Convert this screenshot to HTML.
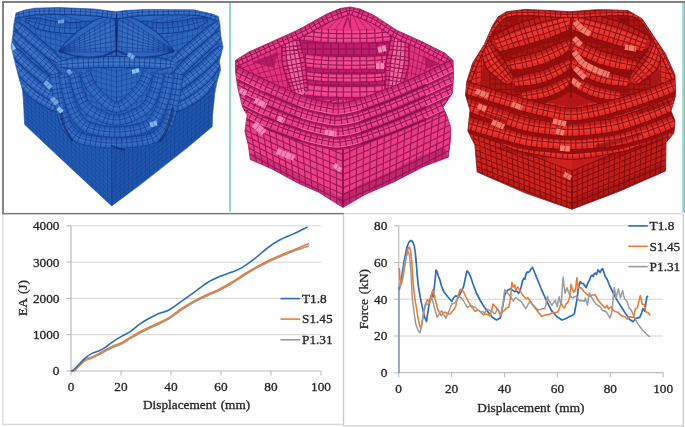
<!DOCTYPE html>
<html><head><meta charset="utf-8"><title>Figure</title>
<style>
html,body{margin:0;padding:0;background:#fff;}
body{width:685px;height:427px;overflow:hidden;}
svg{display:block;font-family:"Liberation Serif",serif;}
</style></head><body>
<svg width="685" height="427" viewBox="0 0 685 427">
<defs>
<filter id="soft" x="-5%" y="-5%" width="110%" height="110%"><feGaussianBlur stdDeviation="0.6"/></filter>
<filter id="softc" x="-2%" y="-2%" width="104%" height="104%"><feGaussianBlur stdDeviation="0.4"/></filter>
</defs>
<clipPath id="cb"><polygon points="16.0,13.0 25.0,10.0 35.0,8.2 58.5,7.5 93.7,9.0 110.0,11.0 116.4,11.7 125.0,10.5 146.8,9.4 193.7,9.8 212.4,14.0 218.3,16.4 220.0,25.0 220.6,35.0 223.0,47.0 219.4,61.0 220.6,70.0 217.0,82.0 214.8,93.7 212.5,115.0 212.2,126.7 187.0,148.0 140.0,185.0 111.7,205.9 82.0,178.4 46.8,145.6 24.6,124.5 23.4,100.0 22.5,90.0 18.7,77.0 15.2,63.0 11.2,47.0 12.9,35.0 14.0,23.4"/></clipPath>
<g clip-path="url(#cb)" filter="url(#soft)">
<polygon points="16.0,13.0 25.0,10.0 35.0,8.2 58.5,7.5 93.7,9.0 110.0,11.0 116.4,11.7 125.0,10.5 146.8,9.4 193.7,9.8 212.4,14.0 218.3,16.4 220.0,25.0 220.6,35.0 223.0,47.0 219.4,61.0 220.6,70.0 217.0,82.0 214.8,93.7 212.5,115.0 212.2,126.7 187.0,148.0 140.0,185.0 111.7,205.9 82.0,178.4 46.8,145.6 24.6,124.5 23.4,100.0 22.5,90.0 18.7,77.0 15.2,63.0 11.2,47.0 12.9,35.0 14.0,23.4" fill="#2d66bc"/>
<path d="M5.0 0.0L5.0 130.0M10.1 1.4L10.1 131.4M15.1 2.7L15.1 132.7M20.2 4.1L20.2 134.1M25.3 5.5L25.3 135.5M30.3 6.8L30.3 136.8M35.4 8.2L35.4 138.2M40.5 9.5L40.5 139.5M45.5 10.9L45.5 140.9M50.6 12.3L50.6 142.3M55.7 13.6L55.7 143.6M60.8 15.0L60.8 145.0M65.8 16.4L65.8 146.4M70.9 17.7L70.9 147.7M76.0 19.1L76.0 149.1M81.0 20.5L81.0 150.5M86.1 21.8L86.1 151.8M91.2 23.2L91.2 153.2M96.2 24.5L96.2 154.5M101.3 25.9L101.3 155.9M106.4 27.3L106.4 157.3M111.4 28.6L111.4 158.6M116.5 30.0L116.5 160.0M5.0 0.0L116.5 30.0M5.0 5.2L116.5 35.2M5.0 10.4L116.5 40.4M5.0 15.6L116.5 45.6M5.0 20.8L116.5 50.8M5.0 26.0L116.5 56.0M5.0 31.2L116.5 61.2M5.0 36.4L116.5 66.4M5.0 41.6L116.5 71.6M5.0 46.8L116.5 76.8M5.0 52.0L116.5 82.0M5.0 57.2L116.5 87.2M5.0 62.4L116.5 92.4M5.0 67.6L116.5 97.6M5.0 72.8L116.5 102.8M5.0 78.0L116.5 108.0M5.0 83.2L116.5 113.2M5.0 88.4L116.5 118.4M5.0 93.6L116.5 123.6M5.0 98.8L116.5 128.8M5.0 104.0L116.5 134.0M5.0 109.2L116.5 139.2M5.0 114.4L116.5 144.4M5.0 119.6L116.5 149.6M5.0 124.8L116.5 154.8M5.0 130.0L116.5 160.0" fill="none" stroke="#0c2f86" stroke-width="0.8" opacity="0.4"/>
<path d="M116.5 30.0L116.5 160.0M121.6 28.6L121.6 158.6M126.6 27.3L126.6 157.3M131.7 25.9L131.7 155.9M136.8 24.5L136.8 154.5M141.8 23.2L141.8 153.2M146.9 21.8L146.9 151.8M152.0 20.5L152.0 150.5M157.0 19.1L157.0 149.1M162.1 17.7L162.1 147.7M167.2 16.4L167.2 146.4M172.2 15.0L172.2 145.0M177.3 13.6L177.3 143.6M182.4 12.3L182.4 142.3M187.5 10.9L187.5 140.9M192.5 9.5L192.5 139.5M197.6 8.2L197.6 138.2M202.7 6.8L202.7 136.8M207.7 5.5L207.7 135.5M212.8 4.1L212.8 134.1M217.9 2.7L217.9 132.7M222.9 1.4L222.9 131.4M228.0 0.0L228.0 130.0M116.5 30.0L228.0 0.0M116.5 35.2L228.0 5.2M116.5 40.4L228.0 10.4M116.5 45.6L228.0 15.6M116.5 50.8L228.0 20.8M116.5 56.0L228.0 26.0M116.5 61.2L228.0 31.2M116.5 66.4L228.0 36.4M116.5 71.6L228.0 41.6M116.5 76.8L228.0 46.8M116.5 82.0L228.0 52.0M116.5 87.2L228.0 57.2M116.5 92.4L228.0 62.4M116.5 97.6L228.0 67.6M116.5 102.8L228.0 72.8M116.5 108.0L228.0 78.0M116.5 113.2L228.0 83.2M116.5 118.4L228.0 88.4M116.5 123.6L228.0 93.6M116.5 128.8L228.0 98.8M116.5 134.0L228.0 104.0M116.5 139.2L228.0 109.2M116.5 144.4L228.0 114.4M116.5 149.6L228.0 119.6M116.5 154.8L228.0 124.8M116.5 160.0L228.0 130.0" fill="none" stroke="#0c2f86" stroke-width="0.8" opacity="0.4"/>
<polygon points="21.0,86.0 24.6,124.5 111.7,205.9 111.7,143.0" fill="#235cb2"/>
<polygon points="111.7,143.0 111.7,205.9 212.2,126.7 215.0,86.0" fill="#1f57ab"/>
<path d="M22.0 68.0L24.6 124.5M26.1 71.7L28.6 128.2M30.2 75.5L32.5 131.9M34.2 79.2L36.5 135.6M38.3 82.9L40.4 139.3M42.4 86.6L44.4 143.0M46.5 90.4L48.4 146.7M50.5 94.1L52.3 150.4M54.6 97.8L56.3 154.1M58.7 101.5L60.2 157.8M62.8 105.3L64.2 161.5M66.8 109.0L68.2 165.2M70.9 112.7L72.1 168.9M75.0 116.5L76.1 172.6M79.1 120.2L80.0 176.3M83.2 123.9L84.0 180.0M87.2 127.6L87.9 183.7M91.3 131.4L91.9 187.4M95.4 135.1L95.9 191.1M99.5 138.8L99.8 194.8M103.5 142.5L103.8 198.5M107.6 146.3L107.7 202.2M111.7 150.0L111.7 205.9M22.0 68.0L111.7 150.0M22.2 72.3L111.7 154.3M22.4 76.7L111.7 158.6M22.6 81.0L111.7 162.9M22.8 85.4L111.7 167.2M23.0 89.7L111.7 171.5M23.2 94.1L111.7 175.8M23.4 98.4L111.7 180.1M23.6 102.8L111.7 184.4M23.8 107.1L111.7 188.7M24.0 111.5L111.7 193.0M24.2 115.8L111.7 197.3M24.4 120.2L111.7 201.6M24.6 124.5L111.7 205.9" fill="none" stroke="#0c2f86" stroke-width="0.8" opacity="0.36"/>
<path d="M111.7 150.0L111.7 205.9M116.0 146.5L115.9 202.6M120.2 143.0L120.1 199.3M124.5 139.5L124.3 196.0M128.8 136.0L128.4 192.7M133.0 132.5L132.6 189.4M137.3 129.0L136.8 186.1M141.5 125.5L141.0 182.8M145.8 122.0L145.2 179.5M150.1 118.5L149.4 176.2M154.3 115.0L153.6 172.9M158.6 111.5L157.8 169.6M162.8 108.0L161.9 166.3M167.1 104.5L166.1 163.0M171.4 101.0L170.3 159.7M175.6 97.5L174.5 156.4M179.9 94.0L178.7 153.1M184.2 90.5L182.9 149.8M188.4 87.0L187.1 146.5M192.7 83.5L191.3 143.2M196.9 80.0L195.4 139.9M201.2 76.5L199.6 136.6M205.5 73.0L203.8 133.3M209.7 69.5L208.0 130.0M214.0 66.0L212.2 126.7M111.7 150.0L214.0 66.0M111.7 154.3L213.9 70.7M111.7 158.6L213.7 75.3M111.7 162.9L213.6 80.0M111.7 167.2L213.4 84.7M111.7 171.5L213.3 89.3M111.7 175.8L213.2 94.0M111.7 180.1L213.0 98.7M111.7 184.4L212.9 103.4M111.7 188.7L212.8 108.0M111.7 193.0L212.6 112.7M111.7 197.3L212.5 117.4M111.7 201.6L212.3 122.0M111.7 205.9L212.2 126.7" fill="none" stroke="#0c2f86" stroke-width="0.8" opacity="0.4"/>
<polygon points="17.8,82.1 18.4,82.9 19.0,83.9 19.8,85.1 20.7,86.4 21.7,87.9 22.8,89.5 23.9,91.1 25.1,92.6 26.6,94.1 28.0,95.4 29.4,96.7 30.9,97.9 32.4,99.1 33.9,100.2 35.5,101.3 37.1,102.3 38.6,103.3 40.2,104.2 41.7,105.1 43.3,105.9 44.7,106.8 46.2,107.6 47.6,108.4 49.4,109.4 51.2,110.3 53.3,110.9 55.3,111.5 57.1,112.1 58.9,112.6 60.4,113.0 61.7,113.4 62.7,113.7 65.3,108.3 64.4,107.7 63.3,106.9 62.0,106.0 60.6,105.0 59.0,103.9 57.4,102.7 55.8,101.5 54.1,100.5 52.4,99.6 51.1,98.9 49.6,98.1 48.2,97.2 46.7,96.4 45.3,95.6 43.9,94.7 42.4,93.8 41.0,92.9 39.7,92.0 38.4,91.1 37.1,90.1 36.0,89.2 34.8,88.1 33.5,86.9 32.2,85.6 30.7,84.4 29.2,83.3 27.8,82.2 26.4,81.1 25.1,80.2 24.0,79.3 23.0,78.5 22.2,77.9" fill="#2d66bc" stroke="#153f98" stroke-width="1.1" stroke-linejoin="round"/>
<polyline points="21.5,81.6 22.5,82.6 23.6,83.8 24.7,85.0 26.0,86.4 27.3,87.7 28.7,89.1 30.0,90.5 31.4,91.7 32.7,92.9 34.0,94.0 35.4,95.1 36.8,96.1 38.3,97.1 39.8,98.1 41.3,99.0 42.7,99.9 44.2,100.8 45.7,101.6 47.2,102.4 48.6,103.2 50.0,104.0 51.7,104.9 53.5,105.9 55.3,106.8 57.1,107.7 58.8,108.5 60.4,109.3 61.9,110.0" fill="none" stroke="#4c82d0" stroke-width="5.0" stroke-linecap="round" opacity="0.55"/>
<polyline points="23.1,78.4 23.9,79.3 24.9,80.4 26.0,81.5 27.1,82.8 28.4,84.1 29.7,85.4 31.0,86.8 32.3,88.1 33.6,89.3 34.9,90.4 36.1,91.4 37.4,92.4 38.7,93.4 40.1,94.3 41.5,95.3 43.0,96.2 44.4,97.0 45.9,97.9 47.4,98.7 48.8,99.5 50.2,100.3 51.6,101.1 53.3,102.0 55.0,103.0 56.8,103.9 58.6,104.7 60.3,105.6 61.9,106.3 63.3,107.0 64.5,107.6" fill="none" stroke="#153f98" stroke-width="3.4" opacity="0.25"/>
<path d="M19.8 85.1L25.1 80.2M22.8 89.5L29.2 83.3M26.6 94.1L33.5 86.9M30.9 97.9L37.1 90.1M35.5 101.3L41.0 92.9M40.2 104.2L45.3 95.6M44.7 106.8L49.6 98.1M49.4 109.4L54.1 100.5M53.3 110.9L57.4 102.7M58.9 112.6L62.0 106.0M20.0 80.0L21.5 81.6L23.6 83.8L26.0 86.4L28.7 89.1L31.4 91.7L34.0 94.0L36.8 96.1L39.8 98.1L42.7 99.9L45.7 101.6L48.6 103.2L51.7 104.9L55.3 106.8L58.8 108.5L61.9 110.0L64.0 111.0L64.0 111.0" fill="none" stroke="#0c2f86" stroke-width="0.95" opacity="0.6"/>
<polygon points="210.8,77.9 210.0,78.5 209.0,79.3 207.9,80.2 206.6,81.1 205.2,82.2 203.8,83.3 202.3,84.4 200.8,85.6 199.5,86.9 198.2,88.1 197.0,89.2 195.9,90.1 194.6,91.1 193.3,92.0 192.0,92.9 190.6,93.8 189.1,94.7 187.7,95.6 186.3,96.4 184.8,97.2 183.4,98.1 181.9,98.9 180.6,99.6 178.9,100.5 177.2,101.5 175.6,102.7 174.0,103.9 172.4,105.0 171.0,106.0 169.7,106.9 168.6,107.7 167.7,108.3 170.3,113.7 171.3,113.4 172.6,113.0 174.1,112.6 175.9,112.1 177.7,111.5 179.7,110.9 181.8,110.3 183.6,109.4 185.4,108.4 186.8,107.6 188.3,106.8 189.7,105.9 191.3,105.1 192.8,104.2 194.4,103.3 195.9,102.3 197.5,101.3 199.1,100.2 200.6,99.1 202.1,97.9 203.6,96.7 205.0,95.4 206.4,94.1 207.9,92.6 209.1,91.1 210.2,89.5 211.3,87.9 212.3,86.4 213.2,85.1 214.0,83.9 214.6,82.9 215.2,82.1" fill="#2d66bc" stroke="#153f98" stroke-width="1.1" stroke-linejoin="round"/>
<polyline points="211.5,81.6 210.5,82.6 209.4,83.8 208.3,85.0 207.0,86.4 205.7,87.7 204.3,89.1 203.0,90.5 201.6,91.7 200.3,92.9 199.0,94.0 197.6,95.1 196.2,96.1 194.7,97.1 193.2,98.1 191.7,99.0 190.3,99.9 188.8,100.8 187.3,101.6 185.8,102.4 184.4,103.2 183.0,104.0 181.3,104.9 179.5,105.9 177.7,106.8 175.9,107.7 174.2,108.5 172.6,109.3 171.1,110.0" fill="none" stroke="#4c82d0" stroke-width="5.0" stroke-linecap="round" opacity="0.55"/>
<polyline points="209.9,78.4 209.1,79.3 208.1,80.4 207.0,81.5 205.9,82.8 204.6,84.1 203.3,85.4 202.0,86.8 200.7,88.1 199.4,89.3 198.1,90.4 196.9,91.4 195.6,92.4 194.3,93.4 192.9,94.3 191.5,95.3 190.0,96.2 188.6,97.0 187.1,97.9 185.6,98.7 184.2,99.5 182.8,100.3 181.4,101.1 179.7,102.0 178.0,103.0 176.2,103.9 174.4,104.7 172.7,105.6 171.1,106.3 169.7,107.0 168.5,107.6" fill="none" stroke="#153f98" stroke-width="3.4" opacity="0.25"/>
<path d="M207.9 80.2L213.2 85.1M203.8 83.3L210.2 89.5M199.5 86.9L206.4 94.1M195.9 90.1L202.1 97.9M192.0 92.9L197.5 101.3M187.7 95.6L192.8 104.2M183.4 98.1L188.3 106.8M178.9 100.5L183.6 109.4M175.6 102.7L179.7 110.9M171.0 106.0L174.1 112.6M213.0 80.0L211.5 81.6L209.4 83.8L207.0 86.4L204.3 89.1L201.6 91.7L199.0 94.0L196.2 96.1L193.2 98.1L190.3 99.9L187.3 101.6L184.4 103.2L181.3 104.9L177.7 106.8L174.2 108.5L171.1 110.0L169.0 111.0L169.0 111.0" fill="none" stroke="#0c2f86" stroke-width="0.95" opacity="0.6"/>
<polygon points="12.8,66.0 13.3,66.8 14.0,67.9 14.7,69.1 15.6,70.4 16.5,71.9 17.5,73.5 18.6,75.2 19.8,76.8 21.2,78.3 22.6,79.7 24.0,81.1 25.3,82.5 26.6,83.7 28.0,84.9 29.4,86.1 30.8,87.2 32.2,88.3 33.6,89.4 35.0,90.5 36.4,91.5 37.8,92.5 39.1,93.4 40.5,94.4 41.9,95.3 43.3,96.2 44.9,97.2 46.6,98.2 48.3,99.3 50.2,100.1 52.0,100.7 53.8,101.4 55.5,101.9 57.1,102.5 58.5,102.9 59.6,103.3 60.6,103.6 63.4,98.4 62.7,97.8 61.6,97.0 60.5,96.1 59.2,95.1 57.8,94.0 56.3,92.9 54.8,91.7 53.3,90.6 51.7,89.6 50.2,88.7 48.7,87.8 47.4,87.0 46.1,86.1 44.8,85.2 43.5,84.3 42.2,83.4 40.9,82.4 39.6,81.5 38.3,80.5 37.1,79.5 35.8,78.4 34.6,77.4 33.4,76.3 32.2,75.2 31.0,74.1 29.8,72.8 28.5,71.4 27.1,70.0 25.7,68.7 24.2,67.6 22.7,66.4 21.4,65.3 20.1,64.3 19.0,63.4 18.0,62.6 17.2,62.0" fill="#2d66bc" stroke="#153f98" stroke-width="1.1" stroke-linejoin="round"/>
<polyline points="16.5,65.6 17.4,66.7 18.5,67.9 19.6,69.2 20.9,70.5 22.1,72.0 23.5,73.4 24.8,74.8 26.2,76.3 27.5,77.6 28.8,78.9 30.0,80.0 31.3,81.1 32.6,82.3 33.9,83.4 35.3,84.4 36.6,85.4 37.9,86.4 39.3,87.4 40.6,88.4 42.0,89.3 43.3,90.2 44.7,91.1 46.0,92.0 47.5,93.0 49.1,93.9 50.8,94.9 52.5,95.9 54.2,96.8 55.8,97.7 57.4,98.5 58.8,99.3 60.1,100.0" fill="none" stroke="#4c82d0" stroke-width="5.0" stroke-linecap="round" opacity="0.55"/>
<polyline points="18.1,62.5 18.9,63.4 19.9,64.5 20.9,65.7 22.1,67.0 23.3,68.3 24.6,69.7 25.9,71.2 27.2,72.6 28.5,74.0 29.8,75.3 31.1,76.5 32.2,77.6 33.5,78.7 34.7,79.7 36.0,80.8 37.3,81.8 38.6,82.8 39.9,83.8 41.2,84.7 42.5,85.7 43.8,86.6 45.2,87.5 46.5,88.4 47.8,89.2 49.3,90.2 50.8,91.1 52.4,92.1 54.1,93.0 55.8,93.9 57.4,94.8 58.9,95.6 60.3,96.4 61.6,97.0 62.7,97.6" fill="none" stroke="#153f98" stroke-width="3.4" opacity="0.25"/>
<path d="M14.7 69.1L20.1 64.3M17.5 73.5L24.2 67.6M21.2 78.3L28.5 71.4M25.3 82.5L32.2 75.2M29.4 86.1L35.8 78.4M33.6 89.4L39.6 81.5M37.8 92.5L43.5 84.3M41.9 95.3L47.4 87.0M46.6 98.2L51.7 89.6M52.0 100.7L56.3 92.9M57.1 102.5L60.5 96.1M15.0 64.0L16.5 65.6L18.5 67.9L20.9 70.5L23.5 73.4L26.2 76.3L28.8 78.9L31.3 81.1L33.9 83.4L36.6 85.4L39.3 87.4L42.0 89.3L44.7 91.1L47.5 93.0L50.8 94.9L54.2 96.8L57.4 98.5L60.1 100.0L62.0 101.0L62.0 101.0" fill="none" stroke="#0c2f86" stroke-width="0.95" opacity="0.6"/>
<polygon points="215.8,62.0 215.0,62.6 214.0,63.4 212.9,64.3 211.6,65.3 210.3,66.4 208.8,67.6 207.3,68.7 205.9,70.0 204.5,71.4 203.2,72.8 202.0,74.1 200.8,75.2 199.6,76.3 198.4,77.4 197.2,78.4 195.9,79.5 194.7,80.5 193.4,81.5 192.1,82.4 190.8,83.4 189.5,84.3 188.2,85.2 186.9,86.1 185.6,87.0 184.3,87.8 182.8,88.7 181.3,89.6 179.7,90.6 178.2,91.7 176.7,92.9 175.2,94.0 173.8,95.1 172.5,96.1 171.4,97.0 170.3,97.8 169.6,98.4 172.4,103.6 173.4,103.3 174.5,102.9 175.9,102.5 177.5,101.9 179.2,101.4 181.0,100.7 182.8,100.1 184.7,99.3 186.4,98.2 188.1,97.2 189.7,96.2 191.1,95.3 192.5,94.4 193.9,93.4 195.2,92.5 196.6,91.5 198.0,90.5 199.4,89.4 200.8,88.3 202.2,87.2 203.6,86.1 205.0,84.9 206.4,83.7 207.7,82.5 209.0,81.1 210.4,79.7 211.8,78.3 213.2,76.8 214.4,75.2 215.5,73.5 216.5,71.9 217.4,70.4 218.3,69.1 219.0,67.9 219.7,66.8 220.2,66.0" fill="#2d66bc" stroke="#153f98" stroke-width="1.1" stroke-linejoin="round"/>
<polyline points="216.5,65.6 215.6,66.7 214.5,67.9 213.4,69.2 212.1,70.5 210.9,72.0 209.5,73.4 208.2,74.8 206.8,76.3 205.5,77.6 204.2,78.9 203.0,80.0 201.7,81.1 200.4,82.3 199.1,83.4 197.7,84.4 196.4,85.4 195.1,86.4 193.7,87.4 192.4,88.4 191.0,89.3 189.7,90.2 188.3,91.1 187.0,92.0 185.5,93.0 183.9,93.9 182.2,94.9 180.5,95.9 178.8,96.8 177.2,97.7 175.6,98.5 174.2,99.3 172.9,100.0" fill="none" stroke="#4c82d0" stroke-width="5.0" stroke-linecap="round" opacity="0.55"/>
<polyline points="214.9,62.5 214.1,63.4 213.1,64.5 212.1,65.7 210.9,67.0 209.7,68.3 208.4,69.7 207.1,71.2 205.8,72.6 204.5,74.0 203.2,75.3 201.9,76.5 200.8,77.6 199.5,78.7 198.3,79.7 197.0,80.8 195.7,81.8 194.4,82.8 193.1,83.8 191.8,84.7 190.5,85.7 189.2,86.6 187.8,87.5 186.5,88.4 185.2,89.2 183.7,90.2 182.2,91.1 180.6,92.1 178.9,93.0 177.2,93.9 175.6,94.8 174.1,95.6 172.7,96.4 171.4,97.0 170.3,97.6" fill="none" stroke="#153f98" stroke-width="3.4" opacity="0.25"/>
<path d="M212.9 64.3L218.3 69.1M208.8 67.6L215.5 73.5M204.5 71.4L211.8 78.3M200.8 75.2L207.7 82.5M197.2 78.4L203.6 86.1M193.4 81.5L199.4 89.4M189.5 84.3L195.2 92.5M185.6 87.0L191.1 95.3M181.3 89.6L186.4 98.2M176.7 92.9L181.0 100.7M172.5 96.1L175.9 102.5M218.0 64.0L216.5 65.6L214.5 67.9L212.1 70.5L209.5 73.4L206.8 76.3L204.2 78.9L201.7 81.1L199.1 83.4L196.4 85.4L193.7 87.4L191.0 89.3L188.3 91.1L185.5 93.0L182.2 94.9L178.8 96.8L175.6 98.5L172.9 100.0L171.0 101.0L171.0 101.0" fill="none" stroke="#0c2f86" stroke-width="0.95" opacity="0.6"/>
<polygon points="8.9,50.1 9.4,50.9 10.0,51.8 10.8,52.9 11.6,54.1 12.6,55.5 13.6,56.9 14.6,58.4 15.7,59.9 17.0,61.3 18.4,62.7 19.7,64.0 21.1,65.3 22.4,66.5 23.6,67.7 25.0,68.9 26.3,70.1 27.6,71.2 29.0,72.4 30.3,73.5 31.7,74.6 33.0,75.7 34.4,76.8 35.7,77.8 37.0,78.9 38.3,79.9 39.6,80.9 40.9,81.9 42.4,83.1 43.9,84.2 45.4,85.4 47.0,86.6 48.7,87.6 50.4,88.4 52.1,89.3 53.6,90.1 55.0,90.8 56.3,91.4 57.3,92.0 58.2,92.4 61.8,87.6 61.1,86.9 60.3,86.0 59.3,85.0 58.2,83.9 57.0,82.6 55.7,81.3 54.4,79.9 53.0,78.6 51.5,77.4 49.9,76.3 48.5,75.2 47.1,74.1 45.8,73.1 44.5,72.0 43.2,71.0 41.9,70.0 40.6,68.9 39.3,67.9 38.0,66.8 36.7,65.8 35.4,64.7 34.1,63.6 32.9,62.5 31.6,61.4 30.4,60.3 29.2,59.2 28.0,58.1 26.7,56.8 25.4,55.6 24.1,54.2 22.8,53.0 21.3,51.9 19.8,50.8 18.4,49.8 17.1,48.8 15.9,47.9 14.8,47.1 13.9,46.4 13.1,45.9" fill="#2d66bc" stroke="#153f98" stroke-width="1.1" stroke-linejoin="round"/>
<polyline points="12.4,49.5 13.4,50.4 14.4,51.5 15.5,52.6 16.7,53.8 17.9,55.1 19.2,56.4 20.6,57.8 21.9,59.1 23.2,60.4 24.5,61.7 25.8,62.9 27.0,64.0 28.3,65.1 29.6,66.3 30.9,67.4 32.2,68.5 33.5,69.6 34.8,70.7 36.2,71.8 37.5,72.9 38.8,73.9 40.1,74.9 41.4,76.0 42.7,77.0 44.0,78.0 45.4,79.1 46.9,80.3 48.4,81.4 50.0,82.6 51.5,83.7 53.1,84.9 54.5,86.0 55.9,87.0 57.1,87.9 58.3,88.7" fill="none" stroke="#4c82d0" stroke-width="5.0" stroke-linecap="round" opacity="0.55"/>
<polyline points="14.0,46.3 14.8,47.2 15.7,48.1 16.7,49.2 17.9,50.3 19.0,51.5 20.3,52.8 21.6,54.1 22.9,55.4 24.2,56.8 25.5,58.1 26.8,59.3 28.0,60.5 29.2,61.6 30.5,62.7 31.7,63.8 33.0,64.9 34.3,66.0 35.6,67.1 36.9,68.2 38.2,69.2 39.6,70.3 40.9,71.3 42.2,72.4 43.5,73.4 44.8,74.4 46.0,75.4 47.4,76.5 48.9,77.6 50.4,78.8 52.0,80.0 53.5,81.1 55.0,82.2 56.5,83.3 57.8,84.3 59.1,85.2 60.2,86.1 61.2,86.8" fill="none" stroke="#153f98" stroke-width="3.4" opacity="0.25"/>
<path d="M10.8 52.9L15.9 47.9M14.6 58.4L21.3 51.9M17.0 61.3L24.1 54.2M21.1 65.3L28.0 58.1M25.0 68.9L31.6 61.4M29.0 72.4L35.4 64.7M33.0 75.7L39.3 67.9M37.0 78.9L43.2 71.0M42.4 83.1L48.5 75.2M45.4 85.4L51.5 77.4M50.4 88.4L55.7 81.3M55.0 90.8L59.3 85.0M11.0 48.0L12.4 49.5L14.4 51.5L16.7 53.8L19.2 56.4L21.9 59.1L24.5 61.7L27.0 64.0L29.6 66.3L32.2 68.5L34.8 70.7L37.5 72.9L40.1 74.9L42.7 77.0L45.4 79.1L48.4 81.4L51.5 83.7L54.5 86.0L57.1 87.9L59.2 89.4L60.0 90.0" fill="none" stroke="#0c2f86" stroke-width="0.95" opacity="0.6"/>
<polygon points="219.9,45.9 219.1,46.4 218.2,47.1 217.1,47.9 215.9,48.8 214.6,49.8 213.2,50.8 211.7,51.9 210.2,53.0 208.9,54.2 207.6,55.6 206.3,56.8 205.0,58.1 203.8,59.2 202.6,60.3 201.4,61.4 200.1,62.5 198.9,63.6 197.6,64.7 196.3,65.8 195.0,66.8 193.7,67.9 192.4,68.9 191.1,70.0 189.8,71.0 188.5,72.0 187.2,73.1 185.9,74.1 184.5,75.2 183.1,76.3 181.5,77.4 180.0,78.6 178.6,79.9 177.3,81.3 176.0,82.6 174.8,83.9 173.7,85.0 172.7,86.0 171.9,86.9 171.2,87.6 174.8,92.4 175.7,92.0 176.7,91.4 178.0,90.8 179.4,90.1 180.9,89.3 182.6,88.4 184.3,87.6 186.0,86.6 187.6,85.4 189.1,84.2 190.6,83.1 192.1,81.9 193.4,80.9 194.7,79.9 196.0,78.9 197.3,77.8 198.6,76.8 200.0,75.7 201.3,74.6 202.7,73.5 204.0,72.4 205.4,71.2 206.7,70.1 208.0,68.9 209.4,67.7 210.6,66.5 211.9,65.3 213.3,64.0 214.6,62.7 216.0,61.3 217.3,59.9 218.4,58.4 219.4,56.9 220.4,55.5 221.4,54.1 222.2,52.9 223.0,51.8 223.6,50.9 224.1,50.1" fill="#2d66bc" stroke="#153f98" stroke-width="1.1" stroke-linejoin="round"/>
<polyline points="220.6,49.5 219.6,50.4 218.6,51.5 217.5,52.6 216.3,53.8 215.1,55.1 213.8,56.4 212.4,57.8 211.1,59.1 209.8,60.4 208.5,61.7 207.2,62.9 206.0,64.0 204.7,65.1 203.4,66.3 202.1,67.4 200.8,68.5 199.5,69.6 198.2,70.7 196.8,71.8 195.5,72.9 194.2,73.9 192.9,74.9 191.6,76.0 190.3,77.0 189.0,78.0 187.6,79.1 186.1,80.3 184.6,81.4 183.0,82.6 181.5,83.7 179.9,84.9 178.5,86.0 177.1,87.0 175.9,87.9 174.7,88.7" fill="none" stroke="#4c82d0" stroke-width="5.0" stroke-linecap="round" opacity="0.55"/>
<polyline points="219.0,46.3 218.2,47.2 217.3,48.1 216.3,49.2 215.1,50.3 214.0,51.5 212.7,52.8 211.4,54.1 210.1,55.4 208.8,56.8 207.5,58.1 206.2,59.3 205.0,60.5 203.8,61.6 202.5,62.7 201.3,63.8 200.0,64.9 198.7,66.0 197.4,67.1 196.1,68.2 194.8,69.2 193.4,70.3 192.1,71.3 190.8,72.4 189.5,73.4 188.2,74.4 187.0,75.4 185.6,76.5 184.1,77.6 182.6,78.8 181.0,80.0 179.5,81.1 178.0,82.2 176.5,83.3 175.2,84.3 173.9,85.2 172.8,86.1 171.8,86.8" fill="none" stroke="#153f98" stroke-width="3.4" opacity="0.25"/>
<path d="M217.1 47.9L222.2 52.9M211.7 51.9L218.4 58.4M208.9 54.2L216.0 61.3M205.0 58.1L211.9 65.3M201.4 61.4L208.0 68.9M197.6 64.7L204.0 72.4M193.7 67.9L200.0 75.7M189.8 71.0L196.0 78.9M184.5 75.2L190.6 83.1M181.5 77.4L187.6 85.4M177.3 81.3L182.6 88.4M173.7 85.0L178.0 90.8M222.0 48.0L220.6 49.5L218.6 51.5L216.3 53.8L213.8 56.4L211.1 59.1L208.5 61.7L206.0 64.0L203.4 66.3L200.8 68.5L198.2 70.7L195.5 72.9L192.9 74.9L190.3 77.0L187.6 79.1L184.6 81.4L181.5 83.7L178.5 86.0L175.9 87.9L173.8 89.4L173.0 90.0" fill="none" stroke="#0c2f86" stroke-width="0.95" opacity="0.6"/>
<polygon points="10.0,35.2 10.6,36.0 11.3,36.8 12.1,37.9 13.1,39.0 14.1,40.2 15.1,41.5 16.3,42.9 17.4,44.4 18.8,45.6 20.2,46.9 21.5,48.1 22.9,49.3 24.2,50.5 25.5,51.6 26.6,52.7 27.9,53.9 29.2,55.1 30.5,56.2 31.7,57.4 33.0,58.5 34.2,59.7 35.4,60.8 36.7,62.0 37.8,63.1 39.0,64.2 40.2,65.4 41.4,66.5 42.5,67.6 43.8,68.8 45.1,70.1 46.4,71.4 47.8,72.8 49.3,74.0 50.9,75.1 52.3,76.1 53.7,77.1 55.0,78.0 56.1,78.8 57.1,79.6 57.9,80.1 62.1,75.9 61.6,75.1 60.9,74.1 60.1,73.0 59.2,71.7 58.2,70.3 57.1,68.8 56.0,67.3 54.9,65.7 53.5,64.4 52.1,63.0 50.8,61.7 49.5,60.4 48.3,59.3 47.1,58.1 45.9,57.0 44.7,55.9 43.5,54.7 42.3,53.6 41.0,52.4 39.8,51.2 38.5,50.1 37.3,48.9 36.0,47.7 34.7,46.5 33.4,45.3 32.2,44.2 30.9,43.1 29.6,41.9 28.2,40.7 26.8,39.4 25.4,38.2 24.0,37.0 22.4,36.0 20.9,35.0 19.4,34.1 18.1,33.3 16.8,32.5 15.7,31.8 14.8,31.2 14.0,30.8" fill="#2d66bc" stroke="#153f98" stroke-width="1.1" stroke-linejoin="round"/>
<polyline points="13.5,34.3 14.5,35.2 15.6,36.1 16.7,37.2 18.0,38.3 19.3,39.5 20.7,40.7 22.1,41.9 23.5,43.1 24.9,44.4 26.2,45.6 27.6,46.8 28.8,47.9 30.0,49.0 31.3,50.2 32.6,51.4 33.9,52.6 35.1,53.7 36.4,54.9 37.6,56.0 38.9,57.2 40.1,58.3 41.3,59.5 42.5,60.6 43.7,61.8 44.8,62.9 46.0,64.0 47.3,65.2 48.6,66.6 50.0,67.9 51.3,69.3 52.7,70.6 54.0,71.9 55.3,73.2 56.4,74.4 57.5,75.5 58.5,76.5" fill="none" stroke="#4c82d0" stroke-width="5.0" stroke-linecap="round" opacity="0.55"/>
<polyline points="14.9,31.1 15.7,31.9 16.7,32.7 17.7,33.7 18.9,34.7 20.2,35.8 21.5,37.0 22.9,38.2 24.3,39.4 25.7,40.7 27.1,41.9 28.4,43.1 29.8,44.3 31.0,45.5 32.2,46.6 33.5,47.8 34.8,48.9 36.1,50.1 37.4,51.3 38.6,52.5 39.9,53.6 41.1,54.8 42.3,55.9 43.6,57.1 44.8,58.2 46.0,59.4 47.1,60.5 48.3,61.6 49.6,62.9 50.9,64.2 52.3,65.6 53.7,66.9 55.0,68.3 56.3,69.6 57.6,70.9 58.8,72.1 59.9,73.2 60.8,74.2 61.7,75.0" fill="none" stroke="#153f98" stroke-width="3.4" opacity="0.25"/>
<path d="M12.1 37.9L16.8 32.5M16.3 42.9L22.4 36.0M20.2 46.9L26.8 39.4M22.9 49.3L29.6 41.9M26.6 52.7L33.4 45.3M30.5 56.2L37.3 48.9M34.2 59.7L41.0 52.4M39.0 64.2L45.9 57.0M42.5 67.6L49.5 60.4M46.4 71.4L53.5 64.4M49.3 74.0L56.0 67.3M53.7 77.1L59.2 71.7M12.0 33.0L13.5 34.3L15.6 36.1L18.0 38.3L20.7 40.7L23.5 43.1L26.2 45.6L28.8 47.9L31.3 50.2L33.9 52.6L36.4 54.9L38.9 57.2L41.3 59.5L43.7 61.8L46.0 64.0L48.6 66.6L51.3 69.3L54.0 71.9L56.4 74.4L58.5 76.5L60.0 78.0L60.0 78.0" fill="none" stroke="#0c2f86" stroke-width="0.95" opacity="0.6"/>
<polygon points="219.0,30.8 218.2,31.2 217.3,31.8 216.2,32.5 214.9,33.3 213.6,34.1 212.1,35.0 210.6,36.0 209.0,37.0 207.6,38.2 206.2,39.4 204.8,40.7 203.4,41.9 202.1,43.1 200.8,44.2 199.6,45.3 198.3,46.5 197.0,47.7 195.7,48.9 194.5,50.1 193.2,51.2 192.0,52.4 190.7,53.6 189.5,54.7 188.3,55.9 187.1,57.0 185.9,58.1 184.7,59.3 183.5,60.4 182.2,61.7 180.9,63.0 179.5,64.4 178.1,65.7 177.0,67.3 175.9,68.8 174.8,70.3 173.8,71.7 172.9,73.0 172.1,74.1 171.4,75.1 170.9,75.9 175.1,80.1 175.9,79.6 176.9,78.8 178.0,78.0 179.3,77.1 180.7,76.1 182.1,75.1 183.7,74.0 185.2,72.8 186.6,71.4 187.9,70.1 189.2,68.8 190.5,67.6 191.6,66.5 192.8,65.4 194.0,64.2 195.2,63.1 196.3,62.0 197.6,60.8 198.8,59.7 200.0,58.5 201.3,57.4 202.5,56.2 203.8,55.1 205.1,53.9 206.4,52.7 207.5,51.6 208.8,50.5 210.1,49.3 211.5,48.1 212.8,46.9 214.2,45.6 215.6,44.4 216.7,42.9 217.9,41.5 218.9,40.2 219.9,39.0 220.9,37.9 221.7,36.8 222.4,36.0 223.0,35.2" fill="#2d66bc" stroke="#153f98" stroke-width="1.1" stroke-linejoin="round"/>
<polyline points="219.5,34.3 218.5,35.2 217.4,36.1 216.3,37.2 215.0,38.3 213.7,39.5 212.3,40.7 210.9,41.9 209.5,43.1 208.1,44.4 206.8,45.6 205.4,46.8 204.2,47.9 203.0,49.0 201.7,50.2 200.4,51.4 199.1,52.6 197.9,53.7 196.6,54.9 195.4,56.0 194.1,57.2 192.9,58.3 191.7,59.5 190.5,60.6 189.3,61.8 188.2,62.9 187.0,64.0 185.7,65.2 184.4,66.6 183.0,67.9 181.7,69.3 180.3,70.6 179.0,71.9 177.7,73.2 176.6,74.4 175.5,75.5 174.5,76.5" fill="none" stroke="#4c82d0" stroke-width="5.0" stroke-linecap="round" opacity="0.55"/>
<polyline points="218.1,31.1 217.3,31.9 216.3,32.7 215.3,33.7 214.1,34.7 212.8,35.8 211.5,37.0 210.1,38.2 208.7,39.4 207.3,40.7 205.9,41.9 204.6,43.1 203.2,44.3 202.0,45.5 200.8,46.6 199.5,47.8 198.2,48.9 196.9,50.1 195.6,51.3 194.4,52.5 193.1,53.6 191.9,54.8 190.7,55.9 189.4,57.1 188.2,58.2 187.0,59.4 185.9,60.5 184.7,61.6 183.4,62.9 182.1,64.2 180.7,65.6 179.3,66.9 178.0,68.3 176.7,69.6 175.4,70.9 174.2,72.1 173.1,73.2 172.2,74.2 171.3,75.0" fill="none" stroke="#153f98" stroke-width="3.4" opacity="0.25"/>
<path d="M216.2 32.5L220.9 37.9M210.6 36.0L216.7 42.9M206.2 39.4L212.8 46.9M203.4 41.9L210.1 49.3M199.6 45.3L206.4 52.7M195.7 48.9L202.5 56.2M192.0 52.4L198.8 59.7M187.1 57.0L194.0 64.2M183.5 60.4L190.5 67.6M179.5 64.4L186.6 71.4M177.0 67.3L183.7 74.0M173.8 71.7L179.3 77.1M221.0 33.0L219.5 34.3L217.4 36.1L215.0 38.3L212.3 40.7L209.5 43.1L206.8 45.6L204.2 47.9L201.7 50.2L199.1 52.6L196.6 54.9L194.1 57.2L191.7 59.5L189.3 61.8L187.0 64.0L184.4 66.6L181.7 69.3L179.0 71.9L176.6 74.4L174.5 76.5L173.0 78.0L173.0 78.0" fill="none" stroke="#0c2f86" stroke-width="0.95" opacity="0.6"/>
<polygon points="49.8,74.8 49.9,75.7 50.1,76.7 50.3,78.0 50.4,79.4 50.6,81.0 50.9,82.6 51.1,84.4 51.4,86.2 51.6,88.1 51.9,90.0 52.2,92.0 52.5,93.9 52.8,95.8 53.2,97.6 53.5,99.4 53.9,101.1 54.2,102.8 54.6,104.5 55.0,106.3 55.4,108.0 55.8,109.8 56.2,111.5 56.7,113.3 57.2,115.0 57.7,116.8 58.2,118.5 58.7,120.1 59.3,121.8 59.9,123.4 60.6,124.9 61.3,126.4 62.3,128.2 63.4,130.0 64.5,131.6 65.6,133.2 66.8,134.6 68.1,136.0 69.5,137.3 70.9,138.4 72.3,139.6 73.8,140.6 75.4,141.6 77.1,142.5 79.0,143.3 80.8,143.9 82.6,144.5 84.5,144.9 86.3,145.3 88.1,145.6 89.9,145.9 91.7,146.2 93.5,146.4 95.2,146.7 96.9,146.9 98.6,147.2 100.4,147.4 102.1,147.6 103.9,147.7 105.7,147.9 107.5,148.0 109.3,148.1 111.1,148.2 112.9,148.2 114.7,148.2 116.5,148.2 118.3,148.2 120.1,148.2 121.9,148.2 123.7,148.1 125.5,148.0 127.3,147.9 129.1,147.7 130.9,147.6 132.6,147.4 134.4,147.2 136.1,146.9 137.8,146.7 139.5,146.4 141.3,146.2 143.1,145.9 144.9,145.6 146.7,145.3 148.5,144.9 150.4,144.5 152.2,143.9 154.0,143.3 155.9,142.5 157.6,141.6 159.2,140.6 160.7,139.6 162.1,138.4 163.5,137.3 164.9,136.0 166.2,134.6 167.4,133.2 168.5,131.6 169.6,130.0 170.7,128.2 171.7,126.4 172.4,124.9 173.1,123.4 173.7,121.8 174.3,120.1 174.8,118.5 175.3,116.8 175.8,115.0 176.3,113.3 176.8,111.5 177.2,109.8 177.6,108.0 178.0,106.3 178.4,104.5 178.8,102.8 179.1,101.1 179.5,99.4 179.8,97.6 180.2,95.8 180.5,93.9 180.8,92.0 181.1,90.0 181.4,88.1 181.6,86.2 181.9,84.4 182.1,82.6 182.4,81.0 182.6,79.4 182.7,78.0 182.9,76.7 183.1,75.7 183.2,74.8 172.8,73.2 172.7,74.2 172.5,75.3 172.3,76.6 172.1,78.0 171.9,79.6 171.7,81.2 171.5,83.0 171.2,84.8 171.0,86.6 170.7,88.5 170.4,90.3 170.1,92.2 169.8,94.0 169.5,95.7 169.2,97.3 168.9,98.9 168.5,100.6 168.1,102.2 167.8,103.9 167.4,105.6 167.0,107.3 166.6,109.0 166.1,110.6 165.7,112.2 165.3,113.8 164.8,115.3 164.3,116.7 163.9,118.1 163.4,119.4 162.8,120.5 162.3,121.6 161.6,123.0 160.8,124.3 160.0,125.5 159.1,126.6 158.3,127.7 157.4,128.6 156.5,129.5 155.5,130.3 154.5,131.0 153.5,131.8 152.4,132.4 151.3,133.0 150.2,133.5 149.0,133.9 147.6,134.3 146.2,134.7 144.7,135.0 143.1,135.3 141.4,135.5 139.7,135.8 138.0,136.0 136.2,136.3 134.7,136.5 133.1,136.7 131.5,136.9 129.8,137.1 128.2,137.3 126.5,137.4 124.9,137.5 123.2,137.6 121.5,137.7 119.8,137.7 118.2,137.7 116.5,137.8 114.8,137.7 113.2,137.7 111.5,137.7 109.8,137.6 108.1,137.5 106.5,137.4 104.8,137.3 103.2,137.1 101.5,136.9 99.9,136.7 98.3,136.5 96.8,136.3 95.0,136.0 93.3,135.8 91.6,135.5 89.9,135.3 88.3,135.0 86.8,134.7 85.4,134.3 84.0,133.9 82.8,133.5 81.7,133.0 80.6,132.4 79.5,131.8 78.5,131.0 77.5,130.3 76.5,129.5 75.6,128.6 74.7,127.7 73.9,126.6 73.0,125.5 72.2,124.3 71.4,123.0 70.7,121.6 70.2,120.5 69.6,119.4 69.1,118.1 68.7,116.7 68.2,115.3 67.7,113.8 67.3,112.2 66.9,110.6 66.4,109.0 66.0,107.3 65.6,105.6 65.2,103.9 64.9,102.2 64.5,100.6 64.1,98.9 63.8,97.3 63.5,95.7 63.2,94.0 62.9,92.2 62.6,90.3 62.3,88.5 62.0,86.6 61.8,84.8 61.5,83.0 61.3,81.2 61.1,79.6 60.9,78.0 60.7,76.6 60.5,75.3 60.3,74.2 60.2,73.2" fill="#2d66bc" stroke="#153f98" stroke-width="0.8" stroke-linejoin="round"/>
<polyline points="55.3,76.0 55.5,77.3 55.6,78.7 55.9,80.3 56.1,81.9 56.3,83.7 56.6,85.5 56.8,87.4 57.1,89.3 57.4,91.1 57.7,93.0 58.0,94.9 58.3,96.7 58.7,98.4 59.0,100.0 59.4,101.7 59.7,103.4 60.1,105.1 60.5,106.8 60.9,108.6 61.3,110.3 61.8,112.0 62.2,113.6 62.7,115.3 63.2,116.9 63.7,118.4 64.2,119.9 64.8,121.4 65.4,122.7 66.0,124.0 66.9,125.6 67.8,127.1 68.7,128.6 69.7,129.9 70.8,131.1 71.9,132.3 73.0,133.4 74.2,134.4 75.4,135.3 76.7,136.2 78.0,137.0 79.4,137.7 80.9,138.4 82.4,138.9 84.0,139.4 85.6,139.8 87.3,140.1 89.0,140.4 90.7,140.7 92.5,141.0 94.2,141.2 96.0,141.5 97.6,141.7 99.3,142.0 100.9,142.2 102.6,142.3 104.4,142.5 106.1,142.6 107.8,142.7 109.6,142.8 111.3,142.9 113.1,143.0 114.8,143.0 116.5,143.0 118.2,143.0 119.9,143.0 121.7,142.9 123.4,142.8 125.2,142.7 126.9,142.6 128.6,142.5 130.4,142.3 132.1,142.2 133.7,142.0 135.4,141.7 137.0,141.5 138.8,141.2 140.5,141.0 142.3,140.7 144.0,140.4 145.7,140.1 147.4,139.8 149.0,139.4 150.6,138.9 152.1,138.4 153.6,137.7 155.0,137.0 156.3,136.2 157.6,135.3 158.8,134.4 160.0,133.4 161.1,132.3 162.2,131.1 163.3,129.9 164.3,128.6 165.2,127.1 166.1,125.6 167.0,124.0 167.6,122.7 168.2,121.4 168.8,119.9 169.3,118.4 169.8,116.9 170.3,115.3 170.8,113.6 171.2,112.0 171.7,110.3 172.1,108.6 172.5,106.8 172.9,105.1 173.3,103.4 173.6,101.7 174.0,100.0 174.3,98.4 174.7,96.7 175.0,94.9 175.3,93.0 175.6,91.1 175.9,89.3 176.2,87.4 176.4,85.5 176.7,83.7 176.9,81.9 177.1,80.3 177.4,78.7 177.5,77.3 177.7,76.0" fill="none" stroke="#4c82d0" stroke-width="5.2" stroke-linecap="round" opacity="0.3"/>
<polyline points="58.6,74.4 58.7,75.6 58.9,76.8 59.1,78.3 59.3,79.8 59.5,81.5 59.7,83.2 60.0,85.0 60.3,86.9 60.5,88.7 60.8,90.6 61.1,92.5 61.4,94.3 61.7,96.0 62.1,97.7 62.4,99.3 62.8,100.9 63.1,102.6 63.5,104.3 63.9,106.0 64.3,107.7 64.7,109.4 65.1,111.1 65.6,112.7 66.0,114.3 66.5,115.8 67.0,117.3 67.5,118.7 68.0,120.0 68.5,121.3 69.1,122.4 69.9,123.9 70.7,125.3 71.6,126.6 72.5,127.7 73.4,128.8 74.3,129.8 75.3,130.8 76.3,131.7 77.4,132.5 78.6,133.3 79.7,134.0 80.9,134.6 82.1,135.2 83.5,135.6 84.9,136.0 86.4,136.4 88.0,136.7 89.6,137.0 91.3,137.3 93.0,137.6 94.8,137.8 96.5,138.1 98.1,138.3 99.7,138.5 101.3,138.7 103.0,138.9 104.7,139.0 106.3,139.2 108.0,139.3 109.7,139.4 111.4,139.4 113.1,139.5 114.8,139.5 116.5,139.5 118.2,139.5 119.9,139.5 121.6,139.4 123.3,139.4 125.0,139.3 126.7,139.2 128.3,139.0 130.0,138.9 131.7,138.7 133.3,138.5 134.9,138.3 136.5,138.1 138.2,137.8 140.0,137.6 141.7,137.3 143.4,137.0 145.0,136.7 146.6,136.4 148.1,136.0 149.5,135.6 150.9,135.2 152.1,134.6 153.3,134.0 154.4,133.3 155.6,132.5 156.7,131.7 157.7,130.8 158.7,129.8 159.6,128.8 160.5,127.7 161.4,126.6 162.3,125.3 163.1,123.9 163.9,122.4 164.5,121.3 165.0,120.0 165.5,118.7 166.0,117.3 166.5,115.8 167.0,114.3 167.4,112.7 167.9,111.1 168.3,109.4 168.7,107.7 169.1,106.0 169.5,104.3 169.9,102.6 170.2,100.9 170.6,99.3 170.9,97.7 171.3,96.0 171.6,94.3 171.9,92.5 172.2,90.6 172.5,88.7 172.7,86.9 173.0,85.0 173.3,83.2 173.5,81.5 173.7,79.8 173.9,78.3 174.1,76.8 174.3,75.6 174.4,74.4" fill="none" stroke="#153f98" stroke-width="3.6" opacity="0.18"/>
<path d="M50.3 78.0L60.7 76.6M51.1 84.4L61.5 83.0M51.9 90.0L62.3 88.5M52.5 93.9L62.9 92.2M53.5 99.4L63.8 97.3M54.6 104.5L64.9 102.2M55.8 109.8L66.0 107.3M57.2 115.0L67.3 112.2M58.7 120.1L68.7 116.7M60.6 124.9L70.2 120.5M64.5 131.6L73.0 125.5M68.1 136.0L75.6 128.6M72.3 139.6L78.5 131.0M77.1 142.5L81.7 133.0M84.5 144.9L86.8 134.7M89.9 145.9L91.6 135.5M95.2 146.7L96.8 136.3M100.4 147.4L101.5 136.9M105.7 147.9L106.5 137.4M111.1 148.2L111.5 137.7M116.5 148.2L116.5 137.8M121.9 148.2L121.5 137.7M127.3 147.9L126.5 137.4M132.6 147.4L131.5 136.9M137.8 146.7L136.2 136.3M143.1 145.9L141.4 135.5M148.5 144.9L146.2 134.7M154.0 143.3L150.2 133.5M159.2 140.6L153.5 131.8M163.5 137.3L156.5 129.5M168.5 131.6L160.0 125.5M171.7 126.4L162.3 121.6M173.7 121.8L163.9 118.1M175.3 116.8L165.3 113.8M176.8 111.5L166.6 109.0M178.0 106.3L167.8 103.9M179.1 101.1L168.9 98.9M180.2 95.8L169.8 94.0M181.1 90.0L170.7 88.5M181.9 84.4L171.5 83.0M182.6 79.4L172.1 78.0M55.0 74.0L55.3 76.0L55.6 78.7L56.1 81.9L56.6 85.5L57.1 89.3L57.7 93.0L58.3 96.7L59.0 100.0L59.7 103.4L60.5 106.8L61.3 110.3L62.2 113.6L63.2 116.9L64.2 119.9L65.4 122.7L66.9 125.6L68.7 128.6L70.8 131.1L73.0 133.4L75.4 135.3L78.0 137.0L80.9 138.4L84.0 139.4L87.3 140.1L90.7 140.7L94.2 141.2L97.6 141.7L100.9 142.2L104.4 142.5L107.8 142.7L111.3 142.9L114.8 143.0L118.2 143.0L121.7 142.9L125.2 142.7L128.6 142.5L132.1 142.2L135.4 141.7L138.8 141.2L142.3 140.7L145.7 140.1L149.0 139.4L152.1 138.4L155.0 137.0L157.6 135.3L160.0 133.4L162.2 131.1L164.3 128.6L166.1 125.6L167.6 122.7L168.8 119.9L169.8 116.9L170.8 113.6L171.7 110.3L172.5 106.8L173.3 103.4L174.0 100.0L174.7 96.7L175.3 93.0L175.9 89.3L176.4 85.5L176.9 81.9L177.4 78.7L177.7 76.0L178.0 74.0L178.0 74.0" fill="none" stroke="#0c2f86" stroke-width="0.95" opacity="0.6"/>
<polygon points="58.9,75.0 59.0,75.9 59.2,77.0 59.5,78.3 59.7,79.7 60.0,81.3 60.3,83.1 60.7,84.9 61.0,86.7 61.4,88.6 61.8,90.6 62.2,92.5 62.6,94.3 63.1,96.1 63.5,97.9 64.0,99.5 64.5,101.3 65.1,103.2 65.7,105.0 66.3,106.7 67.0,108.5 67.6,110.3 68.3,112.0 69.1,113.7 69.9,115.3 70.8,116.9 71.7,118.5 72.7,120.0 73.8,121.6 74.9,123.1 76.1,124.5 77.4,125.9 78.8,127.3 80.4,128.6 82.1,129.9 83.9,131.0 85.9,132.0 88.1,132.9 89.6,133.4 91.2,133.9 92.8,134.4 94.5,134.8 96.2,135.2 98.0,135.5 99.8,135.8 101.6,136.1 103.5,136.4 105.4,136.6 107.3,136.8 109.2,137.0 111.0,137.1 112.9,137.2 114.7,137.2 116.5,137.2 118.3,137.2 120.1,137.2 122.0,137.1 123.8,137.0 125.7,136.8 127.6,136.6 129.5,136.4 131.4,136.1 133.2,135.8 135.0,135.5 136.8,135.2 138.5,134.8 140.2,134.4 141.8,133.9 143.4,133.4 144.9,132.9 147.1,132.0 149.1,131.0 150.9,129.9 152.6,128.6 154.2,127.3 155.6,125.9 156.9,124.5 158.1,123.1 159.2,121.6 160.3,120.0 161.3,118.5 162.2,116.9 163.1,115.3 163.9,113.7 164.7,112.0 165.4,110.3 166.0,108.5 166.7,106.7 167.3,105.0 167.9,103.2 168.5,101.3 169.0,99.5 169.5,97.9 169.9,96.1 170.4,94.3 170.8,92.5 171.2,90.6 171.6,88.6 172.0,86.7 172.3,84.9 172.7,83.1 173.0,81.3 173.3,79.7 173.5,78.3 173.8,77.0 174.0,75.9 174.1,75.0 163.9,73.0 163.7,73.9 163.4,75.1 163.2,76.4 162.9,77.9 162.6,79.5 162.3,81.2 162.0,82.9 161.7,84.7 161.3,86.6 160.9,88.4 160.6,90.2 160.2,91.9 159.8,93.6 159.4,95.1 159.0,96.5 158.4,98.2 157.9,99.9 157.4,101.6 156.8,103.3 156.2,104.8 155.6,106.4 155.0,107.8 154.4,109.2 153.7,110.5 153.1,111.8 152.4,112.9 151.7,114.0 150.7,115.4 149.8,116.6 148.9,117.7 148.0,118.7 147.1,119.6 146.2,120.3 145.2,121.1 144.0,121.8 142.7,122.4 141.1,123.1 140.1,123.5 138.8,123.9 137.5,124.2 136.1,124.6 134.6,124.9 133.1,125.2 131.5,125.5 129.8,125.7 128.2,126.0 126.5,126.2 124.7,126.3 123.0,126.5 121.4,126.6 119.7,126.7 118.1,126.7 116.5,126.8 114.9,126.7 113.3,126.7 111.6,126.6 110.0,126.5 108.3,126.3 106.5,126.2 104.8,126.0 103.2,125.7 101.5,125.5 99.9,125.2 98.4,124.9 96.9,124.6 95.5,124.2 94.2,123.9 92.9,123.5 91.9,123.1 90.3,122.4 89.0,121.8 87.8,121.1 86.8,120.3 85.9,119.6 85.0,118.7 84.1,117.7 83.2,116.6 82.3,115.4 81.3,114.0 80.6,112.9 79.9,111.8 79.3,110.5 78.6,109.2 78.0,107.8 77.4,106.4 76.8,104.8 76.2,103.3 75.6,101.6 75.1,99.9 74.6,98.2 74.0,96.5 73.6,95.1 73.2,93.6 72.8,91.9 72.4,90.2 72.1,88.4 71.7,86.6 71.3,84.7 71.0,82.9 70.7,81.2 70.4,79.5 70.1,77.9 69.8,76.4 69.6,75.1 69.3,73.9 69.1,73.0" fill="#2d66bc" stroke="#153f98" stroke-width="0.8" stroke-linejoin="round"/>
<polyline points="64.4,76.0 64.6,77.3 64.9,78.8 65.2,80.4 65.5,82.1 65.8,83.9 66.2,85.7 66.5,87.6 66.9,89.5 67.3,91.3 67.7,93.1 68.1,94.9 68.6,96.5 69.0,98.0 69.5,99.8 70.1,101.5 70.7,103.3 71.3,105.0 71.9,106.7 72.5,108.3 73.2,109.9 73.9,111.4 74.6,112.9 75.3,114.4 76.1,115.7 77.0,117.0 78.0,118.5 79.1,119.8 80.1,121.1 81.2,122.3 82.3,123.4 83.6,124.5 85.0,125.5 86.5,126.4 88.1,127.2 90.0,128.0 91.3,128.5 92.7,128.9 94.1,129.3 95.7,129.7 97.3,130.0 98.9,130.4 100.7,130.7 102.4,130.9 104.2,131.2 106.0,131.4 107.8,131.6 109.6,131.7 111.3,131.8 113.1,131.9 114.8,132.0 116.5,132.0 118.2,132.0 119.9,131.9 121.7,131.8 123.4,131.7 125.2,131.6 127.0,131.4 128.8,131.2 130.6,130.9 132.3,130.7 134.1,130.4 135.7,130.0 137.3,129.7 138.9,129.3 140.3,128.9 141.7,128.5 143.0,128.0 144.9,127.2 146.5,126.4 148.0,125.5 149.4,124.5 150.7,123.4 151.8,122.3 152.9,121.1 153.9,119.8 155.0,118.5 156.0,117.0 156.9,115.7 157.7,114.4 158.4,112.9 159.1,111.4 159.8,109.9 160.5,108.3 161.1,106.7 161.7,105.0 162.3,103.3 162.9,101.5 163.5,99.8 164.0,98.0 164.4,96.5 164.9,94.9 165.3,93.1 165.7,91.3 166.1,89.5 166.5,87.6 166.8,85.7 167.2,83.9 167.5,82.1 167.8,80.4 168.1,78.8 168.4,77.3 168.6,76.0" fill="none" stroke="#4c82d0" stroke-width="5.2" stroke-linecap="round" opacity="0.3"/>
<polyline points="67.6,74.3 67.8,75.4 68.0,76.7 68.3,78.2 68.6,79.8 68.9,81.5 69.2,83.3 69.6,85.1 69.9,86.9 70.3,88.8 70.7,90.6 71.1,92.3 71.5,94.0 71.9,95.6 72.3,97.0 72.9,98.8 73.4,100.5 74.0,102.2 74.5,103.8 75.1,105.5 75.7,107.0 76.3,108.5 77.0,110.0 77.7,111.3 78.4,112.7 79.1,113.9 79.9,115.0 80.8,116.4 81.8,117.7 82.7,118.9 83.7,119.9 84.7,120.9 85.7,121.8 86.9,122.6 88.1,123.3 89.6,124.1 91.3,124.8 92.4,125.2 93.6,125.6 95.0,125.9 96.5,126.3 98.0,126.6 99.6,127.0 101.2,127.2 102.9,127.5 104.6,127.7 106.3,127.9 108.1,128.1 109.8,128.3 111.5,128.4 113.2,128.5 114.9,128.5 116.5,128.5 118.1,128.5 119.8,128.5 121.5,128.4 123.2,128.3 124.9,128.1 126.7,127.9 128.4,127.7 130.1,127.5 131.8,127.2 133.4,127.0 135.0,126.6 136.5,126.3 138.0,125.9 139.4,125.6 140.6,125.2 141.7,124.8 143.4,124.1 144.9,123.3 146.1,122.6 147.3,121.8 148.3,120.9 149.3,119.9 150.3,118.9 151.2,117.7 152.2,116.4 153.1,115.0 153.9,113.9 154.6,112.7 155.3,111.3 156.0,110.0 156.7,108.5 157.3,107.0 157.9,105.5 158.5,103.8 159.0,102.2 159.6,100.5 160.1,98.8 160.7,97.0 161.1,95.6 161.5,94.0 161.9,92.3 162.3,90.6 162.7,88.8 163.1,86.9 163.4,85.1 163.8,83.3 164.1,81.5 164.4,79.8 164.7,78.2 165.0,76.7 165.2,75.4 165.4,74.3" fill="none" stroke="#153f98" stroke-width="3.6" opacity="0.18"/>
<path d="M59.5 78.3L69.8 76.4M60.7 84.9L71.0 82.9M61.4 88.6L71.7 86.6M62.6 94.3L72.8 91.9M64.0 99.5L74.0 96.5M65.7 105.0L75.6 101.6M67.6 110.3L77.4 106.4M69.9 115.3L79.3 110.5M72.7 120.0L81.3 114.0M76.1 124.5L84.1 117.7M80.4 128.6L86.8 120.3M85.9 132.0L90.3 122.4M92.8 134.4L95.5 124.2M98.0 135.5L99.9 125.2M103.5 136.4L104.8 126.0M109.2 137.0L110.0 126.5M114.7 137.2L114.9 126.7M120.1 137.2L119.7 126.7M125.7 136.8L124.7 126.3M131.4 136.1L129.8 125.7M135.0 135.5L133.1 125.2M141.8 133.9L138.8 123.9M147.1 132.0L142.7 122.4M152.6 128.6L146.2 120.3M156.9 124.5L148.9 117.7M160.3 120.0L151.7 114.0M163.1 115.3L153.7 110.5M165.4 110.3L155.6 106.4M167.3 105.0L157.4 101.6M169.0 99.5L159.0 96.5M170.4 94.3L160.2 91.9M171.6 88.6L161.3 86.6M172.7 83.1L162.3 81.2M173.5 78.3L163.2 76.4M64.0 74.0L64.4 76.0L64.9 78.8L65.5 82.1L66.2 85.7L66.9 89.5L67.7 93.1L68.6 96.5L69.5 99.8L70.7 103.3L71.9 106.7L73.2 109.9L74.6 112.9L76.1 115.7L78.0 118.5L80.1 121.1L82.3 123.4L85.0 125.5L88.1 127.2L91.3 128.5L94.1 129.3L97.3 130.0L100.7 130.7L104.2 131.2L107.8 131.6L111.3 131.8L114.8 132.0L118.2 132.0L121.7 131.8L125.2 131.6L128.8 131.2L132.3 130.7L135.7 130.0L138.9 129.3L141.7 128.5L144.9 127.2L148.0 125.5L150.7 123.4L152.9 121.1L155.0 118.5L156.9 115.7L158.4 112.9L159.8 109.9L161.1 106.7L162.3 103.3L163.5 99.8L164.4 96.5L165.3 93.1L166.1 89.5L166.8 85.7L167.5 82.1L168.1 78.8L168.6 76.0L169.0 74.0L169.0 74.0" fill="none" stroke="#0c2f86" stroke-width="0.95" opacity="0.6"/>
<polygon points="68.9,75.4 69.2,76.3 69.5,77.4 69.8,78.8 70.2,80.3 70.6,82.1 71.0,83.9 71.5,85.8 72.1,87.8 72.6,89.8 73.2,91.7 73.8,93.6 74.5,95.4 75.2,97.0 75.9,98.7 76.5,100.2 77.2,101.8 77.9,103.4 78.7,105.0 79.6,106.6 80.7,108.2 82.0,109.9 83.5,111.4 85.1,112.9 87.0,114.3 88.3,115.2 89.6,116.0 91.0,116.9 92.6,117.7 94.2,118.6 95.8,119.4 97.5,120.2 99.3,121.0 101.1,121.8 103.0,122.5 104.9,123.1 106.8,123.7 108.7,124.2 110.6,124.7 112.6,125.0 114.5,125.2 116.5,125.2 118.5,125.2 120.4,125.0 122.4,124.7 124.3,124.2 126.2,123.7 128.1,123.1 130.0,122.5 131.9,121.8 133.7,121.0 135.5,120.2 137.2,119.4 138.8,118.6 140.4,117.7 142.0,116.9 143.4,116.0 144.7,115.2 146.0,114.3 147.9,112.9 149.5,111.4 151.0,109.9 152.3,108.2 153.4,106.6 154.3,105.0 155.1,103.4 155.8,101.8 156.5,100.2 157.1,98.7 157.8,97.0 158.5,95.4 159.2,93.6 159.8,91.7 160.4,89.8 160.9,87.8 161.5,85.8 162.0,83.9 162.4,82.1 162.8,80.3 163.2,78.8 163.5,77.4 163.8,76.3 164.1,75.4 153.9,72.6 153.7,73.6 153.4,74.9 153.0,76.3 152.6,77.9 152.2,79.6 151.8,81.3 151.3,83.2 150.8,85.0 150.3,86.8 149.8,88.6 149.2,90.2 148.7,91.6 148.2,93.0 147.5,94.5 146.8,96.1 146.2,97.5 145.6,98.9 145.0,100.0 144.4,101.1 143.8,102.1 143.0,103.0 142.2,103.9 141.2,104.8 140.0,105.7 139.0,106.3 137.9,107.1 136.7,107.8 135.4,108.5 134.0,109.3 132.5,110.0 131.1,110.7 129.5,111.4 128.0,112.0 126.4,112.6 124.9,113.2 123.4,113.6 121.9,114.0 120.4,114.3 119.0,114.6 117.7,114.7 116.5,114.8 115.3,114.7 114.0,114.6 112.6,114.3 111.1,114.0 109.6,113.6 108.1,113.2 106.6,112.6 105.0,112.0 103.5,111.4 101.9,110.7 100.5,110.0 99.0,109.3 97.6,108.5 96.3,107.8 95.1,107.1 94.0,106.3 93.0,105.7 91.8,104.8 90.8,103.9 90.0,103.0 89.2,102.1 88.6,101.1 88.0,100.0 87.4,98.9 86.8,97.5 86.2,96.1 85.5,94.5 84.8,93.0 84.3,91.6 83.8,90.2 83.2,88.6 82.7,86.8 82.2,85.0 81.7,83.2 81.2,81.3 80.8,79.6 80.4,77.9 80.0,76.3 79.6,74.9 79.3,73.6 79.1,72.6" fill="#2d66bc" stroke="#153f98" stroke-width="0.8" stroke-linejoin="round"/>
<polyline points="74.6,76.1 74.9,77.5 75.3,79.1 75.7,80.8 76.1,82.6 76.6,84.5 77.1,86.4 77.7,88.3 78.2,90.1 78.8,91.9 79.4,93.5 80.0,95.0 80.7,96.6 81.4,98.2 82.0,99.7 82.6,101.1 83.3,102.5 84.1,103.9 85.0,105.2 86.0,106.4 87.1,107.7 88.5,108.8 90.0,110.0 91.1,110.8 92.4,111.5 93.7,112.3 95.1,113.1 96.6,113.9 98.1,114.7 99.7,115.5 101.4,116.2 103.1,116.9 104.8,117.6 106.5,118.1 108.2,118.7 109.9,119.1 111.6,119.5 113.3,119.8 114.9,119.9 116.5,120.0 118.1,119.9 119.7,119.8 121.4,119.5 123.1,119.1 124.8,118.7 126.5,118.1 128.2,117.6 129.9,116.9 131.6,116.2 133.3,115.5 134.9,114.7 136.4,113.9 137.9,113.1 139.3,112.3 140.6,111.5 141.9,110.8 143.0,110.0 144.5,108.8 145.9,107.7 147.0,106.4 148.0,105.2 148.9,103.9 149.7,102.5 150.4,101.1 151.0,99.7 151.6,98.2 152.3,96.6 153.0,95.0 153.6,93.5 154.2,91.9 154.8,90.1 155.3,88.3 155.9,86.4 156.4,84.5 156.9,82.6 157.3,80.8 157.7,79.1 158.1,77.5 158.4,76.1" fill="none" stroke="#4c82d0" stroke-width="5.2" stroke-linecap="round" opacity="0.3"/>
<polyline points="77.6,74.1 77.9,75.3 78.3,76.7 78.6,78.3 79.1,80.0 79.5,81.8 80.0,83.6 80.5,85.5 81.0,87.3 81.5,89.1 82.1,90.8 82.6,92.3 83.2,93.6 83.9,95.2 84.5,96.8 85.2,98.3 85.8,99.6 86.4,100.9 87.1,102.0 87.8,103.1 88.6,104.2 89.5,105.2 90.6,106.2 92.0,107.2 93.0,107.8 94.2,108.6 95.4,109.3 96.8,110.1 98.2,110.8 99.7,111.6 101.2,112.3 102.8,113.0 104.3,113.7 105.9,114.3 107.6,114.9 109.2,115.3 110.7,115.8 112.3,116.1 113.7,116.3 115.2,116.5 116.5,116.5 117.8,116.5 119.3,116.3 120.7,116.1 122.3,115.8 123.8,115.3 125.4,114.9 127.1,114.3 128.7,113.7 130.2,113.0 131.8,112.3 133.3,111.6 134.8,110.8 136.2,110.1 137.6,109.3 138.8,108.6 140.0,107.8 141.0,107.2 142.4,106.2 143.5,105.2 144.4,104.2 145.2,103.1 145.9,102.0 146.6,100.9 147.2,99.6 147.8,98.3 148.5,96.8 149.1,95.2 149.8,93.6 150.4,92.3 150.9,90.8 151.5,89.1 152.0,87.3 152.5,85.5 153.0,83.6 153.5,81.8 153.9,80.0 154.4,78.3 154.7,76.7 155.1,75.3 155.4,74.1" fill="none" stroke="#153f98" stroke-width="3.6" opacity="0.18"/>
<path d="M69.8 78.8L80.0 76.3M71.0 83.9L81.2 81.3M72.6 89.8L82.7 86.8M74.5 95.4L84.3 91.6M76.5 100.2L86.2 96.1M78.7 105.0L88.0 100.0M82.0 109.9L90.0 103.0M87.0 114.3L93.0 105.7M92.6 117.7L97.6 108.5M97.5 120.2L101.9 110.7M103.0 122.5L106.6 112.6M106.8 123.7L109.6 113.6M112.6 125.0L114.0 114.6M120.4 125.0L119.0 114.6M126.2 123.7L123.4 113.6M131.9 121.8L128.0 112.0M135.5 120.2L131.1 110.7M140.4 117.7L135.4 108.5M146.0 114.3L140.0 105.7M151.0 109.9L143.0 103.0M154.3 105.0L145.0 100.0M156.5 100.2L146.8 96.1M159.2 93.6L149.2 90.2M160.4 89.8L150.3 86.8M162.0 83.9L151.8 81.3M163.2 78.8L153.0 76.3M74.0 74.0L74.6 76.1L75.3 79.1L76.1 82.6L77.1 86.4L78.2 90.1L79.4 93.5L80.7 96.6L82.0 99.7L83.3 102.5L85.0 105.2L87.1 107.7L90.0 110.0L92.4 111.5L95.1 113.1L98.1 114.7L101.4 116.2L104.8 117.6L108.2 118.7L111.6 119.5L114.9 119.9L118.1 119.9L121.4 119.5L124.8 118.7L128.2 117.6L131.6 116.2L134.9 114.7L137.9 113.1L140.6 111.5L143.0 110.0L145.9 107.7L148.0 105.2L149.7 102.5L151.0 99.7L152.3 96.6L153.6 93.5L154.8 90.1L155.9 86.4L156.9 82.6L157.7 79.1L158.4 76.1L159.0 74.0L159.0 74.0" fill="none" stroke="#0c2f86" stroke-width="0.95" opacity="0.6"/>
<polygon points="80.3,75.3 80.6,76.0 81.0,76.8 81.4,78.0 82.0,79.4 82.6,80.9 83.3,82.6 84.1,84.3 85.0,86.2 86.1,88.0 87.3,89.9 88.6,91.8 90.1,93.5 91.1,94.6 92.2,95.8 93.3,97.0 94.6,98.3 95.9,99.7 97.2,101.1 98.7,102.5 100.2,103.9 101.7,105.2 103.3,106.6 105.0,107.8 106.7,108.9 108.4,110.0 110.3,110.9 112.2,111.6 114.3,112.1 116.5,112.2 118.7,112.1 120.8,111.6 122.7,110.9 124.6,110.0 126.3,108.9 128.0,107.8 129.7,106.6 131.3,105.2 132.8,103.9 134.3,102.5 135.8,101.1 137.1,99.7 138.4,98.3 139.7,97.0 140.8,95.8 141.9,94.6 142.9,93.5 144.4,91.8 145.7,89.9 146.9,88.0 148.0,86.2 148.9,84.3 149.7,82.6 150.4,80.9 151.0,79.4 151.6,78.0 152.0,76.8 152.4,76.0 152.7,75.3 143.3,70.7 142.8,71.7 142.3,72.9 141.8,74.1 141.3,75.5 140.7,76.9 140.1,78.3 139.4,79.8 138.7,81.2 137.9,82.7 137.0,84.0 136.1,85.3 135.1,86.5 134.2,87.5 133.1,88.7 132.0,89.9 130.8,91.1 129.6,92.4 128.4,93.6 127.1,94.9 125.8,96.1 124.5,97.2 123.2,98.3 121.9,99.2 120.7,100.0 119.6,100.7 118.6,101.2 117.7,101.5 117.0,101.7 116.5,101.8 116.0,101.7 115.3,101.5 114.4,101.2 113.4,100.7 112.3,100.0 111.1,99.2 109.8,98.3 108.5,97.2 107.2,96.1 105.9,94.9 104.6,93.6 103.4,92.4 102.2,91.1 101.0,89.9 99.9,88.7 98.8,87.5 97.9,86.5 96.9,85.3 96.0,84.0 95.1,82.7 94.3,81.2 93.6,79.8 92.9,78.3 92.3,76.9 91.7,75.5 91.2,74.1 90.7,72.9 90.2,71.7 89.7,70.7" fill="#2d66bc" stroke="#153f98" stroke-width="0.8" stroke-linejoin="round"/>
<polyline points="85.8,74.8 86.3,76.1 86.8,77.4 87.4,78.9 88.1,80.4 88.8,82.1 89.7,83.7 90.6,85.4 91.6,87.0 92.7,88.5 94.0,90.0 95.0,91.1 96.0,92.2 97.2,93.4 98.4,94.7 99.6,96.0 100.9,97.4 102.3,98.7 103.7,100.0 105.1,101.2 106.6,102.4 108.0,103.5 109.5,104.5 110.9,105.3 112.4,106.0 113.8,106.6 115.2,106.9 116.5,107.0 117.8,106.9 119.2,106.6 120.6,106.0 122.1,105.3 123.5,104.5 125.0,103.5 126.4,102.4 127.9,101.2 129.3,100.0 130.7,98.7 132.1,97.4 133.4,96.0 134.6,94.7 135.8,93.4 137.0,92.2 138.0,91.1 139.0,90.0 140.3,88.5 141.4,87.0 142.4,85.4 143.3,83.7 144.2,82.1 144.9,80.4 145.6,78.9 146.2,77.4 146.7,76.1 147.2,74.8" fill="none" stroke="#4c82d0" stroke-width="5.2" stroke-linecap="round" opacity="0.3"/>
<polyline points="88.6,72.4 89.0,73.5 89.5,74.8 90.1,76.1 90.6,77.5 91.3,79.0 92.0,80.6 92.7,82.1 93.6,83.6 94.5,85.0 95.5,86.4 96.6,87.7 97.5,88.7 98.6,89.9 99.7,91.1 100.9,92.3 102.1,93.6 103.4,94.9 104.7,96.2 106.0,97.4 107.4,98.6 108.7,99.7 110.0,100.7 111.3,101.6 112.6,102.3 113.7,102.8 114.8,103.2 115.7,103.5 116.5,103.5 117.3,103.5 118.2,103.2 119.3,102.8 120.4,102.3 121.7,101.6 123.0,100.7 124.3,99.7 125.6,98.6 127.0,97.4 128.3,96.2 129.6,94.9 130.9,93.6 132.1,92.3 133.3,91.1 134.4,89.9 135.5,88.7 136.4,87.7 137.5,86.4 138.5,85.0 139.4,83.6 140.3,82.1 141.0,80.6 141.7,79.0 142.4,77.5 142.9,76.1 143.5,74.8 144.0,73.5 144.4,72.4" fill="none" stroke="#153f98" stroke-width="3.6" opacity="0.18"/>
<path d="M81.4 78.0L91.2 74.1M84.1 84.3L93.6 79.8M86.1 88.0L95.1 82.7M90.1 93.5L97.9 86.5M93.3 97.0L101.0 89.9M97.2 101.1L104.6 93.6M101.7 105.2L108.5 97.2M106.7 108.9L112.3 100.0M112.2 111.6L115.3 101.5M120.8 111.6L117.7 101.5M126.3 108.9L120.7 100.0M131.3 105.2L124.5 97.2M135.8 101.1L128.4 93.6M139.7 97.0L132.0 89.9M142.9 93.5L135.1 86.5M146.9 88.0L137.9 82.7M148.9 84.3L139.4 79.8M151.0 79.4L141.3 75.5M85.0 73.0L85.8 74.8L86.8 77.4L88.1 80.4L89.7 83.7L91.6 87.0L94.0 90.0L96.0 92.2L98.4 94.7L100.9 97.4L103.7 100.0L106.6 102.4L109.5 104.5L112.4 106.0L115.2 106.9L117.8 106.9L120.6 106.0L123.5 104.5L126.4 102.4L129.3 100.0L132.1 97.4L134.6 94.7L137.0 92.2L139.0 90.0L141.4 87.0L143.3 83.7L144.9 80.4L146.2 77.4L147.2 74.8L148.0 73.0L148.0 73.0" fill="none" stroke="#0c2f86" stroke-width="0.95" opacity="0.6"/>
<polygon points="11.9,23.3 12.4,24.0 13.0,24.9 13.7,25.9 14.5,27.1 15.3,28.3 16.2,29.6 17.1,31.0 18.1,32.5 19.3,33.8 20.7,35.0 22.1,36.2 23.5,37.4 25.0,38.6 26.4,39.9 27.8,41.1 29.2,42.3 30.6,43.5 31.9,44.6 33.1,45.7 34.4,46.7 35.8,47.9 37.1,49.0 38.6,50.2 40.0,51.5 41.5,52.7 42.9,53.9 44.4,55.1 45.8,56.3 47.2,57.5 48.7,58.6 50.3,59.3 51.9,60.0 53.3,60.7 54.7,61.3 56.0,61.9 57.1,62.4 58.1,62.9 58.9,63.3 61.1,60.7 60.5,60.0 59.9,59.1 59.2,58.0 58.4,56.9 57.5,55.7 56.6,54.3 55.6,52.9 54.6,51.5 53.3,50.2 51.9,49.0 50.5,47.8 49.0,46.6 47.6,45.4 46.1,44.2 44.7,43.0 43.3,41.8 41.9,40.6 40.6,39.5 39.3,38.4 38.1,37.4 36.8,36.3 35.4,35.1 34.0,33.9 32.6,32.7 31.2,31.5 29.7,30.2 28.3,29.0 26.9,27.8 25.5,26.6 24.1,25.6 22.5,24.8 21.0,24.1 19.6,23.4 18.2,22.7 17.0,22.2 15.9,21.6 14.9,21.1 14.1,20.7" fill="#2d66bc" stroke="#153f98" stroke-width="1.1" stroke-linejoin="round"/>
<polyline points="14.5,23.3 15.4,24.0 16.4,24.9 17.4,25.8 18.6,26.9 19.8,27.9 21.1,29.0 22.4,30.2 23.8,31.4 25.2,32.6 26.6,33.8 28.1,35.0 29.5,36.3 30.9,37.5 32.3,38.7 33.7,39.9 35.0,41.0 36.2,42.0 37.5,43.1 38.8,44.2 40.2,45.4 41.6,46.6 43.1,47.8 44.5,49.0 46.0,50.3 47.4,51.5 48.9,52.7 50.3,53.9 51.7,55.0 53.0,56.1 54.2,57.2 55.4,58.2 56.6,59.1 57.6,60.0 58.5,60.7" fill="none" stroke="#4c82d0" stroke-width="4.8" stroke-linecap="round" opacity="0.55"/>
<polyline points="15.7,20.2 16.5,20.9 17.4,21.7 18.4,22.5 19.5,23.5 20.6,24.5 21.9,25.5 23.2,26.7 24.5,27.8 25.9,29.0 27.3,30.2 28.7,31.4 30.1,32.7 31.5,33.9 32.9,35.1 34.3,36.3 35.7,37.5 37.0,38.6 38.2,39.6 39.5,40.7 40.8,41.8 42.2,43.0 43.6,44.2 45.1,45.4 46.5,46.6 48.0,47.9 49.5,49.1 50.9,50.3 52.3,51.5 53.7,52.6 55.0,53.7 56.3,54.8 57.4,55.8 58.6,56.7 59.6,57.6 60.5,58.3 61.3,59.0" fill="none" stroke="#153f98" stroke-width="3.2" opacity="0.25"/>
<path d="M13.7 25.9L17.0 22.2M17.1 31.0L22.5 24.8M20.7 35.0L26.9 27.8M25.0 38.6L31.2 31.5M29.2 42.3L35.4 35.1M33.1 45.7L39.3 38.4M37.1 49.0L43.3 41.8M40.0 51.5L46.1 44.2M44.4 55.1L50.5 47.8M48.7 58.6L54.6 51.5M53.3 60.7L57.5 55.7M13.0 22.0L14.5 23.3L16.4 24.9L18.6 26.9L21.1 29.0L23.8 31.4L26.6 33.8L29.5 36.3L32.3 38.7L35.0 41.0L37.5 43.1L40.2 45.4L43.1 47.8L46.0 50.3L48.9 52.7L51.7 55.0L54.2 57.2L56.6 59.1L58.5 60.7L60.0 62.0L60.0 62.0" fill="none" stroke="#0c2f86" stroke-width="0.95" opacity="0.6"/>
<polygon points="218.9,20.7 218.1,21.1 217.1,21.6 216.0,22.2 214.8,22.7 213.4,23.4 212.0,24.1 210.5,24.8 208.9,25.6 207.5,26.6 206.1,27.8 204.7,29.0 203.3,30.2 201.8,31.5 200.4,32.7 199.0,33.9 197.6,35.1 196.2,36.3 194.9,37.4 193.7,38.4 192.4,39.5 191.1,40.6 189.7,41.8 188.3,43.0 186.9,44.2 185.4,45.4 184.0,46.6 182.5,47.8 181.1,49.0 179.7,50.2 178.4,51.5 177.4,52.9 176.4,54.3 175.5,55.7 174.6,56.9 173.8,58.0 173.1,59.1 172.5,60.0 171.9,60.7 174.1,63.3 174.9,62.9 175.9,62.4 177.0,61.9 178.3,61.3 179.7,60.7 181.1,60.0 182.7,59.3 184.3,58.6 185.8,57.5 187.2,56.3 188.6,55.1 190.1,53.9 191.5,52.7 193.0,51.5 194.4,50.2 195.9,49.0 197.2,47.9 198.6,46.7 199.9,45.7 201.1,44.6 202.4,43.5 203.8,42.3 205.2,41.1 206.6,39.9 208.0,38.6 209.5,37.4 210.9,36.2 212.3,35.0 213.7,33.8 214.9,32.5 215.9,31.0 216.8,29.6 217.7,28.3 218.5,27.1 219.3,25.9 220.0,24.9 220.6,24.0 221.1,23.3" fill="#2d66bc" stroke="#153f98" stroke-width="1.1" stroke-linejoin="round"/>
<polyline points="218.5,23.3 217.6,24.0 216.6,24.9 215.6,25.8 214.4,26.9 213.2,27.9 211.9,29.0 210.6,30.2 209.2,31.4 207.8,32.6 206.4,33.8 204.9,35.0 203.5,36.3 202.1,37.5 200.7,38.7 199.3,39.9 198.0,41.0 196.8,42.0 195.5,43.1 194.2,44.2 192.8,45.4 191.4,46.6 189.9,47.8 188.5,49.0 187.0,50.3 185.6,51.5 184.1,52.7 182.7,53.9 181.3,55.0 180.0,56.1 178.8,57.2 177.6,58.2 176.4,59.1 175.4,60.0 174.5,60.7" fill="none" stroke="#4c82d0" stroke-width="4.8" stroke-linecap="round" opacity="0.55"/>
<polyline points="217.3,20.2 216.5,20.9 215.6,21.7 214.6,22.5 213.5,23.5 212.4,24.5 211.1,25.5 209.8,26.7 208.5,27.8 207.1,29.0 205.7,30.2 204.3,31.4 202.9,32.7 201.5,33.9 200.1,35.1 198.7,36.3 197.3,37.5 196.0,38.6 194.8,39.6 193.5,40.7 192.2,41.8 190.8,43.0 189.4,44.2 187.9,45.4 186.5,46.6 185.0,47.9 183.5,49.1 182.1,50.3 180.7,51.5 179.3,52.6 178.0,53.7 176.7,54.8 175.6,55.8 174.4,56.7 173.4,57.6 172.5,58.3 171.7,59.0" fill="none" stroke="#153f98" stroke-width="3.2" opacity="0.25"/>
<path d="M216.0 22.2L219.3 25.9M210.5 24.8L215.9 31.0M206.1 27.8L212.3 35.0M201.8 31.5L208.0 38.6M197.6 35.1L203.8 42.3M193.7 38.4L199.9 45.7M189.7 41.8L195.9 49.0M186.9 44.2L193.0 51.5M182.5 47.8L188.6 55.1M178.4 51.5L184.3 58.6M175.5 55.7L179.7 60.7M220.0 22.0L218.5 23.3L216.6 24.9L214.4 26.9L211.9 29.0L209.2 31.4L206.4 33.8L203.5 36.3L200.7 38.7L198.0 41.0L195.5 43.1L192.8 45.4L189.9 47.8L187.0 50.3L184.1 52.7L181.3 55.0L178.8 57.2L176.4 59.1L174.5 60.7L173.0 62.0L173.0 62.0" fill="none" stroke="#0c2f86" stroke-width="0.95" opacity="0.6"/>
<polygon points="25.5,21.9 26.3,22.3 27.3,22.9 28.5,23.6 29.8,24.4 31.2,25.2 32.7,26.1 34.3,27.1 36.0,28.1 37.8,28.9 39.7,29.4 41.6,29.9 43.5,30.3 45.4,30.7 47.3,31.1 49.1,31.4 50.8,31.7 52.5,32.0 54.2,32.2 55.9,32.4 57.6,32.6 59.3,32.8 61.1,33.0 62.8,33.2 64.6,33.3 66.3,33.4 68.1,33.5 69.9,33.5 71.7,33.6 73.4,33.5 75.2,33.5 77.1,33.4 79.1,33.2 81.1,33.0 83.1,32.7 85.1,32.4 87.1,32.1 89.1,31.4 90.9,30.6 92.6,29.7 94.2,28.9 95.8,28.1 97.2,27.4 98.4,26.8 99.5,26.3 100.3,25.9 99.7,22.1 98.7,22.0 97.4,21.9 96.0,21.8 94.5,21.7 92.8,21.6 91.0,21.5 89.1,21.3 87.2,21.2 85.3,21.2 83.4,21.5 81.5,21.8 79.7,22.1 78.0,22.3 76.3,22.4 74.8,22.5 73.2,22.6 71.7,22.6 70.1,22.5 68.5,22.5 66.9,22.4 65.3,22.3 63.7,22.2 62.1,22.1 60.5,21.9 58.9,21.7 57.3,21.5 55.7,21.3 54.1,21.1 52.5,20.8 50.9,20.6 49.3,20.3 47.7,20.0 46.0,19.6 44.2,19.2 42.4,18.7 40.6,18.3 38.7,18.2 36.8,18.2 34.9,18.2 33.2,18.2 31.5,18.2 30.0,18.1 28.6,18.1 27.5,18.1 26.5,18.1" fill="#2d66bc" stroke="#153f98" stroke-width="1.1" stroke-linejoin="round"/>
<polyline points="27.8,16.7 29.0,17.0 30.2,17.4 31.6,17.8 33.2,18.2 34.8,18.7 36.5,19.1 38.3,19.6 40.1,20.1 41.9,20.6 43.7,21.0 45.5,21.4 47.3,21.8 49.0,22.1 50.6,22.4 52.2,22.7 53.8,22.9 55.4,23.2 57.1,23.4 58.7,23.6 60.3,23.8 61.9,23.9 63.6,24.1 65.2,24.2 66.8,24.3 68.4,24.4 70.1,24.4 71.7,24.4 73.3,24.4 74.8,24.4 76.4,24.3 78.2,24.1 79.9,23.9 81.8,23.7 83.7,23.4 85.6,23.1 87.5,22.7 89.3,22.4 91.1,22.0 92.8,21.7 94.4,21.4 95.9,21.1 97.2,20.8 98.4,20.6" fill="none" stroke="#153f98" stroke-width="3.7" opacity="0.25"/>
<path d="M28.5 23.6L30.0 18.1M34.3 27.1L36.8 18.2M37.8 28.9L40.6 18.3M43.5 30.3L46.0 19.6M49.1 31.4L50.9 20.6M54.2 32.2L55.7 21.3M59.3 32.8L60.5 21.9M64.6 33.3L65.3 22.3M69.9 33.5L70.1 22.5M77.1 33.4L76.3 22.4M81.1 33.0L79.7 22.1M87.1 32.1L85.3 21.2M92.6 29.7L91.0 21.5M97.2 27.4L96.0 21.8M26.0 20.0L28.0 20.5L30.7 21.3L33.8 22.2L37.3 23.1L41.0 24.1L44.8 25.0L48.3 25.7L51.6 26.3L54.9 26.8L58.3 27.2L61.6 27.5L65.0 27.8L68.3 28.0L71.7 28.1L75.0 28.0L78.5 27.7L82.3 27.3L86.2 26.6L90.0 25.9L93.5 25.3L96.6 24.6L99.1 24.2L100.0 24.0" fill="none" stroke="#0c2f86" stroke-width="0.95" opacity="0.6"/>
<polygon points="206.5,18.1 205.5,18.1 204.4,18.1 203.0,18.1 201.5,18.2 199.8,18.2 198.1,18.2 196.2,18.2 194.3,18.2 192.4,18.3 190.6,18.7 188.8,19.2 187.0,19.6 185.3,20.0 183.7,20.3 182.1,20.6 180.5,20.8 178.9,21.1 177.3,21.3 175.7,21.5 174.1,21.7 172.5,21.9 170.9,22.1 169.3,22.2 167.7,22.3 166.1,22.4 164.5,22.5 162.9,22.5 161.3,22.6 159.8,22.6 158.2,22.5 156.7,22.4 155.0,22.3 153.3,22.1 151.5,21.8 149.6,21.5 147.7,21.2 145.8,21.2 143.9,21.3 142.0,21.5 140.2,21.6 138.5,21.7 137.0,21.8 135.6,21.9 134.3,22.0 133.3,22.1 132.7,25.9 133.5,26.3 134.6,26.8 135.8,27.4 137.2,28.1 138.8,28.9 140.4,29.7 142.1,30.6 143.9,31.4 145.9,32.1 147.9,32.4 149.9,32.7 151.9,33.0 153.9,33.2 155.9,33.4 157.8,33.5 159.6,33.5 161.3,33.6 163.1,33.5 164.9,33.5 166.7,33.4 168.4,33.3 170.2,33.2 171.9,33.0 173.7,32.8 175.4,32.6 177.1,32.4 178.8,32.2 180.5,32.0 182.2,31.7 183.9,31.4 185.7,31.1 187.6,30.7 189.5,30.3 191.4,29.9 193.3,29.4 195.2,28.9 197.0,28.1 198.7,27.1 200.3,26.1 201.8,25.2 203.2,24.4 204.5,23.6 205.7,22.9 206.7,22.3 207.5,21.9" fill="#2d66bc" stroke="#153f98" stroke-width="1.1" stroke-linejoin="round"/>
<polyline points="205.2,16.7 204.0,17.0 202.8,17.4 201.4,17.8 199.8,18.2 198.2,18.7 196.5,19.1 194.7,19.6 192.9,20.1 191.1,20.6 189.3,21.0 187.5,21.4 185.7,21.8 184.0,22.1 182.4,22.4 180.8,22.7 179.2,22.9 177.6,23.2 175.9,23.4 174.3,23.6 172.7,23.8 171.1,23.9 169.4,24.1 167.8,24.2 166.2,24.3 164.6,24.4 162.9,24.4 161.3,24.4 159.7,24.4 158.2,24.4 156.6,24.3 154.8,24.1 153.1,23.9 151.2,23.7 149.3,23.4 147.4,23.1 145.5,22.7 143.7,22.4 141.9,22.0 140.2,21.7 138.6,21.4 137.1,21.1 135.8,20.8 134.6,20.6" fill="none" stroke="#153f98" stroke-width="3.7" opacity="0.25"/>
<path d="M203.0 18.1L204.5 23.6M196.2 18.2L198.7 27.1M192.4 18.3L195.2 28.9M187.0 19.6L189.5 30.3M182.1 20.6L183.9 31.4M177.3 21.3L178.8 32.2M172.5 21.9L173.7 32.8M167.7 22.3L168.4 33.3M162.9 22.5L163.1 33.5M156.7 22.4L155.9 33.4M153.3 22.1L151.9 33.0M147.7 21.2L145.9 32.1M142.0 21.5L140.4 29.7M137.0 21.8L135.8 27.4M207.0 20.0L205.0 20.5L202.3 21.3L199.2 22.2L195.7 23.1L192.0 24.1L188.2 25.0L184.7 25.7L181.4 26.3L178.1 26.8L174.7 27.2L171.4 27.5L168.0 27.8L164.7 28.0L161.3 28.1L158.0 28.0L154.5 27.7L150.7 27.3L146.8 26.6L143.0 25.9L139.5 25.3L136.4 24.6L133.9 24.2L133.0 24.0" fill="none" stroke="#0c2f86" stroke-width="0.95" opacity="0.6"/>
<polygon points="58.1,66.4 59.0,66.6 60.1,66.8 61.3,67.1 62.7,67.3 64.1,67.6 65.7,67.9 67.4,68.3 69.1,68.6 70.9,69.0 72.7,69.0 74.6,68.9 76.4,68.8 78.3,68.7 80.1,68.5 82.0,68.4 83.8,68.3 85.5,68.2 87.2,68.1 88.7,68.1 90.2,68.0 92.0,67.9 93.8,67.9 95.5,67.8 97.2,67.7 98.8,67.7 100.5,67.7 102.1,67.6 103.7,67.6 105.3,67.6 106.9,67.5 108.5,67.5 110.0,67.5 111.6,67.5 113.2,67.5 114.9,67.5 116.5,67.5 118.1,67.5 119.8,67.5 121.4,67.5 123.0,67.5 124.5,67.5 126.1,67.5 127.7,67.6 129.3,67.6 130.9,67.6 132.5,67.7 134.2,67.7 135.8,67.7 137.5,67.8 139.2,67.9 141.0,67.9 142.8,68.0 144.3,68.1 145.8,68.1 147.5,68.2 149.2,68.3 151.0,68.4 152.9,68.5 154.7,68.7 156.6,68.8 158.4,68.9 160.3,69.0 162.1,69.0 163.9,68.6 165.6,68.3 167.3,67.9 168.9,67.6 170.3,67.3 171.7,67.1 172.9,66.8 174.0,66.6 174.9,66.4 175.1,62.6 174.3,62.3 173.2,61.9 172.1,61.5 170.8,61.1 169.4,60.6 167.8,60.1 166.2,59.5 164.6,58.9 162.8,58.3 161.0,58.0 159.2,57.9 157.3,57.8 155.4,57.7 153.5,57.6 151.7,57.5 149.9,57.3 148.1,57.2 146.4,57.2 144.8,57.1 143.2,57.0 141.4,56.9 139.6,56.9 137.9,56.8 136.2,56.7 134.5,56.7 132.8,56.7 131.1,56.6 129.5,56.6 127.9,56.6 126.3,56.5 124.6,56.5 123.0,56.5 121.4,56.5 119.8,56.5 118.2,56.5 116.5,56.5 114.8,56.5 113.2,56.5 111.6,56.5 110.0,56.5 108.4,56.5 106.7,56.5 105.1,56.6 103.5,56.6 101.9,56.6 100.2,56.7 98.5,56.7 96.8,56.7 95.1,56.8 93.4,56.9 91.6,56.9 89.8,57.0 88.2,57.1 86.6,57.2 84.9,57.2 83.1,57.3 81.3,57.5 79.5,57.6 77.6,57.7 75.7,57.8 73.8,57.9 72.0,58.0 70.2,58.3 68.4,58.9 66.8,59.5 65.2,60.1 63.6,60.6 62.2,61.1 60.9,61.5 59.8,61.9 58.7,62.3 57.9,62.6" fill="#2d66bc" stroke="#153f98" stroke-width="1.1" stroke-linejoin="round"/>
<polyline points="59.9,64.4 61.1,64.3 62.4,64.2 63.9,64.1 65.4,64.0 67.1,63.9 68.8,63.8 70.5,63.7 72.3,63.5 74.2,63.4 76.1,63.3 77.9,63.2 79.8,63.1 81.6,62.9 83.4,62.8 85.2,62.7 86.9,62.6 88.5,62.6 90.0,62.5 91.8,62.4 93.6,62.4 95.3,62.3 97.0,62.2 98.7,62.2 100.3,62.2 102.0,62.1 103.6,62.1 105.2,62.1 106.8,62.0 108.4,62.0 110.0,62.0 111.6,62.0 113.2,62.0 114.9,62.0 116.5,62.0 118.1,62.0 119.8,62.0 121.4,62.0 123.0,62.0 124.6,62.0 126.2,62.0 127.8,62.1 129.4,62.1 131.0,62.1 132.7,62.2 134.3,62.2 136.0,62.2 137.7,62.3 139.4,62.4 141.2,62.4 143.0,62.5 144.5,62.6 146.1,62.6 147.8,62.7 149.6,62.8 151.4,62.9 153.2,63.1 155.1,63.2 156.9,63.3 158.8,63.4 160.7,63.5 162.5,63.7 164.2,63.8 165.9,63.9 167.6,64.0 169.1,64.1 170.6,64.2 171.9,64.3 173.1,64.4" fill="none" stroke="#4c82d0" stroke-width="5.5" stroke-linecap="round" opacity="0.55"/>
<path d="M61.3 67.1L60.9 61.5M67.4 68.3L66.8 59.5M72.7 69.0L72.0 58.0M78.3 68.7L77.6 57.7M83.8 68.3L83.1 57.3M88.7 68.1L88.2 57.1M93.8 67.9L93.4 56.9M98.8 67.7L98.5 56.7M103.7 67.6L103.5 56.6M108.5 67.5L108.4 56.5M113.2 67.5L113.2 56.5M119.8 67.5L119.8 56.5M124.5 67.5L124.6 56.5M129.3 67.6L129.5 56.6M134.2 67.7L134.5 56.7M139.2 67.9L139.6 56.9M144.3 68.1L144.8 57.1M149.2 68.3L149.9 57.3M154.7 68.7L155.4 57.7M160.3 69.0L161.0 58.0M165.6 68.3L166.2 59.5M170.3 67.3L170.8 61.1M58.0 64.5L59.9 64.4L62.4 64.2L65.4 64.0L68.8 63.8L72.3 63.5L76.1 63.3L79.8 63.1L83.4 62.8L86.9 62.6L90.0 62.5L93.6 62.4L97.0 62.2L100.3 62.2L103.6 62.1L106.8 62.0L110.0 62.0L113.2 62.0L116.5 62.0L119.8 62.0L123.0 62.0L126.2 62.0L129.4 62.1L132.7 62.2L136.0 62.2L139.4 62.4L143.0 62.5L146.1 62.6L149.6 62.8L153.2 63.1L156.9 63.3L160.7 63.5L164.2 63.8L167.6 64.0L170.6 64.2L173.1 64.4L175.0 64.5L175.0 64.5" fill="none" stroke="#0c2f86" stroke-width="0.95" opacity="0.6"/>
<polygon points="59.0,51.0 66.0,42.0 78.0,31.0 95.0,20.0 115.0,13.5 116.5,50.0 104.0,56.0 90.0,58.0 74.0,56.0" fill="#2d66bc" stroke="#153f98" stroke-width="1.1" stroke-linejoin="round"/>
<polygon points="70.0,46.0 92.0,30.0 112.0,22.0 113.0,48.0 92.0,50.0" fill="#4c82d0" opacity="0.3"/>
<path d="M59.0 50.0L59.0 52.0M64.1 46.7L64.2 52.0M69.2 43.4L69.5 52.0M74.3 40.0L74.7 52.0M79.4 36.7L79.9 52.0M84.5 33.4L85.1 52.0M89.5 30.1L90.4 52.0M94.6 26.8L95.6 52.0M99.7 23.5L100.8 52.0M104.8 20.1L106.0 52.0M109.9 16.8L111.3 52.0M115.0 13.5L116.5 52.0M59.0 50.0L115.0 13.5M59.0 50.3L115.2 19.0M59.0 50.6L115.4 24.5M59.0 50.9L115.6 30.0M59.0 51.1L115.9 35.5M59.0 51.4L116.1 41.0M59.0 51.7L116.3 46.5M59.0 52.0L116.5 52.0" fill="none" stroke="#0c2f86" stroke-width="0.9" opacity="0.55"/>
<path d="M116.5 50 Q104.0 58 88.0 57 T60.0 52" fill="none" stroke="#0c2668" stroke-width="1.5" opacity="0.4"/>
<polygon points="174.0,51.0 167.0,42.0 155.0,31.0 138.0,20.0 118.0,13.5 116.5,50.0 129.0,56.0 143.0,58.0 159.0,56.0" fill="#2d66bc" stroke="#153f98" stroke-width="1.1" stroke-linejoin="round"/>
<polygon points="163.0,46.0 141.0,30.0 121.0,22.0 120.0,48.0 141.0,50.0" fill="#4c82d0" opacity="0.3"/>
<path d="M174.0 50.0L174.0 52.0M168.9 46.7L168.8 52.0M163.8 43.4L163.5 52.0M158.7 40.0L158.3 52.0M153.6 36.7L153.1 52.0M148.5 33.4L147.9 52.0M143.5 30.1L142.6 52.0M138.4 26.8L137.4 52.0M133.3 23.5L132.2 52.0M128.2 20.1L127.0 52.0M123.1 16.8L121.7 52.0M118.0 13.5L116.5 52.0M174.0 50.0L118.0 13.5M174.0 50.3L117.8 19.0M174.0 50.6L117.6 24.5M174.0 50.9L117.4 30.0M174.0 51.1L117.1 35.5M174.0 51.4L116.9 41.0M174.0 51.7L116.7 46.5M174.0 52.0L116.5 52.0" fill="none" stroke="#0c2f86" stroke-width="0.9" opacity="0.55"/>
<path d="M116.5 50 Q129.0 58 145.0 57 T173.0 52" fill="none" stroke="#0c2668" stroke-width="1.5" opacity="0.4"/>
<polygon points="15.6,18.4 16.6,18.3 17.8,18.0 19.2,17.7 20.7,17.4 22.4,17.1 24.1,16.7 25.9,16.4 27.8,16.0 29.7,15.7 31.6,15.4 33.5,15.2 35.3,15.0 36.8,14.9 38.2,14.8 39.7,14.7 41.2,14.6 42.7,14.5 44.3,14.5 45.8,14.5 47.4,14.4 49.1,14.4 50.7,14.4 52.5,14.4 54.2,14.4 56.1,14.4 58.0,14.5 59.9,14.5 61.4,14.5 62.9,14.6 64.5,14.6 66.1,14.6 67.8,14.7 69.5,14.8 71.3,14.8 73.1,14.9 74.9,14.9 76.7,15.0 78.5,15.1 80.3,15.2 82.0,15.3 83.8,15.3 85.5,15.4 87.2,15.5 88.8,15.6 90.4,15.7 91.9,15.8 93.4,15.9 94.7,16.0 96.8,16.2 98.6,16.4 100.4,16.6 102.1,16.8 103.7,17.1 105.3,17.3 106.8,17.6 108.3,17.8 109.9,18.0 111.5,18.2 113.1,18.4 114.8,18.5 116.5,18.5 118.3,18.5 119.9,18.4 121.6,18.2 123.1,18.0 124.7,17.8 126.2,17.5 127.7,17.3 129.3,17.0 130.9,16.8 132.6,16.5 134.3,16.3 136.2,16.1 138.2,16.0 139.6,15.9 141.0,15.8 142.5,15.8 144.1,15.7 145.7,15.6 147.4,15.5 149.1,15.5 150.8,15.4 152.6,15.4 154.4,15.3 156.1,15.3 157.9,15.2 159.7,15.2 161.5,15.1 163.3,15.1 165.0,15.1 166.7,15.0 168.3,15.0 169.9,15.0 171.5,15.0 173.0,15.0 174.9,15.0 176.8,15.0 178.7,15.0 180.5,15.0 182.3,15.0 184.0,15.0 185.7,15.1 187.4,15.1 189.1,15.1 190.7,15.2 192.2,15.3 193.8,15.4 195.3,15.5 196.7,15.6 198.1,15.8 199.5,16.0 201.3,16.3 203.1,16.6 204.9,17.1 206.7,17.6 208.4,18.1 210.1,18.6 211.7,19.2 213.2,19.7 214.6,20.2 215.9,20.7 217.0,21.0 218.0,21.3 220.0,14.7 219.2,14.4 218.2,14.0 216.9,13.6 215.5,13.1 214.0,12.6 212.3,12.0 210.5,11.4 208.6,10.8 206.6,10.3 204.6,9.8 202.6,9.4 200.5,9.0 199.0,8.8 197.4,8.7 195.8,8.5 194.2,8.4 192.6,8.3 191.0,8.2 189.3,8.1 187.6,8.1 185.9,8.1 184.1,8.0 182.3,8.0 180.5,8.0 178.7,8.0 176.8,8.0 174.9,8.0 173.0,8.0 171.5,8.0 169.9,8.0 168.3,8.0 166.6,8.0 164.9,8.1 163.1,8.1 161.4,8.1 159.6,8.2 157.8,8.2 156.0,8.3 154.2,8.3 152.4,8.4 150.6,8.4 148.8,8.5 147.1,8.5 145.4,8.6 143.8,8.7 142.2,8.8 140.7,8.8 139.2,8.9 137.8,9.0 135.6,9.2 133.6,9.4 131.7,9.6 129.9,9.9 128.2,10.1 126.6,10.4 125.1,10.6 123.6,10.9 122.2,11.1 120.8,11.3 119.4,11.4 118.0,11.5 116.5,11.5 115.0,11.5 113.6,11.4 112.2,11.3 110.8,11.1 109.4,10.9 107.9,10.7 106.4,10.4 104.8,10.2 103.1,9.9 101.4,9.6 99.5,9.4 97.4,9.2 95.3,9.0 93.8,8.9 92.4,8.8 90.8,8.7 89.2,8.6 87.6,8.5 85.9,8.4 84.1,8.4 82.4,8.3 80.6,8.2 78.8,8.1 77.0,8.0 75.1,8.0 73.3,7.9 71.6,7.8 69.8,7.8 68.0,7.7 66.3,7.6 64.7,7.6 63.1,7.6 61.5,7.5 60.1,7.5 58.1,7.5 56.2,7.4 54.3,7.4 52.5,7.4 50.7,7.4 49.0,7.4 47.3,7.4 45.7,7.5 44.1,7.5 42.5,7.5 40.9,7.6 39.3,7.7 37.8,7.8 36.2,7.9 34.7,8.0 32.7,8.2 30.7,8.5 28.6,8.8 26.6,9.1 24.7,9.5 22.8,9.8 21.0,10.2 19.3,10.6 17.8,10.9 16.4,11.2 15.3,11.4 14.4,11.6" fill="#2d66bc" stroke="#153f98" stroke-width="1.1" stroke-linejoin="round"/>
<polyline points="17.1,14.6 18.5,14.3 20.0,14.0 21.7,13.6 23.4,13.3 25.3,12.9 27.2,12.6 29.2,12.2 31.1,12.0 33.1,11.7 35.0,11.5 36.5,11.4 38.0,11.3 39.5,11.2 41.0,11.1 42.6,11.0 44.2,11.0 45.8,11.0 47.4,10.9 49.0,10.9 50.7,10.9 52.5,10.9 54.3,10.9 56.1,10.9 58.0,11.0 60.0,11.0 61.5,11.0 63.0,11.1 64.6,11.1 66.2,11.1 67.9,11.2 69.7,11.3 71.4,11.3 73.2,11.4 75.0,11.5 76.8,11.5 78.6,11.6 80.4,11.7 82.2,11.8 84.0,11.9 85.7,11.9 87.4,12.0 89.0,12.1 90.6,12.2 92.2,12.3 93.6,12.4 95.0,12.5 97.1,12.7 99.1,12.9 100.9,13.1 102.6,13.4 104.3,13.6 105.8,13.9 107.4,14.1 108.8,14.4 110.3,14.6 111.8,14.7 113.3,14.9 114.9,15.0 116.5,15.0 118.1,15.0 119.7,14.9 121.2,14.7 122.7,14.6 124.2,14.3 125.6,14.1 127.2,13.8 128.7,13.6 130.4,13.3 132.1,13.1 133.9,12.9 135.9,12.7 138.0,12.5 139.4,12.4 140.8,12.3 142.4,12.3 143.9,12.2 145.6,12.1 147.2,12.0 149.0,12.0 150.7,11.9 152.5,11.9 154.3,11.8 156.1,11.8 157.9,11.7 159.6,11.7 161.4,11.6 163.2,11.6 164.9,11.6 166.6,11.5 168.3,11.5 169.9,11.5 171.5,11.5 173.0,11.5 174.9,11.5 176.8,11.5 178.7,11.5 180.5,11.5 182.3,11.5 184.1,11.5 185.8,11.6 187.5,11.6 189.2,11.6 190.8,11.7 192.4,11.8 194.0,11.9 195.5,12.0 197.1,12.1 198.5,12.3 200.0,12.5 201.9,12.8 203.8,13.2 205.8,13.7 207.6,14.2 209.4,14.8 211.2,15.3 212.8,15.9 214.4,16.4 215.8,16.9 217.0,17.3" fill="none" stroke="#4c82d0" stroke-width="3.5" stroke-linecap="round" opacity="0.55"/>
<path d="M19.2 17.7L17.8 10.9M24.1 16.7L22.8 9.8M29.7 15.7L28.6 8.8M35.3 15.0L34.7 8.0M39.7 14.7L39.3 7.7M44.3 14.5L44.1 7.5M49.1 14.4L49.0 7.4M54.2 14.4L54.3 7.4M59.9 14.5L60.1 7.5M64.5 14.6L64.7 7.6M71.3 14.8L71.6 7.8M74.9 14.9L75.1 8.0M80.3 15.2L80.6 8.2M85.5 15.4L85.9 8.4M90.4 15.7L90.8 8.7M96.8 16.2L97.4 9.2M102.1 16.8L103.1 9.9M106.8 17.6L107.9 10.7M111.5 18.2L112.2 11.3M116.5 18.5L116.5 11.5M123.1 18.0L122.2 11.1M127.7 17.3L126.6 10.4M132.6 16.5L131.7 9.6M138.2 16.0L137.8 9.0M142.5 15.8L142.2 8.8M149.1 15.5L148.8 8.5M154.4 15.3L154.2 8.3M157.9 15.2L157.8 8.2M163.3 15.1L163.1 8.1M168.3 15.0L168.3 8.0M174.9 15.0L174.9 8.0M178.7 15.0L178.7 8.0M184.0 15.0L184.1 8.0M189.1 15.1L189.3 8.1M195.3 15.5L195.8 8.5M199.5 16.0L200.5 9.0M204.9 17.1L206.6 10.3M210.1 18.6L212.3 12.0M214.6 20.2L216.9 13.6M15.0 15.0L17.1 14.6L20.0 14.0L23.4 13.3L27.2 12.6L31.1 12.0L35.0 11.5L38.0 11.3L41.0 11.1L44.2 11.0L47.4 10.9L50.7 10.9L54.3 10.9L58.0 11.0L61.5 11.0L64.6 11.1L67.9 11.2L71.4 11.3L75.0 11.5L78.6 11.6L82.2 11.8L85.7 11.9L89.0 12.1L92.2 12.3L95.0 12.5L99.1 12.9L102.6 13.4L105.8 13.9L108.8 14.4L111.8 14.7L114.9 15.0L118.1 15.0L121.2 14.7L124.2 14.3L127.2 13.8L130.4 13.3L133.9 12.9L138.0 12.5L140.8 12.3L143.9 12.2L147.2 12.0L150.7 11.9L154.3 11.8L157.9 11.7L161.4 11.6L164.9 11.6L168.3 11.5L171.5 11.5L174.9 11.5L178.7 11.5L182.3 11.5L185.8 11.6L189.2 11.6L192.4 11.8L195.5 12.0L198.5 12.3L201.9 12.8L205.8 13.7L209.4 14.8L212.8 15.9L215.8 16.9L218.1 17.7L219.0 18.0" fill="none" stroke="#0c2f86" stroke-width="0.95" opacity="0.6"/>
<path d="M116.5 14 L116.5 56" stroke="#0a2060" stroke-width="1.2" fill="none" opacity="0.7"/>
<path d="M116.5 150 L111.7 205.9" stroke="#153f96" stroke-width="1.0" fill="none" opacity="0.5"/>
<path d="M60 110 Q62 126 72 140" stroke="#0c2668" stroke-width="2.4" fill="none" opacity="0.6" stroke-linecap="round"/>
<path d="M173 108 Q171 126 160 141" stroke="#0c2668" stroke-width="2.6" fill="none" opacity="0.6" stroke-linecap="round"/>
<path d="M112 146 L124 150" stroke="#0c2668" stroke-width="2.0" fill="none" opacity="0.6" stroke-linecap="round"/>
<polygon points="7.9,45.4 8.8,46.7 9.9,48.4 11.0,50.1 11.9,51.4 16.1,48.6 15.2,47.3 14.1,45.6 13.0,43.9 12.1,42.6" fill="#8cc8f0"/>
<path d="M9.9 48.4L14.1 45.6" fill="none" stroke="#0c2f86" stroke-width="0.7" opacity="0.4"/>
<polygon points="43.2,83.8 44.5,85.1 46.2,86.8 47.9,88.5 49.2,89.8 52.8,86.2 51.5,84.9 49.8,83.2 48.1,81.5 46.8,80.2" fill="#6fa4e6"/>
<path d="M46.2 86.8L49.8 83.2" fill="none" stroke="#0c2f86" stroke-width="0.7" opacity="0.4"/>
<polygon points="50.1,99.6 51.2,100.9 52.6,102.6 54.0,104.3 55.1,105.6 58.9,102.4 57.8,101.1 56.4,99.4 55.0,97.7 53.9,96.4" fill="#6fa4e6"/>
<path d="M52.6 102.6L56.4 99.4" fill="none" stroke="#0c2f86" stroke-width="0.7" opacity="0.4"/>
<polygon points="56.4,109.6 57.3,110.5 58.4,111.6 59.5,112.7 60.4,113.6 63.6,110.4 62.7,109.5 61.6,108.4 60.5,107.3 59.6,106.4" fill="#8cc8f0"/>
<path d="M58.4 111.6L61.6 108.4" fill="none" stroke="#0c2f86" stroke-width="0.7" opacity="0.4"/>
<polygon points="66.4,71.2 67.1,72.1 67.9,73.2 68.7,74.3 69.4,75.2 72.6,72.8 71.9,71.9 71.1,70.8 70.3,69.7 69.6,68.8" fill="#6fa4e6"/>
<path d="M68.7 74.3L71.9 71.9" fill="none" stroke="#0c2f86" stroke-width="0.7" opacity="0.4"/>
<polygon points="132.5,73.9 134.1,73.5 136.0,72.9 138.0,72.4 139.5,71.9 138.5,68.1 136.9,68.5 135.0,69.1 133.0,69.6 131.5,70.1" fill="#8cc8f0"/>
<path d="M136.0 72.9L135.0 69.1" fill="none" stroke="#0c2f86" stroke-width="0.7" opacity="0.4"/>
<polygon points="150.7,127.4 152.2,127.0 154.2,126.4 156.2,125.8 157.7,125.4 156.3,120.6 154.8,121.0 152.8,121.6 150.8,122.2 149.3,122.6" fill="#7fb4ec"/>
<path d="M154.2 126.4L152.8 121.6" fill="none" stroke="#0c2f86" stroke-width="0.7" opacity="0.4"/>
<polygon points="58.3,23.7 59.6,23.5 61.3,23.2 63.0,22.9 64.3,22.7 63.7,19.3 62.4,19.5 60.7,19.8 59.0,20.1 57.7,20.3" fill="#6fa4e6"/>
<path d="M61.3 23.2L60.7 19.8" fill="none" stroke="#0c2f86" stroke-width="0.7" opacity="0.4"/>
<polygon points="126.8,55.9 128.1,56.7 129.8,57.9 131.4,59.0 132.8,59.9 135.2,56.1 133.9,55.3 132.2,54.1 130.6,53.0 129.2,52.1" fill="#6fa4e6"/>
<path d="M129.8 57.9L132.2 54.1" fill="none" stroke="#0c2f86" stroke-width="0.7" opacity="0.4"/>
</g>
<path d="M16.0 13.0 L25.0 10.0 L35.0 8.2 L58.5 7.5 L93.7 9.0 L110.0 11.0 L116.4 11.7 L125.0 10.5 L146.8 9.4 L193.7 9.8 L212.4 14.0 L218.3 16.4 L220.0 25.0 L220.6 35.0 L223.0 47.0 L219.4 61.0 L220.6 70.0 L217.0 82.0 L214.8 93.7 L212.5 115.0 L212.2 126.7 L187.0 148.0 L140.0 185.0 L111.7 205.9 L82.0 178.4 L46.8 145.6 L24.6 124.5 L23.4 100.0 L22.5 90.0 L18.7 77.0 L15.2 63.0 L11.2 47.0 L12.9 35.0 L14.0 23.4Z" fill="none" stroke="#1a4fa8" stroke-width="0.8" opacity="0.8" filter="url(#soft)"/>
<clipPath id="cp"><polygon points="235.5,60.4 248.4,52.2 271.8,41.7 295.3,31.2 303.4,27.0 326.8,14.0 340.0,8.5 350.3,7.0 360.0,9.0 373.7,15.2 397.0,30.4 420.5,41.0 445.4,53.4 453.1,60.4 453.6,76.8 452.4,93.2 443.0,107.3 447.0,116.0 450.6,126.7 450.6,138.4 448.3,157.2 423.7,166.5 394.4,181.7 365.0,194.6 342.9,207.5 318.7,192.3 297.6,182.9 271.8,168.9 250.3,159.5 248.4,145.4 244.9,131.4 247.2,115.0 242.6,107.3 237.9,88.5 235.5,72.0"/></clipPath>
<g clip-path="url(#cp)" filter="url(#soft)">
<polygon points="235.5,60.4 248.4,52.2 271.8,41.7 295.3,31.2 303.4,27.0 326.8,14.0 340.0,8.5 350.3,7.0 360.0,9.0 373.7,15.2 397.0,30.4 420.5,41.0 445.4,53.4 453.1,60.4 453.6,76.8 452.4,93.2 443.0,107.3 447.0,116.0 450.6,126.7 450.6,138.4 448.3,157.2 423.7,166.5 394.4,181.7 365.0,194.6 342.9,207.5 318.7,192.3 297.6,182.9 271.8,168.9 250.3,159.5 248.4,145.4 244.9,131.4 247.2,115.0 242.6,107.3 237.9,88.5 235.5,72.0" fill="#ec3884"/>
<path d="M225.0 30.0L225.0 180.0M230.9 28.5L230.9 178.5M236.8 27.0L236.8 177.0M242.7 25.5L242.7 175.5M248.6 24.0L248.6 174.0M254.5 22.5L254.5 172.5M260.4 21.0L260.4 171.0M266.3 19.5L266.3 169.5M272.2 18.0L272.2 168.0M278.1 16.5L278.1 166.5M284.0 15.0L284.0 165.0M289.9 13.5L289.9 163.5M295.8 12.0L295.8 162.0M301.7 10.5L301.7 160.5M307.6 9.0L307.6 159.0M313.5 7.5L313.5 157.5M319.4 6.0L319.4 156.0M325.3 4.5L325.3 154.5M331.2 3.0L331.2 153.0M337.1 1.5L337.1 151.5M343.0 0.0L343.0 150.0M225.0 30.0L343.0 0.0M225.0 35.8L343.0 5.8M225.0 41.5L343.0 11.5M225.0 47.3L343.0 17.3M225.0 53.1L343.0 23.1M225.0 58.8L343.0 28.8M225.0 64.6L343.0 34.6M225.0 70.4L343.0 40.4M225.0 76.2L343.0 46.2M225.0 81.9L343.0 51.9M225.0 87.7L343.0 57.7M225.0 93.5L343.0 63.5M225.0 99.2L343.0 69.2M225.0 105.0L343.0 75.0M225.0 110.8L343.0 80.8M225.0 116.5L343.0 86.5M225.0 122.3L343.0 92.3M225.0 128.1L343.0 98.1M225.0 133.8L343.0 103.8M225.0 139.6L343.0 109.6M225.0 145.4L343.0 115.4M225.0 151.2L343.0 121.2M225.0 156.9L343.0 126.9M225.0 162.7L343.0 132.7M225.0 168.5L343.0 138.5M225.0 174.2L343.0 144.2M225.0 180.0L343.0 150.0" fill="none" stroke="#7c0c46" stroke-width="1.0" opacity="0.6"/>
<path d="M343.0 0.0L343.0 150.0M348.9 1.5L348.9 151.5M354.8 3.0L354.8 153.0M360.7 4.5L360.7 154.5M366.6 6.0L366.6 156.0M372.5 7.5L372.5 157.5M378.4 9.0L378.4 159.0M384.3 10.5L384.3 160.5M390.2 12.0L390.2 162.0M396.1 13.5L396.1 163.5M402.0 15.0L402.0 165.0M407.9 16.5L407.9 166.5M413.8 18.0L413.8 168.0M419.7 19.5L419.7 169.5M425.6 21.0L425.6 171.0M431.5 22.5L431.5 172.5M437.4 24.0L437.4 174.0M443.3 25.5L443.3 175.5M449.2 27.0L449.2 177.0M455.1 28.5L455.1 178.5M461.0 30.0L461.0 180.0M343.0 0.0L461.0 30.0M343.0 5.8L461.0 35.8M343.0 11.5L461.0 41.5M343.0 17.3L461.0 47.3M343.0 23.1L461.0 53.1M343.0 28.8L461.0 58.8M343.0 34.6L461.0 64.6M343.0 40.4L461.0 70.4M343.0 46.2L461.0 76.2M343.0 51.9L461.0 81.9M343.0 57.7L461.0 87.7M343.0 63.5L461.0 93.5M343.0 69.2L461.0 99.2M343.0 75.0L461.0 105.0M343.0 80.8L461.0 110.8M343.0 86.5L461.0 116.5M343.0 92.3L461.0 122.3M343.0 98.1L461.0 128.1M343.0 103.8L461.0 133.8M343.0 109.6L461.0 139.6M343.0 115.4L461.0 145.4M343.0 121.2L461.0 151.2M343.0 126.9L461.0 156.9M343.0 132.7L461.0 162.7M343.0 138.5L461.0 168.5M343.0 144.2L461.0 174.2M343.0 150.0L461.0 180.0" fill="none" stroke="#7c0c46" stroke-width="1.0" opacity="0.6"/>
<polygon points="244.0,108.0 250.3,159.5 342.9,207.5 342.9,130.0" fill="#ee3f88"/>
<polygon points="342.9,130.0 342.9,207.5 448.3,157.2 454.0,104.0" fill="#ea3a84"/>
<path d="M240.0 106.0L250.3 159.5M246.9 108.8L256.5 162.7M253.7 111.6L262.6 165.9M260.6 114.4L268.8 169.1M267.4 117.2L275.0 172.3M274.3 120.0L281.2 175.5M281.2 122.8L287.3 178.7M288.0 125.6L293.5 181.9M294.9 128.4L299.7 185.1M301.7 131.2L305.9 188.3M308.6 134.0L312.0 191.5M315.5 136.8L318.2 194.7M322.3 139.6L324.4 197.9M329.2 142.4L330.6 201.1M336.0 145.2L336.7 204.3M342.9 148.0L342.9 207.5M240.0 106.0Q291.4 127.0 342.9 148.0M241.1 111.9Q292.0 133.7 342.9 154.6M242.3 117.9Q292.6 140.4 342.9 161.2M243.4 123.8Q293.2 147.2 342.9 167.8M244.6 129.8Q293.7 153.9 342.9 174.4M245.7 135.7Q294.3 160.6 342.9 181.1M246.9 141.7Q294.9 167.3 342.9 187.7M248.0 147.6Q295.5 174.1 342.9 194.3M249.2 153.6Q296.0 180.8 342.9 200.9M250.3 159.5Q296.6 187.5 342.9 207.5" fill="none" stroke="#7c0c46" stroke-width="1.1" opacity="0.75"/>
<path d="M342.9 148.0L342.9 207.5M349.8 144.9L349.5 204.4M356.8 141.8L356.1 201.2M363.7 138.6L362.7 198.1M370.7 135.5L369.2 194.9M377.6 132.4L375.8 191.8M384.6 129.2L382.4 188.6M391.5 126.1L389.0 185.5M398.4 123.0L395.6 182.3M405.4 119.9L402.2 179.2M412.3 116.8L408.8 176.1M419.3 113.6L415.4 172.9M426.2 110.5L421.9 169.8M433.2 107.4L428.5 166.6M440.1 104.2L435.1 163.5M447.1 101.1L441.7 160.3M454.0 98.0L448.3 157.2M342.9 148.0Q398.4 123.0 454.0 98.0M342.9 154.6Q398.1 130.0 453.4 104.6M342.9 161.2Q397.8 137.1 452.7 111.2M342.9 167.8Q397.5 144.1 452.1 117.7M342.9 174.4Q397.2 151.2 451.5 124.3M342.9 181.1Q396.9 158.2 450.8 130.9M342.9 187.7Q396.5 165.2 450.2 137.5M342.9 194.3Q396.2 172.3 449.6 144.0M342.9 200.9Q395.9 179.3 448.9 150.6M342.9 207.5Q395.6 186.3 448.3 157.2" fill="none" stroke="#7c0c46" stroke-width="1.1" opacity="0.75"/>
<path d="M342.9 207.5 L365 194.6 L394.4 181.7 L423.7 166.5 L448.3 157.2" fill="none" stroke="#8c0e4e" stroke-width="22" opacity="0.42"/>
<path d="M250.3 159.5 L271.8 168.9 L297.6 182.9 L318.7 192.3 L342.9 207.5" fill="none" stroke="#8c0e4e" stroke-width="14" opacity="0.3"/>
<path d="M342.9 150 L342.9 207.5" fill="none" stroke="#8c0e4e" stroke-width="1.6" opacity="0.6"/>
<polygon points="300.0,30.0 350.0,8.0 400.0,30.0 400.0,100.0 300.0,100.0" fill="#bf1f6a"/>
<path d="M300.0 25.0L300.0 103.0M307.7 25.0L307.7 103.0M315.4 25.0L315.4 103.0M323.1 25.0L323.1 103.0M330.8 25.0L330.8 103.0M338.5 25.0L338.5 103.0M346.2 25.0L346.2 103.0M353.8 25.0L353.8 103.0M361.5 25.0L361.5 103.0M369.2 25.0L369.2 103.0M376.9 25.0L376.9 103.0M384.6 25.0L384.6 103.0M392.3 25.0L392.3 103.0M400.0 25.0L400.0 103.0M300.0 25.0L400.0 25.0M300.0 31.0L400.0 31.0M300.0 37.0L400.0 37.0M300.0 43.0L400.0 43.0M300.0 49.0L400.0 49.0M300.0 55.0L400.0 55.0M300.0 61.0L400.0 61.0M300.0 67.0L400.0 67.0M300.0 73.0L400.0 73.0M300.0 79.0L400.0 79.0M300.0 85.0L400.0 85.0M300.0 91.0L400.0 91.0M300.0 97.0L400.0 97.0M300.0 103.0L400.0 103.0" fill="none" stroke="#7c0c46" stroke-width="1.05" opacity="0.7"/>
<polygon points="299.3,40.0 300.2,40.1 301.3,40.2 302.6,40.3 304.1,40.5 305.7,40.7 307.4,40.9 309.2,41.1 311.1,41.3 313.1,41.5 315.0,41.7 317.0,41.9 319.0,42.1 320.9,42.2 322.8,42.4 324.6,42.5 326.3,42.6 328.0,42.7 329.7,42.7 331.4,42.8 333.1,42.8 334.8,42.9 336.5,42.9 338.2,42.9 339.9,43.0 341.6,43.0 343.3,43.0 345.0,43.0 346.7,43.0 348.3,43.0 350.0,43.0 351.7,43.0 353.3,43.0 355.0,43.0 356.7,43.0 358.4,43.0 360.1,43.0 361.8,42.9 363.5,42.9 365.2,42.9 366.9,42.8 368.6,42.8 370.3,42.7 372.0,42.7 373.7,42.6 375.4,42.5 377.2,42.4 379.1,42.2 381.0,42.1 383.0,41.9 385.0,41.7 386.9,41.5 388.9,41.3 390.8,41.1 392.6,40.9 394.3,40.7 395.9,40.5 397.4,40.3 398.7,40.2 399.8,40.1 400.7,40.0 399.3,26.0 398.3,26.1 397.1,26.3 395.8,26.4 394.3,26.6 392.7,26.8 391.0,27.0 389.2,27.2 387.4,27.4 385.5,27.6 383.6,27.8 381.7,27.9 379.8,28.1 378.0,28.3 376.2,28.4 374.6,28.5 373.0,28.6 371.4,28.7 369.7,28.7 368.1,28.8 366.5,28.9 364.8,28.9 363.2,28.9 361.6,28.9 359.9,29.0 358.3,29.0 356.6,29.0 355.0,29.0 353.3,29.0 351.7,29.0 350.0,29.0 348.3,29.0 346.7,29.0 345.0,29.0 343.4,29.0 341.7,29.0 340.1,29.0 338.4,28.9 336.8,28.9 335.2,28.9 333.5,28.9 331.9,28.8 330.3,28.7 328.6,28.7 327.0,28.6 325.4,28.5 323.8,28.4 322.0,28.3 320.2,28.1 318.3,27.9 316.4,27.8 314.5,27.6 312.6,27.4 310.8,27.2 309.0,27.0 307.3,26.8 305.7,26.6 304.2,26.4 302.9,26.3 301.7,26.1 300.7,26.0" fill="#ec3884" stroke="#9c1458" stroke-width="1.1" stroke-linejoin="round"/>
<polyline points="302.1,33.2 303.4,33.4 304.9,33.5 306.5,33.7 308.2,33.9 310.0,34.1 311.9,34.3 313.8,34.5 315.7,34.7 317.7,34.9 319.6,35.1 321.5,35.2 323.3,35.4 325.0,35.5 326.7,35.6 328.3,35.7 330.0,35.7 331.7,35.8 333.3,35.9 335.0,35.9 336.7,35.9 338.3,35.9 340.0,36.0 341.7,36.0 343.3,36.0 345.0,36.0 346.7,36.0 348.3,36.0 350.0,36.0 351.7,36.0 353.3,36.0 355.0,36.0 356.7,36.0 358.3,36.0 360.0,36.0 361.7,35.9 363.3,35.9 365.0,35.9 366.7,35.9 368.3,35.8 370.0,35.7 371.7,35.7 373.3,35.6 375.0,35.5 376.7,35.4 378.5,35.2 380.4,35.1 382.3,34.9 384.3,34.7 386.2,34.5 388.1,34.3 390.0,34.1 391.8,33.9 393.5,33.7 395.1,33.5 396.6,33.4 397.9,33.2" fill="none" stroke="#f65498" stroke-width="9.8" stroke-linecap="round" opacity="0.6"/>
<path d="M304.1 40.5L305.7 26.6M313.1 41.5L314.5 27.6M320.9 42.2L322.0 28.3M328.0 42.7L328.6 28.7M336.5 42.9L336.8 28.9M343.3 43.0L343.4 29.0M351.7 43.0L351.7 29.0M360.1 43.0L359.9 29.0M366.9 42.8L366.5 28.9M375.4 42.5L374.6 28.5M383.0 41.9L381.7 27.9M390.8 41.1L389.2 27.2M398.7 40.2L397.1 26.3M299.8 35.3L301.8 35.5L304.6 35.9L307.9 36.2L311.6 36.6L315.5 37.0L319.4 37.4L323.1 37.7L326.5 37.9L329.9 38.1L333.3 38.2L336.6 38.3L340.0 38.3L343.3 38.3L346.7 38.3L350.0 38.3L353.3 38.3L356.7 38.3L360.0 38.3L363.4 38.3L366.7 38.2L370.1 38.1L373.5 37.9L376.9 37.7L380.6 37.4L384.5 37.0L388.4 36.6L392.1 36.2L395.4 35.9L398.2 35.5L400.2 35.3L400.2 35.3M300.2 30.7L302.3 30.9L305.1 31.2L308.5 31.6L312.1 32.0L316.0 32.4L319.8 32.8L323.4 33.1L326.8 33.3L330.1 33.4L333.4 33.5L336.7 33.6L340.0 33.6L343.3 33.7L346.7 33.7L350.0 33.7L353.3 33.7L356.7 33.7L360.0 33.6L363.3 33.6L366.6 33.5L369.9 33.4L373.2 33.3L376.6 33.1L380.2 32.8L384.0 32.4L387.9 32.0L391.5 31.6L394.9 31.2L397.7 30.9L399.8 30.7L399.8 30.7" fill="none" stroke="#7c0c46" stroke-width="1.12" opacity="0.8"/>
<polygon points="299.3,66.5 300.2,66.6 301.4,66.7 302.7,66.8 304.1,67.0 305.8,67.2 307.5,67.4 309.3,67.6 311.2,67.8 313.1,68.0 315.1,68.2 317.1,68.4 319.0,68.6 320.9,68.7 322.8,68.9 324.6,69.0 326.3,69.1 328.0,69.2 329.8,69.2 331.5,69.3 333.2,69.3 334.9,69.4 336.6,69.4 338.2,69.4 339.9,69.5 341.6,69.5 343.3,69.5 345.0,69.5 346.7,69.5 348.3,69.5 350.0,69.5 351.7,69.5 353.3,69.5 355.0,69.5 356.7,69.5 358.4,69.5 360.1,69.5 361.8,69.4 363.4,69.4 365.1,69.4 366.8,69.3 368.5,69.3 370.2,69.2 372.0,69.2 373.7,69.1 375.4,69.0 377.2,68.9 379.1,68.7 381.0,68.6 382.9,68.4 384.9,68.2 386.9,68.0 388.8,67.8 390.7,67.6 392.5,67.4 394.2,67.2 395.9,67.0 397.3,66.8 398.6,66.7 399.8,66.6 400.7,66.5 399.3,53.5 398.4,53.6 397.2,53.8 395.9,53.9 394.4,54.1 392.8,54.3 391.1,54.5 389.3,54.7 387.4,54.9 385.5,55.1 383.6,55.3 381.7,55.4 379.8,55.6 378.0,55.8 376.3,55.9 374.6,56.0 373.0,56.1 371.4,56.2 369.8,56.2 368.1,56.3 366.5,56.4 364.9,56.4 363.2,56.4 361.6,56.4 359.9,56.5 358.3,56.5 356.6,56.5 355.0,56.5 353.3,56.5 351.7,56.5 350.0,56.5 348.3,56.5 346.7,56.5 345.0,56.5 343.4,56.5 341.7,56.5 340.1,56.5 338.4,56.4 336.8,56.4 335.1,56.4 333.5,56.4 331.9,56.3 330.2,56.2 328.6,56.2 327.0,56.1 325.4,56.0 323.7,55.9 322.0,55.8 320.2,55.6 318.3,55.4 316.4,55.3 314.5,55.1 312.6,54.9 310.7,54.7 308.9,54.5 307.2,54.3 305.6,54.1 304.1,53.9 302.8,53.8 301.6,53.6 300.7,53.5" fill="#ec3884" stroke="#9c1458" stroke-width="1.1" stroke-linejoin="round"/>
<polyline points="302.1,60.2 303.4,60.4 304.9,60.5 306.5,60.7 308.2,60.9 310.0,61.1 311.9,61.3 313.8,61.5 315.7,61.7 317.7,61.9 319.6,62.1 321.5,62.2 323.3,62.4 325.0,62.5 326.7,62.6 328.3,62.7 330.0,62.7 331.7,62.8 333.3,62.9 335.0,62.9 336.7,62.9 338.3,62.9 340.0,63.0 341.7,63.0 343.3,63.0 345.0,63.0 346.7,63.0 348.3,63.0 350.0,63.0 351.7,63.0 353.3,63.0 355.0,63.0 356.7,63.0 358.3,63.0 360.0,63.0 361.7,62.9 363.3,62.9 365.0,62.9 366.7,62.9 368.3,62.8 370.0,62.7 371.7,62.7 373.3,62.6 375.0,62.5 376.7,62.4 378.5,62.2 380.4,62.1 382.3,61.9 384.3,61.7 386.2,61.5 388.1,61.3 390.0,61.1 391.8,60.9 393.5,60.7 395.1,60.5 396.6,60.4 397.9,60.2" fill="none" stroke="#f65498" stroke-width="9.1" stroke-linecap="round" opacity="0.6"/>
<path d="M304.1 67.0L305.6 54.1M313.1 68.0L314.5 55.1M320.9 68.7L322.0 55.8M328.0 69.2L328.6 56.2M336.6 69.4L336.8 56.4M343.3 69.5L343.4 56.5M351.7 69.5L351.7 56.5M360.1 69.5L359.9 56.5M366.8 69.3L366.5 56.4M375.4 69.0L374.6 56.0M382.9 68.4L381.7 55.4M390.7 67.6L389.3 54.7M398.6 66.7L397.2 53.8M299.8 62.2L301.8 62.4L304.6 62.7L308.0 63.1L311.7 63.5L315.5 63.9L319.4 64.2L323.1 64.5L326.6 64.8L329.9 64.9L333.3 65.0L336.6 65.1L340.0 65.1L343.3 65.2L346.7 65.2L350.0 65.2L353.3 65.2L356.7 65.2L360.0 65.1L363.4 65.1L366.7 65.0L370.1 64.9L373.4 64.8L376.9 64.5L380.6 64.2L384.5 63.9L388.3 63.5L392.0 63.1L395.4 62.7L398.2 62.4L400.2 62.2L400.2 62.2M300.2 57.8L302.3 58.1L305.1 58.4L308.4 58.8L312.1 59.2L316.0 59.6L319.8 59.9L323.4 60.2L326.8 60.4L330.1 60.6L333.4 60.7L336.7 60.8L340.0 60.8L343.3 60.8L346.7 60.8L350.0 60.8L353.3 60.8L356.7 60.8L360.0 60.8L363.3 60.8L366.6 60.7L369.9 60.6L373.2 60.4L376.6 60.2L380.2 59.9L384.0 59.6L387.9 59.2L391.6 58.8L394.9 58.4L397.7 58.1L399.8 57.8L399.8 57.8" fill="none" stroke="#7c0c46" stroke-width="1.12" opacity="0.8"/>
<polygon points="299.6,79.0 300.5,79.1 301.6,79.2 303.0,79.3 304.4,79.5 306.0,79.7 307.8,79.9 309.6,80.1 311.5,80.3 313.4,80.5 315.3,80.7 317.3,80.9 319.2,81.1 321.2,81.2 323.0,81.4 324.8,81.5 326.5,81.6 328.2,81.7 329.8,81.7 331.5,81.8 333.2,81.9 334.9,81.9 336.6,81.9 338.3,81.9 340.0,82.0 341.6,82.0 343.3,82.0 345.0,82.0 346.7,82.0 348.3,82.0 350.0,82.0 351.7,82.0 353.3,82.0 355.0,82.0 356.7,82.0 358.4,82.0 360.0,82.0 361.7,81.9 363.4,81.9 365.1,81.9 366.8,81.9 368.5,81.8 370.2,81.7 371.8,81.7 373.5,81.6 375.2,81.5 377.0,81.4 378.8,81.2 380.8,81.1 382.7,80.9 384.7,80.7 386.6,80.5 388.5,80.3 390.4,80.1 392.2,79.9 394.0,79.7 395.6,79.5 397.0,79.3 398.4,79.2 399.5,79.1 400.4,79.0 399.6,71.0 398.6,71.1 397.5,71.2 396.2,71.4 394.7,71.6 393.1,71.7 391.4,71.9 389.6,72.1 387.7,72.3 385.8,72.5 383.9,72.7 381.9,72.9 380.0,73.1 378.2,73.3 376.4,73.4 374.8,73.5 373.1,73.6 371.5,73.7 369.8,73.7 368.2,73.8 366.6,73.9 364.9,73.9 363.3,73.9 361.6,73.9 360.0,74.0 358.3,74.0 356.6,74.0 355.0,74.0 353.3,74.0 351.7,74.0 350.0,74.0 348.3,74.0 346.7,74.0 345.0,74.0 343.4,74.0 341.7,74.0 340.0,74.0 338.4,73.9 336.7,73.9 335.1,73.9 333.4,73.9 331.8,73.8 330.2,73.7 328.5,73.7 326.9,73.6 325.2,73.5 323.6,73.4 321.8,73.3 320.0,73.1 318.1,72.9 316.1,72.7 314.2,72.5 312.3,72.3 310.4,72.1 308.6,71.9 306.9,71.7 305.3,71.6 303.8,71.4 302.5,71.2 301.4,71.1 300.4,71.0" fill="#ec3884" stroke="#9c1458" stroke-width="1.1" stroke-linejoin="round"/>
<polyline points="302.1,75.2 303.4,75.4 304.9,75.5 306.5,75.7 308.2,75.9 310.0,76.1 311.9,76.3 313.8,76.5 315.7,76.7 317.7,76.9 319.6,77.1 321.5,77.2 323.3,77.4 325.0,77.5 326.7,77.6 328.3,77.7 330.0,77.7 331.7,77.8 333.3,77.9 335.0,77.9 336.7,77.9 338.3,77.9 340.0,78.0 341.7,78.0 343.3,78.0 345.0,78.0 346.7,78.0 348.3,78.0 350.0,78.0 351.7,78.0 353.3,78.0 355.0,78.0 356.7,78.0 358.3,78.0 360.0,78.0 361.7,77.9 363.3,77.9 365.0,77.9 366.7,77.9 368.3,77.8 370.0,77.7 371.7,77.7 373.3,77.6 375.0,77.5 376.7,77.4 378.5,77.2 380.4,77.1 382.3,76.9 384.3,76.7 386.2,76.5 388.1,76.3 390.0,76.1 391.8,75.9 393.5,75.7 395.1,75.5 396.6,75.4 397.9,75.2" fill="none" stroke="#f65498" stroke-width="5.6" stroke-linecap="round" opacity="0.6"/>
<path d="M304.4 79.5L305.3 71.6M313.4 80.5L314.2 72.5M321.2 81.2L321.8 73.3M328.2 81.7L328.5 73.7M336.6 81.9L336.7 73.9M343.3 82.0L343.4 74.0M351.7 82.0L351.7 74.0M360.0 82.0L360.0 74.0M366.8 81.9L366.6 73.9M375.2 81.5L374.8 73.5M382.7 80.9L381.9 72.9M390.4 80.1L389.6 72.1M398.4 79.2L397.5 71.2M300.0 75.0L302.1 75.2L304.9 75.5L308.2 75.9L311.9 76.3L315.7 76.7L319.6 77.1L323.3 77.4L326.7 77.6L330.0 77.7L333.3 77.9L336.7 77.9L340.0 78.0L343.3 78.0L346.7 78.0L350.0 78.0L353.3 78.0L356.7 78.0L360.0 78.0L363.3 77.9L366.7 77.9L370.0 77.7L373.3 77.6L376.7 77.4L380.4 77.1L384.3 76.7L388.1 76.3L391.8 75.9L395.1 75.5L397.9 75.2L400.0 75.0L400.0 75.0" fill="none" stroke="#7c0c46" stroke-width="1.12" opacity="0.8"/>
<polygon points="299.4,94.5 300.4,94.6 301.5,94.7 302.8,94.8 304.3,95.0 305.9,95.2 307.6,95.4 309.4,95.6 311.3,95.8 313.2,96.0 315.2,96.2 317.2,96.4 319.1,96.6 321.0,96.7 322.9,96.9 324.7,97.0 326.4,97.1 328.1,97.2 329.8,97.2 331.5,97.3 333.2,97.3 334.9,97.4 336.6,97.4 338.3,97.4 339.9,97.5 341.6,97.5 343.3,97.5 345.0,97.5 346.7,97.5 348.3,97.5 350.0,97.5 351.7,97.5 353.3,97.5 355.0,97.5 356.7,97.5 358.4,97.5 360.1,97.5 361.7,97.4 363.4,97.4 365.1,97.4 366.8,97.3 368.5,97.3 370.2,97.2 371.9,97.2 373.6,97.1 375.3,97.0 377.1,96.9 379.0,96.7 380.9,96.6 382.8,96.4 384.8,96.2 386.8,96.0 388.7,95.8 390.6,95.6 392.4,95.4 394.1,95.2 395.7,95.0 397.2,94.8 398.5,94.7 399.6,94.6 400.6,94.5 399.4,83.5 398.5,83.6 397.3,83.8 396.0,83.9 394.5,84.1 392.9,84.3 391.2,84.5 389.4,84.6 387.5,84.9 385.6,85.1 383.7,85.2 381.8,85.4 379.9,85.6 378.1,85.8 376.3,85.9 374.7,86.0 373.0,86.1 371.4,86.2 369.8,86.2 368.2,86.3 366.5,86.4 364.9,86.4 363.2,86.4 361.6,86.4 359.9,86.5 358.3,86.5 356.6,86.5 355.0,86.5 353.3,86.5 351.7,86.5 350.0,86.5 348.3,86.5 346.7,86.5 345.0,86.5 343.4,86.5 341.7,86.5 340.1,86.5 338.4,86.4 336.8,86.4 335.1,86.4 333.5,86.4 331.8,86.3 330.2,86.2 328.6,86.2 327.0,86.1 325.3,86.0 323.7,85.9 321.9,85.8 320.1,85.6 318.2,85.4 316.3,85.2 314.4,85.1 312.5,84.9 310.6,84.6 308.8,84.5 307.1,84.3 305.5,84.1 304.0,83.9 302.7,83.8 301.5,83.6 300.6,83.5" fill="#ec3884" stroke="#9c1458" stroke-width="1.1" stroke-linejoin="round"/>
<polyline points="302.1,89.2 303.4,89.4 304.9,89.5 306.5,89.7 308.2,89.9 310.0,90.1 311.9,90.3 313.8,90.5 315.7,90.7 317.7,90.9 319.6,91.1 321.5,91.2 323.3,91.4 325.0,91.5 326.7,91.6 328.3,91.7 330.0,91.7 331.7,91.8 333.3,91.9 335.0,91.9 336.7,91.9 338.3,91.9 340.0,92.0 341.7,92.0 343.3,92.0 345.0,92.0 346.7,92.0 348.3,92.0 350.0,92.0 351.7,92.0 353.3,92.0 355.0,92.0 356.7,92.0 358.3,92.0 360.0,92.0 361.7,91.9 363.3,91.9 365.0,91.9 366.7,91.9 368.3,91.8 370.0,91.7 371.7,91.7 373.3,91.6 375.0,91.5 376.7,91.4 378.5,91.2 380.4,91.1 382.3,90.9 384.3,90.7 386.2,90.5 388.1,90.3 390.0,90.1 391.8,89.9 393.5,89.7 395.1,89.5 396.6,89.4 397.9,89.2" fill="none" stroke="#f65498" stroke-width="7.7" stroke-linecap="round" opacity="0.6"/>
<path d="M304.3 95.0L305.5 84.1M313.2 96.0L314.4 85.1M321.0 96.7L321.9 85.8M328.1 97.2L328.6 86.2M336.6 97.4L336.8 86.4M343.3 97.5L343.4 86.5M351.7 97.5L351.7 86.5M360.1 97.5L359.9 86.5M366.8 97.3L366.5 86.4M375.3 97.0L374.7 86.0M382.8 96.4L381.8 85.4M390.6 95.6L389.4 84.6M398.5 94.7L397.3 83.8M300.0 89.0L302.1 89.2L304.9 89.5L308.2 89.9L311.9 90.3L315.7 90.7L319.6 91.1L323.3 91.4L326.7 91.6L330.0 91.7L333.3 91.9L336.7 91.9L340.0 92.0L343.3 92.0L346.7 92.0L350.0 92.0L353.3 92.0L356.7 92.0L360.0 92.0L363.3 91.9L366.7 91.9L370.0 91.7L373.3 91.6L376.7 91.4L380.4 91.1L384.3 90.7L388.1 90.3L391.8 89.9L395.1 89.5L397.9 89.2L400.0 89.0L400.0 89.0" fill="none" stroke="#7c0c46" stroke-width="1.12" opacity="0.8"/>
<polygon points="308.0,28.0 350.0,8.0 394.0,28.0 350.0,30.0" fill="#ec3884"/>
<path d="M350 8L310.0 30M350 8L318.2 30M350 8L326.4 30M350 8L334.6 30M350 8L342.8 30M350 8L351.0 30M350 8L359.2 30M350 8L367.4 30M350 8L375.6 30M350 8L383.8 30M350 8L392.0 30" fill="none" stroke="#7c0c46" stroke-width="0.9" opacity="0.6"/>
<path d="M344.0 27.0 C344.7 25.5 347.0 18.0 348.0 18.0 C349.0 18.0 349.7 25.5 350.0 27.0" fill="none" stroke="#9c1458" stroke-width="1.5" stroke-linecap="round" opacity="0.9"/>
<polygon points="236.0,60.0 300.0,30.0 300.0,95.0 262.0,92.0" fill="#e4327c"/>
<polygon points="453.0,60.0 400.0,30.0 400.0,95.0 430.0,92.0" fill="#e4327c"/>
<path d="M236.0 60.0L262.0 92.0M242.4 57.0L265.8 92.3M248.8 54.0L269.6 92.6M255.2 51.0L273.4 92.9M261.6 48.0L277.2 93.2M268.0 45.0L281.0 93.5M274.4 42.0L284.8 93.8M280.8 39.0L288.6 94.1M287.2 36.0L292.4 94.4M293.6 33.0L296.2 94.7M300.0 30.0L300.0 95.0M236.0 60.0L300.0 30.0M239.2 64.0L300.0 38.1M242.5 68.0L300.0 46.2M245.8 72.0L300.0 54.4M249.0 76.0L300.0 62.5M252.2 80.0L300.0 70.6M255.5 84.0L300.0 78.8M258.8 88.0L300.0 86.9M262.0 92.0L300.0 95.0" fill="none" stroke="#7c0c46" stroke-width="0.9" opacity="0.6"/>
<path d="M400.0 30.0L400.0 95.0M405.3 33.0L403.0 94.7M410.6 36.0L406.0 94.4M415.9 39.0L409.0 94.1M421.2 42.0L412.0 93.8M426.5 45.0L415.0 93.5M431.8 48.0L418.0 93.2M437.1 51.0L421.0 92.9M442.4 54.0L424.0 92.6M447.7 57.0L427.0 92.3M453.0 60.0L430.0 92.0M400.0 30.0L453.0 60.0M400.0 38.1L450.1 64.0M400.0 46.2L447.2 68.0M400.0 54.4L444.4 72.0M400.0 62.5L441.5 76.0M400.0 70.6L438.6 80.0M400.0 78.8L435.8 84.0M400.0 86.9L432.9 88.0M400.0 95.0L430.0 92.0" fill="none" stroke="#7c0c46" stroke-width="0.9" opacity="0.6"/>
<path d="M252 62 L278 52 L274 68 Z" fill="#a8155c" opacity="0.8"/>
<path d="M440 64 L424 56 L426 69 Z" fill="#a8155c" opacity="0.8"/>
<polygon points="282.0,34.9 282.0,35.8 282.0,36.8 281.9,38.0 281.9,39.3 281.9,40.8 281.9,42.3 281.8,44.0 281.8,45.8 281.8,47.7 281.8,49.6 281.8,51.6 281.9,53.6 281.9,55.7 282.0,57.8 282.1,59.9 282.2,61.4 282.3,63.1 282.6,64.8 282.9,66.6 283.4,68.4 284.0,70.2 284.6,72.0 285.3,73.9 285.9,75.8 286.6,77.7 287.2,79.5 287.8,81.3 288.4,83.1 289.0,84.8 289.6,86.4 290.1,87.9 290.6,89.3 291.1,90.6 291.5,91.8 291.8,92.8 292.1,93.6 307.9,90.4 307.8,89.4 307.7,88.3 307.6,87.1 307.5,85.7 307.3,84.2 307.2,82.6 307.1,80.9 306.9,79.1 306.7,77.3 306.6,75.4 306.4,73.5 306.3,71.5 306.1,69.6 306.0,67.7 305.8,65.8 305.7,63.9 305.5,62.1 305.1,60.5 304.8,58.9 304.3,57.4 303.9,56.1 303.4,54.3 302.8,52.5 302.3,50.7 301.8,48.9 301.4,47.1 300.9,45.4 300.5,43.7 300.1,42.0 299.7,40.4 299.4,38.9 299.0,37.5 298.7,36.2 298.5,35.0 298.2,34.0 298.0,33.1" fill="#ec3884" stroke="#9c1458" stroke-width="1.6" stroke-linejoin="round"/>
<polyline points="290.2,35.9 290.3,37.1 290.5,38.4 290.6,39.9 290.8,41.4 291.0,43.0 291.2,44.7 291.4,46.5 291.6,48.4 291.8,50.3 292.1,52.2 292.4,54.1 292.7,56.1 293.0,58.0 293.3,59.4 293.5,61.0 293.9,62.6 294.2,64.4 294.5,66.1 294.9,68.0 295.3,69.9 295.7,71.7 296.1,73.7 296.5,75.6 296.9,77.4 297.3,79.3 297.7,81.1 298.0,82.8 298.4,84.5 298.7,86.0 299.0,87.5 299.3,88.8 299.6,90.0" fill="none" stroke="#f96fa9" stroke-width="11.5" stroke-linecap="round" opacity="0.8"/>
<path d="M281.9 38.0L298.7 36.2M281.9 42.3L299.7 40.4M281.8 47.7L300.9 45.4M281.8 51.6L301.8 48.9M281.9 55.7L302.8 52.5M282.2 61.4L304.3 57.4M282.9 66.6L305.5 62.1M284.0 70.2L305.8 65.8M285.3 73.9L306.1 69.6M287.2 79.5L306.6 75.4M288.4 83.1L306.9 79.1M289.6 86.4L307.2 82.6M291.1 90.6L307.6 87.1M285.2 34.6L285.3 36.5L285.3 39.0L285.4 42.0L285.6 45.4L285.7 49.1L286.0 53.0L286.3 57.1L286.6 60.6L287.1 63.9L287.9 67.5L288.9 71.2L290.0 74.9L291.1 78.7L292.1 82.3L293.1 85.6L294.0 88.6L294.7 91.1L295.3 93.0L295.3 93.0M288.4 34.2L288.6 36.1L288.8 38.6L289.0 41.6L289.3 45.0L289.6 48.6L290.0 52.5L290.5 56.4L291.0 59.8L291.6 63.1L292.3 66.6L293.2 70.3L294.1 74.1L294.9 77.8L295.8 81.5L296.6 84.9L297.4 87.9L298.0 90.4L298.4 92.3L298.4 92.3M291.6 33.8L291.9 35.7L292.2 38.2L292.6 41.2L293.0 44.5L293.5 48.1L294.1 51.9L294.8 55.7L295.5 59.0L296.1 62.2L296.8 65.7L297.4 69.4L298.1 73.2L298.8 77.0L299.5 80.7L300.2 84.1L300.7 87.1L301.2 89.7L301.6 91.7L301.6 91.7M294.8 33.4L295.2 35.4L295.6 37.9L296.1 40.8L296.8 44.1L297.5 47.6L298.2 51.3L299.1 55.0L299.9 58.2L300.6 61.3L301.2 64.8L301.7 68.5L302.2 72.4L302.7 76.2L303.2 79.9L303.7 83.3L304.1 86.4L304.5 89.0L304.7 91.0L304.7 91.0" fill="none" stroke="#7c0c46" stroke-width="1.12" opacity="0.8"/>
<polygon points="392.0,33.4 391.8,34.3 391.6,35.3 391.4,36.5 391.1,37.8 390.8,39.3 390.5,40.8 390.2,42.4 389.9,44.0 389.5,45.8 389.1,47.6 388.8,49.4 388.3,51.2 387.9,53.0 387.5,54.9 387.0,56.7 386.7,58.0 386.3,59.5 386.0,61.1 385.8,62.8 385.7,64.5 385.7,66.4 385.6,68.3 385.6,70.2 385.5,72.1 385.5,74.0 385.5,75.9 385.4,77.8 385.4,79.6 385.3,81.4 385.3,83.1 385.2,84.7 385.2,86.2 385.1,87.6 385.1,88.8 385.1,89.9 385.0,90.8 401.0,93.2 401.2,92.3 401.5,91.3 401.8,90.1 402.2,88.8 402.6,87.4 403.0,85.8 403.5,84.2 404.0,82.5 404.5,80.7 405.0,78.9 405.5,77.1 406.1,75.2 406.6,73.3 407.1,71.4 407.6,69.6 408.1,67.7 408.6,65.9 408.8,64.2 409.0,62.5 409.0,60.9 409.0,59.3 409.0,57.3 408.9,55.2 408.9,53.2 408.8,51.2 408.8,49.2 408.7,47.3 408.6,45.4 408.5,43.7 408.4,42.0 408.4,40.4 408.3,39.0 408.2,37.7 408.1,36.5 408.1,35.5 408.0,34.6" fill="#ec3884" stroke="#9c1458" stroke-width="1.6" stroke-linejoin="round"/>
<polyline points="399.9,35.9 399.8,37.1 399.7,38.4 399.6,39.9 399.5,41.4 399.4,43.0 399.2,44.7 399.1,46.5 399.0,48.4 398.8,50.3 398.6,52.2 398.4,54.1 398.2,56.1 398.0,58.0 397.8,59.4 397.6,61.0 397.4,62.6 397.2,64.4 396.9,66.1 396.6,68.0 396.4,69.9 396.1,71.7 395.8,73.7 395.5,75.6 395.2,77.4 395.0,79.3 394.7,81.1 394.4,82.8 394.2,84.5 393.9,86.0 393.7,87.5 393.5,88.8 393.3,90.0" fill="none" stroke="#f96fa9" stroke-width="11.5" stroke-linecap="round" opacity="0.8"/>
<path d="M391.4 36.5L408.2 37.7M390.5 40.8L408.4 42.0M389.5 45.8L408.7 47.3M388.8 49.4L408.8 51.2M387.5 54.9L409.0 57.3M386.7 58.0L409.0 60.9M385.8 62.8L408.6 65.9M385.7 66.4L407.6 69.6M385.6 70.2L406.6 73.3M385.5 75.9L405.0 78.9M385.4 79.6L404.0 82.5M385.2 84.7L402.6 87.4M385.1 88.8L401.5 91.3M395.2 33.6L394.9 35.6L394.5 38.1L394.1 41.0L393.6 44.3L393.1 47.9L392.5 51.6L391.8 55.3L391.1 58.6L390.6 61.7L390.2 65.2L389.9 68.9L389.7 72.7L389.4 76.5L389.1 80.2L388.8 83.6L388.6 86.7L388.4 89.3L388.2 91.3L388.2 91.3M398.4 33.9L398.2 35.8L398.0 38.3L397.7 41.3L397.4 44.6L397.0 48.2L396.6 52.0L396.1 55.8L395.6 59.2L395.1 62.3L394.7 65.8L394.2 69.5L393.8 73.3L393.3 77.1L392.8 80.8L392.4 84.2L392.0 87.2L391.7 89.8L391.4 91.8L391.4 91.8M401.6 34.1L401.5 36.0L401.4 38.5L401.3 41.5L401.1 44.9L400.9 48.5L400.7 52.4L400.4 56.3L400.1 59.7L399.7 62.9L399.2 66.5L398.5 70.2L397.9 74.0L397.2 77.7L396.5 81.4L395.9 84.7L395.4 87.8L394.9 90.3L394.6 92.2L394.6 92.2M404.8 34.4L404.8 36.3L404.8 38.8L404.9 41.8L404.9 45.2L404.9 48.9L404.8 52.8L404.7 56.8L404.5 60.3L404.2 63.6L403.6 67.1L402.8 70.8L402.0 74.6L401.1 78.3L400.3 81.9L399.5 85.3L398.8 88.3L398.2 90.8L397.8 92.7L397.8 92.7" fill="none" stroke="#7c0c46" stroke-width="1.12" opacity="0.8"/>
<polygon points="235.8,66.9 236.6,66.5 237.5,66.1 238.5,65.6 239.6,65.1 240.8,64.5 242.1,63.9 243.5,63.3 244.9,62.6 246.4,62.0 247.9,61.2 249.5,60.5 251.2,59.8 252.8,59.0 254.5,58.2 256.2,57.4 257.9,56.6 259.7,55.8 261.4,55.1 263.0,54.3 264.7,53.5 266.3,52.8 267.9,52.0 269.5,51.3 271.0,50.6 272.4,50.0 273.8,49.4 275.4,48.6 277.0,47.9 278.6,47.2 280.2,46.5 281.7,45.8 283.3,45.1 284.8,44.4 286.3,43.8 287.9,43.1 289.3,42.4 290.8,41.8 292.3,41.1 293.7,40.5 295.2,39.8 296.6,39.2 298.0,38.6 299.4,37.9 300.8,37.3 302.2,36.6 303.5,36.0 304.9,35.3 306.5,34.5 308.1,33.7 309.7,32.8 311.2,32.0 312.7,31.2 314.1,30.3 315.6,29.5 316.9,28.7 318.3,27.9 319.6,27.2 321.0,26.4 322.3,25.7 323.6,25.0 324.9,24.3 326.2,23.6 327.5,23.0 328.8,22.4 330.3,21.7 331.9,21.0 333.6,20.3 335.3,19.7 337.1,19.0 338.8,18.4 340.6,17.7 342.2,17.2 343.9,16.6 345.4,16.1 346.9,15.6 348.3,15.1 349.5,14.7 350.6,14.3 351.4,14.0 348.6,6.0 347.7,6.3 346.7,6.7 345.5,7.1 344.2,7.5 342.7,8.0 341.1,8.6 339.5,9.1 337.7,9.7 335.9,10.4 334.1,11.0 332.3,11.7 330.5,12.4 328.7,13.1 326.9,13.9 325.2,14.6 323.8,15.3 322.4,16.0 320.9,16.7 319.5,17.5 318.2,18.2 316.8,19.0 315.4,19.8 314.1,20.6 312.7,21.4 311.3,22.2 309.9,23.0 308.5,23.8 307.1,24.6 305.6,25.3 304.2,26.1 302.7,26.9 301.1,27.7 299.8,28.3 298.5,28.9 297.2,29.6 295.8,30.2 294.5,30.8 293.1,31.5 291.7,32.1 290.3,32.7 288.8,33.4 287.4,34.0 285.9,34.7 284.4,35.3 282.9,36.0 281.4,36.6 279.9,37.3 278.3,38.0 276.7,38.7 275.1,39.4 273.5,40.2 271.9,40.9 270.2,41.6 268.9,42.3 267.4,42.9 265.9,43.6 264.4,44.3 262.8,45.0 261.2,45.8 259.5,46.6 257.8,47.3 256.1,48.1 254.4,48.9 252.7,49.7 251.0,50.5 249.3,51.3 247.6,52.0 246.0,52.8 244.4,53.5 242.8,54.2 241.3,54.9 239.9,55.6 238.5,56.2 237.2,56.8 236.0,57.4 234.9,57.9 233.9,58.4 233.0,58.8 232.2,59.1" fill="#ec3884" stroke="#9c1458" stroke-width="1.1" stroke-linejoin="round"/>
<polyline points="235.7,62.2 236.7,61.8 237.8,61.2 239.0,60.7 240.3,60.1 241.7,59.5 243.1,58.8 244.6,58.1 246.2,57.4 247.8,56.6 249.4,55.9 251.1,55.1 252.8,54.3 254.5,53.6 256.2,52.8 257.9,52.0 259.6,51.2 261.3,50.4 262.9,49.7 264.6,48.9 266.2,48.2 267.7,47.5 269.2,46.8 270.6,46.1 272.0,45.5 273.6,44.8 275.3,44.0 276.9,43.3 278.4,42.6 280.0,41.9 281.6,41.2 283.1,40.5 284.6,39.9 286.1,39.2 287.6,38.5 289.1,37.9 290.6,37.2 292.0,36.6 293.4,36.0 294.9,35.3 296.3,34.7 297.6,34.1 299.0,33.4 300.3,32.8 301.7,32.1 303.0,31.5 304.6,30.7 306.2,29.9 307.7,29.1 309.1,28.3 310.6,27.5 312.0,26.7 313.4,25.9 314.8,25.1 316.2,24.3 317.5,23.5 318.9,22.7 320.2,22.0 321.6,21.2 322.9,20.5 324.3,19.8 325.6,19.1 327.0,18.5 328.6,17.8 330.3,17.1 332.0,16.4 333.8,15.7 335.6,15.0 337.4,14.4 339.1,13.7 340.9,13.1 342.5,12.6 344.1,12.0 345.5,11.5 346.9,11.1 348.1,10.7" fill="none" stroke="#f65498" stroke-width="4.2" stroke-linecap="round" opacity="0.45"/>
<polyline points="233.6,60.1 234.5,59.7 235.5,59.2 236.6,58.7 237.9,58.1 239.1,57.5 240.5,56.9 241.9,56.2 243.4,55.6 245.0,54.8 246.6,54.1 248.2,53.3 249.9,52.6 251.6,51.8 253.3,51.0 255.0,50.2 256.7,49.4 258.4,48.7 260.1,47.9 261.8,47.1 263.4,46.4 265.0,45.6 266.5,44.9 268.0,44.2 269.5,43.6 270.8,42.9 272.5,42.2 274.1,41.5 275.7,40.7 277.3,40.0 278.9,39.3 280.4,38.6 282.0,38.0 283.5,37.3 285.0,36.6 286.5,36.0 288.0,35.3 289.4,34.7 290.9,34.0 292.3,33.4 293.7,32.8 295.1,32.1 296.5,31.5 297.8,30.9 299.1,30.2 300.5,29.6 301.8,29.0 303.3,28.2 304.8,27.4 306.3,26.6 307.8,25.8 309.2,25.0 310.6,24.2 312.0,23.4 313.4,22.6 314.8,21.8 316.1,21.0 317.5,20.3 318.9,19.5 320.2,18.8 321.6,18.0 323.0,17.3 324.4,16.6 325.8,15.9 327.5,15.2 329.2,14.5 331.0,13.8 332.8,13.1 334.6,12.4 336.4,11.7 338.2,11.1 339.9,10.5 341.6,9.9 343.2,9.4 344.6,8.9 346.0,8.4 347.2,8.0 348.2,7.7" fill="none" stroke="#9c1458" stroke-width="2.9" opacity="0.35"/>
<path d="M239.6 65.1L236.0 57.4M243.5 63.3L239.9 55.6M247.9 61.2L244.4 53.5M252.8 59.0L249.3 51.3M257.9 56.6L254.4 48.9M261.4 55.1L257.8 47.3M266.3 52.8L262.8 45.0M271.0 50.6L267.4 42.9M275.4 48.6L271.9 40.9M280.2 46.5L276.7 38.7M284.8 44.4L281.4 36.6M289.3 42.4L285.9 34.7M293.7 40.5L290.3 32.7M298.0 38.6L294.5 30.8M303.5 36.0L299.8 28.3M308.1 33.7L304.2 26.1M312.7 31.2L308.5 23.8M316.9 28.7L312.7 21.4M321.0 26.4L316.8 19.0M324.9 24.3L320.9 16.7M328.8 22.4L325.2 14.6M333.6 20.3L330.5 12.4M338.8 18.4L335.9 10.4M342.2 17.2L339.5 9.1M348.3 15.1L345.5 7.1M234.0 63.0L235.7 62.2L237.8 61.2L240.3 60.1L243.1 58.8L246.2 57.4L249.4 55.9L252.8 54.3L256.2 52.8L259.6 51.2L262.9 49.7L266.2 48.2L269.2 46.8L272.0 45.5L275.3 44.0L278.4 42.6L281.6 41.2L284.6 39.9L287.6 38.5L290.6 37.2L293.4 36.0L296.3 34.7L299.0 33.4L301.7 32.1L304.6 30.7L307.7 29.1L310.6 27.5L313.4 25.9L316.2 24.3L318.9 22.7L321.6 21.2L324.3 19.8L327.0 18.5L330.3 17.1L333.8 15.7L337.4 14.4L340.9 13.1L344.1 12.0L346.9 11.1L349.1 10.3L350.0 10.0" fill="none" stroke="#7c0c46" stroke-width="1.12" opacity="0.8"/>
<polygon points="348.5,14.0 349.3,14.3 350.4,14.7 351.6,15.1 352.9,15.6 354.3,16.1 355.8,16.6 357.4,17.2 359.1,17.8 360.8,18.5 362.5,19.1 364.2,19.8 365.9,20.5 367.5,21.2 369.1,21.9 370.6,22.6 372.1,23.3 373.4,24.0 374.8,24.8 376.1,25.6 377.5,26.4 378.9,27.3 380.3,28.3 381.7,29.2 383.1,30.2 384.5,31.1 386.0,32.1 387.4,33.1 388.9,34.1 390.4,35.0 391.9,36.0 393.4,36.9 395.0,37.7 396.5,38.5 398.0,39.3 399.5,40.0 400.9,40.7 402.4,41.3 403.8,42.0 405.2,42.6 406.7,43.2 408.1,43.8 409.6,44.4 411.0,45.1 412.6,45.7 414.1,46.4 415.7,47.2 417.4,48.0 419.1,48.8 420.3,49.4 421.7,50.1 423.1,50.8 424.5,51.6 426.0,52.4 427.6,53.2 429.2,54.0 430.9,54.9 432.5,55.8 434.2,56.7 435.8,57.6 437.5,58.4 439.1,59.3 440.7,60.2 442.3,61.0 443.8,61.8 445.3,62.6 446.6,63.3 448.0,64.0 449.2,64.7 450.3,65.3 451.3,65.9 452.2,66.3 453.0,66.8 457.0,59.2 456.2,58.8 455.3,58.4 454.3,57.8 453.2,57.2 452.0,56.6 450.7,55.9 449.3,55.1 447.8,54.3 446.3,53.5 444.7,52.7 443.1,51.8 441.5,50.9 439.8,50.1 438.2,49.2 436.5,48.3 434.8,47.4 433.2,46.5 431.6,45.7 430.0,44.8 428.4,44.0 427.0,43.3 425.5,42.5 424.2,41.8 422.9,41.2 421.1,40.3 419.3,39.5 417.6,38.7 416.0,38.0 414.4,37.3 412.9,36.6 411.4,36.0 410.0,35.4 408.6,34.8 407.2,34.2 405.8,33.6 404.5,33.0 403.1,32.3 401.8,31.7 400.4,31.0 399.0,30.3 397.7,29.5 396.3,28.7 394.9,27.8 393.5,26.9 392.1,26.0 390.7,25.1 389.3,24.1 387.9,23.1 386.5,22.2 385.0,21.2 383.6,20.2 382.1,19.3 380.6,18.3 379.1,17.4 377.5,16.5 375.9,15.7 374.3,14.9 372.6,14.1 370.9,13.4 369.1,12.6 367.3,11.9 365.6,11.2 363.8,10.5 362.0,9.9 360.4,9.2 358.7,8.6 357.2,8.1 355.8,7.6 354.5,7.1 353.3,6.7 352.3,6.3 351.5,6.0" fill="#ec3884" stroke="#9c1458" stroke-width="1.1" stroke-linejoin="round"/>
<polyline points="351.9,10.7 353.0,11.1 354.3,11.6 355.8,12.1 357.3,12.6 358.9,13.2 360.6,13.8 362.3,14.5 364.0,15.2 365.8,15.8 367.5,16.6 369.2,17.3 370.9,18.0 372.5,18.8 374.0,19.5 375.5,20.3 376.9,21.1 378.4,22.0 379.8,22.9 381.2,23.8 382.7,24.7 384.1,25.7 385.5,26.7 386.9,27.6 388.3,28.6 389.8,29.6 391.2,30.5 392.6,31.4 394.1,32.3 395.5,33.2 397.0,34.0 398.5,34.8 399.9,35.5 401.3,36.2 402.7,36.8 404.1,37.5 405.5,38.1 406.9,38.7 408.3,39.3 409.8,39.9 411.2,40.5 412.7,41.2 414.3,41.8 415.9,42.6 417.5,43.3 419.2,44.1 421.0,45.0 422.3,45.6 423.6,46.3 425.0,47.0 426.5,47.8 428.0,48.6 429.6,49.4 431.2,50.3 432.9,51.1 434.5,52.0 436.2,52.9 437.8,53.8 439.5,54.7 441.1,55.6 442.7,56.4 444.3,57.3 445.8,58.1 447.3,58.9 448.7,59.6 450.0,60.3 451.2,61.0 452.3,61.6 453.3,62.1" fill="none" stroke="#f65498" stroke-width="4.2" stroke-linecap="round" opacity="0.45"/>
<polyline points="351.8,7.7 352.8,8.1 354.0,8.5 355.3,8.9 356.7,9.5 358.2,10.0 359.9,10.6 361.5,11.2 363.3,11.9 365.0,12.5 366.8,13.2 368.6,14.0 370.3,14.7 372.0,15.5 373.7,16.2 375.3,17.0 376.8,17.8 378.3,18.7 379.8,19.6 381.3,20.5 382.8,21.4 384.2,22.4 385.7,23.4 387.1,24.3 388.5,25.3 389.9,26.3 391.3,27.2 392.7,28.2 394.1,29.1 395.5,29.9 396.9,30.7 398.3,31.5 399.7,32.3 401.1,33.0 402.5,33.6 403.9,34.3 405.2,34.9 406.6,35.5 408.0,36.1 409.4,36.7 410.8,37.3 412.3,37.9 413.8,38.6 415.4,39.3 417.0,40.0 418.7,40.8 420.4,41.6 422.2,42.5 423.5,43.1 424.9,43.8 426.3,44.5 427.8,45.3 429.3,46.1 430.9,46.9 432.5,47.8 434.2,48.7 435.8,49.6 437.5,50.4 439.2,51.3 440.8,52.2 442.5,53.1 444.1,53.9 445.6,54.8 447.1,55.6 448.6,56.4 450.0,57.1 451.3,57.8 452.5,58.5 453.6,59.1 454.6,59.6 455.5,60.1" fill="none" stroke="#9c1458" stroke-width="2.9" opacity="0.35"/>
<path d="M351.6 15.1L354.5 7.1M357.4 17.2L360.4 9.2M360.8 18.5L363.8 10.5M365.9 20.5L369.1 12.6M370.6 22.6L374.3 14.9M374.8 24.8L379.1 17.4M378.9 27.3L383.6 20.2M383.1 30.2L387.9 23.1M387.4 33.1L392.1 26.0M391.9 36.0L396.3 28.7M395.0 37.7L399.0 30.3M400.9 40.7L404.5 33.0M405.2 42.6L408.6 34.8M409.6 44.4L412.9 36.6M414.1 46.4L417.6 38.7M419.1 48.8L422.9 41.2M423.1 50.8L427.0 43.3M427.6 53.2L431.6 45.7M432.5 55.8L436.5 48.3M435.8 57.6L439.8 50.1M440.7 60.2L444.7 52.7M445.3 62.6L449.3 55.1M449.2 64.7L453.2 57.2M350.0 10.0L351.9 10.7L354.3 11.6L357.3 12.6L360.6 13.8L364.0 15.2L367.5 16.6L370.9 18.0L374.0 19.5L376.9 21.1L379.8 22.9L382.7 24.7L385.5 26.7L388.3 28.6L391.2 30.5L394.1 32.3L397.0 34.0L399.9 35.5L402.7 36.8L405.5 38.1L408.3 39.3L411.2 40.5L414.3 41.8L417.5 43.3L421.0 45.0L423.6 46.3L426.5 47.8L429.6 49.4L432.9 51.1L436.2 52.9L439.5 54.7L442.7 56.4L445.8 58.1L448.7 59.6L451.2 61.0L453.3 62.1L455.0 63.0L455.0 63.0" fill="none" stroke="#7c0c46" stroke-width="1.12" opacity="0.8"/>
<path d="M238.0 111.5 C242.5 114.0 254.7 121.8 265.0 126.5 C275.3 131.2 290.0 136.2 300.0 139.5 C310.0 142.8 318.3 144.7 325.0 146.0 C331.7 147.3 333.8 148.1 340.0 147.5 C346.2 146.9 353.3 145.1 362.0 142.5 C370.7 139.9 381.5 136.0 392.0 132.0 C402.5 128.0 414.5 123.1 425.0 118.5 C435.5 113.9 450.0 106.8 455.0 104.5" fill="none" stroke="#a8155c" stroke-width="5" stroke-linecap="round" opacity="0.9"/>
<polygon points="235.2,111.0 235.9,111.4 236.8,111.9 237.7,112.5 238.8,113.1 240.0,113.9 241.3,114.6 242.7,115.5 244.1,116.3 245.6,117.2 247.2,118.1 248.8,119.0 250.5,120.0 252.2,120.9 253.9,121.9 255.6,122.8 257.4,123.7 259.1,124.6 260.9,125.4 262.6,126.2 264.1,126.9 265.5,127.5 267.0,128.1 268.6,128.8 270.1,129.4 271.7,130.0 273.3,130.7 274.9,131.3 276.6,131.9 278.2,132.5 279.8,133.1 281.5,133.7 283.1,134.3 284.7,134.9 286.4,135.5 287.9,136.0 289.5,136.6 291.1,137.1 292.6,137.6 294.0,138.1 295.5,138.6 296.9,139.0 298.2,139.5 300.1,140.1 302.0,140.7 303.8,141.2 305.6,141.7 307.3,142.2 309.1,142.7 310.7,143.1 312.3,143.5 313.9,143.9 315.5,144.3 317.0,144.7 318.4,145.0 319.9,145.3 321.2,145.6 322.6,145.9 323.9,146.1 325.9,146.6 327.7,146.9 329.4,147.3 331.1,147.6 332.8,147.8 334.6,147.9 336.4,147.9 338.4,147.9 340.5,147.7 342.0,147.6 343.5,147.4 345.0,147.1 346.6,146.9 348.2,146.6 349.8,146.2 351.4,145.8 353.0,145.5 354.7,145.0 356.4,144.6 358.2,144.1 360.0,143.6 361.8,143.1 363.6,142.5 365.1,142.1 366.5,141.6 368.0,141.2 369.5,140.7 371.1,140.2 372.6,139.6 374.2,139.1 375.8,138.6 377.4,138.0 379.0,137.4 380.7,136.8 382.3,136.2 384.0,135.6 385.7,135.0 387.3,134.4 389.0,133.8 390.7,133.1 392.4,132.5 394.0,131.9 395.5,131.3 397.0,130.8 398.5,130.2 400.0,129.6 401.5,129.0 403.0,128.4 404.5,127.8 406.1,127.2 407.6,126.5 409.1,125.9 410.7,125.3 412.2,124.7 413.8,124.0 415.3,123.4 416.8,122.7 418.4,122.1 419.9,121.5 421.4,120.8 422.9,120.2 424.4,119.5 425.8,118.9 427.3,118.3 428.9,117.6 430.6,116.8 432.3,116.0 434.1,115.2 435.8,114.4 437.6,113.6 439.4,112.8 441.1,112.0 442.8,111.2 444.5,110.4 446.2,109.6 447.8,108.8 449.3,108.1 450.8,107.4 452.2,106.7 453.4,106.1 454.6,105.5 455.7,105.0 456.6,104.6 457.4,104.2 452.6,93.8 451.7,94.2 450.8,94.6 449.7,95.2 448.5,95.7 447.2,96.3 445.8,97.0 444.4,97.7 442.8,98.4 441.2,99.2 439.6,100.0 437.9,100.8 436.2,101.6 434.5,102.4 432.7,103.2 431.0,104.0 429.3,104.8 427.6,105.6 425.9,106.3 424.3,107.0 422.7,107.7 421.3,108.4 419.8,109.0 418.4,109.6 416.9,110.2 415.4,110.9 413.9,111.5 412.4,112.1 410.9,112.8 409.4,113.4 407.8,114.0 406.3,114.6 404.8,115.3 403.3,115.9 401.8,116.5 400.2,117.1 398.7,117.7 397.2,118.3 395.8,118.9 394.3,119.5 392.8,120.0 391.4,120.6 390.0,121.1 388.3,121.8 386.7,122.4 385.0,123.0 383.3,123.6 381.7,124.2 380.1,124.8 378.4,125.4 376.8,126.0 375.2,126.6 373.6,127.1 372.0,127.7 370.5,128.2 368.9,128.7 367.4,129.2 366.0,129.7 364.5,130.2 363.1,130.7 361.7,131.1 360.4,131.5 358.6,132.0 356.8,132.5 355.1,133.0 353.4,133.5 351.8,133.9 350.3,134.3 348.8,134.7 347.3,135.0 345.9,135.3 344.5,135.6 343.2,135.8 341.9,136.0 340.7,136.1 339.5,136.3 337.8,136.4 336.4,136.4 335.1,136.4 334.0,136.3 332.8,136.2 331.5,136.0 330.0,135.7 328.2,135.3 326.1,134.9 324.9,134.6 323.6,134.3 322.3,134.1 320.9,133.8 319.6,133.5 318.1,133.1 316.7,132.8 315.2,132.4 313.6,132.0 312.0,131.6 310.4,131.1 308.8,130.7 307.1,130.2 305.4,129.7 303.6,129.1 301.8,128.5 300.5,128.1 299.1,127.7 297.7,127.2 296.2,126.7 294.8,126.2 293.2,125.7 291.7,125.2 290.1,124.6 288.6,124.1 287.0,123.5 285.4,122.9 283.8,122.3 282.2,121.7 280.6,121.2 279.0,120.6 277.5,120.0 275.9,119.3 274.4,118.7 272.9,118.1 271.5,117.5 270.1,116.9 268.7,116.3 267.4,115.8 265.8,115.0 264.2,114.3 262.6,113.5 261.0,112.6 259.4,111.8 257.7,110.9 256.1,110.0 254.5,109.1 253.0,108.2 251.5,107.3 250.0,106.4 248.6,105.6 247.2,104.8 245.9,104.0 244.7,103.3 243.6,102.6 242.6,102.0 241.6,101.5 240.8,101.0" fill="#ec3884" stroke="#9c1458" stroke-width="1.1" stroke-linejoin="round"/>
<polyline points="239.7,107.0 240.7,107.5 241.8,108.2 243.0,108.9 244.3,109.7 245.6,110.5 247.1,111.4 248.5,112.2 250.1,113.1 251.7,114.1 253.3,115.0 255.0,115.9 256.6,116.8 258.3,117.7 260.0,118.6 261.7,119.4 263.4,120.2 265.0,121.0 266.4,121.6 267.8,122.2 269.2,122.8 270.7,123.5 272.3,124.1 273.8,124.7 275.4,125.3 277.0,125.9 278.6,126.5 280.2,127.1 281.8,127.7 283.4,128.3 285.0,128.9 286.7,129.5 288.3,130.0 289.8,130.6 291.4,131.1 292.9,131.6 294.4,132.1 295.9,132.6 297.3,133.1 298.7,133.6 300.0,134.0 301.9,134.6 303.7,135.2 305.4,135.7 307.2,136.2 308.9,136.7 310.5,137.1 312.2,137.6 313.8,138.0 315.3,138.4 316.8,138.7 318.3,139.1 319.7,139.4 321.1,139.7 322.4,140.0 323.7,140.2 325.0,140.5 327.1,140.9 328.9,141.3 330.5,141.6 332.0,141.9 333.4,142.1 334.9,142.2 336.4,142.2 338.1,142.1 340.0,142.0 341.3,141.9 342.7,141.7 344.1,141.5 345.5,141.2 347.0,140.9 348.5,140.6 350.1,140.2 351.6,139.9 353.3,139.5 354.9,139.0 356.6,138.6 358.4,138.1 360.2,137.5 362.0,137.0 363.4,136.6 364.8,136.1 366.3,135.7 367.7,135.2 369.2,134.7 370.8,134.2 372.3,133.7 373.9,133.1 375.5,132.6 377.1,132.0 378.7,131.4 380.4,130.8 382.0,130.2 383.7,129.6 385.3,129.0 387.0,128.4 388.7,127.8 390.3,127.1 392.0,126.5 393.4,125.9 394.9,125.4 396.4,124.8 397.9,124.2 399.4,123.6 400.9,123.0 402.4,122.4 403.9,121.8 405.4,121.2 407.0,120.6 408.5,120.0 410.0,119.3 411.6,118.7 413.1,118.1 414.6,117.4 416.1,116.8 417.6,116.2 419.1,115.5 420.6,114.9 422.1,114.3 423.6,113.6 425.0,113.0 426.6,112.3 428.3,111.6 429.9,110.8 431.7,110.0 433.4,109.2 435.2,108.4 436.9,107.6 438.7,106.8 440.4,106.0 442.1,105.2 443.7,104.4 445.3,103.6 446.8,102.9 448.3,102.2 449.7,101.5 451.0,100.9 452.2,100.3 453.2,99.8" fill="none" stroke="#f65498" stroke-width="5.8" stroke-linecap="round" opacity="0.45"/>
<polyline points="240.7,103.1 241.6,103.7 242.6,104.3 243.7,105.0 244.9,105.7 246.2,106.4 247.6,107.2 249.0,108.1 250.5,109.0 252.0,109.9 253.6,110.8 255.2,111.7 256.8,112.6 258.4,113.5 260.1,114.4 261.7,115.2 263.4,116.0 265.0,116.8 266.6,117.5 267.9,118.1 269.3,118.7 270.7,119.3 272.2,119.9 273.7,120.6 275.2,121.2 276.8,121.8 278.3,122.4 279.9,123.0 281.5,123.6 283.1,124.2 284.7,124.8 286.3,125.3 287.9,125.9 289.5,126.5 291.1,127.0 292.6,127.5 294.1,128.1 295.6,128.6 297.1,129.0 298.5,129.5 299.9,130.0 301.2,130.4 303.0,131.0 304.8,131.5 306.5,132.1 308.2,132.6 309.9,133.0 311.5,133.5 313.1,133.9 314.7,134.3 316.2,134.7 317.7,135.0 319.1,135.4 320.5,135.7 321.9,136.0 323.2,136.3 324.5,136.5 325.8,136.8 327.8,137.2 329.6,137.6 331.2,137.9 332.5,138.1 333.8,138.3 335.0,138.4 336.4,138.4 337.9,138.4 339.7,138.2 340.9,138.1 342.2,137.9 343.5,137.7 344.9,137.5 346.3,137.2 347.7,136.9 349.2,136.6 350.7,136.2 352.3,135.8 353.9,135.4 355.6,134.9 357.3,134.4 359.1,133.9 360.9,133.4 362.3,133.0 363.7,132.5 365.1,132.1 366.6,131.6 368.1,131.1 369.6,130.6 371.1,130.1 372.7,129.5 374.3,129.0 375.9,128.4 377.5,127.8 379.1,127.3 380.7,126.7 382.4,126.1 384.0,125.4 385.7,124.8 387.3,124.2 389.0,123.6 390.6,123.0 392.1,122.4 393.5,121.8 395.0,121.3 396.5,120.7 398.0,120.1 399.5,119.5 401.0,118.9 402.5,118.3 404.0,117.7 405.5,117.1 407.1,116.5 408.6,115.8 410.1,115.2 411.6,114.6 413.2,113.9 414.7,113.3 416.2,112.7 417.7,112.0 419.1,111.4 420.6,110.8 422.0,110.1 423.5,109.5 425.1,108.8 426.7,108.1 428.4,107.3 430.1,106.6 431.8,105.8 433.6,105.0 435.3,104.1 437.0,103.3 438.8,102.5 440.4,101.7 442.1,100.9 443.7,100.2 445.2,99.5 446.7,98.8 448.0,98.1 449.3,97.5 450.5,96.9 451.6,96.4 452.6,96.0" fill="none" stroke="#9c1458" stroke-width="3.9" opacity="0.35"/>
<path d="M238.8 113.1L244.7 103.3M244.1 116.3L250.0 106.4M248.8 119.0L254.5 109.1M253.9 121.9L259.4 111.8M259.1 124.6L264.2 114.3M265.5 127.5L270.1 116.9M270.1 129.4L274.4 118.7M276.6 131.9L280.6 121.2M281.5 133.7L285.4 122.9M286.4 135.5L290.1 124.6M292.6 137.6L296.2 126.7M298.2 139.5L301.8 128.5M303.8 141.2L307.1 130.2M309.1 142.7L312.0 131.6M315.5 144.3L318.1 133.1M321.2 145.6L323.6 134.3M327.7 146.9L330.0 135.7M332.8 147.8L334.0 136.3M340.5 147.7L339.5 136.3M346.6 146.9L344.5 135.6M353.0 145.5L350.3 134.3M358.2 144.1L355.1 133.0M363.6 142.5L360.4 131.5M369.5 140.7L366.0 129.7M374.2 139.1L370.5 128.2M380.7 136.8L376.8 126.0M385.7 135.0L381.7 124.2M390.7 133.1L386.7 122.4M397.0 130.8L392.8 120.0M403.0 128.4L398.7 117.7M407.6 126.5L403.3 115.9M413.8 124.0L409.4 113.4M418.4 122.1L413.9 111.5M424.4 119.5L419.8 109.0M428.9 117.6L424.3 107.0M434.1 115.2L429.3 104.8M439.4 112.8L434.5 102.4M444.5 110.4L439.6 100.0M450.8 107.4L445.8 97.0M455.7 105.0L450.8 94.6M238.0 106.0L239.7 107.0L241.8 108.2L244.3 109.7L247.1 111.4L250.1 113.1L253.3 115.0L256.6 116.8L260.0 118.6L263.4 120.2L266.4 121.6L269.2 122.8L272.3 124.1L275.4 125.3L278.6 126.5L281.8 127.7L285.0 128.9L288.3 130.0L291.4 131.1L294.4 132.1L297.3 133.1L300.0 134.0L303.7 135.2L307.2 136.2L310.5 137.1L313.8 138.0L316.8 138.7L319.7 139.4L322.4 140.0L325.0 140.5L328.9 141.3L332.0 141.9L334.9 142.2L338.1 142.1L341.3 141.9L344.1 141.5L347.0 140.9L350.1 140.2L353.3 139.5L356.6 138.6L360.2 137.5L363.4 136.6L366.3 135.7L369.2 134.7L372.3 133.7L375.5 132.6L378.7 131.4L382.0 130.2L385.3 129.0L388.7 127.8L392.0 126.5L394.9 125.4L397.9 124.2L400.9 123.0L403.9 121.8L407.0 120.6L410.0 119.3L413.1 118.1L416.1 116.8L419.1 115.5L422.1 114.3L425.0 113.0L428.3 111.6L431.7 110.0L435.2 108.4L438.7 106.8L442.1 105.2L445.3 103.6L448.3 102.2L451.0 100.9L453.2 99.8L455.0 99.0L455.0 99.0" fill="none" stroke="#7c0c46" stroke-width="1.12" opacity="0.8"/>
<polyline points="236.4,110.6 238.2,111.7 240.5,113.1 243.1,114.7 246.1,116.4 249.3,118.3 252.6,120.1 256.1,122.0 259.5,123.8 263.0,125.4 265.9,126.7 268.9,127.9 272.0,129.2 275.2,130.5 278.5,131.7 281.8,132.9 285.0,134.0 288.2,135.2 291.3,136.2 294.3,137.2 297.2,138.2 300.4,139.2 304.1,140.3 307.6,141.4 310.9,142.3 314.1,143.1 317.2,143.8 320.0,144.4 322.8,145.0 326.1,145.7 329.6,146.4 332.9,146.9 336.4,147.0 340.4,146.8 343.4,146.5 346.4,146.0 349.6,145.3 352.8,144.6 356.2,143.7 359.7,142.7 363.4,141.6 366.3,140.8 369.2,139.8 372.3,138.8 375.5,137.7 378.7,136.6 382.0,135.4 385.4,134.2 388.7,132.9 392.1,131.7 395.2,130.5 398.1,129.3 401.1,128.2 404.2,126.9 407.3,125.7 410.3,124.5 413.4,123.2 416.5,121.9 419.5,120.6 422.5,119.3 425.5,118.1 428.6,116.7 432.0,115.2 435.4,113.6 439.0,112.0 442.4,110.3 445.8,108.8 448.9,107.3 451.8,105.9 454.2,104.7 456.2,103.8" fill="none" stroke="#f884b8" stroke-width="1" opacity="0.75"/>
<path d="M362.0 143.2 C367.0 141.4 381.5 136.7 392.0 132.7 C402.5 128.7 419.5 121.5 425.0 119.2" fill="none" stroke="#840d48" stroke-width="2.6" stroke-linecap="round" opacity="0.75"/>
<path d="M265.0 127.2 L300.0 140.2" fill="none" stroke="#840d48" stroke-width="2.0" stroke-linecap="round" opacity="0.6"/>
<path d="M236.0 100.5 C240.8 103.0 254.3 110.8 265.0 115.5 C275.7 120.2 290.0 125.2 300.0 128.5 C310.0 131.8 318.3 133.7 325.0 135.0 C331.7 136.3 333.8 137.1 340.0 136.5 C346.2 135.9 353.3 134.2 362.0 131.5 C370.7 128.8 381.5 124.7 392.0 120.5 C402.5 116.3 414.5 111.2 425.0 106.5 C435.5 101.8 450.0 94.8 455.0 92.5" fill="none" stroke="#a8155c" stroke-width="5" stroke-linecap="round" opacity="0.9"/>
<polygon points="233.3,100.1 234.1,100.5 235.0,101.0 236.0,101.5 237.1,102.1 238.3,102.8 239.6,103.5 241.0,104.3 242.5,105.1 244.0,105.9 245.6,106.8 247.2,107.6 248.9,108.5 250.6,109.4 252.3,110.3 254.1,111.2 255.8,112.0 257.6,112.9 259.3,113.7 261.0,114.5 262.7,115.3 264.1,115.9 265.6,116.5 267.2,117.2 268.7,117.8 270.3,118.4 271.9,119.0 273.5,119.7 275.1,120.3 276.7,120.9 278.3,121.5 280.0,122.1 281.6,122.7 283.2,123.3 284.8,123.9 286.4,124.5 288.0,125.0 289.6,125.6 291.1,126.1 292.6,126.6 294.1,127.1 295.5,127.6 296.9,128.0 298.2,128.5 300.1,129.1 302.0,129.7 303.8,130.2 305.6,130.7 307.3,131.2 309.1,131.7 310.7,132.1 312.3,132.5 313.9,132.9 315.5,133.3 317.0,133.7 318.4,134.0 319.9,134.3 321.2,134.6 322.6,134.9 323.9,135.1 325.9,135.6 327.7,135.9 329.4,136.3 331.1,136.6 332.8,136.8 334.6,136.9 336.4,136.9 338.4,136.9 340.5,136.7 342.0,136.6 343.5,136.4 345.0,136.1 346.6,135.9 348.1,135.6 349.7,135.2 351.4,134.9 353.0,134.5 354.7,134.1 356.4,133.6 358.2,133.1 360.0,132.6 361.8,132.1 363.7,131.5 365.1,131.0 366.6,130.6 368.1,130.1 369.6,129.6 371.1,129.0 372.7,128.5 374.3,127.9 375.9,127.3 377.5,126.8 379.1,126.1 380.8,125.5 382.4,124.9 384.1,124.3 385.8,123.6 387.4,123.0 389.1,122.3 390.8,121.7 392.5,121.0 394.1,120.3 395.6,119.8 397.0,119.2 398.5,118.6 400.0,118.0 401.5,117.3 403.1,116.7 404.6,116.1 406.1,115.4 407.7,114.8 409.2,114.1 410.8,113.5 412.3,112.8 413.8,112.2 415.4,111.5 416.9,110.8 418.4,110.2 419.9,109.5 421.5,108.9 422.9,108.2 424.4,107.5 425.9,106.9 427.3,106.3 429.0,105.5 430.6,104.8 432.3,104.0 434.1,103.2 435.8,102.4 437.6,101.6 439.4,100.8 441.1,99.9 442.8,99.1 444.5,98.3 446.2,97.5 447.8,96.8 449.3,96.1 450.8,95.4 452.1,94.7 453.4,94.1 454.6,93.5 455.7,93.0 456.6,92.6 457.4,92.2 452.6,81.8 451.7,82.2 450.8,82.6 449.7,83.1 448.5,83.7 447.2,84.3 445.8,85.0 444.4,85.7 442.8,86.4 441.3,87.1 439.6,87.9 437.9,88.7 436.2,89.5 434.5,90.3 432.7,91.1 431.0,92.0 429.3,92.8 427.6,93.5 425.9,94.3 424.2,95.0 422.7,95.7 421.2,96.4 419.8,97.0 418.3,97.7 416.8,98.3 415.3,99.0 413.8,99.6 412.3,100.3 410.8,100.9 409.3,101.6 407.8,102.2 406.2,102.9 404.7,103.5 403.2,104.2 401.7,104.8 400.2,105.5 398.7,106.1 397.2,106.7 395.7,107.3 394.2,107.9 392.7,108.5 391.3,109.1 389.9,109.7 388.2,110.3 386.6,111.0 384.9,111.6 383.3,112.3 381.6,112.9 380.0,113.5 378.3,114.2 376.7,114.8 375.1,115.4 373.5,116.0 371.9,116.5 370.4,117.1 368.9,117.7 367.4,118.2 365.9,118.7 364.4,119.2 363.0,119.6 361.6,120.1 360.3,120.5 358.5,121.0 356.8,121.6 355.1,122.1 353.4,122.5 351.8,122.9 350.3,123.3 348.8,123.7 347.3,124.0 345.9,124.3 344.5,124.6 343.2,124.8 341.9,125.0 340.7,125.1 339.5,125.3 337.8,125.4 336.4,125.4 335.1,125.4 334.0,125.3 332.8,125.2 331.5,125.0 330.0,124.7 328.2,124.3 326.1,123.9 324.9,123.6 323.6,123.3 322.3,123.1 320.9,122.8 319.6,122.5 318.1,122.1 316.7,121.8 315.2,121.4 313.6,121.0 312.0,120.6 310.4,120.1 308.8,119.7 307.1,119.2 305.4,118.7 303.6,118.1 301.8,117.5 300.5,117.1 299.1,116.7 297.7,116.2 296.3,115.7 294.8,115.2 293.3,114.7 291.8,114.2 290.2,113.6 288.7,113.1 287.1,112.5 285.5,111.9 283.9,111.3 282.3,110.8 280.8,110.2 279.2,109.6 277.6,109.0 276.1,108.3 274.5,107.7 273.0,107.1 271.5,106.5 270.1,105.9 268.7,105.3 267.3,104.7 265.8,104.0 264.2,103.3 262.5,102.5 260.9,101.7 259.2,100.9 257.6,100.1 255.9,99.2 254.3,98.3 252.6,97.5 251.0,96.6 249.5,95.8 248.0,95.0 246.5,94.2 245.1,93.4 243.8,92.7 242.6,92.0 241.5,91.4 240.4,90.8 239.5,90.3 238.7,89.9" fill="#ec3884" stroke="#9c1458" stroke-width="1.1" stroke-linejoin="round"/>
<polyline points="237.7,95.9 238.7,96.5 239.8,97.1 241.1,97.7 242.4,98.5 243.8,99.2 245.2,100.0 246.7,100.8 248.3,101.7 249.9,102.6 251.6,103.4 253.3,104.3 254.9,105.2 256.6,106.0 258.4,106.9 260.0,107.7 261.7,108.5 263.4,109.3 265.0,110.0 266.4,110.6 267.9,111.2 269.3,111.8 270.9,112.5 272.4,113.1 274.0,113.7 275.5,114.3 277.1,114.9 278.7,115.5 280.3,116.1 281.9,116.7 283.6,117.3 285.2,117.9 286.7,118.5 288.3,119.0 289.9,119.6 291.4,120.1 292.9,120.6 294.4,121.1 295.9,121.6 297.3,122.1 298.7,122.6 300.0,123.0 301.9,123.6 303.7,124.2 305.4,124.7 307.2,125.2 308.9,125.7 310.5,126.1 312.2,126.6 313.8,127.0 315.3,127.4 316.8,127.7 318.3,128.1 319.7,128.4 321.1,128.7 322.4,129.0 323.7,129.2 325.0,129.5 327.1,129.9 328.9,130.3 330.5,130.6 332.0,130.9 333.4,131.1 334.9,131.2 336.4,131.2 338.1,131.1 340.0,131.0 341.3,130.9 342.7,130.7 344.1,130.5 345.5,130.2 347.0,129.9 348.5,129.6 350.1,129.3 351.6,128.9 353.3,128.5 354.9,128.1 356.6,127.6 358.4,127.1 360.2,126.6 362.0,126.0 363.4,125.6 364.8,125.1 366.3,124.6 367.7,124.1 369.2,123.6 370.8,123.1 372.3,122.5 373.9,121.9 375.5,121.4 377.1,120.8 378.7,120.2 380.4,119.5 382.0,118.9 383.7,118.3 385.3,117.6 387.0,117.0 388.7,116.3 390.3,115.7 392.0,115.0 393.4,114.4 394.9,113.8 396.4,113.2 397.9,112.6 399.4,112.0 400.9,111.4 402.4,110.8 403.9,110.1 405.4,109.5 407.0,108.8 408.5,108.2 410.0,107.5 411.6,106.9 413.1,106.2 414.6,105.6 416.1,104.9 417.6,104.2 419.1,103.6 420.6,102.9 422.1,102.3 423.6,101.6 425.0,101.0 426.6,100.3 428.3,99.5 429.9,98.8 431.7,98.0 433.4,97.2 435.2,96.4 436.9,95.5 438.7,94.7 440.4,93.9 442.1,93.1 443.7,92.3 445.3,91.6 446.8,90.9 448.3,90.2 449.7,89.5 451.0,88.9 452.2,88.3 453.2,87.8" fill="none" stroke="#f65498" stroke-width="5.8" stroke-linecap="round" opacity="0.45"/>
<polyline points="238.6,92.1 239.5,92.6 240.5,93.1 241.7,93.7 242.9,94.4 244.2,95.1 245.6,95.9 247.0,96.7 248.5,97.5 250.1,98.3 251.7,99.2 253.3,100.1 255.0,100.9 256.7,101.8 258.4,102.6 260.0,103.5 261.7,104.3 263.3,105.1 264.9,105.8 266.5,106.5 267.9,107.1 269.3,107.7 270.8,108.3 272.3,108.9 273.8,109.6 275.3,110.2 276.9,110.8 278.5,111.4 280.1,112.0 281.7,112.6 283.3,113.2 284.9,113.8 286.4,114.3 288.0,114.9 289.6,115.5 291.1,116.0 292.7,116.5 294.2,117.1 295.7,117.6 297.1,118.0 298.5,118.5 299.9,119.0 301.2,119.4 303.0,120.0 304.8,120.5 306.5,121.1 308.2,121.6 309.9,122.0 311.5,122.5 313.1,122.9 314.7,123.3 316.2,123.7 317.7,124.0 319.1,124.4 320.5,124.7 321.9,125.0 323.2,125.3 324.5,125.5 325.8,125.8 327.8,126.2 329.6,126.6 331.2,126.9 332.5,127.1 333.8,127.3 335.0,127.4 336.4,127.4 337.9,127.4 339.7,127.2 340.9,127.1 342.2,126.9 343.5,126.7 344.9,126.5 346.3,126.2 347.7,125.9 349.2,125.6 350.7,125.2 352.3,124.8 353.9,124.4 355.6,123.9 357.3,123.4 359.1,122.9 360.9,122.4 362.2,121.9 363.6,121.5 365.1,121.0 366.5,120.5 368.0,120.0 369.5,119.5 371.1,118.9 372.6,118.4 374.2,117.8 375.8,117.2 377.4,116.6 379.0,116.0 380.7,115.4 382.3,114.7 384.0,114.1 385.6,113.4 387.3,112.8 388.9,112.1 390.6,111.5 392.0,110.9 393.5,110.3 394.9,109.7 396.4,109.1 397.9,108.5 399.4,107.9 400.9,107.3 402.4,106.6 404.0,106.0 405.5,105.3 407.0,104.7 408.5,104.0 410.1,103.4 411.6,102.7 413.1,102.1 414.6,101.4 416.1,100.8 417.6,100.1 419.1,99.5 420.6,98.8 422.0,98.2 423.5,97.5 425.0,96.8 426.7,96.1 428.4,95.3 430.1,94.5 431.8,93.7 433.6,92.9 435.3,92.1 437.0,91.3 438.8,90.5 440.4,89.7 442.1,88.9 443.7,88.2 445.2,87.4 446.7,86.7 448.1,86.1 449.3,85.5 450.5,84.9 451.6,84.4 452.6,83.9" fill="none" stroke="#9c1458" stroke-width="3.9" opacity="0.35"/>
<path d="M237.1 102.1L242.6 92.0M242.5 105.1L248.0 95.0M247.2 107.6L252.6 97.5M252.3 110.3L257.6 100.1M257.6 112.9L262.5 102.5M262.7 115.3L267.3 104.7M268.7 117.8L273.0 107.1M275.1 120.3L279.2 109.6M280.0 122.1L283.9 111.3M284.8 123.9L288.7 113.1M291.1 126.1L294.8 115.2M296.9 128.0L300.5 117.1M302.0 129.7L305.4 118.7M307.3 131.2L310.4 120.1M313.9 132.9L316.7 121.8M319.9 134.3L322.3 123.1M325.9 135.6L328.2 124.3M331.1 136.6L332.8 125.2M338.4 136.9L337.8 125.4M343.5 136.4L341.9 125.0M349.7 135.2L347.3 124.0M356.4 133.6L353.4 122.5M361.8 132.1L358.5 121.0M368.1 130.1L364.4 119.2M372.7 128.5L368.9 117.7M379.1 126.1L375.1 115.4M384.1 124.3L380.0 113.5M389.1 122.3L384.9 111.6M395.6 119.8L391.3 109.1M400.0 118.0L395.7 107.3M406.1 115.4L401.7 104.8M410.8 113.5L406.2 102.9M416.9 110.8L412.3 100.3M421.5 108.9L416.8 98.3M427.3 106.3L422.7 95.7M432.3 104.0L427.6 93.5M437.6 101.6L432.7 91.1M442.8 99.1L437.9 88.7M449.3 96.1L444.4 85.7M453.4 94.1L448.5 83.7M236.0 95.0L237.7 95.9L239.8 97.1L242.4 98.5L245.2 100.0L248.3 101.7L251.6 103.4L254.9 105.2L258.4 106.9L261.7 108.5L265.0 110.0L267.9 111.2L270.9 112.5L274.0 113.7L277.1 114.9L280.3 116.1L283.6 117.3L286.7 118.5L289.9 119.6L292.9 120.6L295.9 121.6L298.7 122.6L301.9 123.6L305.4 124.7L308.9 125.7L312.2 126.6L315.3 127.4L318.3 128.1L321.1 128.7L323.7 129.2L327.1 129.9L330.5 130.6L333.4 131.1L336.4 131.2L340.0 131.0L342.7 130.7L345.5 130.2L348.5 129.6L351.6 128.9L354.9 128.1L358.4 127.1L362.0 126.0L364.8 125.1L367.7 124.1L370.8 123.1L373.9 121.9L377.1 120.8L380.4 119.5L383.7 118.3L387.0 117.0L390.3 115.7L393.4 114.4L396.4 113.2L399.4 112.0L402.4 110.8L405.4 109.5L408.5 108.2L411.6 106.9L414.6 105.6L417.6 104.2L420.6 102.9L423.6 101.6L426.6 100.3L429.9 98.8L433.4 97.2L436.9 95.5L440.4 93.9L443.7 92.3L446.8 90.9L449.7 89.5L452.2 88.3L454.2 87.4L455.0 87.0" fill="none" stroke="#7c0c46" stroke-width="1.12" opacity="0.8"/>
<polyline points="234.5,99.7 236.4,100.7 238.7,102.0 241.4,103.5 244.4,105.1 247.6,106.8 251.0,108.6 254.5,110.4 257.9,112.1 261.4,113.7 264.5,115.1 267.5,116.3 270.6,117.6 273.8,118.8 277.0,120.1 280.3,121.3 283.5,122.5 286.7,123.6 289.8,124.7 292.9,125.7 295.8,126.7 298.5,127.6 302.3,128.8 305.8,129.9 309.3,130.8 312.6,131.7 315.7,132.4 318.6,133.1 321.4,133.7 324.0,134.3 327.9,135.0 331.2,135.7 334.6,136.0 338.3,136.0 341.9,135.7 344.9,135.3 348.0,134.7 351.2,134.0 354.5,133.2 357.9,132.3 361.6,131.2 364.9,130.2 367.8,129.2 370.8,128.2 374.0,127.1 377.2,125.9 380.5,124.7 383.8,123.4 387.1,122.1 390.5,120.8 393.8,119.5 396.7,118.3 399.7,117.1 402.7,115.9 405.8,114.6 408.9,113.3 411.9,112.0 415.0,110.7 418.1,109.3 421.1,108.0 424.1,106.7 427.0,105.4 430.3,104.0 433.7,102.4 437.2,100.8 440.7,99.1 444.1,97.5 447.4,96.0 450.4,94.6 453.0,93.3 455.3,92.2" fill="none" stroke="#f884b8" stroke-width="1" opacity="0.75"/>
<path d="M362.0 132.2 C367.0 130.4 381.5 125.4 392.0 121.2 C402.5 117.0 419.5 109.5 425.0 107.2" fill="none" stroke="#840d48" stroke-width="2.6" stroke-linecap="round" opacity="0.75"/>
<path d="M265.0 116.2 L300.0 129.2" fill="none" stroke="#840d48" stroke-width="2.0" stroke-linecap="round" opacity="0.6"/>
<path d="M234.0 88.5 C239.2 91.0 254.0 98.7 265.0 103.5 C276.0 108.3 290.0 114.1 300.0 117.5 C310.0 120.9 318.3 122.7 325.0 124.0 C331.7 125.3 333.8 126.1 340.0 125.5 C346.2 124.9 353.3 123.2 362.0 120.5 C370.7 117.8 381.5 113.7 392.0 109.5 C402.5 105.3 414.5 100.2 425.0 95.5 C435.5 90.8 450.0 83.8 455.0 81.5" fill="none" stroke="#a8155c" stroke-width="5" stroke-linecap="round" opacity="0.9"/>
<polygon points="231.5,88.2 232.3,88.6 233.2,89.0 234.2,89.5 235.3,90.1 236.6,90.7 237.9,91.4 239.3,92.1 240.8,92.8 242.3,93.6 243.9,94.4 245.6,95.2 247.3,96.0 249.0,96.9 250.7,97.7 252.5,98.5 254.2,99.4 255.9,100.2 257.7,101.0 259.4,101.8 261.1,102.5 262.7,103.3 264.2,103.9 265.6,104.6 267.2,105.2 268.7,105.9 270.3,106.5 271.9,107.2 273.5,107.9 275.1,108.6 276.7,109.2 278.3,109.9 279.9,110.5 281.5,111.2 283.1,111.8 284.7,112.5 286.3,113.1 287.9,113.7 289.4,114.3 291.0,114.9 292.5,115.4 293.9,116.0 295.4,116.5 296.8,117.0 298.2,117.4 300.1,118.1 301.9,118.7 303.8,119.3 305.6,119.8 307.3,120.3 309.1,120.8 310.7,121.2 312.4,121.6 314.0,122.0 315.5,122.4 317.0,122.7 318.5,123.0 319.9,123.3 321.3,123.6 322.6,123.9 323.9,124.1 325.9,124.6 327.7,124.9 329.4,125.3 331.1,125.6 332.8,125.8 334.6,125.9 336.4,125.9 338.4,125.9 340.5,125.7 342.0,125.6 343.5,125.4 345.0,125.1 346.6,124.9 348.1,124.6 349.7,124.2 351.4,123.9 353.0,123.5 354.7,123.1 356.4,122.6 358.2,122.1 360.0,121.6 361.8,121.1 363.7,120.5 365.1,120.0 366.6,119.6 368.1,119.1 369.6,118.6 371.1,118.0 372.7,117.5 374.3,116.9 375.9,116.3 377.5,115.8 379.1,115.1 380.8,114.5 382.4,113.9 384.1,113.3 385.8,112.6 387.4,112.0 389.1,111.3 390.8,110.7 392.5,110.0 394.1,109.3 395.6,108.8 397.0,108.2 398.5,107.6 400.0,107.0 401.5,106.3 403.1,105.7 404.6,105.1 406.1,104.4 407.7,103.8 409.2,103.1 410.8,102.5 412.3,101.8 413.8,101.2 415.4,100.5 416.9,99.8 418.4,99.2 419.9,98.5 421.5,97.9 422.9,97.2 424.4,96.5 425.9,95.9 427.3,95.3 429.0,94.5 430.6,93.8 432.3,93.0 434.1,92.2 435.8,91.4 437.6,90.6 439.4,89.8 441.1,88.9 442.8,88.1 444.5,87.3 446.2,86.5 447.8,85.8 449.3,85.1 450.8,84.4 452.1,83.7 453.4,83.1 454.6,82.5 455.7,82.0 456.6,81.6 457.4,81.2 452.6,70.8 451.7,71.2 450.8,71.6 449.7,72.1 448.5,72.7 447.2,73.3 445.8,74.0 444.4,74.7 442.8,75.4 441.3,76.1 439.6,76.9 437.9,77.7 436.2,78.5 434.5,79.3 432.7,80.1 431.0,81.0 429.3,81.8 427.6,82.5 425.9,83.3 424.2,84.0 422.7,84.7 421.2,85.4 419.8,86.0 418.3,86.7 416.8,87.3 415.3,88.0 413.8,88.6 412.3,89.3 410.8,89.9 409.3,90.6 407.8,91.2 406.2,91.9 404.7,92.5 403.2,93.2 401.7,93.8 400.2,94.5 398.7,95.1 397.2,95.7 395.7,96.3 394.2,96.9 392.7,97.5 391.3,98.1 389.9,98.7 388.2,99.3 386.6,100.0 384.9,100.6 383.3,101.3 381.6,101.9 380.0,102.5 378.3,103.2 376.7,103.8 375.1,104.4 373.5,105.0 371.9,105.5 370.4,106.1 368.9,106.7 367.4,107.2 365.9,107.7 364.4,108.2 363.0,108.6 361.6,109.1 360.3,109.5 358.5,110.0 356.8,110.6 355.1,111.1 353.4,111.5 351.8,111.9 350.3,112.3 348.8,112.7 347.3,113.0 345.9,113.3 344.5,113.6 343.2,113.8 341.9,114.0 340.7,114.1 339.5,114.3 337.8,114.4 336.4,114.4 335.1,114.4 334.0,114.3 332.8,114.2 331.5,114.0 330.0,113.7 328.2,113.3 326.1,112.9 324.9,112.6 323.6,112.3 322.3,112.1 320.9,111.8 319.5,111.5 318.1,111.2 316.6,110.8 315.1,110.4 313.6,110.1 312.0,109.7 310.4,109.2 308.8,108.7 307.1,108.3 305.4,107.7 303.6,107.2 301.8,106.6 300.6,106.1 299.2,105.6 297.9,105.1 296.4,104.6 295.0,104.1 293.5,103.5 292.0,103.0 290.5,102.4 288.9,101.8 287.4,101.1 285.8,100.5 284.2,99.9 282.6,99.2 281.1,98.6 279.5,97.9 277.9,97.3 276.3,96.6 274.8,96.0 273.2,95.3 271.7,94.6 270.2,94.0 268.8,93.4 267.3,92.7 265.8,92.0 264.2,91.3 262.5,90.6 260.8,89.8 259.1,89.0 257.4,88.2 255.7,87.3 254.0,86.5 252.3,85.7 250.7,84.9 249.1,84.1 247.5,83.3 245.9,82.5 244.5,81.8 243.1,81.1 241.7,80.4 240.5,79.8 239.3,79.2 238.3,78.7 237.3,78.2 236.5,77.8" fill="#ec3884" stroke="#9c1458" stroke-width="1.1" stroke-linejoin="round"/>
<polyline points="235.7,83.8 236.8,84.4 237.9,84.9 239.2,85.6 240.5,86.2 241.9,86.9 243.4,87.7 244.9,88.4 246.5,89.2 248.1,90.0 249.8,90.9 251.5,91.7 253.2,92.5 254.9,93.3 256.7,94.2 258.4,95.0 260.1,95.8 261.8,96.5 263.4,97.3 265.0,98.0 266.5,98.6 267.9,99.3 269.4,99.9 271.0,100.6 272.5,101.2 274.1,101.9 275.7,102.6 277.3,103.2 278.9,103.9 280.5,104.6 282.1,105.2 283.7,105.9 285.3,106.5 286.8,107.1 288.4,107.7 290.0,108.3 291.5,108.9 293.0,109.5 294.5,110.0 295.9,110.6 297.3,111.1 298.7,111.5 300.0,112.0 301.9,112.6 303.7,113.2 305.4,113.8 307.2,114.3 308.9,114.8 310.5,115.2 312.2,115.6 313.8,116.0 315.3,116.4 316.8,116.8 318.3,117.1 319.7,117.4 321.1,117.7 322.4,118.0 323.7,118.2 325.0,118.5 327.1,118.9 328.9,119.3 330.5,119.6 332.0,119.9 333.4,120.1 334.9,120.2 336.4,120.2 338.1,120.1 340.0,120.0 341.3,119.9 342.7,119.7 344.1,119.5 345.5,119.2 347.0,118.9 348.5,118.6 350.1,118.3 351.6,117.9 353.3,117.5 354.9,117.1 356.6,116.6 358.4,116.1 360.2,115.6 362.0,115.0 363.4,114.6 364.8,114.1 366.3,113.6 367.7,113.1 369.2,112.6 370.8,112.1 372.3,111.5 373.9,110.9 375.5,110.4 377.1,109.8 378.7,109.2 380.4,108.5 382.0,107.9 383.7,107.3 385.3,106.6 387.0,106.0 388.7,105.3 390.3,104.7 392.0,104.0 393.4,103.4 394.9,102.8 396.4,102.2 397.9,101.6 399.4,101.0 400.9,100.4 402.4,99.8 403.9,99.1 405.4,98.5 407.0,97.8 408.5,97.2 410.0,96.5 411.6,95.9 413.1,95.2 414.6,94.6 416.1,93.9 417.6,93.2 419.1,92.6 420.6,91.9 422.1,91.3 423.6,90.6 425.0,90.0 426.6,89.3 428.3,88.5 429.9,87.8 431.7,87.0 433.4,86.2 435.2,85.4 436.9,84.5 438.7,83.7 440.4,82.9 442.1,82.1 443.7,81.3 445.3,80.6 446.8,79.9 448.3,79.2 449.7,78.5 451.0,77.9 452.2,77.3 453.2,76.8" fill="none" stroke="#f65498" stroke-width="5.8" stroke-linecap="round" opacity="0.45"/>
<polyline points="236.5,80.0 237.4,80.4 238.5,81.0 239.6,81.5 240.9,82.2 242.2,82.8 243.6,83.5 245.1,84.3 246.6,85.0 248.2,85.8 249.8,86.6 251.5,87.4 253.2,88.3 254.9,89.1 256.6,89.9 258.3,90.7 260.0,91.5 261.7,92.3 263.3,93.1 265.0,93.8 266.5,94.5 268.0,95.2 269.4,95.8 270.9,96.4 272.5,97.1 274.0,97.8 275.6,98.4 277.1,99.1 278.7,99.7 280.3,100.4 281.9,101.0 283.5,101.7 285.1,102.3 286.7,103.0 288.2,103.6 289.8,104.2 291.3,104.8 292.8,105.4 294.3,105.9 295.8,106.5 297.2,107.0 298.6,107.5 299.9,108.0 301.2,108.4 303.0,109.0 304.8,109.6 306.5,110.1 308.2,110.6 309.9,111.1 311.5,111.5 313.1,112.0 314.7,112.3 316.2,112.7 317.6,113.1 319.1,113.4 320.5,113.7 321.9,114.0 323.2,114.3 324.5,114.5 325.8,114.8 327.8,115.2 329.6,115.6 331.2,115.9 332.5,116.1 333.8,116.3 335.0,116.4 336.4,116.4 337.9,116.4 339.7,116.2 340.9,116.1 342.2,115.9 343.5,115.7 344.9,115.5 346.3,115.2 347.7,114.9 349.2,114.6 350.7,114.2 352.3,113.8 353.9,113.4 355.6,112.9 357.3,112.4 359.1,111.9 360.9,111.4 362.2,110.9 363.6,110.5 365.1,110.0 366.5,109.5 368.0,109.0 369.5,108.5 371.1,107.9 372.6,107.4 374.2,106.8 375.8,106.2 377.4,105.6 379.0,105.0 380.7,104.4 382.3,103.7 384.0,103.1 385.6,102.4 387.3,101.8 388.9,101.1 390.6,100.5 392.0,99.9 393.5,99.3 394.9,98.7 396.4,98.1 397.9,97.5 399.4,96.9 400.9,96.3 402.4,95.6 404.0,95.0 405.5,94.3 407.0,93.7 408.5,93.0 410.1,92.4 411.6,91.7 413.1,91.1 414.6,90.4 416.1,89.8 417.6,89.1 419.1,88.5 420.6,87.8 422.0,87.2 423.5,86.5 425.0,85.8 426.7,85.1 428.4,84.3 430.1,83.5 431.8,82.7 433.6,81.9 435.3,81.1 437.0,80.3 438.8,79.5 440.4,78.7 442.1,77.9 443.7,77.2 445.2,76.4 446.7,75.7 448.1,75.1 449.3,74.5 450.5,73.9 451.6,73.4 452.6,72.9" fill="none" stroke="#9c1458" stroke-width="3.9" opacity="0.35"/>
<path d="M235.3 90.1L240.5 79.8M240.8 92.8L245.9 82.5M245.6 95.2L250.7 84.9M250.7 97.7L255.7 87.3M255.9 100.2L260.8 89.8M261.1 102.5L265.8 92.0M267.2 105.2L271.7 94.6M271.9 107.2L276.3 96.6M278.3 109.9L282.6 99.2M283.1 111.8L287.4 101.1M289.4 114.3L293.5 103.5M293.9 116.0L297.9 105.1M300.1 118.1L303.6 107.2M305.6 119.8L308.8 108.7M310.7 121.2L313.6 110.1M317.0 122.7L319.5 111.5M322.6 123.9L324.9 112.6M329.4 125.3L331.5 114.0M334.6 125.9L335.1 114.4M342.0 125.6L340.7 114.1M348.1 124.6L345.9 113.3M354.7 123.1L351.8 111.9M360.0 121.6L356.8 110.6M365.1 120.0L361.6 109.1M371.1 118.0L367.4 107.2M377.5 115.8L373.5 105.0M382.4 113.9L378.3 103.2M387.4 112.0L383.3 101.3M392.5 110.0L388.2 99.3M398.5 107.6L394.2 96.9M404.6 105.1L400.2 94.5M409.2 103.1L404.7 92.5M415.4 100.5L410.8 89.9M419.9 98.5L415.3 88.0M425.9 95.9L421.2 85.4M430.6 93.8L425.9 83.3M435.8 91.4L431.0 81.0M441.1 88.9L436.2 78.5M446.2 86.5L441.3 76.1M452.1 83.7L447.2 73.3M234.0 83.0L235.7 83.8L237.9 84.9L240.5 86.2L243.4 87.7L246.5 89.2L249.8 90.9L253.2 92.5L256.7 94.2L260.1 95.8L263.4 97.3L266.5 98.6L269.4 99.9L272.5 101.2L275.7 102.6L278.9 103.9L282.1 105.2L285.3 106.5L288.4 107.7L291.5 108.9L294.5 110.0L297.3 111.1L300.0 112.0L303.7 113.2L307.2 114.3L310.5 115.2L313.8 116.0L316.8 116.8L319.7 117.4L322.4 118.0L325.0 118.5L328.9 119.3L332.0 119.9L334.9 120.2L338.1 120.1L341.3 119.9L344.1 119.5L347.0 118.9L350.1 118.3L353.3 117.5L356.6 116.6L360.2 115.6L363.4 114.6L366.3 113.6L369.2 112.6L372.3 111.5L375.5 110.4L378.7 109.2L382.0 107.9L385.3 106.6L388.7 105.3L392.0 104.0L394.9 102.8L397.9 101.6L400.9 100.4L403.9 99.1L407.0 97.8L410.0 96.5L413.1 95.2L416.1 93.9L419.1 92.6L422.1 91.3L425.0 90.0L428.3 88.5L431.7 87.0L435.2 85.4L438.7 83.7L442.1 82.1L445.3 80.6L448.3 79.2L451.0 77.9L453.2 76.8L455.0 76.0L455.0 76.0" fill="none" stroke="#7c0c46" stroke-width="1.12" opacity="0.8"/>
<polyline points="232.7,87.7 234.6,88.7 237.0,89.9 239.7,91.3 242.7,92.8 246.0,94.4 249.4,96.0 252.9,97.7 256.3,99.4 259.8,101.0 263.0,102.4 266.0,103.7 269.1,105.0 272.2,106.4 275.4,107.7 278.6,109.0 281.9,110.4 285.1,111.6 288.2,112.9 291.3,114.0 294.2,115.1 297.1,116.1 300.3,117.2 304.0,118.4 307.6,119.4 311.0,120.3 314.2,121.1 317.2,121.8 320.1,122.4 322.8,123.0 326.1,123.7 329.6,124.4 332.9,124.9 336.4,125.0 340.4,124.8 343.4,124.5 346.4,124.0 349.5,123.4 352.8,122.6 356.2,121.7 359.7,120.7 363.4,119.6 366.3,118.7 369.3,117.7 372.4,116.6 375.6,115.5 378.8,114.3 382.1,113.1 385.4,111.8 388.8,110.5 392.1,109.2 395.2,107.9 398.2,106.7 401.2,105.5 404.2,104.2 407.3,103.0 410.4,101.6 413.5,100.3 416.5,99.0 419.6,97.7 422.6,96.4 425.5,95.1 428.6,93.7 432.0,92.2 435.5,90.6 439.0,88.9 442.4,87.3 445.8,85.7 448.9,84.2 451.8,82.9 454.2,81.7 456.2,80.8" fill="none" stroke="#f884b8" stroke-width="1" opacity="0.75"/>
<path d="M362.0 121.2 C367.0 119.4 381.5 114.4 392.0 110.2 C402.5 106.0 419.5 98.5 425.0 96.2" fill="none" stroke="#840d48" stroke-width="2.6" stroke-linecap="round" opacity="0.75"/>
<path d="M265.0 104.2 L300.0 118.2" fill="none" stroke="#840d48" stroke-width="2.0" stroke-linecap="round" opacity="0.6"/>
<path d="M232.0 75.5 C237.5 78.2 253.7 86.3 265.0 91.5 C276.3 96.7 290.0 102.9 300.0 106.5 C310.0 110.1 318.3 111.7 325.0 113.0 C331.7 114.3 333.8 115.1 340.0 114.5 C346.2 113.9 353.3 112.2 362.0 109.5 C370.7 106.8 381.5 102.7 392.0 98.5 C402.5 94.3 414.3 89.3 425.0 84.5 C435.7 79.7 450.8 72.0 456.0 69.5" fill="none" stroke="#a8155c" stroke-width="5" stroke-linecap="round" opacity="0.9"/>
<polygon points="229.5,75.2 230.3,75.6 231.2,76.0 232.3,76.5 233.4,77.1 234.7,77.7 236.0,78.4 237.4,79.1 238.9,79.8 240.5,80.6 242.1,81.4 243.8,82.2 245.5,83.1 247.2,83.9 248.9,84.8 250.7,85.6 252.5,86.5 254.2,87.3 256.0,88.1 257.7,88.9 259.4,89.7 261.0,90.5 262.6,91.2 264.1,91.9 265.6,92.6 267.2,93.3 268.7,94.0 270.3,94.7 271.9,95.4 273.5,96.2 275.1,96.9 276.7,97.6 278.3,98.3 279.9,99.0 281.5,99.7 283.1,100.4 284.7,101.1 286.3,101.7 287.8,102.4 289.3,103.0 290.9,103.7 292.4,104.3 293.8,104.8 295.3,105.4 296.7,105.9 298.1,106.4 300.0,107.1 301.9,107.7 303.8,108.3 305.6,108.9 307.3,109.4 309.1,109.8 310.8,110.3 312.4,110.7 314.0,111.1 315.5,111.4 317.0,111.7 318.5,112.1 319.9,112.3 321.3,112.6 322.6,112.9 323.9,113.1 325.9,113.6 327.7,113.9 329.4,114.3 331.1,114.6 332.8,114.8 334.6,114.9 336.4,114.9 338.4,114.9 340.5,114.7 342.0,114.6 343.5,114.4 345.0,114.1 346.6,113.9 348.1,113.6 349.7,113.2 351.4,112.9 353.0,112.5 354.7,112.1 356.4,111.6 358.2,111.1 360.0,110.6 361.8,110.1 363.7,109.5 365.1,109.0 366.6,108.6 368.1,108.1 369.6,107.6 371.1,107.0 372.7,106.5 374.3,105.9 375.9,105.3 377.5,104.8 379.1,104.1 380.8,103.5 382.4,102.9 384.1,102.3 385.8,101.6 387.4,101.0 389.1,100.3 390.8,99.7 392.5,99.0 394.1,98.3 395.6,97.8 397.0,97.2 398.5,96.6 400.0,96.0 401.5,95.4 403.0,94.7 404.5,94.1 406.1,93.5 407.6,92.8 409.1,92.2 410.7,91.5 412.2,90.9 413.8,90.2 415.3,89.6 416.8,88.9 418.4,88.2 419.9,87.6 421.4,86.9 422.9,86.2 424.4,85.6 425.9,84.9 427.4,84.2 429.0,83.5 430.6,82.8 432.3,82.0 433.9,81.2 435.7,80.4 437.4,79.5 439.1,78.7 440.9,77.9 442.6,77.0 444.3,76.2 445.9,75.4 447.5,74.6 449.1,73.8 450.6,73.1 452.0,72.4 453.4,71.7 454.6,71.1 455.8,70.5 456.8,70.0 457.7,69.6 458.5,69.2 453.5,58.8 452.7,59.2 451.7,59.7 450.7,60.2 449.5,60.8 448.3,61.4 446.9,62.1 445.5,62.8 444.0,63.5 442.4,64.3 440.8,65.1 439.2,65.9 437.5,66.7 435.8,67.5 434.1,68.3 432.4,69.2 430.7,70.0 429.0,70.8 427.4,71.6 425.7,72.3 424.2,73.1 422.6,73.8 421.2,74.4 419.7,75.1 418.2,75.7 416.8,76.4 415.3,77.0 413.8,77.7 412.3,78.4 410.7,79.0 409.2,79.7 407.7,80.3 406.2,81.0 404.7,81.6 403.2,82.2 401.7,82.9 400.1,83.5 398.6,84.1 397.2,84.7 395.7,85.3 394.2,85.9 392.8,86.5 391.3,87.1 389.9,87.7 388.2,88.3 386.6,89.0 384.9,89.6 383.3,90.3 381.6,90.9 380.0,91.5 378.3,92.2 376.7,92.8 375.1,93.4 373.5,94.0 371.9,94.5 370.4,95.1 368.9,95.7 367.4,96.2 365.9,96.7 364.4,97.2 363.0,97.6 361.6,98.1 360.3,98.5 358.5,99.0 356.8,99.6 355.1,100.1 353.4,100.5 351.8,100.9 350.3,101.3 348.8,101.7 347.3,102.0 345.9,102.3 344.5,102.6 343.2,102.8 341.9,103.0 340.7,103.1 339.5,103.3 337.8,103.4 336.4,103.4 335.1,103.4 334.0,103.3 332.8,103.2 331.5,103.0 330.0,102.7 328.2,102.3 326.1,101.9 324.9,101.6 323.6,101.3 322.2,101.1 320.9,100.8 319.5,100.5 318.1,100.2 316.6,99.9 315.1,99.5 313.6,99.1 312.0,98.7 310.4,98.3 308.8,97.8 307.1,97.3 305.4,96.8 303.7,96.2 301.9,95.6 300.7,95.1 299.4,94.6 298.0,94.1 296.6,93.6 295.2,93.0 293.7,92.4 292.2,91.8 290.7,91.2 289.2,90.5 287.6,89.8 286.1,89.2 284.5,88.5 282.9,87.8 281.4,87.1 279.8,86.4 278.2,85.7 276.6,85.0 275.0,84.2 273.5,83.5 271.9,82.8 270.4,82.1 268.9,81.4 267.4,80.8 265.8,80.1 264.2,79.3 262.6,78.5 260.9,77.7 259.2,76.9 257.5,76.1 255.7,75.3 254.0,74.4 252.2,73.6 250.5,72.7 248.8,71.9 247.2,71.1 245.6,70.3 244.0,69.5 242.5,68.8 241.1,68.1 239.8,67.4 238.5,66.8 237.4,66.2 236.3,65.7 235.3,65.2 234.5,64.8" fill="#ec3884" stroke="#9c1458" stroke-width="1.1" stroke-linejoin="round"/>
<polyline points="233.8,70.9 234.8,71.4 236.0,71.9 237.2,72.6 238.6,73.2 240.0,73.9 241.5,74.7 243.0,75.5 244.7,76.2 246.3,77.1 248.0,77.9 249.7,78.7 251.5,79.6 253.2,80.4 255.0,81.3 256.7,82.1 258.4,82.9 260.1,83.7 261.8,84.5 263.4,85.3 265.0,86.0 266.5,86.7 268.0,87.4 269.5,88.1 271.1,88.8 272.7,89.5 274.2,90.2 275.8,90.9 277.4,91.6 279.0,92.3 280.6,93.0 282.2,93.7 283.8,94.4 285.4,95.1 286.9,95.8 288.5,96.5 290.0,97.1 291.5,97.7 293.0,98.3 294.5,98.9 295.9,99.5 297.3,100.0 298.7,100.5 300.0,101.0 301.9,101.6 303.7,102.3 305.4,102.8 307.2,103.3 308.9,103.8 310.5,104.3 312.2,104.7 313.8,105.1 315.3,105.5 316.8,105.8 318.3,106.1 319.7,106.4 321.1,106.7 322.4,107.0 323.7,107.2 325.0,107.5 327.1,107.9 328.9,108.3 330.5,108.6 332.0,108.9 333.4,109.1 334.9,109.2 336.4,109.2 338.1,109.1 340.0,109.0 341.3,108.9 342.7,108.7 344.1,108.5 345.5,108.2 347.0,107.9 348.5,107.6 350.1,107.3 351.6,106.9 353.3,106.5 354.9,106.1 356.6,105.6 358.4,105.1 360.2,104.6 362.0,104.0 363.4,103.6 364.8,103.1 366.3,102.6 367.7,102.1 369.2,101.6 370.8,101.1 372.3,100.5 373.9,99.9 375.5,99.4 377.1,98.8 378.7,98.2 380.4,97.5 382.0,96.9 383.7,96.3 385.3,95.6 387.0,95.0 388.7,94.3 390.3,93.7 392.0,93.0 393.4,92.4 394.9,91.8 396.4,91.3 397.8,90.7 399.3,90.0 400.8,89.4 402.3,88.8 403.9,88.2 405.4,87.5 406.9,86.9 408.4,86.2 410.0,85.6 411.5,84.9 413.0,84.3 414.5,83.6 416.1,83.0 417.6,82.3 419.1,81.6 420.6,81.0 422.1,80.3 423.5,79.7 425.0,79.0 426.6,78.3 428.2,77.5 429.8,76.8 431.5,76.0 433.2,75.2 434.9,74.3 436.6,73.5 438.3,72.7 440.1,71.9 441.7,71.0 443.4,70.2 445.0,69.4 446.5,68.7 448.0,67.9 449.5,67.2 450.8,66.6 452.1,65.9 453.2,65.4 454.3,64.8" fill="none" stroke="#f65498" stroke-width="5.8" stroke-linecap="round" opacity="0.45"/>
<polyline points="234.5,67.0 235.4,67.5 236.5,68.0 237.6,68.5 238.9,69.2 240.2,69.8 241.7,70.5 243.2,71.3 244.7,72.0 246.3,72.8 248.0,73.7 249.7,74.5 251.4,75.3 253.1,76.2 254.9,77.0 256.6,77.9 258.3,78.7 260.1,79.5 261.8,80.3 263.4,81.1 265.0,81.8 266.6,82.5 268.1,83.2 269.6,83.9 271.1,84.6 272.7,85.3 274.2,86.0 275.8,86.7 277.4,87.5 279.0,88.2 280.6,88.9 282.1,89.6 283.7,90.3 285.3,91.0 286.9,91.6 288.4,92.3 290.0,93.0 291.5,93.6 293.0,94.2 294.4,94.8 295.9,95.4 297.3,95.9 298.7,96.5 300.0,97.0 301.3,97.4 303.1,98.1 304.8,98.6 306.6,99.2 308.3,99.7 309.9,100.2 311.5,100.6 313.1,101.0 314.6,101.4 316.2,101.8 317.6,102.1 319.1,102.4 320.5,102.7 321.8,103.0 323.2,103.3 324.5,103.5 325.8,103.8 327.8,104.2 329.6,104.6 331.2,104.9 332.5,105.1 333.8,105.3 335.0,105.4 336.4,105.4 337.9,105.4 339.7,105.2 340.9,105.1 342.2,104.9 343.5,104.7 344.9,104.5 346.3,104.2 347.7,103.9 349.2,103.6 350.7,103.2 352.3,102.8 353.9,102.4 355.6,101.9 357.3,101.4 359.1,100.9 360.9,100.4 362.2,99.9 363.6,99.5 365.1,99.0 366.5,98.5 368.0,98.0 369.5,97.5 371.1,96.9 372.6,96.4 374.2,95.8 375.8,95.2 377.4,94.6 379.0,94.0 380.7,93.4 382.3,92.7 384.0,92.1 385.6,91.4 387.3,90.8 388.9,90.1 390.6,89.5 392.0,88.9 393.5,88.3 394.9,87.7 396.4,87.1 397.9,86.5 399.4,85.9 400.9,85.3 402.4,84.7 403.9,84.0 405.4,83.4 407.0,82.8 408.5,82.1 410.0,81.5 411.5,80.8 413.0,80.2 414.5,79.5 416.1,78.8 417.5,78.2 419.0,77.5 420.5,76.9 422.0,76.2 423.4,75.5 425.0,74.8 426.6,74.1 428.2,73.3 429.9,72.6 431.6,71.7 433.3,70.9 435.0,70.1 436.7,69.3 438.4,68.4 440.1,67.6 441.7,66.8 443.3,66.0 444.9,65.3 446.4,64.5 447.8,63.8 449.1,63.2 450.4,62.5 451.5,62.0 452.6,61.4 453.5,61.0" fill="none" stroke="#9c1458" stroke-width="3.9" opacity="0.35"/>
<path d="M233.4 77.1L238.5 66.8M238.9 79.8L244.0 69.5M243.8 82.2L248.8 71.9M248.9 84.8L254.0 74.4M254.2 87.3L259.2 76.9M259.4 89.7L264.2 79.3M264.1 91.9L268.9 81.4M270.3 94.7L275.0 84.2M275.1 96.9L279.8 86.4M281.5 99.7L286.1 89.2M286.3 101.7L290.7 91.2M290.9 103.7L295.2 93.0M296.7 105.9L300.7 95.1M303.8 108.3L307.1 97.3M309.1 109.8L312.0 98.7M314.0 111.1L316.6 99.9M319.9 112.3L322.2 101.1M325.9 113.6L328.2 102.3M332.8 114.8L334.0 103.3M338.4 114.9L337.8 103.4M345.0 114.1L343.2 102.8M351.4 112.9L348.8 101.7M358.2 111.1L355.1 100.1M363.7 109.5L360.3 98.5M368.1 108.1L364.4 97.2M374.3 105.9L370.4 95.1M379.1 104.1L375.1 93.4M385.8 101.6L381.6 90.9M390.8 99.7L386.6 89.0M395.6 97.8L391.3 87.1M401.5 95.4L397.2 84.7M407.6 92.8L403.2 82.2M412.2 90.9L407.7 80.3M418.4 88.2L413.8 77.7M422.9 86.2L418.2 75.7M429.0 83.5L424.2 73.1M433.9 81.2L429.0 70.8M439.1 78.7L434.1 68.3M444.3 76.2L439.2 65.9M449.1 73.8L444.0 63.5M454.6 71.1L449.5 60.8M232.0 70.0L233.8 70.9L236.0 71.9L238.6 73.2L241.5 74.7L244.7 76.2L248.0 77.9L251.5 79.6L255.0 81.3L258.4 82.9L261.8 84.5L265.0 86.0L268.0 87.4L271.1 88.8L274.2 90.2L277.4 91.6L280.6 93.0L283.8 94.4L286.9 95.8L290.0 97.1L293.0 98.3L295.9 99.5L298.7 100.5L301.9 101.6L305.4 102.8L308.9 103.8L312.2 104.7L315.3 105.5L318.3 106.1L321.1 106.7L323.7 107.2L327.1 107.9L330.5 108.6L333.4 109.1L336.4 109.2L340.0 109.0L342.7 108.7L345.5 108.2L348.5 107.6L351.6 106.9L354.9 106.1L358.4 105.1L362.0 104.0L364.8 103.1L367.7 102.1L370.8 101.1L373.9 99.9L377.1 98.8L380.4 97.5L383.7 96.3L387.0 95.0L390.3 93.7L393.4 92.4L396.4 91.3L399.3 90.0L402.3 88.8L405.4 87.5L408.4 86.2L411.5 84.9L414.5 83.6L417.6 82.3L420.6 81.0L423.5 79.7L426.6 78.3L429.8 76.8L433.2 75.2L436.6 73.5L440.1 71.9L443.4 70.2L446.5 68.7L449.5 67.2L452.1 65.9L454.3 64.8L456.0 64.0L456.0 64.0" fill="none" stroke="#7c0c46" stroke-width="1.12" opacity="0.8"/>
<polyline points="230.7,74.8 232.7,75.7 235.1,76.9 237.8,78.3 240.9,79.8 244.2,81.4 247.6,83.1 251.1,84.8 254.6,86.5 258.1,88.1 261.4,89.7 264.5,91.1 267.5,92.5 270.7,93.9 273.8,95.3 277.0,96.8 280.3,98.2 283.5,99.6 286.6,100.9 289.7,102.2 292.7,103.4 295.6,104.5 298.4,105.6 302.2,106.9 305.8,108.0 309.3,109.0 312.6,109.8 315.7,110.5 318.7,111.2 321.5,111.7 324.0,112.3 327.9,113.0 331.2,113.7 334.6,114.0 338.3,114.0 341.9,113.7 344.9,113.3 348.0,112.7 351.2,112.0 354.5,111.2 357.9,110.3 361.6,109.2 364.9,108.2 367.8,107.2 370.8,106.2 374.0,105.1 377.2,103.9 380.5,102.7 383.8,101.4 387.1,100.1 390.5,98.8 393.8,97.5 396.7,96.3 399.7,95.1 402.7,93.9 405.7,92.6 408.8,91.4 411.9,90.1 414.9,88.7 418.0,87.4 421.0,86.1 424.0,84.7 427.0,83.4 430.2,81.9 433.6,80.4 437.0,78.7 440.5,77.0 443.9,75.4 447.1,73.8 450.2,72.3 453.0,70.9 455.4,69.7 457.3,68.7" fill="none" stroke="#f884b8" stroke-width="1" opacity="0.75"/>
<path d="M362.0 110.2 C367.0 108.4 381.5 103.4 392.0 99.2 C402.5 95.0 419.5 87.5 425.0 85.2" fill="none" stroke="#840d48" stroke-width="2.6" stroke-linecap="round" opacity="0.75"/>
<path d="M265.0 92.2 L300.0 107.2" fill="none" stroke="#840d48" stroke-width="2.0" stroke-linecap="round" opacity="0.6"/>
<polygon points="253.7,102.4 255.1,103.2 257.1,104.3 259.2,105.4 261.2,106.5 263.3,107.6 264.7,108.4 267.3,103.6 265.9,102.8 263.9,101.7 261.8,100.6 259.8,99.5 257.7,98.4 256.3,97.6" fill="#f684b6"/>
<path d="M257.1 104.3L259.8 99.5M263.3 107.6L265.9 102.8" fill="none" stroke="#7c0c46" stroke-width="0.9" opacity="0.45"/>
<polygon points="276.8,120.5 278.1,121.1 279.8,122.0 281.5,122.8 282.8,123.5 285.2,118.5 283.9,117.9 282.2,117.0 280.5,116.2 279.2,115.5" fill="#f684b6"/>
<path d="M281.5 122.8L283.9 117.9" fill="none" stroke="#7c0c46" stroke-width="0.9" opacity="0.45"/>
<polygon points="238.5,92.3 239.8,93.2 241.5,94.3 243.2,95.4 244.5,96.3 247.5,91.7 246.2,90.8 244.5,89.7 242.8,88.6 241.5,87.7" fill="#f684b6"/>
<path d="M241.5 94.3L244.5 89.7" fill="none" stroke="#7c0c46" stroke-width="0.9" opacity="0.45"/>
<polygon points="251.7,126.6 252.6,127.4 253.8,128.6 255.3,129.9 256.7,131.1 258.0,132.3 259.5,133.6 260.8,134.8 261.7,135.6 266.3,130.4 265.4,129.6 264.2,128.4 262.7,127.1 261.3,125.9 260.0,124.7 258.5,123.4 257.2,122.2 256.3,121.4" fill="#f684b6"/>
<path d="M255.3 129.9L260.0 124.7M259.5 133.6L264.2 128.4" fill="none" stroke="#7c0c46" stroke-width="0.9" opacity="0.45"/>
<polygon points="275.9,153.8 277.0,154.3 278.6,154.9 280.5,155.7 282.5,156.5 284.4,157.3 286.2,158.0 288.2,158.8 290.1,159.6 291.7,160.3 292.9,160.8 295.1,155.2 294.0,154.7 292.4,154.1 290.5,153.3 288.5,152.5 286.6,151.7 284.8,151.0 282.8,150.2 280.9,149.4 279.3,148.7 278.1,148.2" fill="#f684b6"/>
<path d="M280.5 155.7L282.8 150.2M284.4 157.3L286.6 151.7M290.1 159.6L292.4 154.1" fill="none" stroke="#7c0c46" stroke-width="0.9" opacity="0.45"/>
<polygon points="332.5,167.0 334.1,168.1 336.0,169.5 338.0,170.9 339.5,172.0 342.5,168.0 340.9,166.9 339.0,165.5 337.0,164.1 335.5,163.0" fill="#f684b6"/>
<path d="M336.0 169.5L339.0 165.5" fill="none" stroke="#7c0c46" stroke-width="0.9" opacity="0.45"/>
<polygon points="324.5,134.7 325.9,135.0 328.0,135.3 330.0,135.7 332.0,136.1 334.1,136.4 335.5,136.7 336.5,131.3 335.1,131.0 333.0,130.7 331.0,130.3 329.0,129.9 326.9,129.6 325.5,129.3" fill="#f684b6"/>
<path d="M328.0 135.3L329.0 129.9M334.1 136.4L335.1 131.0" fill="none" stroke="#7c0c46" stroke-width="0.9" opacity="0.45"/>
<polygon points="376.0,69.0 377.8,69.0 380.0,69.0 382.2,69.0 384.0,69.0 384.0,63.0 382.2,63.0 380.0,63.0 377.8,63.0 376.0,63.0" fill="#f684b6"/>
<path d="M380.0 69.0L380.0 63.0" fill="none" stroke="#7c0c46" stroke-width="0.9" opacity="0.45"/>
<polygon points="378.7,52.9 380.5,52.5 382.7,51.9 385.0,51.3 386.7,50.9 385.3,45.1 383.5,45.5 381.3,46.1 379.0,46.7 377.3,47.1" fill="#f684b6"/>
<path d="M382.7 51.9L381.3 46.1" fill="none" stroke="#7c0c46" stroke-width="0.9" opacity="0.45"/>
</g>
<path d="M235.5 60.4 L248.4 52.2 L271.8 41.7 L295.3 31.2 L303.4 27.0 L326.8 14.0 L340.0 8.5 L350.3 7.0 L360.0 9.0 L373.7 15.2 L397.0 30.4 L420.5 41.0 L445.4 53.4 L453.1 60.4 L453.6 76.8 L452.4 93.2 L443.0 107.3 L447.0 116.0 L450.6 126.7 L450.6 138.4 L448.3 157.2 L423.7 166.5 L394.4 181.7 L365.0 194.6 L342.9 207.5 L318.7 192.3 L297.6 182.9 L271.8 168.9 L250.3 159.5 L248.4 145.4 L244.9 131.4 L247.2 115.0 L242.6 107.3 L237.9 88.5 L235.5 72.0Z" fill="none" stroke="#b01860" stroke-width="0.9" opacity="0.9" filter="url(#soft)"/>
<clipPath id="cr"><polygon points="466.7,82.0 472.6,63.2 484.3,44.5 492.5,25.8 498.0,17.0 506.5,11.7 525.3,9.4 550.0,10.5 569.8,11.7 595.5,9.8 607.0,9.8 628.0,10.5 642.0,18.7 656.0,39.8 665.5,53.9 675.0,75.0 675.6,95.7 671.0,111.0 675.0,120.8 674.0,133.0 666.0,142.7 665.5,171.0 619.0,191.4 572.0,209.3 525.3,193.0 477.2,172.0 474.9,145.0 467.9,131.0 470.0,110.0 465.5,95.0"/></clipPath>
<g clip-path="url(#cr)" filter="url(#soft)">
<polygon points="466.7,82.0 472.6,63.2 484.3,44.5 492.5,25.8 498.0,17.0 506.5,11.7 525.3,9.4 550.0,10.5 569.8,11.7 595.5,9.8 607.0,9.8 628.0,10.5 642.0,18.7 656.0,39.8 665.5,53.9 675.0,75.0 675.6,95.7 671.0,111.0 675.0,120.8 674.0,133.0 666.0,142.7 665.5,171.0 619.0,191.4 572.0,209.3 525.3,193.0 477.2,172.0 474.9,145.0 467.9,131.0 470.0,110.0 465.5,95.0" fill="#e32b28"/>
<path d="M455.0 20.0L455.0 190.0M460.3 18.6L460.3 188.6M465.5 17.3L465.5 187.3M470.8 15.9L470.8 185.9M476.1 14.5L476.1 184.5M481.4 13.2L481.4 183.2M486.6 11.8L486.6 181.8M491.9 10.5L491.9 180.5M497.2 9.1L497.2 179.1M502.5 7.7L502.5 177.7M507.7 6.4L507.7 176.4M513.0 5.0L513.0 175.0M518.3 3.6L518.3 173.6M523.5 2.3L523.5 172.3M528.8 0.9L528.8 170.9M534.1 -0.5L534.1 169.5M539.4 -1.8L539.4 168.2M544.6 -3.2L544.6 166.8M549.9 -4.5L549.9 165.5M555.2 -5.9L555.2 164.1M560.5 -7.3L560.5 162.7M565.7 -8.6L565.7 161.4M571.0 -10.0L571.0 160.0M455.0 20.0L571.0 -10.0M455.0 25.3L571.0 -4.7M455.0 30.6L571.0 0.6M455.0 35.9L571.0 5.9M455.0 41.2L571.0 11.2M455.0 46.6L571.0 16.6M455.0 51.9L571.0 21.9M455.0 57.2L571.0 27.2M455.0 62.5L571.0 32.5M455.0 67.8L571.0 37.8M455.0 73.1L571.0 43.1M455.0 78.4L571.0 48.4M455.0 83.8L571.0 53.8M455.0 89.1L571.0 59.1M455.0 94.4L571.0 64.4M455.0 99.7L571.0 69.7M455.0 105.0L571.0 75.0M455.0 110.3L571.0 80.3M455.0 115.6L571.0 85.6M455.0 120.9L571.0 90.9M455.0 126.2L571.0 96.2M455.0 131.6L571.0 101.6M455.0 136.9L571.0 106.9M455.0 142.2L571.0 112.2M455.0 147.5L571.0 117.5M455.0 152.8L571.0 122.8M455.0 158.1L571.0 128.1M455.0 163.4L571.0 133.4M455.0 168.8L571.0 138.8M455.0 174.1L571.0 144.1M455.0 179.4L571.0 149.4M455.0 184.7L571.0 154.7M455.0 190.0L571.0 160.0" fill="none" stroke="#6a080a" stroke-width="1.0" opacity="0.6"/>
<path d="M571.0 -10.0L571.0 160.0M576.3 -8.6L576.3 161.4M581.5 -7.3L581.5 162.7M586.8 -5.9L586.8 164.1M592.1 -4.5L592.1 165.5M597.4 -3.2L597.4 166.8M602.6 -1.8L602.6 168.2M607.9 -0.5L607.9 169.5M613.2 0.9L613.2 170.9M618.5 2.3L618.5 172.3M623.7 3.6L623.7 173.6M629.0 5.0L629.0 175.0M634.3 6.4L634.3 176.4M639.5 7.7L639.5 177.7M644.8 9.1L644.8 179.1M650.1 10.5L650.1 180.5M655.4 11.8L655.4 181.8M660.6 13.2L660.6 183.2M665.9 14.5L665.9 184.5M671.2 15.9L671.2 185.9M676.5 17.3L676.5 187.3M681.7 18.6L681.7 188.6M687.0 20.0L687.0 190.0M571.0 -10.0L687.0 20.0M571.0 -4.7L687.0 25.3M571.0 0.6L687.0 30.6M571.0 5.9L687.0 35.9M571.0 11.2L687.0 41.2M571.0 16.6L687.0 46.6M571.0 21.9L687.0 51.9M571.0 27.2L687.0 57.2M571.0 32.5L687.0 62.5M571.0 37.8L687.0 67.8M571.0 43.1L687.0 73.1M571.0 48.4L687.0 78.4M571.0 53.8L687.0 83.8M571.0 59.1L687.0 89.1M571.0 64.4L687.0 94.4M571.0 69.7L687.0 99.7M571.0 75.0L687.0 105.0M571.0 80.3L687.0 110.3M571.0 85.6L687.0 115.6M571.0 90.9L687.0 120.9M571.0 96.2L687.0 126.2M571.0 101.6L687.0 131.6M571.0 106.9L687.0 136.9M571.0 112.2L687.0 142.2M571.0 117.5L687.0 147.5M571.0 122.8L687.0 152.8M571.0 128.1L687.0 158.1M571.0 133.4L687.0 163.4M571.0 138.8L687.0 168.8M571.0 144.1L687.0 174.1M571.0 149.4L687.0 179.4M571.0 154.7L687.0 184.7M571.0 160.0L687.0 190.0" fill="none" stroke="#6a080a" stroke-width="1.0" opacity="0.6"/>
<polygon points="472.0,132.0 477.2,172.0 572.0,209.3 572.0,150.0" fill="#cf211e"/>
<polygon points="572.0,150.0 572.0,209.3 665.5,171.0 669.0,132.0" fill="#c41d1b"/>
<path d="M473.0 133.0L477.2 172.0M478.5 135.1L482.5 174.1M484.0 137.2L487.7 176.1M489.5 139.3L493.0 178.2M495.0 141.4L498.3 180.3M500.5 143.6L503.5 182.4M506.0 145.7L508.8 184.4M511.5 147.8L514.1 186.5M517.0 149.9L519.3 188.6M522.5 152.0L524.6 190.7M528.0 154.1L529.9 192.7M533.5 156.2L535.1 194.8M539.0 158.3L540.4 196.9M544.5 160.4L545.7 198.9M550.0 162.6L550.9 201.0M555.5 164.7L556.2 203.1M561.0 166.8L561.5 205.2M566.5 168.9L566.7 207.2M572.0 171.0L572.0 209.3M473.0 133.0L572.0 171.0M473.6 138.6L572.0 176.5M474.2 144.1L572.0 181.9M474.8 149.7L572.0 187.4M475.4 155.3L572.0 192.9M476.0 160.9L572.0 198.4M476.6 166.4L572.0 203.8M477.2 172.0L572.0 209.3" fill="none" stroke="#6a080a" stroke-width="1.1" opacity="0.7"/>
<path d="M572.0 171.0L572.0 209.3M577.3 168.8L577.2 207.2M582.7 166.6L582.4 205.0M588.0 164.3L587.6 202.9M593.3 162.1L592.8 200.8M598.7 159.9L598.0 198.7M604.0 157.7L603.2 196.5M609.3 155.4L608.4 194.4M614.7 153.2L613.6 192.3M620.0 151.0L618.8 190.2M625.3 148.8L623.9 188.0M630.7 146.6L629.1 185.9M636.0 144.3L634.3 183.8M641.3 142.1L639.5 181.6M646.7 139.9L644.7 179.5M652.0 137.7L649.9 177.4M657.3 135.4L655.1 175.3M662.7 133.2L660.3 173.1M668.0 131.0L665.5 171.0M572.0 171.0L668.0 131.0M572.0 176.5L667.6 136.7M572.0 181.9L667.3 142.4M572.0 187.4L666.9 148.1M572.0 192.9L666.6 153.9M572.0 198.4L666.2 159.6M572.0 203.8L665.9 165.3M572.0 209.3L665.5 171.0" fill="none" stroke="#6a080a" stroke-width="1.1" opacity="0.7"/>
<path d="M572 209.3 L619 191.4 L665.5 171" fill="none" stroke="#7a0808" stroke-width="18" opacity="0.3"/>
<path d="M477.2 172 L525.3 193 L572 209.3" fill="none" stroke="#7a0808" stroke-width="12" opacity="0.25"/>
<polygon points="490.0,12.0 650.0,12.0 664.0,100.0 478.0,100.0" fill="#a81412"/>
<path d="M490.0 10.0L490.0 100.0M495.3 10.0L495.3 100.0M500.7 10.0L500.7 100.0M506.0 10.0L506.0 100.0M511.3 10.0L511.3 100.0M516.7 10.0L516.7 100.0M522.0 10.0L522.0 100.0M527.3 10.0L527.3 100.0M532.7 10.0L532.7 100.0M538.0 10.0L538.0 100.0M543.3 10.0L543.3 100.0M548.7 10.0L548.7 100.0M554.0 10.0L554.0 100.0M559.3 10.0L559.3 100.0M564.7 10.0L564.7 100.0M570.0 10.0L570.0 100.0M575.3 10.0L575.3 100.0M580.7 10.0L580.7 100.0M586.0 10.0L586.0 100.0M591.3 10.0L591.3 100.0M596.7 10.0L596.7 100.0M602.0 10.0L602.0 100.0M607.3 10.0L607.3 100.0M612.7 10.0L612.7 100.0M618.0 10.0L618.0 100.0M623.3 10.0L623.3 100.0M628.7 10.0L628.7 100.0M634.0 10.0L634.0 100.0M639.3 10.0L639.3 100.0M644.7 10.0L644.7 100.0M650.0 10.0L650.0 100.0M490.0 10.0L650.0 10.0M490.0 15.3L650.0 15.3M490.0 20.6L650.0 20.6M490.0 25.9L650.0 25.9M490.0 31.2L650.0 31.2M490.0 36.5L650.0 36.5M490.0 41.8L650.0 41.8M490.0 47.1L650.0 47.1M490.0 52.4L650.0 52.4M490.0 57.6L650.0 57.6M490.0 62.9L650.0 62.9M490.0 68.2L650.0 68.2M490.0 73.5L650.0 73.5M490.0 78.8L650.0 78.8M490.0 84.1L650.0 84.1M490.0 89.4L650.0 89.4M490.0 94.7L650.0 94.7M490.0 100.0L650.0 100.0" fill="none" stroke="#6a080a" stroke-width="0.9" opacity="0.4"/>
<polygon points="540.0,100.0 571.0,86.0 602.0,100.0 571.0,108.0" fill="#b81816"/>
<path d="M524.0 103.5 C528.3 102.7 541.8 101.2 550.0 98.5 C558.2 95.8 569.2 89.3 573.0 87.5" fill="none" stroke="#930e0e" stroke-width="5.5" stroke-linecap="round" opacity="0.95"/>
<polygon points="522.7,100.1 523.6,100.0 524.7,99.9 526.0,99.9 527.4,99.8 529.0,99.7 530.7,99.7 532.5,99.6 534.4,99.5 536.4,99.3 538.3,98.9 540.3,98.6 542.2,98.2 544.2,97.7 546.1,97.3 547.9,96.8 549.7,96.2 551.6,95.6 553.5,94.8 555.3,94.1 557.2,93.2 559.1,92.3 561.0,91.4 562.7,90.4 564.4,89.4 565.9,88.3 567.4,87.3 568.8,86.4 570.0,85.6 571.1,84.8 572.1,84.2 572.8,83.7 569.2,76.3 568.2,76.7 567.1,77.1 565.8,77.6 564.4,78.2 562.9,78.8 561.3,79.5 559.6,80.1 557.8,80.8 556.1,81.6 554.4,82.4 552.7,83.2 551.0,84.0 549.3,84.6 547.8,85.3 546.3,85.8 544.9,86.2 543.3,86.6 541.7,87.0 540.0,87.4 538.2,87.8 536.3,88.1 534.5,88.5 532.7,88.9 530.9,89.4 529.2,89.8 527.6,90.3 526.1,90.7 524.6,91.0 523.3,91.4 522.2,91.7 521.3,91.9" fill="#e32b28" stroke="#860a0c" stroke-width="1.1" stroke-linejoin="round"/>
<polyline points="524.0,95.7 525.3,95.5 526.7,95.2 528.3,95.0 530.0,94.8 531.7,94.5 533.6,94.2 535.4,93.9 537.3,93.5 539.2,93.2 541.1,92.8 542.9,92.4 544.7,91.9 546.4,91.5 548.0,91.0 549.7,90.4 551.4,89.7 553.2,89.0 554.9,88.2 556.7,87.4 558.5,86.5 560.3,85.6 562.0,84.8 563.6,83.9 565.1,83.1 566.6,82.3 567.9,81.6 569.1,81.0" fill="none" stroke="#f34038" stroke-width="5.5" stroke-linecap="round" opacity="0.5"/>
<polyline points="522.3,92.3 523.5,92.1 524.8,91.9 526.2,91.7 527.8,91.4 529.4,91.2 531.2,90.9 533.0,90.6 534.8,90.3 536.7,90.0 538.5,89.6 540.3,89.2 542.1,88.8 543.8,88.4 545.4,88.0 546.9,87.6 548.4,87.0 550.0,86.4 551.7,85.7 553.4,84.9 555.2,84.1 556.9,83.3 558.6,82.4 560.3,81.5 561.9,80.7 563.4,79.9 564.9,79.1 566.2,78.4 567.4,77.7 568.5,77.2" fill="none" stroke="#860a0c" stroke-width="3.7" opacity="0.35"/>
<path d="M527.4 99.8L526.1 90.7M532.5 99.6L530.9 89.4M538.3 98.9L536.3 88.1M544.2 97.7L541.7 87.0M549.7 96.2L546.3 85.8M555.3 94.1L551.0 84.0M561.0 91.4L556.1 81.6M565.9 88.3L561.3 79.5M570.0 85.6L565.8 77.6M522.0 96.0L524.0 95.7L526.7 95.2L530.0 94.8L533.6 94.2L537.3 93.5L541.1 92.8L544.7 91.9L548.0 91.0L551.4 89.7L554.9 88.2L558.5 86.5L562.0 84.8L565.1 83.1L567.9 81.6L570.1 80.4L571.0 80.0" fill="none" stroke="#6a080a" stroke-width="1.1" opacity="0.72"/>
<path d="M618.0 103.5 C613.7 102.7 600.2 101.2 592.0 98.5 C583.8 95.8 572.8 89.3 569.0 87.5" fill="none" stroke="#930e0e" stroke-width="5.5" stroke-linecap="round" opacity="0.95"/>
<polygon points="620.7,91.9 619.8,91.7 618.7,91.4 617.4,91.0 615.9,90.7 614.4,90.3 612.8,89.8 611.1,89.4 609.3,88.9 607.5,88.5 605.7,88.1 603.8,87.8 602.0,87.4 600.3,87.0 598.7,86.6 597.1,86.2 595.7,85.8 594.2,85.3 592.7,84.6 591.0,84.0 589.3,83.2 587.6,82.4 585.9,81.6 584.2,80.8 582.4,80.1 580.7,79.5 579.1,78.8 577.6,78.2 576.2,77.6 574.9,77.1 573.8,76.7 572.8,76.3 569.2,83.7 569.9,84.2 570.9,84.8 572.0,85.6 573.2,86.4 574.6,87.3 576.1,88.3 577.6,89.4 579.3,90.4 581.0,91.4 582.9,92.3 584.8,93.2 586.7,94.1 588.5,94.8 590.4,95.6 592.3,96.2 594.1,96.8 595.9,97.3 597.8,97.7 599.8,98.2 601.7,98.6 603.7,98.9 605.6,99.3 607.6,99.5 609.5,99.6 611.3,99.7 613.0,99.7 614.6,99.8 616.0,99.9 617.3,99.9 618.4,100.0 619.3,100.1" fill="#e32b28" stroke="#860a0c" stroke-width="1.1" stroke-linejoin="round"/>
<polyline points="618.0,95.7 616.7,95.5 615.3,95.2 613.7,95.0 612.0,94.8 610.3,94.5 608.4,94.2 606.6,93.9 604.7,93.5 602.8,93.2 600.9,92.8 599.1,92.4 597.3,91.9 595.6,91.5 594.0,91.0 592.3,90.4 590.6,89.7 588.8,89.0 587.1,88.2 585.3,87.4 583.5,86.5 581.7,85.6 580.0,84.8 578.4,83.9 576.9,83.1 575.4,82.3 574.1,81.6 572.9,81.0" fill="none" stroke="#f34038" stroke-width="5.5" stroke-linecap="round" opacity="0.5"/>
<polyline points="619.7,92.3 618.5,92.1 617.2,91.9 615.8,91.7 614.2,91.4 612.6,91.2 610.8,90.9 609.0,90.6 607.2,90.3 605.3,90.0 603.5,89.6 601.7,89.2 599.9,88.8 598.2,88.4 596.6,88.0 595.1,87.6 593.6,87.0 592.0,86.4 590.3,85.7 588.6,84.9 586.8,84.1 585.1,83.3 583.4,82.4 581.7,81.5 580.1,80.7 578.6,79.9 577.1,79.1 575.8,78.4 574.6,77.7 573.5,77.2" fill="none" stroke="#860a0c" stroke-width="3.7" opacity="0.35"/>
<path d="M615.9 90.7L614.6 99.8M611.1 89.4L609.5 99.6M605.7 88.1L603.7 98.9M600.3 87.0L597.8 97.7M595.7 85.8L592.3 96.2M591.0 84.0L586.7 94.1M585.9 81.6L581.0 91.4M580.7 79.5L576.1 88.3M576.2 77.6L572.0 85.6M620.0 96.0L618.0 95.7L615.3 95.2L612.0 94.8L608.4 94.2L604.7 93.5L600.9 92.8L597.3 91.9L594.0 91.0L590.6 89.7L587.1 88.2L583.5 86.5L580.0 84.8L576.9 83.1L574.1 81.6L571.9 80.4L571.0 80.0" fill="none" stroke="#6a080a" stroke-width="1.1" opacity="0.72"/>
<path d="M516.0 90.0 C521.0 89.0 536.5 87.2 546.0 84.0 C555.5 80.8 568.5 73.2 573.0 71.0" fill="none" stroke="#930e0e" stroke-width="5.5" stroke-linecap="round" opacity="0.95"/>
<polygon points="514.8,86.4 515.7,86.4 516.7,86.3 517.9,86.2 519.2,86.2 520.6,86.1 522.2,86.0 523.8,85.9 525.6,85.8 527.4,85.7 529.3,85.6 531.1,85.2 533.0,84.9 534.9,84.5 536.8,84.1 538.7,83.7 540.6,83.2 542.4,82.7 544.2,82.2 545.9,81.7 547.7,81.1 549.5,80.4 551.3,79.6 553.2,78.8 555.0,78.0 556.8,77.1 558.6,76.2 560.4,75.3 562.1,74.3 563.7,73.3 565.2,72.3 566.6,71.3 568.0,70.4 569.2,69.5 570.4,68.8 571.4,68.1 572.3,67.5 573.0,67.0 569.0,59.0 568.1,59.3 567.0,59.7 565.8,60.2 564.5,60.8 563.1,61.3 561.6,61.9 560.0,62.6 558.4,63.2 556.7,63.9 555.0,64.6 553.3,65.5 551.6,66.3 549.9,67.1 548.3,67.9 546.6,68.6 545.1,69.2 543.5,69.8 542.1,70.3 540.7,70.7 539.2,71.2 537.7,71.6 536.0,72.0 534.3,72.4 532.5,72.7 530.7,73.1 529.0,73.4 527.2,73.7 525.4,74.2 523.8,74.7 522.1,75.2 520.5,75.6 519.0,76.0 517.6,76.3 516.3,76.7 515.1,77.0 514.1,77.3 513.2,77.6" fill="#e32b28" stroke="#860a0c" stroke-width="1.1" stroke-linejoin="round"/>
<polyline points="515.9,81.7 517.1,81.5 518.4,81.3 519.8,81.0 521.4,80.8 523.0,80.5 524.7,80.3 526.4,80.0 528.2,79.7 530.0,79.3 531.9,79.0 533.7,78.6 535.6,78.2 537.4,77.8 539.1,77.4 540.8,77.0 542.5,76.5 544.0,76.0 545.6,75.4 547.3,74.8 549.0,74.1 550.7,73.3 552.5,72.5 554.2,71.7 556.0,70.9 557.7,70.0 559.4,69.1 561.0,68.3 562.6,67.4 564.1,66.6 565.5,65.9 566.9,65.1 568.1,64.5 569.2,63.9" fill="none" stroke="#f34038" stroke-width="6.0" stroke-linecap="round" opacity="0.5"/>
<polyline points="514.2,77.9 515.3,77.8 516.5,77.6 517.8,77.3 519.2,77.1 520.7,76.9 522.3,76.6 524.0,76.3 525.8,76.1 527.5,75.8 529.3,75.4 531.1,75.1 532.9,74.7 534.7,74.4 536.5,74.0 538.2,73.6 539.8,73.1 541.3,72.7 542.7,72.2 544.2,71.7 545.8,71.1 547.4,70.4 549.1,69.7 550.8,68.9 552.5,68.1 554.2,67.3 555.9,66.5 557.6,65.6 559.2,64.8 560.7,63.9 562.2,63.1 563.7,62.4 565.0,61.7 566.2,61.0 567.4,60.4 568.4,59.9" fill="none" stroke="#860a0c" stroke-width="4.1" opacity="0.35"/>
<path d="M519.2 86.2L517.6 76.3M523.8 85.9L522.1 75.2M531.1 85.2L529.0 73.4M536.8 84.1L534.3 72.4M542.4 82.7L539.2 71.2M547.7 81.1L543.5 69.8M553.2 78.8L548.3 67.9M558.6 76.2L553.3 65.5M563.7 73.3L558.4 63.2M568.0 70.4L563.1 61.3M514.0 82.0L515.9 81.7L518.4 81.3L521.4 80.8L524.7 80.3L528.2 79.7L531.9 79.0L535.6 78.2L539.1 77.4L542.5 76.5L545.6 75.4L549.0 74.1L552.5 72.5L556.0 70.9L559.4 69.1L562.6 67.4L565.5 65.9L568.1 64.5L570.2 63.4L571.0 63.0" fill="none" stroke="#6a080a" stroke-width="1.1" opacity="0.72"/>
<path d="M626.0 90.0 C621.0 89.0 605.5 87.2 596.0 84.0 C586.5 80.8 573.5 73.2 569.0 71.0" fill="none" stroke="#930e0e" stroke-width="5.5" stroke-linecap="round" opacity="0.95"/>
<polygon points="628.8,77.6 627.9,77.3 626.9,77.0 625.7,76.7 624.4,76.3 623.0,76.0 621.5,75.6 619.9,75.2 618.2,74.7 616.6,74.2 614.8,73.7 613.0,73.4 611.3,73.1 609.5,72.7 607.7,72.4 606.0,72.0 604.3,71.6 602.8,71.2 601.3,70.7 599.9,70.3 598.5,69.8 596.9,69.2 595.4,68.6 593.7,67.9 592.1,67.1 590.4,66.3 588.7,65.5 587.0,64.6 585.3,63.9 583.6,63.2 582.0,62.6 580.4,61.9 578.9,61.3 577.5,60.8 576.2,60.2 575.0,59.7 573.9,59.3 573.0,59.0 569.0,67.0 569.7,67.5 570.6,68.1 571.6,68.8 572.8,69.5 574.0,70.4 575.4,71.3 576.8,72.3 578.3,73.3 579.9,74.3 581.6,75.3 583.4,76.2 585.2,77.1 587.0,78.0 588.8,78.8 590.7,79.6 592.5,80.4 594.3,81.1 596.1,81.7 597.8,82.2 599.6,82.7 601.4,83.2 603.3,83.7 605.2,84.1 607.1,84.5 609.0,84.9 610.9,85.2 612.7,85.6 614.6,85.7 616.4,85.8 618.2,85.9 619.8,86.0 621.4,86.1 622.8,86.2 624.1,86.2 625.3,86.3 626.3,86.4 627.2,86.4" fill="#e32b28" stroke="#860a0c" stroke-width="1.1" stroke-linejoin="round"/>
<polyline points="626.1,81.7 624.9,81.5 623.6,81.3 622.2,81.0 620.6,80.8 619.0,80.5 617.3,80.3 615.6,80.0 613.8,79.7 612.0,79.3 610.1,79.0 608.3,78.6 606.4,78.2 604.6,77.8 602.9,77.4 601.2,77.0 599.5,76.5 598.0,76.0 596.4,75.4 594.7,74.8 593.0,74.1 591.3,73.3 589.5,72.5 587.8,71.7 586.0,70.9 584.3,70.0 582.6,69.1 581.0,68.3 579.4,67.4 577.9,66.6 576.5,65.9 575.1,65.1 573.9,64.5 572.8,63.9" fill="none" stroke="#f34038" stroke-width="6.0" stroke-linecap="round" opacity="0.5"/>
<polyline points="627.8,77.9 626.7,77.8 625.5,77.6 624.2,77.3 622.8,77.1 621.3,76.9 619.7,76.6 618.0,76.3 616.2,76.1 614.5,75.8 612.7,75.4 610.9,75.1 609.1,74.7 607.3,74.4 605.5,74.0 603.8,73.6 602.2,73.1 600.7,72.7 599.3,72.2 597.8,71.7 596.2,71.1 594.6,70.4 592.9,69.7 591.2,68.9 589.5,68.1 587.8,67.3 586.1,66.5 584.4,65.6 582.8,64.8 581.3,63.9 579.8,63.1 578.3,62.4 577.0,61.7 575.8,61.0 574.6,60.4 573.6,59.9" fill="none" stroke="#860a0c" stroke-width="4.1" opacity="0.35"/>
<path d="M624.4 76.3L622.8 86.2M619.9 75.2L618.2 85.9M613.0 73.4L610.9 85.2M607.7 72.4L605.2 84.1M602.8 71.2L599.6 82.7M598.5 69.8L594.3 81.1M593.7 67.9L588.8 78.8M588.7 65.5L583.4 76.2M583.6 63.2L578.3 73.3M578.9 61.3L574.0 70.4M628.0 82.0L626.1 81.7L623.6 81.3L620.6 80.8L617.3 80.3L613.8 79.7L610.1 79.0L606.4 78.2L602.9 77.4L599.5 76.5L596.4 75.4L593.0 74.1L589.5 72.5L586.0 70.9L582.6 69.1L579.4 67.4L576.5 65.9L573.9 64.5L571.8 63.4L571.0 63.0" fill="none" stroke="#6a080a" stroke-width="1.1" opacity="0.72"/>
<path d="M508.0 74.5 C513.7 73.2 531.2 70.2 542.0 66.5 C552.8 62.8 567.8 54.8 573.0 52.5" fill="none" stroke="#930e0e" stroke-width="5.5" stroke-linecap="round" opacity="0.95"/>
<polygon points="507.1,70.8 508.0,70.7 509.0,70.5 510.2,70.4 511.5,70.3 512.9,70.2 514.4,70.0 516.1,69.9 517.8,69.7 519.6,69.5 521.5,69.3 523.4,69.0 525.3,68.6 527.2,68.2 529.1,67.7 531.1,67.3 533.0,66.8 534.9,66.3 536.8,65.8 538.6,65.3 540.4,64.7 542.1,64.2 543.8,63.6 545.5,62.9 547.3,62.2 549.0,61.5 550.8,60.8 552.6,60.0 554.4,59.2 556.1,58.4 557.9,57.6 559.6,56.8 561.2,55.8 562.7,54.9 564.2,53.9 565.6,53.1 567.0,52.2 568.2,51.4 569.4,50.7 570.5,50.0 571.5,49.4 572.3,48.9 573.0,48.4 569.0,39.6 568.1,39.9 567.1,40.2 565.9,40.6 564.7,41.1 563.4,41.6 562.0,42.1 560.5,42.7 559.0,43.2 557.4,43.8 555.7,44.4 554.0,45.0 552.4,45.8 550.7,46.6 549.0,47.3 547.4,48.1 545.7,48.8 544.1,49.5 542.4,50.2 540.9,50.8 539.4,51.3 537.9,51.8 536.5,52.3 534.9,52.8 533.3,53.3 531.5,53.7 529.8,54.2 528.0,54.6 526.1,55.1 524.3,55.5 522.4,55.9 520.6,56.3 518.8,56.8 517.1,57.4 515.4,57.9 513.8,58.4 512.2,58.9 510.7,59.4 509.3,59.8 508.0,60.2 506.9,60.6 505.8,60.9 504.9,61.2" fill="#e32b28" stroke="#860a0c" stroke-width="1.1" stroke-linejoin="round"/>
<polyline points="507.9,65.6 509.1,65.3 510.4,65.1 511.8,64.8 513.3,64.5 514.9,64.1 516.6,63.8 518.3,63.4 520.1,63.1 522.0,62.7 523.9,62.3 525.7,61.8 527.6,61.4 529.5,61.0 531.4,60.5 533.2,60.0 535.0,59.5 536.7,59.0 538.4,58.5 540.0,58.0 541.6,57.4 543.2,56.8 544.9,56.2 546.5,55.5 548.3,54.8 550.0,54.0 551.7,53.3 553.4,52.5 555.1,51.7 556.8,50.9 558.4,50.1 560.0,49.3 561.6,48.6 563.1,47.9 564.5,47.2 565.8,46.5 567.1,45.9 568.2,45.3 569.3,44.8" fill="none" stroke="#f34038" stroke-width="6.5" stroke-linecap="round" opacity="0.5"/>
<polyline points="506.0,61.6 507.0,61.4 508.2,61.1 509.5,60.9 511.0,60.6 512.5,60.3 514.1,59.9 515.7,59.6 517.5,59.2 519.3,58.9 521.1,58.5 522.9,58.1 524.8,57.7 526.6,57.2 528.5,56.8 530.3,56.3 532.1,55.9 533.8,55.4 535.5,54.9 537.1,54.4 538.6,53.9 540.1,53.4 541.7,52.8 543.3,52.2 544.9,51.5 546.6,50.8 548.2,50.1 549.9,49.3 551.6,48.6 553.3,47.8 555.0,47.0 556.6,46.2 558.2,45.5 559.7,44.7 561.2,44.0 562.6,43.3 563.9,42.6 565.2,42.0 566.3,41.5 567.4,40.9 568.4,40.5" fill="none" stroke="#860a0c" stroke-width="4.4" opacity="0.35"/>
<path d="M511.5 70.3L509.3 59.8M516.1 69.9L513.8 58.4M523.4 69.0L520.6 56.3M527.2 68.2L524.3 55.5M533.0 66.8L529.8 54.2M538.6 65.3L534.9 52.8M545.5 62.9L540.9 50.8M550.8 60.8L545.7 48.8M556.1 58.4L550.7 46.6M561.2 55.8L555.7 44.4M565.6 53.1L560.5 42.7M570.5 50.0L565.9 40.6M506.0 66.0L507.9 65.6L510.4 65.1L513.3 64.5L516.6 63.8L520.1 63.1L523.9 62.3L527.6 61.4L531.4 60.5L535.0 59.5L538.4 58.5L541.6 57.4L544.9 56.2L548.3 54.8L551.7 53.3L555.1 51.7L558.4 50.1L561.6 48.6L564.5 47.2L567.1 45.9L569.3 44.8L571.0 44.0L571.0 44.0" fill="none" stroke="#6a080a" stroke-width="1.1" opacity="0.72"/>
<path d="M634.0 74.5 C628.3 73.2 610.8 70.2 600.0 66.5 C589.2 62.8 574.2 54.8 569.0 52.5" fill="none" stroke="#930e0e" stroke-width="5.5" stroke-linecap="round" opacity="0.95"/>
<polygon points="637.1,61.2 636.2,60.9 635.1,60.6 634.0,60.2 632.7,59.8 631.3,59.4 629.8,58.9 628.2,58.4 626.6,57.9 624.9,57.4 623.2,56.8 621.4,56.3 619.6,55.9 617.7,55.5 615.9,55.1 614.0,54.6 612.2,54.2 610.5,53.7 608.7,53.3 607.1,52.8 605.5,52.3 604.1,51.8 602.6,51.3 601.1,50.8 599.6,50.2 597.9,49.5 596.3,48.8 594.6,48.1 593.0,47.3 591.3,46.6 589.6,45.8 588.0,45.0 586.3,44.4 584.6,43.8 583.0,43.2 581.5,42.7 580.0,42.1 578.6,41.6 577.3,41.1 576.1,40.6 574.9,40.2 573.9,39.9 573.0,39.6 569.0,48.4 569.7,48.9 570.5,49.4 571.5,50.0 572.6,50.7 573.8,51.4 575.0,52.2 576.4,53.1 577.8,53.9 579.3,54.9 580.8,55.8 582.4,56.8 584.1,57.6 585.9,58.4 587.6,59.2 589.4,60.0 591.2,60.8 593.0,61.5 594.7,62.2 596.5,62.9 598.2,63.6 599.9,64.2 601.6,64.7 603.4,65.3 605.2,65.8 607.1,66.3 609.0,66.8 610.9,67.3 612.9,67.7 614.8,68.2 616.7,68.6 618.6,69.0 620.5,69.3 622.4,69.5 624.2,69.7 625.9,69.9 627.6,70.0 629.1,70.2 630.5,70.3 631.8,70.4 633.0,70.5 634.0,70.7 634.9,70.8" fill="#e32b28" stroke="#860a0c" stroke-width="1.1" stroke-linejoin="round"/>
<polyline points="634.1,65.6 632.9,65.3 631.6,65.1 630.2,64.8 628.7,64.5 627.1,64.1 625.4,63.8 623.7,63.4 621.9,63.1 620.0,62.7 618.1,62.3 616.3,61.8 614.4,61.4 612.5,61.0 610.6,60.5 608.8,60.0 607.0,59.5 605.3,59.0 603.6,58.5 602.0,58.0 600.4,57.4 598.8,56.8 597.1,56.2 595.5,55.5 593.7,54.8 592.0,54.0 590.3,53.3 588.6,52.5 586.9,51.7 585.2,50.9 583.6,50.1 582.0,49.3 580.4,48.6 578.9,47.9 577.5,47.2 576.2,46.5 574.9,45.9 573.8,45.3 572.7,44.8" fill="none" stroke="#f34038" stroke-width="6.5" stroke-linecap="round" opacity="0.5"/>
<polyline points="636.0,61.6 635.0,61.4 633.8,61.1 632.5,60.9 631.0,60.6 629.5,60.3 627.9,59.9 626.3,59.6 624.5,59.2 622.7,58.9 620.9,58.5 619.1,58.1 617.2,57.7 615.4,57.2 613.5,56.8 611.7,56.3 609.9,55.9 608.2,55.4 606.5,54.9 604.9,54.4 603.4,53.9 601.9,53.4 600.3,52.8 598.7,52.2 597.1,51.5 595.4,50.8 593.8,50.1 592.1,49.3 590.4,48.6 588.7,47.8 587.0,47.0 585.4,46.2 583.8,45.5 582.3,44.7 580.8,44.0 579.4,43.3 578.1,42.6 576.8,42.0 575.7,41.5 574.6,40.9 573.6,40.5" fill="none" stroke="#860a0c" stroke-width="4.4" opacity="0.35"/>
<path d="M632.7 59.8L630.5 70.3M628.2 58.4L625.9 69.9M621.4 56.3L618.6 69.0M617.7 55.5L614.8 68.2M612.2 54.2L609.0 66.8M607.1 52.8L603.4 65.3M601.1 50.8L596.5 62.9M596.3 48.8L591.2 60.8M591.3 46.6L585.9 58.4M586.3 44.4L580.8 55.8M581.5 42.7L576.4 53.1M576.1 40.6L571.5 50.0M636.0 66.0L634.1 65.6L631.6 65.1L628.7 64.5L625.4 63.8L621.9 63.1L618.1 62.3L614.4 61.4L610.6 60.5L607.0 59.5L603.6 58.5L600.4 57.4L597.1 56.2L593.7 54.8L590.3 53.3L586.9 51.7L583.6 50.1L580.4 48.6L577.5 47.2L574.9 45.9L572.7 44.8L571.0 44.0L571.0 44.0" fill="none" stroke="#6a080a" stroke-width="1.1" opacity="0.72"/>
<path d="M498.0 57.5 C503.0 55.7 515.5 50.5 528.0 46.5 C540.5 42.5 565.5 35.7 573.0 33.5" fill="none" stroke="#930e0e" stroke-width="5.5" stroke-linecap="round" opacity="0.95"/>
<polygon points="499.0,52.1 499.9,51.8 501.0,51.6 502.1,51.2 503.4,50.9 504.7,50.5 506.1,50.2 507.6,49.7 509.2,49.3 510.9,48.9 512.6,48.4 514.4,48.0 516.2,47.5 518.1,47.0 519.9,46.6 521.9,46.1 523.8,45.7 525.7,45.2 527.6,44.6 529.5,43.9 530.8,43.5 532.2,43.1 533.6,42.7 535.1,42.2 536.7,41.7 538.4,41.2 540.1,40.7 541.8,40.2 543.6,39.7 545.3,39.2 547.2,38.7 548.9,38.0 550.7,37.3 552.5,36.6 554.2,35.9 555.9,35.2 557.6,34.5 559.3,33.9 560.9,33.2 562.5,32.6 564.0,32.0 565.5,31.4 566.9,30.9 568.2,30.4 569.4,29.9 570.6,29.4 571.6,29.0 572.6,28.6 573.4,28.3 568.6,11.7 567.8,11.9 566.8,12.0 565.7,12.2 564.5,12.4 563.2,12.6 561.8,12.9 560.4,13.1 558.8,13.4 557.2,13.7 555.5,14.0 553.8,14.3 552.0,14.6 550.2,14.9 548.3,15.2 546.5,15.5 544.6,15.9 542.7,16.2 540.8,16.6 539.0,17.1 537.2,17.6 535.3,18.2 533.6,18.7 531.8,19.2 530.1,19.7 528.5,20.2 526.9,20.7 525.4,21.1 523.9,21.6 522.5,22.1 520.4,22.7 518.4,23.4 516.4,24.3 514.5,25.2 512.6,26.1 510.7,27.0 508.9,27.8 507.2,28.7 505.5,29.6 503.8,30.4 502.3,31.2 500.8,31.9 499.4,32.7 498.0,33.3 496.8,34.0 495.7,34.6 494.7,35.1 493.8,35.5 493.0,35.9" fill="#e32b28" stroke="#860a0c" stroke-width="1.1" stroke-linejoin="round"/>
<polyline points="497.8,43.3 498.9,42.9 500.1,42.4 501.4,41.9 502.7,41.4 504.2,40.8 505.7,40.2 507.4,39.6 509.0,39.0 510.8,38.3 512.6,37.7 514.4,37.0 516.3,36.3 518.2,35.6 520.1,35.0 522.1,34.3 524.0,33.6 526.0,33.0 527.3,32.6 528.8,32.1 530.2,31.7 531.8,31.2 533.4,30.7 535.1,30.2 536.8,29.7 538.6,29.2 540.4,28.7 542.2,28.2 544.0,27.6 545.8,27.1 547.6,26.6 549.5,26.1 551.3,25.6 553.1,25.1 554.8,24.6 556.5,24.1 558.2,23.6 559.9,23.1 561.4,22.7 562.9,22.3 564.4,21.9 565.7,21.5 567.0,21.1 568.1,20.8 569.2,20.5" fill="none" stroke="#f34038" stroke-width="11.5" stroke-linecap="round" opacity="0.5"/>
<polyline points="494.2,36.6 495.1,36.2 496.2,35.8 497.3,35.4 498.6,34.9 500.0,34.3 501.5,33.8 503.0,33.2 504.6,32.5 506.3,31.9 508.1,31.2 509.9,30.6 511.8,29.9 513.7,29.2 515.7,28.5 517.6,27.8 519.6,27.1 521.7,26.4 523.7,25.8 525.1,25.3 526.5,24.9 528.0,24.4 529.6,23.9 531.3,23.4 532.9,22.9 534.7,22.4 536.4,21.9 538.2,21.4 540.1,20.9 541.9,20.3 543.7,19.8 545.6,19.3 547.4,18.8 549.2,18.3 551.0,17.7 552.8,17.2 554.5,16.8 556.2,16.3 557.8,15.8 559.4,15.4 560.9,15.0 562.3,14.6 563.7,14.2 564.9,13.8 566.1,13.5 567.1,13.2 568.1,12.9" fill="none" stroke="#860a0c" stroke-width="7.8" opacity="0.35"/>
<path d="M503.4 50.9L496.8 34.0M509.2 49.3L502.3 31.2M514.4 48.0L507.2 28.7M519.9 46.6L512.6 26.1M525.7 45.2L518.4 23.4M529.5 43.9L522.5 22.1M535.1 42.2L528.5 20.2M540.1 40.7L533.6 18.7M545.3 39.2L539.0 17.1M550.7 37.3L544.6 15.9M555.9 35.2L550.2 14.9M560.9 33.2L555.5 14.0M566.9 30.9L561.8 12.9M571.6 29.0L566.8 12.0M497.5 48.0L499.4 47.4L501.7 46.7L504.4 45.8L507.5 44.8L510.8 43.7L514.4 42.6L518.1 41.4L522.0 40.3L525.8 39.1L529.1 38.1L531.9 37.2L535.1 36.2L538.4 35.2L542.0 34.2L545.6 33.2L549.2 32.0L552.7 30.7L556.2 29.5L559.6 28.4L562.7 27.4L565.6 26.4L568.2 25.5L570.4 24.8L572.2 24.1L572.2 24.1M496.0 44.0L497.8 43.3L500.1 42.4L502.7 41.4L505.7 40.2L509.0 39.0L512.6 37.7L516.3 36.3L520.1 35.0L524.0 33.6L527.3 32.6L530.2 31.7L533.4 30.7L536.8 29.7L540.4 28.7L544.0 27.6L547.6 26.6L551.3 25.6L554.8 24.6L558.2 23.6L561.4 22.7L564.4 21.9L567.0 21.1L569.2 20.5L571.0 20.0L571.0 20.0M494.5 40.0L496.2 39.2L498.4 38.2L501.0 37.0L504.0 35.7L507.3 34.3L510.7 32.8L514.4 31.2L518.3 29.6L522.2 28.2L525.6 27.1L528.6 26.2L531.8 25.2L535.2 24.2L538.8 23.2L542.4 22.1L546.1 21.2L549.8 20.4L553.4 19.6L556.9 18.8L560.1 18.0L563.1 17.4L565.7 16.8L568.0 16.3L569.8 15.9L569.8 15.9" fill="none" stroke="#6a080a" stroke-width="1.1" opacity="0.72"/>
<path d="M644.0 57.5 C639.0 55.7 626.5 50.5 614.0 46.5 C601.5 42.5 576.5 35.7 569.0 33.5" fill="none" stroke="#930e0e" stroke-width="5.5" stroke-linecap="round" opacity="0.95"/>
<polygon points="649.0,35.9 648.2,35.5 647.3,35.1 646.3,34.6 645.2,34.0 644.0,33.3 642.6,32.7 641.2,31.9 639.7,31.2 638.2,30.4 636.5,29.6 634.8,28.7 633.1,27.8 631.3,27.0 629.4,26.1 627.5,25.2 625.6,24.3 623.6,23.4 621.6,22.7 619.5,22.1 618.1,21.6 616.6,21.1 615.1,20.7 613.5,20.2 611.9,19.7 610.2,19.2 608.4,18.7 606.7,18.2 604.8,17.6 603.0,17.1 601.2,16.6 599.3,16.2 597.4,15.9 595.5,15.5 593.7,15.2 591.8,14.9 590.0,14.6 588.2,14.3 586.5,14.0 584.8,13.7 583.2,13.4 581.6,13.1 580.2,12.9 578.8,12.6 577.5,12.4 576.3,12.2 575.2,12.0 574.2,11.9 573.4,11.7 568.6,28.3 569.4,28.6 570.4,29.0 571.4,29.4 572.6,29.9 573.8,30.4 575.1,30.9 576.5,31.4 578.0,32.0 579.5,32.6 581.1,33.2 582.7,33.9 584.4,34.5 586.1,35.2 587.8,35.9 589.5,36.6 591.3,37.3 593.1,38.0 594.8,38.7 596.7,39.2 598.4,39.7 600.2,40.2 601.9,40.7 603.6,41.2 605.3,41.7 606.9,42.2 608.4,42.7 609.8,43.1 611.2,43.5 612.5,43.9 614.4,44.6 616.3,45.2 618.2,45.7 620.1,46.1 622.1,46.6 623.9,47.0 625.8,47.5 627.6,48.0 629.4,48.4 631.1,48.9 632.8,49.3 634.4,49.7 635.9,50.2 637.3,50.5 638.6,50.9 639.9,51.2 641.0,51.6 642.1,51.8 643.0,52.1" fill="#e32b28" stroke="#860a0c" stroke-width="1.1" stroke-linejoin="round"/>
<polyline points="644.2,43.3 643.1,42.9 641.9,42.4 640.6,41.9 639.3,41.4 637.8,40.8 636.3,40.2 634.6,39.6 633.0,39.0 631.2,38.3 629.4,37.7 627.6,37.0 625.7,36.3 623.8,35.6 621.9,35.0 619.9,34.3 618.0,33.6 616.0,33.0 614.7,32.6 613.2,32.1 611.8,31.7 610.2,31.2 608.6,30.7 606.9,30.2 605.2,29.7 603.4,29.2 601.6,28.7 599.8,28.2 598.0,27.6 596.2,27.1 594.4,26.6 592.5,26.1 590.7,25.6 588.9,25.1 587.2,24.6 585.5,24.1 583.8,23.6 582.1,23.1 580.6,22.7 579.1,22.3 577.6,21.9 576.3,21.5 575.0,21.1 573.9,20.8 572.8,20.5" fill="none" stroke="#f34038" stroke-width="11.5" stroke-linecap="round" opacity="0.5"/>
<polyline points="647.8,36.6 646.9,36.2 645.8,35.8 644.7,35.4 643.4,34.9 642.0,34.3 640.5,33.8 639.0,33.2 637.4,32.5 635.7,31.9 633.9,31.2 632.1,30.6 630.2,29.9 628.3,29.2 626.3,28.5 624.4,27.8 622.4,27.1 620.3,26.4 618.3,25.8 616.9,25.3 615.5,24.9 614.0,24.4 612.4,23.9 610.7,23.4 609.1,22.9 607.3,22.4 605.6,21.9 603.8,21.4 601.9,20.9 600.1,20.3 598.3,19.8 596.4,19.3 594.6,18.8 592.8,18.3 591.0,17.7 589.2,17.2 587.5,16.8 585.8,16.3 584.2,15.8 582.6,15.4 581.1,15.0 579.7,14.6 578.3,14.2 577.1,13.8 575.9,13.5 574.9,13.2 573.9,12.9" fill="none" stroke="#860a0c" stroke-width="7.8" opacity="0.35"/>
<path d="M645.2 34.0L638.6 50.9M639.7 31.2L632.8 49.3M634.8 28.7L627.6 48.0M629.4 26.1L622.1 46.6M623.6 23.4L616.3 45.2M619.5 22.1L612.5 43.9M613.5 20.2L606.9 42.2M608.4 18.7L601.9 40.7M603.0 17.1L596.7 39.2M597.4 15.9L591.3 37.3M591.8 14.9L586.1 35.2M586.5 14.0L581.1 33.2M580.2 12.9L575.1 30.9M575.2 12.0L570.4 29.0M647.5 40.0L645.8 39.2L643.6 38.2L641.0 37.0L638.0 35.7L634.7 34.3L631.3 32.8L627.6 31.2L623.7 29.6L619.8 28.2L616.4 27.1L613.4 26.2L610.2 25.2L606.8 24.2L603.2 23.2L599.6 22.1L595.9 21.2L592.2 20.4L588.6 19.6L585.1 18.8L581.9 18.0L578.9 17.4L576.3 16.8L574.0 16.3L572.2 15.9L572.2 15.9M646.0 44.0L644.2 43.3L641.9 42.4L639.3 41.4L636.3 40.2L633.0 39.0L629.4 37.7L625.7 36.3L621.9 35.0L618.0 33.6L614.7 32.6L611.8 31.7L608.6 30.7L605.2 29.7L601.6 28.7L598.0 27.6L594.4 26.6L590.7 25.6L587.2 24.6L583.8 23.6L580.6 22.7L577.6 21.9L575.0 21.1L572.8 20.5L571.0 20.0L571.0 20.0M644.5 48.0L642.6 47.4L640.3 46.7L637.6 45.8L634.5 44.8L631.2 43.7L627.6 42.6L623.9 41.4L620.0 40.3L616.2 39.1L612.9 38.1L610.1 37.2L606.9 36.2L603.6 35.2L600.0 34.2L596.4 33.2L592.8 32.0L589.3 30.7L585.8 29.5L582.4 28.4L579.3 27.4L576.4 26.4L573.8 25.5L571.6 24.8L569.8 24.1L569.8 24.1" fill="none" stroke="#6a080a" stroke-width="1.1" opacity="0.72"/>
<polygon points="572.8,24.1 573.6,24.8 574.6,25.9 575.8,27.3 577.2,28.7 578.7,30.1 580.1,31.4 582.0,32.7 583.9,33.9 585.8,35.0 587.4,35.9 588.5,36.6 591.5,31.4 590.4,30.8 588.8,29.9 587.1,28.8 585.3,27.7 583.9,26.6 582.7,25.7 581.4,24.4 580.2,23.1 579.0,21.8 577.9,20.7 577.2,19.9" fill="#f47a6c"/>
<path d="M575.8 27.3L580.2 23.1M580.1 31.4L583.9 26.6M583.9 33.9L587.1 28.8" fill="none" stroke="#6a080a" stroke-width="0.9" opacity="0.5"/>
<polygon points="572.1,39.9 573.0,40.9 574.3,42.1 575.6,43.4 576.9,44.7 578.1,46.0 579.1,46.9 582.9,43.1 582.0,42.1 580.7,40.9 579.4,39.6 578.1,38.3 576.9,37.0 575.9,36.1" fill="#f47a6c"/>
<path d="M575.6 43.4L579.4 39.6" fill="none" stroke="#6a080a" stroke-width="0.9" opacity="0.5"/>
<polygon points="571.6,53.8 572.3,54.7 573.1,55.8 574.1,57.3 575.3,58.9 576.6,60.6 578.0,62.3 579.5,63.9 581.1,65.3 582.5,66.4 584.0,67.4 585.6,68.3 587.1,69.2 588.7,69.9 590.3,70.7 591.8,71.4 593.3,72.1 594.8,72.7 596.5,73.5 598.4,74.3 600.4,75.0 602.3,75.8 604.1,76.4 605.6,77.0 607.0,77.4 608.0,77.8 610.0,72.2 609.0,71.8 607.7,71.3 606.1,70.8 604.3,70.1 602.5,69.4 600.7,68.7 598.9,68.0 597.2,67.3 595.8,66.6 594.3,65.9 592.8,65.2 591.3,64.5 589.9,63.8 588.5,63.1 587.2,62.3 586.0,61.5 584.9,60.7 583.7,59.6 582.5,58.3 581.3,56.8 580.1,55.3 579.0,53.7 578.0,52.3 577.1,51.1 576.4,50.2" fill="#f47a6c"/>
<path d="M574.1 57.3L579.0 53.7M578.0 62.3L582.5 58.3M581.1 65.3L584.9 60.7M585.6 68.3L588.5 63.1M591.8 71.4L594.3 65.9M596.5 73.5L598.9 68.0M602.3 75.8L604.3 70.1M605.6 77.0L607.7 71.3" fill="none" stroke="#6a080a" stroke-width="0.9" opacity="0.5"/>
<polygon points="624.5,49.7 625.9,50.0 628.0,50.3 630.0,50.7 632.0,51.1 634.1,51.4 635.5,51.7 636.5,46.3 635.1,46.0 633.0,45.7 631.0,45.3 629.0,44.9 626.9,44.6 625.5,44.3" fill="#f47a6c"/>
<path d="M628.0 50.3L629.0 44.9M634.1 51.4L635.1 46.0" fill="none" stroke="#6a080a" stroke-width="0.9" opacity="0.5"/>
<polygon points="573.1,69.9 574.0,70.8 575.2,72.1 576.7,73.6 578.1,74.9 579.4,76.3 580.9,77.8 582.2,79.0 583.1,79.9 586.9,76.1 586.0,75.2 584.8,73.9 583.3,72.4 581.9,71.1 580.6,69.7 579.1,68.2 577.8,67.0 576.9,66.1" fill="#f47a6c"/>
<path d="M576.7 73.6L580.6 69.7M579.4 76.3L583.3 72.4" fill="none" stroke="#6a080a" stroke-width="0.9" opacity="0.5"/>
<polygon points="570.4,82.2 571.4,83.0 572.9,84.1 574.4,85.2 575.8,86.3 577.3,87.4 578.4,88.2 581.6,83.8 580.6,83.0 579.1,81.9 577.6,80.8 576.2,79.7 574.7,78.6 573.6,77.8" fill="#f47a6c"/>
<path d="M574.4 85.2L577.6 80.8" fill="none" stroke="#6a080a" stroke-width="0.9" opacity="0.5"/>
<path d="M571 13 L571 98" stroke="#7a0808" stroke-width="1.6" fill="none" opacity="0.8"/>
<polygon points="479.6,46.6 479.8,47.5 480.1,48.6 480.5,49.9 480.9,51.5 481.3,53.2 481.8,55.0 482.4,56.9 483.0,59.0 483.7,61.0 484.4,63.1 485.3,65.1 486.2,67.2 487.1,68.9 488.5,70.4 490.0,71.8 491.5,73.2 493.1,74.6 494.7,75.9 496.2,77.2 497.7,78.5 499.2,79.6 500.5,80.7 501.7,81.7 502.8,82.6 503.7,83.3 504.4,83.9 513.6,76.1 513.0,75.2 512.4,74.2 511.6,73.0 510.7,71.6 509.8,70.2 508.9,68.6 507.9,67.0 506.9,65.4 506.0,63.8 505.0,62.1 504.2,60.6 503.4,59.1 502.7,57.7 501.8,56.8 500.7,55.7 499.7,54.5 498.6,53.2 497.4,51.7 496.4,50.2 495.3,48.7 494.3,47.3 493.4,45.9 492.5,44.6 491.7,43.4 491.0,42.3 490.4,41.4" fill="#e32b28" stroke="#860a0c" stroke-width="1.1" stroke-linejoin="round"/>
<polyline points="485.9,46.0 486.5,47.2 487.1,48.7 487.8,50.2 488.6,51.9 489.4,53.6 490.2,55.3 491.1,57.1 492.0,58.8 493.0,60.4 494.0,62.0 494.9,63.3 496.0,64.7 497.1,66.2 498.3,67.7 499.5,69.2 500.8,70.7 502.1,72.1 503.3,73.5 504.5,74.9 505.6,76.2 506.7,77.3 507.6,78.4" fill="none" stroke="#f34038" stroke-width="10.0" stroke-linecap="round" opacity="0.5"/>
<polyline points="491.4,42.1 491.9,43.3 492.5,44.6 493.1,46.0 493.8,47.5 494.5,49.1 495.3,50.7 496.1,52.4 497.0,54.0 497.8,55.6 498.7,57.0 499.5,58.4 500.3,59.5 501.2,60.7 502.3,62.1 503.4,63.5 504.6,64.9 505.8,66.4 507.0,67.8 508.3,69.2 509.4,70.5 510.6,71.8 511.6,72.9 512.5,74.0 513.4,74.9" fill="none" stroke="#860a0c" stroke-width="6.8" opacity="0.35"/>
<path d="M480.5 49.9L492.5 44.6M482.4 56.9L496.4 50.2M484.4 63.1L499.7 54.5M487.1 68.9L502.7 57.7M491.5 73.2L505.0 62.1M496.2 77.2L507.9 67.0M500.5 80.7L510.7 71.6M482.3 45.3L483.0 47.3L484.0 50.1L485.2 53.4L486.6 57.1L488.2 60.9L490.1 64.6L492.2 67.6L494.9 70.4L497.7 73.3L500.5 76.0L503.1 78.4L505.2 80.5L506.7 81.9L506.7 81.9M485.0 44.0L485.9 46.0L487.1 48.7L488.6 51.9L490.2 55.3L492.0 58.8L494.0 62.0L496.0 64.7L498.3 67.7L500.8 70.7L503.3 73.5L505.6 76.2L507.6 78.4L509.0 80.0L509.0 80.0M487.7 42.7L488.8 44.7L490.2 47.3L491.9 50.3L493.8 53.5L495.9 56.6L497.9 59.4L499.7 61.9L501.7 64.9L503.9 68.0L506.1 71.1L508.2 73.9L510.0 76.3L511.3 78.1L511.3 78.1" fill="none" stroke="#6a080a" stroke-width="1.1" opacity="0.72"/>
<polygon points="651.3,42.0 650.9,42.9 650.3,44.1 649.7,45.3 649.0,46.7 648.3,48.1 647.5,49.5 646.7,51.0 645.8,52.4 644.9,53.8 644.0,55.0 643.1,56.1 642.2,57.1 641.4,57.7 640.7,58.7 640.0,60.1 639.2,61.5 638.3,63.0 637.4,64.5 636.4,66.0 635.4,67.5 634.4,69.0 633.4,70.4 632.5,71.7 631.6,73.0 630.8,74.1 630.1,75.1 629.6,75.9 638.4,84.1 639.1,83.5 640.0,82.9 641.0,82.1 642.2,81.2 643.6,80.3 645.0,79.2 646.5,78.1 648.0,76.9 649.6,75.7 651.2,74.4 652.7,73.1 654.3,71.7 655.7,70.3 656.9,68.7 657.8,66.9 658.7,64.8 659.5,62.5 660.2,60.4 660.7,58.2 661.1,56.2 661.5,54.2 661.8,52.4 662.0,50.7 662.2,49.1 662.4,47.8 662.5,46.8 662.7,46.0" fill="#e32b28" stroke="#860a0c" stroke-width="1.1" stroke-linejoin="round"/>
<polyline points="656.3,46.0 656.0,47.2 655.5,48.7 655.0,50.2 654.5,51.9 653.9,53.6 653.3,55.3 652.5,57.1 651.8,58.8 650.9,60.4 650.0,62.0 649.2,63.2 648.2,64.5 647.1,65.9 646.0,67.3 644.7,68.7 643.5,70.1 642.2,71.4 640.9,72.8 639.7,74.1 638.5,75.3 637.4,76.5 636.3,77.6 635.4,78.5" fill="none" stroke="#f34038" stroke-width="10.0" stroke-linecap="round" opacity="0.5"/>
<polyline points="650.4,42.8 650.0,44.0 649.6,45.3 649.2,46.7 648.7,48.2 648.2,49.8 647.7,51.4 647.1,52.9 646.5,54.5 645.8,55.9 645.1,57.3 644.4,58.5 643.8,59.4 643.0,60.5 642.0,61.7 640.9,63.0 639.8,64.3 638.6,65.6 637.4,66.9 636.1,68.2 634.9,69.5 633.7,70.7 632.6,71.9 631.6,73.0 630.6,73.9 629.8,74.8" fill="none" stroke="#860a0c" stroke-width="6.8" opacity="0.35"/>
<path d="M649.7 45.3L662.2 49.1M646.7 51.0L661.1 56.2M644.0 55.0L659.5 62.5M641.4 57.7L656.9 68.7M639.2 61.5L652.7 73.1M636.4 66.0L648.0 76.9M633.4 70.4L643.6 80.3M654.2 43.0L653.3 45.0L652.3 47.7L651.0 50.7L649.5 53.9L647.9 56.9L646.1 59.5L644.4 61.6L642.6 64.4L640.4 67.3L638.2 70.2L635.9 72.9L634.0 75.3L632.4 77.2L631.8 78.0M657.0 44.0L656.3 46.0L655.5 48.7L654.5 51.9L653.3 55.3L651.8 58.8L650.0 62.0L648.2 64.5L646.0 67.3L643.5 70.1L640.9 72.8L638.5 75.3L636.3 77.6L634.6 79.3L634.0 80.0M659.8 45.0L659.4 46.9L658.8 49.7L658.0 53.0L657.0 56.8L655.6 60.7L653.9 64.5L652.0 67.4L649.3 70.2L646.5 72.9L643.7 75.4L641.0 77.8L638.7 79.8L636.9 81.4L636.2 82.0" fill="none" stroke="#6a080a" stroke-width="1.1" opacity="0.72"/>
<path d="M618 18 L630 17 L628 27 Z" fill="#8a0c0c" opacity="0.9"/>
<path d="M508 18 L520 17 L512 27 Z" fill="#9a1010" opacity="0.8"/>
<polygon points="471.0,81.2 471.4,80.3 471.8,79.2 472.2,78.0 472.7,76.7 473.3,75.3 473.9,73.7 474.5,72.1 475.2,70.4 475.8,68.6 476.5,66.8 477.3,65.0 478.0,63.2 478.7,61.4 479.5,59.7 480.2,58.0 481.0,56.4 481.6,55.0 482.3,53.5 482.9,52.1 483.6,50.6 484.3,49.1 485.1,47.6 485.8,46.0 486.5,44.5 487.3,43.0 488.0,41.5 488.8,40.0 489.5,38.6 490.3,37.1 491.1,35.8 491.8,34.5 492.5,33.2 493.3,32.0 494.0,30.9 494.7,29.8 495.8,28.2 496.9,26.7 497.9,25.4 498.8,24.1 499.8,23.0 500.7,21.9 501.7,21.0 502.6,20.2 503.6,19.4 504.7,18.7 505.9,18.1 507.2,17.5 508.3,17.1 509.4,16.8 510.6,16.5 511.8,16.2 513.0,16.1 514.4,15.9 515.7,15.8 517.2,15.7 518.8,15.7 520.4,15.7 522.1,15.7 523.9,15.7 525.8,15.7 527.9,15.7 530.0,15.7 531.3,15.8 532.6,15.8 534.0,15.8 535.5,15.9 536.9,16.0 538.5,16.0 540.1,16.1 541.7,16.2 543.3,16.3 545.0,16.4 546.6,16.6 548.4,16.7 550.1,16.8 551.8,16.9 553.6,17.0 555.3,17.2 557.1,17.3 558.9,17.4 560.6,17.5 562.4,17.5 564.1,17.6 565.9,17.7 567.6,17.7 569.3,17.7 571.0,17.8 572.7,17.7 574.4,17.7 576.1,17.7 577.9,17.6 579.6,17.5 581.4,17.5 583.1,17.4 584.9,17.3 586.7,17.2 588.4,17.0 590.2,16.9 591.9,16.8 593.6,16.7 595.4,16.6 597.0,16.4 598.7,16.3 600.3,16.2 601.9,16.1 603.5,16.0 605.1,16.0 606.5,15.9 608.0,15.8 609.4,15.8 610.7,15.8 612.0,15.7 614.1,15.7 616.2,15.7 618.1,15.7 619.9,15.7 621.6,15.7 623.2,15.7 624.8,15.7 626.3,15.8 627.6,15.9 629.0,16.1 630.2,16.2 631.4,16.5 632.6,16.8 633.7,17.1 634.8,17.5 636.1,18.1 637.3,18.7 638.4,19.4 639.4,20.2 640.3,21.0 641.3,21.9 642.2,23.0 643.2,24.1 644.1,25.4 645.1,26.7 646.2,28.2 647.3,29.8 648.0,30.9 648.7,32.0 649.4,33.2 650.2,34.4 650.9,35.7 651.6,37.1 652.4,38.5 653.1,40.0 653.8,41.5 654.6,43.0 655.3,44.5 656.1,46.0 656.8,47.6 657.5,49.1 658.3,50.6 659.0,52.1 659.7,53.6 660.4,55.0 661.1,56.4 661.9,58.0 662.7,59.6 663.5,61.3 664.3,63.0 665.1,64.7 665.9,66.4 666.7,68.1 667.5,69.8 668.3,71.4 669.1,73.0 669.8,74.5 670.5,75.9 671.1,77.3 671.7,78.5 672.2,79.6 672.7,80.6 673.1,81.4 678.9,78.6 678.5,77.8 678.1,76.8 677.6,75.7 677.0,74.5 676.3,73.2 675.7,71.7 675.0,70.2 674.2,68.6 673.4,67.0 672.6,65.3 671.8,63.6 671.0,61.9 670.1,60.1 669.3,58.4 668.5,56.8 667.7,55.1 666.9,53.6 666.2,52.2 665.5,50.8 664.8,49.3 664.1,47.8 663.4,46.3 662.7,44.8 661.9,43.2 661.2,41.7 660.4,40.1 659.7,38.6 658.9,37.1 658.1,35.6 657.4,34.1 656.6,32.6 655.8,31.2 655.0,29.9 654.3,28.6 653.5,27.3 652.7,26.2 651.5,24.5 650.4,22.9 649.3,21.5 648.2,20.0 647.1,18.7 646.0,17.4 644.7,16.2 643.4,15.1 642.0,14.1 640.6,13.1 638.9,12.3 637.2,11.5 635.8,10.9 634.3,10.5 632.8,10.1 631.3,9.8 629.8,9.6 628.2,9.4 626.6,9.3 625.0,9.3 623.4,9.2 621.6,9.2 619.9,9.2 618.0,9.2 616.1,9.2 614.1,9.2 612.0,9.3 610.6,9.3 609.2,9.3 607.8,9.3 606.3,9.4 604.7,9.5 603.2,9.5 601.6,9.6 599.9,9.7 598.3,9.8 596.6,10.0 594.9,10.1 593.2,10.2 591.5,10.3 589.7,10.4 588.0,10.6 586.3,10.7 584.5,10.8 582.8,10.9 581.0,11.0 579.3,11.0 577.6,11.1 575.9,11.2 574.3,11.2 572.6,11.2 571.0,11.2 569.4,11.2 567.7,11.2 566.1,11.2 564.4,11.1 562.7,11.0 561.0,11.0 559.2,10.9 557.5,10.8 555.7,10.7 554.0,10.6 552.3,10.4 550.5,10.3 548.8,10.2 547.1,10.1 545.4,10.0 543.7,9.8 542.1,9.7 540.4,9.6 538.8,9.5 537.3,9.5 535.7,9.4 534.2,9.3 532.8,9.3 531.4,9.3 530.0,9.3 527.9,9.2 525.9,9.2 524.0,9.2 522.1,9.2 520.4,9.2 518.6,9.2 517.0,9.3 515.4,9.3 513.8,9.4 512.2,9.6 510.7,9.8 509.2,10.1 507.7,10.5 506.2,10.9 504.8,11.5 503.1,12.3 501.4,13.1 500.0,14.1 498.6,15.1 497.3,16.2 496.0,17.4 494.9,18.7 493.8,20.0 492.7,21.5 491.6,22.9 490.5,24.5 489.3,26.2 488.5,27.3 487.7,28.6 487.0,29.9 486.2,31.2 485.4,32.6 484.6,34.0 483.8,35.5 483.0,37.0 482.2,38.6 481.5,40.1 480.7,41.7 479.9,43.2 479.2,44.8 478.5,46.3 477.7,47.8 477.0,49.3 476.4,50.8 475.7,52.2 475.0,53.6 474.3,55.3 473.5,57.1 472.7,58.9 472.0,60.7 471.2,62.6 470.5,64.4 469.8,66.2 469.1,68.0 468.4,69.7 467.8,71.4 467.2,73.0 466.7,74.4 466.2,75.7 465.7,76.9 465.3,78.0 465.0,78.8" fill="#e32b28" stroke="#860a0c" stroke-width="1.1" stroke-linejoin="round"/>
<polyline points="468.7,78.1 469.2,76.9 469.7,75.6 470.3,74.1 470.8,72.5 471.5,70.9 472.1,69.2 472.8,67.4 473.5,65.6 474.2,63.8 475.0,62.0 475.7,60.2 476.5,58.4 477.2,56.7 478.0,55.0 478.6,53.6 479.3,52.2 480.0,50.7 480.7,49.2 481.4,47.7 482.1,46.2 482.9,44.6 483.6,43.1 484.4,41.5 485.1,40.0 485.9,38.5 486.7,37.0 487.4,35.6 488.2,34.2 489.0,32.8 489.7,31.5 490.5,30.3 491.3,29.1 492.0,28.0 493.1,26.4 494.2,24.8 495.3,23.4 496.3,22.1 497.3,20.8 498.4,19.7 499.5,18.6 500.6,17.6 501.8,16.8 503.1,15.9 504.5,15.2 506.0,14.5 507.3,14.0 508.6,13.6 509.9,13.3 511.2,13.0 512.6,12.8 514.1,12.7 515.5,12.6 517.1,12.5 518.7,12.5 520.4,12.4 522.1,12.4 524.0,12.5 525.9,12.5 527.9,12.5 530.0,12.5 531.3,12.5 532.7,12.5 534.1,12.6 535.6,12.6 537.1,12.7 538.7,12.8 540.2,12.9 541.9,13.0 543.5,13.1 545.2,13.2 546.9,13.3 548.6,13.4 550.3,13.6 552.0,13.7 553.8,13.8 555.5,13.9 557.3,14.0 559.0,14.1 560.8,14.2 562.5,14.3 564.3,14.4 566.0,14.4 567.7,14.5 569.3,14.5 571.0,14.5 572.7,14.5 574.3,14.5 576.0,14.4 577.7,14.4 579.5,14.3 581.2,14.2 583.0,14.1 584.7,14.0 586.5,13.9 588.2,13.8 590.0,13.7 591.7,13.6 593.4,13.4 595.1,13.3 596.8,13.2 598.5,13.1 600.1,13.0 601.8,12.9 603.3,12.8 604.9,12.7 606.4,12.6 607.9,12.6 609.3,12.5 610.7,12.5 612.0,12.5 614.1,12.5 616.1,12.5 618.0,12.5 619.9,12.4 621.6,12.4 623.3,12.5 624.9,12.5 626.5,12.6 627.9,12.7 629.4,12.8 630.8,13.0 632.1,13.3 633.4,13.6 634.7,14.0 636.0,14.5 637.5,15.2 638.9,15.9 640.2,16.8 641.4,17.6 642.5,18.6 643.6,19.7 644.7,20.8 645.7,22.1 646.7,23.4 647.8,24.8 648.9,26.4 650.0,28.0 650.7,29.1 651.5,30.3 652.2,31.5 653.0,32.8 653.7,34.2 654.5,35.6 655.2,37.0 656.0,38.5 656.7,40.0 657.5,41.5 658.2,43.1 659.0,44.6 659.7,46.2 660.5,47.7 661.2,49.2 661.9,50.7 662.6,52.2 663.3,53.6 664.0,55.0 664.8,56.6 665.6,58.2 666.4,59.9 667.2,61.5 668.0,63.3 668.9,65.0 669.7,66.7 670.5,68.4 671.3,70.0 672.0,71.6 672.7,73.1 673.4,74.5 674.0,75.9 674.6,77.1 675.2,78.2" fill="none" stroke="#f34038" stroke-width="3.2" stroke-linecap="round" opacity="0.5"/>
<polyline points="466.3,78.4 466.7,77.3 467.2,76.1 467.7,74.8 468.2,73.3 468.8,71.8 469.5,70.1 470.1,68.4 470.8,66.6 471.5,64.8 472.3,63.0 473.0,61.2 473.8,59.3 474.5,57.5 475.3,55.8 476.0,54.1 476.7,52.7 477.4,51.3 478.0,49.8 478.7,48.3 479.5,46.8 480.2,45.2 480.9,43.7 481.7,42.1 482.4,40.6 483.2,39.1 484.0,37.5 484.8,36.0 485.6,34.6 486.3,33.1 487.1,31.8 487.9,30.4 488.7,29.1 489.5,27.9 490.2,26.8 491.4,25.1 492.5,23.6 493.6,22.1 494.6,20.7 495.7,19.4 496.8,18.2 498.0,17.0 499.3,16.0 500.6,15.0 502.0,14.1 503.5,13.3 505.2,12.5 506.6,12.0 508.0,11.6 509.4,11.2 510.9,10.9 512.4,10.7 513.9,10.5 515.4,10.4 517.0,10.4 518.7,10.3 520.4,10.3 522.1,10.3 524.0,10.3 525.9,10.3 527.9,10.3 530.0,10.4 531.4,10.4 532.8,10.4 534.2,10.4 535.7,10.5 537.2,10.6 538.8,10.6 540.4,10.7 542.0,10.8 543.6,11.0 545.3,11.1 547.0,11.2 548.7,11.3 550.4,11.4 552.2,11.5 553.9,11.7 555.7,11.8 557.4,11.9 559.2,12.0 560.9,12.1 562.6,12.1 564.3,12.2 566.0,12.3 567.7,12.3 569.4,12.3 571.0,12.4 572.6,12.3 574.3,12.3 576.0,12.3 577.7,12.2 579.4,12.1 581.1,12.1 582.8,12.0 584.6,11.9 586.3,11.8 588.1,11.7 589.8,11.5 591.6,11.4 593.3,11.3 595.0,11.2 596.7,11.1 598.4,11.0 600.0,10.8 601.6,10.7 603.2,10.6 604.8,10.6 606.3,10.5 607.8,10.4 609.2,10.4 610.6,10.4 612.0,10.4 614.1,10.3 616.1,10.3 618.0,10.3 619.9,10.3 621.6,10.3 623.3,10.3 625.0,10.4 626.6,10.4 628.1,10.5 629.6,10.7 631.1,10.9 632.6,11.2 634.0,11.6 635.4,12.0 636.8,12.5 638.5,13.3 640.0,14.1 641.4,15.0 642.7,16.0 644.0,17.0 645.2,18.2 646.3,19.4 647.4,20.7 648.4,22.1 649.5,23.6 650.6,25.1 651.8,26.8 652.5,27.9 653.3,29.2 654.1,30.4 654.9,31.8 655.6,33.2 656.4,34.6 657.1,36.1 657.9,37.6 658.7,39.1 659.4,40.6 660.2,42.1 660.9,43.7 661.7,45.2 662.4,46.8 663.1,48.3 663.8,49.8 664.5,51.2 665.2,52.7 665.9,54.0 666.7,55.6 667.5,57.2 668.3,58.9 669.1,60.6 670.0,62.3 670.8,64.1 671.6,65.8 672.4,67.4 673.2,69.1 674.0,70.7 674.7,72.2 675.4,73.6 676.0,75.0 676.6,76.2 677.1,77.3 677.5,78.3" fill="none" stroke="#860a0c" stroke-width="2.2" opacity="0.35"/>
<path d="M472.7 76.7L466.7 74.4M474.5 72.1L468.4 69.7M476.5 66.8L470.5 64.4M478.7 61.4L472.7 58.9M481.0 56.4L475.0 53.6M482.9 52.1L477.0 49.3M485.8 46.0L479.9 43.2M488.0 41.5L482.2 38.6M490.3 37.1L484.6 34.0M493.3 32.0L487.7 28.6M495.8 28.2L490.5 24.5M499.8 23.0L494.9 18.7M502.6 20.2L498.6 15.1M507.2 17.5L504.8 11.5M511.8 16.2L510.7 9.8M517.2 15.7L517.0 9.3M522.1 15.7L522.1 9.2M527.9 15.7L527.9 9.2M534.0 15.8L534.2 9.3M538.5 16.0L538.8 9.5M545.0 16.4L545.4 10.0M550.1 16.8L550.5 10.3M555.3 17.2L555.7 10.7M560.6 17.5L561.0 11.0M567.6 17.7L567.7 11.2M572.7 17.7L572.6 11.2M577.9 17.6L577.6 11.1M584.9 17.3L584.5 10.8M590.2 16.9L589.7 10.4M595.4 16.6L594.9 10.1M600.3 16.2L599.9 9.7M606.5 15.9L606.3 9.4M612.0 15.7L612.0 9.3M618.1 15.7L618.0 9.2M623.2 15.7L623.4 9.2M627.6 15.9L628.2 9.4M632.6 16.8L634.3 10.5M637.3 18.7L640.6 13.1M641.3 21.9L646.0 17.4M644.1 25.4L649.3 21.5M647.3 29.8L652.7 26.2M650.2 34.4L655.8 31.2M653.1 40.0L658.9 37.1M655.3 44.5L661.2 41.7M657.5 49.1L663.4 46.3M660.4 55.0L666.2 52.2M662.7 59.6L668.5 56.8M665.1 64.7L671.0 61.9M667.5 69.8L673.4 67.0M669.8 74.5L675.7 71.7M672.2 79.6L678.1 76.8M468.0 80.0L468.7 78.1L469.7 75.6L470.8 72.5L472.1 69.2L473.5 65.6L475.0 62.0L476.5 58.4L478.0 55.0L479.3 52.2L480.7 49.2L482.1 46.2L483.6 43.1L485.1 40.0L486.7 37.0L488.2 34.2L489.7 31.5L491.3 29.1L493.1 26.4L495.3 23.4L497.3 20.8L499.5 18.6L501.8 16.8L504.5 15.2L507.3 14.0L509.9 13.3L512.6 12.8L515.5 12.6L518.7 12.5L522.1 12.4L525.9 12.5L530.0 12.5L532.7 12.5L535.6 12.6L538.7 12.8L541.9 13.0L545.2 13.2L548.6 13.4L552.0 13.7L555.5 13.9L559.0 14.1L562.5 14.3L566.0 14.4L569.3 14.5L572.7 14.5L576.0 14.4L579.5 14.3L583.0 14.1L586.5 13.9L590.0 13.7L593.4 13.4L596.8 13.2L600.1 13.0L603.3 12.8L606.4 12.6L609.3 12.5L612.0 12.5L616.1 12.5L619.9 12.4L623.3 12.5L626.5 12.6L629.4 12.8L632.1 13.3L634.7 14.0L637.5 15.2L640.2 16.8L642.5 18.6L644.7 20.8L646.7 23.4L648.9 26.4L650.7 29.1L652.2 31.5L653.7 34.2L655.2 37.0L656.7 40.0L658.2 43.1L659.7 46.2L661.2 49.2L662.6 52.2L664.0 55.0L665.6 58.2L667.2 61.5L668.9 65.0L670.5 68.4L672.0 71.6L673.4 74.5L674.6 77.1L675.6 79.2L676.0 80.0" fill="none" stroke="#6a080a" stroke-width="1.1" opacity="0.72"/>
<polygon points="502.4,144.8 503.3,145.2 504.3,145.6 505.5,146.2 506.9,146.8 508.3,147.4 509.9,148.1 511.6,148.9 513.4,149.6 515.1,150.4 517.0,150.9 519.0,151.3 520.9,151.6 522.3,151.9 523.8,152.2 525.3,152.5 526.9,152.9 528.6,153.2 530.2,153.5 531.9,153.9 533.6,154.2 535.3,154.6 537.1,154.9 538.8,155.2 540.5,155.6 542.2,155.9 543.9,156.2 545.5,156.4 547.1,156.7 548.9,156.9 550.6,157.2 552.3,157.5 553.9,157.7 555.6,158.0 557.3,158.2 559.0,158.4 560.7,158.6 562.4,158.8 564.1,159.0 565.8,159.1 567.5,159.2 569.2,159.2 571.0,159.2 572.8,159.2 574.5,159.2 576.2,159.1 577.9,159.0 579.6,158.8 581.3,158.6 583.0,158.4 584.6,158.2 586.3,158.0 588.0,157.7 589.7,157.5 591.4,157.2 593.1,157.0 594.9,156.7 596.4,156.4 598.0,156.2 599.6,155.9 601.2,155.6 602.9,155.3 604.6,155.0 606.2,154.7 607.9,154.4 609.6,154.1 611.3,153.8 612.9,153.4 614.6,153.1 616.2,152.8 617.7,152.5 619.2,152.2 620.7,151.9 622.1,151.6 624.1,151.3 626.1,150.9 628.1,150.5 630.0,149.8 631.8,149.0 633.6,148.2 635.3,147.5 636.9,146.8 638.3,146.2 639.6,145.7 640.7,145.2 641.6,144.8 640.4,139.2 639.4,139.2 638.2,139.2 636.9,139.2 635.3,139.2 633.6,139.1 631.8,139.1 629.8,139.1 627.9,139.1 625.8,139.2 623.9,139.6 621.9,140.0 619.9,140.4 618.5,140.6 617.0,140.9 615.5,141.2 613.9,141.5 612.3,141.8 610.7,142.1 609.1,142.5 607.4,142.8 605.8,143.1 604.1,143.4 602.5,143.7 600.8,144.0 599.2,144.3 597.6,144.6 596.1,144.8 594.6,145.1 593.1,145.3 591.4,145.6 589.6,145.8 587.9,146.1 586.3,146.4 584.7,146.6 583.1,146.8 581.5,147.0 580.0,147.2 578.5,147.4 577.0,147.5 575.5,147.6 574.0,147.7 572.5,147.7 571.0,147.8 569.5,147.7 568.0,147.7 566.5,147.6 565.0,147.5 563.5,147.4 561.9,147.2 560.4,147.0 558.8,146.8 557.2,146.6 555.6,146.4 554.0,146.1 552.3,145.8 550.6,145.6 548.9,145.3 547.4,145.1 545.8,144.8 544.2,144.5 542.6,144.2 540.9,143.9 539.3,143.6 537.6,143.3 535.9,143.0 534.2,142.6 532.5,142.3 530.9,141.9 529.2,141.6 527.6,141.3 526.1,141.0 524.6,140.7 523.1,140.4 521.3,140.0 519.4,139.6 517.5,139.2 515.5,139.2 513.6,139.2 511.8,139.2 510.1,139.2 508.5,139.2 507.0,139.2 505.7,139.2 504.5,139.2 503.6,139.2" fill="#e32b28" stroke="#860a0c" stroke-width="1.1" stroke-linejoin="round"/>
<polyline points="505.0,142.4 506.2,142.7 507.7,143.0 509.2,143.3 510.9,143.7 512.6,144.1 514.4,144.4 516.3,144.8 518.2,145.2 520.1,145.6 522.0,146.0 523.4,146.3 524.9,146.6 526.5,146.9 528.1,147.2 529.7,147.6 531.4,147.9 533.1,148.3 534.8,148.6 536.5,148.9 538.2,149.3 539.9,149.6 541.5,149.9 543.2,150.2 544.8,150.5 546.4,150.8 548.0,151.0 549.7,151.3 551.4,151.5 553.1,151.8 554.8,152.0 556.4,152.3 558.1,152.5 559.7,152.7 561.3,152.9 562.9,153.1 564.5,153.2 566.1,153.3 567.7,153.4 569.4,153.5 571.0,153.5 572.6,153.5 574.3,153.4 575.9,153.3 577.5,153.2 579.1,153.1 580.6,152.9 582.2,152.7 583.9,152.5 585.5,152.3 587.1,152.0 588.8,151.8 590.5,151.5 592.2,151.3 594.0,151.0 595.5,150.8 597.0,150.5 598.6,150.3 600.2,150.0 601.9,149.7 603.5,149.4 605.2,149.1 606.9,148.8 608.5,148.4 610.2,148.1 611.8,147.8 613.4,147.5 615.0,147.2 616.6,146.9 618.1,146.6 619.6,146.3 621.0,146.0 623.0,145.6 625.0,145.2 627.0,144.8 628.9,144.4 630.8,144.1 632.7,143.7 634.4,143.3 636.1,143.0 637.6,142.7 638.9,142.4" fill="none" stroke="#f34038" stroke-width="5.8" stroke-linecap="round" opacity="0.5"/>
<polyline points="504.7,138.5 505.8,138.7 507.0,139.0 508.5,139.3 510.0,139.6 511.7,140.0 513.4,140.3 515.2,140.7 517.1,141.1 519.0,141.5 520.9,141.9 522.7,142.3 524.2,142.6 525.7,142.9 527.2,143.2 528.8,143.5 530.5,143.9 532.1,144.2 533.8,144.5 535.5,144.9 537.2,145.2 538.9,145.5 540.6,145.9 542.2,146.2 543.9,146.5 545.5,146.7 547.1,147.0 548.6,147.3 550.3,147.5 552.0,147.8 553.7,148.0 555.3,148.3 557.0,148.5 558.6,148.7 560.2,149.0 561.7,149.1 563.3,149.3 564.8,149.4 566.4,149.6 567.9,149.6 569.4,149.7 571.0,149.7 572.5,149.7 574.1,149.6 575.6,149.6 577.1,149.4 578.7,149.3 580.2,149.1 581.8,149.0 583.4,148.7 585.0,148.5 586.6,148.3 588.2,148.0 589.9,147.8 591.7,147.5 593.4,147.2 594.9,147.0 596.4,146.8 598.0,146.5 599.6,146.2 601.2,145.9 602.8,145.6 604.5,145.3 606.1,145.0 607.8,144.7 609.5,144.4 611.1,144.1 612.7,143.7 614.3,143.4 615.9,143.1 617.4,142.8 618.9,142.5 620.3,142.3 622.3,141.9 624.2,141.5 626.2,141.1 628.2,140.7 630.1,140.3 631.9,140.0 633.7,139.6 635.3,139.3 636.8,139.0 638.1,138.7 639.3,138.5" fill="none" stroke="#860a0c" stroke-width="3.9" opacity="0.35"/>
<path d="M506.9 146.8L508.5 139.2M511.6 148.9L513.6 139.2M517.0 150.9L519.4 139.6M522.3 151.9L524.6 140.7M528.6 153.2L530.9 141.9M533.6 154.2L535.9 143.0M538.8 155.2L540.9 143.9M543.9 156.2L545.8 144.8M550.6 157.2L552.3 145.8M555.6 158.0L557.2 146.6M562.4 158.8L563.5 147.4M567.5 159.2L568.0 147.7M572.8 159.2L572.5 147.7M579.6 158.8L578.5 147.4M584.6 158.2L583.1 146.8M591.4 157.2L589.6 145.8M596.4 156.4L594.6 145.1M602.9 155.3L600.8 144.0M607.9 154.4L605.8 143.1M612.9 153.4L610.7 142.1M619.2 152.2L617.0 140.9M624.1 151.3L621.9 140.0M630.0 149.8L627.9 139.1M635.3 147.5L633.6 139.1M639.6 145.7L638.2 139.2M503.0 142.0L505.0 142.4L507.7 143.0L510.9 143.7L514.4 144.4L518.2 145.2L522.0 146.0L524.9 146.6L528.1 147.2L531.4 147.9L534.8 148.6L538.2 149.3L541.5 149.9L544.8 150.5L548.0 151.0L551.4 151.5L554.8 152.0L558.1 152.5L561.3 152.9L564.5 153.2L567.7 153.4L571.0 153.5L574.3 153.4L577.5 153.2L580.6 152.9L583.9 152.5L587.1 152.0L590.5 151.5L594.0 151.0L597.0 150.5L600.2 150.0L603.5 149.4L606.9 148.8L610.2 148.1L613.4 147.5L616.6 146.9L619.6 146.3L623.0 145.6L627.0 144.8L630.8 144.1L634.4 143.3L637.6 142.7L640.1 142.2L641.0 142.0" fill="none" stroke="#6a080a" stroke-width="1.1" opacity="0.72"/>
<path d="M468.0 130.7 C472.5 132.0 485.5 136.0 495.0 138.7 C504.5 141.4 515.8 144.9 525.0 146.7 C534.2 148.5 542.3 149.0 550.0 149.7 C557.7 150.4 564.0 150.7 571.0 150.7 C578.0 150.7 584.2 150.4 592.0 149.7 C599.8 149.0 608.7 148.5 618.0 146.7 C627.3 144.9 638.3 141.9 648.0 138.7 C657.7 135.5 671.3 129.5 676.0 127.7" fill="none" stroke="#930e0e" stroke-width="5.5" stroke-linecap="round" opacity="0.95"/>
<polygon points="466.1,129.2 467.0,129.5 468.0,129.8 469.2,130.2 470.6,130.6 472.0,131.0 473.5,131.5 475.2,131.9 476.9,132.5 478.6,133.0 480.5,133.5 482.3,134.1 484.2,134.6 486.0,135.2 487.9,135.7 489.7,136.3 491.5,136.8 493.2,137.3 494.7,137.7 496.3,138.1 497.8,138.6 499.4,139.0 501.0,139.5 502.6,139.9 504.3,140.4 505.9,140.9 507.6,141.3 509.2,141.8 510.9,142.3 512.5,142.7 514.2,143.1 515.8,143.6 517.4,144.0 519.0,144.3 520.6,144.7 522.2,145.1 523.7,145.4 525.6,145.7 527.5,146.1 529.4,146.4 531.2,146.6 533.0,146.9 534.8,147.1 536.5,147.3 538.2,147.5 539.9,147.7 541.6,147.8 543.2,147.9 544.8,148.1 546.4,148.2 547.9,148.3 549.4,148.5 551.2,148.6 553.0,148.8 554.7,148.9 556.3,149.0 558.0,149.1 559.6,149.2 561.2,149.3 562.9,149.3 564.5,149.4 566.1,149.4 567.7,149.5 569.3,149.5 571.0,149.5 572.7,149.5 574.3,149.5 575.9,149.4 577.5,149.4 579.1,149.3 580.7,149.3 582.3,149.2 583.9,149.1 585.6,149.0 587.3,148.9 589.0,148.8 590.7,148.6 592.5,148.5 594.0,148.4 595.5,148.2 597.0,148.1 598.6,148.0 600.2,147.9 601.8,147.7 603.4,147.6 605.1,147.4 606.8,147.2 608.5,147.0 610.2,146.8 612.0,146.6 613.8,146.3 615.6,146.0 617.4,145.7 619.2,145.4 620.8,145.1 622.4,144.7 623.9,144.4 625.5,144.0 627.2,143.7 628.8,143.3 630.4,142.9 632.1,142.4 633.7,142.0 635.4,141.6 637.0,141.1 638.7,140.6 640.3,140.2 642.0,139.7 643.6,139.2 645.2,138.7 646.9,138.2 648.5,137.7 650.0,137.2 651.8,136.6 653.5,136.0 655.4,135.3 657.2,134.6 659.0,133.9 660.9,133.2 662.7,132.5 664.6,131.7 666.3,131.0 668.1,130.3 669.7,129.6 671.3,129.0 672.8,128.3 674.2,127.8 675.5,127.2 676.6,126.8 677.6,126.4 678.4,126.0 673.6,114.0 672.7,114.3 671.7,114.7 670.5,115.2 669.2,115.8 667.8,116.3 666.3,117.0 664.8,117.6 663.1,118.3 661.4,119.0 659.7,119.7 657.9,120.4 656.1,121.1 654.4,121.8 652.6,122.5 650.9,123.1 649.2,123.7 647.5,124.3 646.0,124.8 644.5,125.3 643.0,125.8 641.4,126.3 639.9,126.7 638.3,127.2 636.7,127.7 635.1,128.1 633.6,128.6 632.0,129.0 630.4,129.4 628.8,129.8 627.3,130.2 625.7,130.6 624.2,131.0 622.6,131.4 621.1,131.7 619.6,132.0 618.2,132.3 616.8,132.6 615.1,132.9 613.5,133.2 611.8,133.5 610.2,133.7 608.6,133.9 607.0,134.1 605.4,134.3 603.8,134.5 602.2,134.6 600.6,134.8 599.1,134.9 597.5,135.0 596.0,135.2 594.5,135.3 592.9,135.4 591.5,135.5 589.7,135.7 588.0,135.8 586.4,135.9 584.7,136.0 583.2,136.1 581.6,136.2 580.1,136.3 578.6,136.4 577.1,136.4 575.6,136.4 574.1,136.5 572.6,136.5 571.0,136.5 569.4,136.5 567.9,136.5 566.4,136.4 564.9,136.4 563.4,136.4 561.8,136.3 560.3,136.2 558.8,136.1 557.2,136.0 555.6,135.9 554.0,135.8 552.3,135.7 550.6,135.5 549.0,135.4 547.4,135.3 545.9,135.1 544.3,135.0 542.7,134.9 541.1,134.7 539.5,134.6 537.9,134.4 536.3,134.2 534.7,134.0 533.0,133.8 531.4,133.5 529.7,133.3 528.0,133.0 526.3,132.6 524.9,132.3 523.5,132.0 522.0,131.7 520.5,131.3 519.0,131.0 517.4,130.6 515.9,130.1 514.3,129.7 512.7,129.3 511.1,128.8 509.4,128.4 507.8,127.9 506.2,127.4 504.6,127.0 503.0,126.5 501.4,126.1 499.8,125.6 498.3,125.2 496.8,124.7 495.1,124.3 493.3,123.8 491.5,123.2 489.7,122.7 487.9,122.2 486.0,121.6 484.2,121.1 482.4,120.5 480.6,120.0 478.9,119.5 477.3,119.0 475.8,118.5 474.3,118.1 473.0,117.7 471.8,117.4 470.7,117.0 469.9,116.8" fill="#e32b28" stroke="#860a0c" stroke-width="1.1" stroke-linejoin="round"/>
<polyline points="469.9,123.6 471.1,123.9 472.4,124.3 473.9,124.8 475.4,125.2 477.0,125.7 478.7,126.2 480.5,126.8 482.3,127.3 484.2,127.9 486.0,128.4 487.9,128.9 489.7,129.5 491.5,130.0 493.3,130.5 495.0,131.0 496.5,131.4 498.1,131.9 499.6,132.3 501.2,132.8 502.8,133.2 504.4,133.7 506.0,134.2 507.7,134.6 509.3,135.1 510.9,135.5 512.6,136.0 514.2,136.4 515.8,136.8 517.4,137.3 519.0,137.6 520.5,138.0 522.0,138.4 523.5,138.7 525.0,139.0 526.8,139.3 528.6,139.7 530.4,140.0 532.1,140.2 533.9,140.4 535.6,140.7 537.2,140.8 538.9,141.0 540.5,141.2 542.1,141.3 543.8,141.5 545.3,141.6 546.9,141.7 548.5,141.9 550.0,142.0 551.7,142.1 553.5,142.3 555.1,142.4 556.8,142.5 558.4,142.6 560.0,142.7 561.5,142.8 563.1,142.9 564.7,142.9 566.2,142.9 567.8,143.0 569.4,143.0 571.0,143.0 572.6,143.0 574.2,143.0 575.7,142.9 577.3,142.9 578.8,142.9 580.4,142.8 582.0,142.7 583.6,142.6 585.2,142.5 586.8,142.4 588.5,142.3 590.2,142.1 592.0,142.0 593.5,141.9 595.0,141.8 596.5,141.6 598.1,141.5 599.6,141.4 601.2,141.2 602.8,141.1 604.4,140.9 606.1,140.8 607.7,140.6 609.4,140.4 611.1,140.1 612.8,139.9 614.5,139.6 616.3,139.3 618.0,139.0 619.5,138.7 621.0,138.4 622.5,138.0 624.1,137.7 625.7,137.3 627.2,136.9 628.8,136.5 630.5,136.1 632.1,135.7 633.7,135.3 635.3,134.8 636.9,134.4 638.5,133.9 640.1,133.4 641.7,133.0 643.3,132.5 644.9,132.0 646.5,131.5 648.0,131.0 649.6,130.4 651.4,129.8 653.1,129.2 654.9,128.5 656.7,127.9 658.5,127.1 660.3,126.4 662.1,125.7 663.9,125.0 665.6,124.3 667.2,123.6 668.8,123.0 670.3,122.3 671.7,121.8 673.0,121.2 674.1,120.8" fill="none" stroke="#f34038" stroke-width="6.5" stroke-linecap="round" opacity="0.5"/>
<polyline points="470.1,119.2 471.2,119.5 472.3,119.8 473.7,120.2 475.1,120.7 476.7,121.1 478.3,121.6 480.0,122.1 481.7,122.7 483.5,123.2 485.4,123.7 487.2,124.3 489.1,124.8 490.9,125.4 492.7,125.9 494.5,126.4 496.2,126.9 497.7,127.3 499.2,127.7 500.8,128.2 502.4,128.6 504.0,129.1 505.6,129.6 507.2,130.0 508.8,130.5 510.5,131.0 512.1,131.4 513.7,131.8 515.3,132.3 516.9,132.7 518.4,133.1 520.0,133.5 521.5,133.8 523.0,134.2 524.4,134.5 525.8,134.8 527.6,135.1 529.3,135.4 531.0,135.7 532.7,136.0 534.4,136.2 536.1,136.4 537.7,136.6 539.3,136.8 540.9,136.9 542.5,137.1 544.1,137.2 545.7,137.3 547.3,137.5 548.8,137.6 550.4,137.7 552.1,137.9 553.8,138.0 555.4,138.1 557.0,138.2 558.6,138.3 560.2,138.4 561.7,138.5 563.3,138.6 564.8,138.6 566.3,138.7 567.9,138.7 569.4,138.7 571.0,138.7 572.6,138.7 574.1,138.7 575.6,138.7 577.2,138.6 578.7,138.6 580.2,138.5 581.7,138.4 583.3,138.3 584.9,138.2 586.5,138.1 588.2,138.0 589.9,137.9 591.6,137.7 593.1,137.6 594.6,137.5 596.2,137.4 597.7,137.2 599.3,137.1 600.8,137.0 602.4,136.8 604.0,136.7 605.6,136.5 607.2,136.3 608.9,136.1 610.5,135.9 612.2,135.7 613.8,135.4 615.5,135.1 617.2,134.8 618.6,134.5 620.1,134.2 621.6,133.9 623.1,133.5 624.7,133.2 626.2,132.8 627.8,132.4 629.4,132.0 631.0,131.6 632.6,131.1 634.2,130.7 635.8,130.3 637.3,129.8 638.9,129.3 640.5,128.9 642.1,128.4 643.6,127.9 645.2,127.4 646.7,126.9 648.3,126.4 649.9,125.8 651.6,125.2 653.4,124.5 655.2,123.9 657.0,123.2 658.7,122.4 660.5,121.7 662.3,121.0 664.0,120.3 665.6,119.7 667.2,119.0 668.7,118.4 670.1,117.8 671.3,117.3 672.5,116.8 673.5,116.4" fill="none" stroke="#860a0c" stroke-width="4.4" opacity="0.35"/>
<path d="M470.6 130.6L474.3 118.1M475.2 131.9L478.9 119.5M480.5 133.5L484.2 121.1M486.0 135.2L489.7 122.7M491.5 136.8L495.1 124.3M497.8 138.6L501.4 126.1M502.6 139.9L506.2 127.4M507.6 141.3L511.1 128.8M514.2 143.1L517.4 130.6M519.0 144.3L522.0 131.7M525.6 145.7L528.0 133.0M531.2 146.6L533.0 133.8M536.5 147.3L537.9 134.4M541.6 147.8L542.7 134.9M547.9 148.3L549.0 135.4M553.0 148.8L554.0 135.8M559.6 149.2L560.3 136.2M564.5 149.4L564.9 136.4M571.0 149.5L571.0 136.5M575.9 149.4L575.6 136.4M582.3 149.2L581.6 136.2M587.3 148.9L586.4 135.9M594.0 148.4L592.9 135.4M598.6 148.0L597.5 135.0M605.1 147.4L603.8 134.5M610.2 146.8L608.6 133.9M615.6 146.0L613.5 133.2M622.4 144.7L619.6 132.0M627.2 143.7L624.2 131.0M633.7 142.0L630.4 129.4M638.7 140.6L635.1 128.1M643.6 139.2L639.9 126.7M650.0 137.2L646.0 124.8M655.4 135.3L650.9 123.1M660.9 133.2L656.1 121.1M666.3 131.0L661.4 119.0M671.3 129.0L666.3 117.0M676.6 126.8L671.7 114.7M468.0 123.0L469.9 123.6L472.4 124.3L475.4 125.2L478.7 126.2L482.3 127.3L486.0 128.4L489.7 129.5L493.3 130.5L496.5 131.4L499.6 132.3L502.8 133.2L506.0 134.2L509.3 135.1L512.6 136.0L515.8 136.8L519.0 137.6L522.0 138.4L525.0 139.0L528.6 139.7L532.1 140.2L535.6 140.7L538.9 141.0L542.1 141.3L545.3 141.6L548.5 141.9L551.7 142.1L555.1 142.4L558.4 142.6L561.5 142.8L564.7 142.9L567.8 143.0L571.0 143.0L574.2 143.0L577.3 142.9L580.4 142.8L583.6 142.6L586.8 142.4L590.2 142.1L593.5 141.9L596.5 141.6L599.6 141.4L602.8 141.1L606.1 140.8L609.4 140.4L612.8 139.9L616.3 139.3L619.5 138.7L622.5 138.0L625.7 137.3L628.8 136.5L632.1 135.7L635.3 134.8L638.5 133.9L641.7 133.0L644.9 132.0L648.0 131.0L651.4 129.8L654.9 128.5L658.5 127.1L662.1 125.7L665.6 124.3L668.8 123.0L671.7 121.8L674.1 120.8L676.0 120.0L676.0 120.0" fill="none" stroke="#6a080a" stroke-width="1.1" opacity="0.72"/>
<path d="M466.0 112.0 C470.8 113.6 485.2 118.6 495.0 122.0 C504.8 125.3 515.8 129.6 525.0 131.9 C534.2 134.3 542.3 135.0 550.0 135.9 C557.7 136.9 564.0 137.4 571.0 137.4 C578.0 137.4 584.2 136.9 592.0 135.9 C599.8 135.0 608.7 134.3 618.0 131.9 C627.3 129.6 638.3 125.6 648.0 122.0 C657.7 118.3 671.3 112.0 676.0 110.0" fill="none" stroke="#930e0e" stroke-width="5.5" stroke-linecap="round" opacity="0.95"/>
<polygon points="463.8,110.4 464.6,110.7 465.6,111.0 466.7,111.4 468.0,111.8 469.3,112.3 470.8,112.8 472.3,113.3 473.9,113.9 475.6,114.5 477.3,115.1 479.0,115.7 480.8,116.3 482.6,116.9 484.4,117.5 486.1,118.1 487.9,118.7 489.6,119.3 491.2,119.9 492.8,120.4 494.4,120.9 495.9,121.5 497.5,122.0 499.1,122.6 500.7,123.1 502.3,123.7 503.9,124.3 505.6,124.9 507.2,125.5 508.8,126.0 510.5,126.6 512.1,127.2 513.8,127.7 515.4,128.2 517.0,128.7 518.6,129.2 520.2,129.7 521.8,130.1 523.3,130.5 525.3,131.0 527.2,131.4 529.0,131.8 530.9,132.2 532.7,132.5 534.5,132.8 536.2,133.1 538.0,133.3 539.7,133.6 541.3,133.8 542.9,134.0 544.6,134.2 546.1,134.3 547.7,134.5 549.2,134.7 551.0,134.9 552.7,135.1 554.4,135.3 556.1,135.5 557.8,135.6 559.4,135.8 561.1,135.9 562.7,136.0 564.3,136.1 566.0,136.2 567.6,136.2 569.3,136.2 571.0,136.2 572.7,136.2 574.4,136.2 576.0,136.2 577.6,136.1 579.3,136.0 580.9,135.9 582.5,135.8 584.2,135.6 585.8,135.5 587.5,135.3 589.2,135.1 591.0,134.9 592.8,134.7 594.2,134.5 595.7,134.4 597.3,134.2 598.8,134.0 600.4,133.8 602.0,133.6 603.7,133.4 605.4,133.2 607.1,133.0 608.8,132.7 610.5,132.4 612.3,132.1 614.1,131.8 615.9,131.4 617.8,131.0 619.6,130.6 621.2,130.1 622.8,129.7 624.4,129.3 626.0,128.8 627.6,128.3 629.3,127.8 630.9,127.3 632.6,126.7 634.2,126.2 635.9,125.6 637.5,125.0 639.2,124.4 640.8,123.9 642.5,123.3 644.1,122.7 645.7,122.1 647.3,121.5 648.8,120.9 650.4,120.3 652.0,119.7 653.7,119.0 655.4,118.3 657.1,117.6 658.8,116.9 660.6,116.2 662.3,115.4 664.1,114.7 665.8,113.9 667.4,113.2 669.0,112.5 670.6,111.8 672.0,111.1 673.4,110.5 674.7,109.9 675.9,109.4 677.0,108.9 677.9,108.5 678.7,108.2 673.3,95.8 672.5,96.2 671.5,96.6 670.4,97.1 669.2,97.6 667.9,98.2 666.5,98.8 665.1,99.5 663.6,100.1 662.0,100.8 660.3,101.6 658.7,102.3 657.0,103.0 655.3,103.7 653.6,104.5 651.9,105.2 650.3,105.8 648.7,106.5 647.1,107.1 645.6,107.7 644.1,108.3 642.5,108.8 641.0,109.4 639.4,110.0 637.8,110.6 636.3,111.2 634.7,111.7 633.1,112.3 631.5,112.8 629.9,113.4 628.3,113.9 626.8,114.4 625.2,114.9 623.7,115.4 622.2,115.9 620.7,116.3 619.2,116.7 617.8,117.1 616.4,117.4 614.7,117.8 613.1,118.2 611.5,118.5 609.9,118.8 608.3,119.1 606.7,119.4 605.1,119.6 603.5,119.8 602.0,120.1 600.4,120.2 598.8,120.4 597.3,120.6 595.8,120.8 594.2,121.0 592.7,121.1 591.2,121.3 589.5,121.5 587.8,121.7 586.1,121.9 584.5,122.0 583.0,122.2 581.4,122.3 579.9,122.4 578.4,122.5 577.0,122.6 575.5,122.7 574.0,122.7 572.5,122.7 571.0,122.8 569.5,122.7 568.0,122.7 566.5,122.7 565.0,122.6 563.5,122.5 562.0,122.4 560.5,122.3 559.0,122.2 557.4,122.0 555.8,121.9 554.2,121.7 552.5,121.5 550.8,121.3 549.2,121.1 547.7,120.9 546.1,120.8 544.6,120.6 543.0,120.4 541.4,120.2 539.8,120.0 538.2,119.7 536.6,119.5 535.0,119.2 533.4,118.9 531.7,118.6 530.1,118.3 528.4,117.9 526.7,117.5 525.3,117.1 523.9,116.7 522.5,116.3 521.0,115.8 519.5,115.4 518.0,114.9 516.4,114.4 514.9,113.8 513.3,113.3 511.7,112.7 510.1,112.2 508.5,111.6 506.8,111.0 505.2,110.4 503.6,109.8 502.0,109.3 500.4,108.7 498.8,108.2 497.2,107.6 495.6,107.1 493.9,106.5 492.2,105.9 490.5,105.3 488.8,104.7 487.0,104.1 485.2,103.5 483.4,102.9 481.7,102.3 480.0,101.7 478.3,101.1 476.7,100.6 475.2,100.0 473.7,99.5 472.4,99.1 471.2,98.6 470.0,98.3 469.0,97.9 468.2,97.6" fill="#e32b28" stroke="#860a0c" stroke-width="1.1" stroke-linejoin="round"/>
<polyline points="467.8,104.6 468.9,105.0 470.2,105.4 471.5,105.9 473.0,106.4 474.5,106.9 476.1,107.5 477.8,108.1 479.5,108.7 481.2,109.3 483.0,109.9 484.8,110.5 486.6,111.1 488.3,111.7 490.1,112.3 491.8,112.9 493.4,113.5 495.0,114.0 496.6,114.5 498.1,115.1 499.7,115.6 501.3,116.2 503.0,116.8 504.6,117.4 506.2,117.9 507.8,118.5 509.4,119.1 511.1,119.7 512.7,120.2 514.3,120.8 515.9,121.3 517.4,121.8 519.0,122.3 520.5,122.8 522.0,123.2 523.5,123.6 525.0,124.0 526.8,124.4 528.6,124.9 530.4,125.2 532.1,125.6 533.9,125.9 535.6,126.2 537.2,126.4 538.9,126.6 540.5,126.9 542.1,127.1 543.8,127.3 545.3,127.5 546.9,127.6 548.5,127.8 550.0,128.0 551.7,128.2 553.5,128.4 555.1,128.6 556.8,128.7 558.4,128.9 560.0,129.0 561.5,129.2 563.1,129.3 564.7,129.3 566.2,129.4 567.8,129.5 569.4,129.5 571.0,129.5 572.6,129.5 574.2,129.5 575.7,129.4 577.3,129.3 578.8,129.3 580.4,129.2 582.0,129.0 583.6,128.9 585.2,128.7 586.8,128.6 588.5,128.4 590.2,128.2 592.0,128.0 593.5,127.8 595.0,127.7 596.5,127.5 598.1,127.3 599.6,127.1 601.2,126.9 602.8,126.7 604.4,126.5 606.1,126.3 607.7,126.0 609.4,125.8 611.1,125.5 612.8,125.2 614.5,124.8 616.3,124.4 618.0,124.0 619.5,123.6 621.0,123.2 622.5,122.8 624.1,122.3 625.7,121.8 627.2,121.4 628.8,120.8 630.5,120.3 632.1,119.8 633.7,119.2 635.3,118.7 636.9,118.1 638.5,117.5 640.1,116.9 641.7,116.3 643.3,115.8 644.9,115.2 646.5,114.6 648.0,114.0 649.6,113.4 651.2,112.8 652.8,112.1 654.5,111.4 656.2,110.7 657.9,109.9 659.7,109.2 661.4,108.5 663.0,107.7 664.7,107.0 666.3,106.3 667.8,105.6 669.3,105.0 670.7,104.4 672.0,103.8 673.2,103.2 674.2,102.8" fill="none" stroke="#f34038" stroke-width="6.8" stroke-linecap="round" opacity="0.5"/>
<polyline points="468.3,100.1 469.3,100.4 470.4,100.8 471.6,101.2 473.0,101.7 474.4,102.2 476.0,102.7 477.6,103.3 479.2,103.9 480.9,104.5 482.7,105.1 484.5,105.7 486.2,106.3 488.0,106.9 489.8,107.5 491.5,108.1 493.2,108.7 494.8,109.2 496.4,109.8 498.0,110.3 499.6,110.9 501.2,111.4 502.8,112.0 504.4,112.6 506.1,113.2 507.7,113.7 509.3,114.3 510.9,114.9 512.5,115.4 514.1,116.0 515.7,116.5 517.3,117.1 518.8,117.6 520.3,118.0 521.8,118.5 523.3,118.9 524.7,119.3 526.1,119.7 527.8,120.1 529.6,120.5 531.3,120.9 532.9,121.2 534.6,121.5 536.3,121.8 537.9,122.0 539.5,122.2 541.1,122.5 542.7,122.7 544.3,122.8 545.9,123.0 547.4,123.2 549.0,123.4 550.5,123.6 552.3,123.8 553.9,124.0 555.6,124.1 557.2,124.3 558.8,124.5 560.3,124.6 561.9,124.7 563.4,124.8 564.9,124.9 566.4,125.0 567.9,125.0 569.5,125.0 571.0,125.0 572.5,125.0 574.1,125.0 575.6,125.0 577.1,124.9 578.6,124.8 580.1,124.7 581.6,124.6 583.2,124.5 584.7,124.3 586.4,124.1 588.0,124.0 589.7,123.8 591.5,123.6 593.0,123.4 594.5,123.2 596.0,123.1 597.6,122.9 599.1,122.7 600.7,122.5 602.2,122.3 603.8,122.1 605.4,121.9 607.0,121.6 608.7,121.4 610.3,121.1 611.9,120.8 613.6,120.4 615.3,120.1 616.9,119.7 618.4,119.3 619.8,118.9 621.3,118.5 622.8,118.1 624.4,117.6 625.9,117.1 627.5,116.6 629.1,116.1 630.6,115.6 632.2,115.0 633.8,114.5 635.4,113.9 637.0,113.3 638.6,112.7 640.2,112.2 641.8,111.6 643.3,111.0 644.9,110.4 646.4,109.8 647.9,109.3 649.5,108.6 651.1,108.0 652.8,107.3 654.5,106.6 656.2,105.9 657.9,105.1 659.6,104.4 661.3,103.7 662.9,102.9 664.5,102.2 666.0,101.6 667.5,100.9 668.9,100.3 670.2,99.7 671.4,99.2 672.4,98.7 673.4,98.3" fill="none" stroke="#860a0c" stroke-width="4.6" opacity="0.35"/>
<path d="M468.0 111.8L472.4 99.1M472.3 113.3L476.7 100.6M479.0 115.7L483.4 102.9M484.4 117.5L488.8 104.7M489.6 119.3L493.9 106.5M494.4 120.9L498.8 108.2M499.1 122.6L503.6 109.8M505.6 124.9L510.1 112.2M510.5 126.6L514.9 113.8M515.4 128.2L519.5 115.4M521.8 130.1L525.3 117.1M527.2 131.4L530.1 118.3M532.7 132.5L535.0 119.2M538.0 133.3L539.8 120.0M544.6 134.2L546.1 120.8M549.2 134.7L550.8 121.3M556.1 135.5L557.4 122.0M561.1 135.9L562.0 122.4M567.6 136.2L568.0 122.7M572.7 136.2L572.5 122.7M579.3 136.0L578.4 122.5M584.2 135.6L583.0 122.2M591.0 134.9L589.5 121.5M595.7 134.4L594.2 121.0M602.0 133.6L600.4 120.2M607.1 133.0L605.1 119.6M612.3 132.1L609.9 118.8M619.6 130.6L616.4 117.4M624.4 129.3L620.7 116.3M630.9 127.3L626.8 114.4M635.9 125.6L631.5 112.8M640.8 123.9L636.3 111.2M645.7 122.1L641.0 109.4M652.0 119.7L647.1 107.1M657.1 117.6L651.9 105.2M662.3 115.4L657.0 103.0M667.4 113.2L662.0 100.8M672.0 111.1L666.5 98.8M677.0 108.9L671.5 96.6M466.0 104.0L467.8 104.6L470.2 105.4L473.0 106.4L476.1 107.5L479.5 108.7L483.0 109.9L486.6 111.1L490.1 112.3L493.4 113.5L496.6 114.5L499.7 115.6L503.0 116.8L506.2 117.9L509.4 119.1L512.7 120.2L515.9 121.3L519.0 122.3L522.0 123.2L525.0 124.0L528.6 124.9L532.1 125.6L535.6 126.2L538.9 126.6L542.1 127.1L545.3 127.5L548.5 127.8L551.7 128.2L555.1 128.6L558.4 128.9L561.5 129.2L564.7 129.3L567.8 129.5L571.0 129.5L574.2 129.5L577.3 129.3L580.4 129.2L583.6 128.9L586.8 128.6L590.2 128.2L593.5 127.8L596.5 127.5L599.6 127.1L602.8 126.7L606.1 126.3L609.4 125.8L612.8 125.2L616.3 124.4L619.5 123.6L622.5 122.8L625.7 121.8L628.8 120.8L632.1 119.8L635.3 118.7L638.5 117.5L641.7 116.3L644.9 115.2L648.0 114.0L651.2 112.8L654.5 111.4L657.9 109.9L661.4 108.5L664.7 107.0L667.8 105.6L670.7 104.4L673.2 103.2L675.2 102.4L676.0 102.0" fill="none" stroke="#6a080a" stroke-width="1.1" opacity="0.72"/>
<path d="M464.0 94.5 C468.3 95.8 480.7 99.6 490.0 102.5 C499.3 105.3 510.3 108.8 520.0 111.5 C529.7 114.1 539.5 116.7 548.0 118.5 C556.5 120.2 563.2 122.0 571.0 122.0 C578.8 122.0 586.0 120.4 595.0 118.5 C604.0 116.5 615.5 113.3 625.0 110.5 C634.5 107.6 643.2 104.6 652.0 101.5 C660.8 98.3 673.7 93.1 678.0 91.5" fill="none" stroke="#930e0e" stroke-width="5.5" stroke-linecap="round" opacity="0.95"/>
<polygon points="462.2,93.0 463.0,93.2 464.0,93.5 465.1,93.9 466.4,94.3 467.8,94.7 469.2,95.2 470.8,95.6 472.4,96.2 474.1,96.7 475.9,97.2 477.6,97.8 479.4,98.3 481.2,98.9 483.0,99.4 484.8,99.9 486.5,100.5 488.2,101.0 489.7,101.4 491.2,101.9 492.7,102.4 494.3,102.8 495.8,103.3 497.4,103.8 499.0,104.3 500.6,104.8 502.2,105.3 503.9,105.8 505.5,106.3 507.1,106.8 508.8,107.3 510.4,107.7 512.0,108.2 513.6,108.7 515.2,109.1 516.8,109.6 518.3,110.0 520.0,110.5 521.6,110.9 523.2,111.4 524.8,111.8 526.5,112.2 528.1,112.7 529.7,113.1 531.3,113.5 532.9,113.9 534.5,114.3 536.1,114.7 537.6,115.1 539.2,115.4 540.7,115.8 542.3,116.2 543.8,116.5 545.3,116.8 546.7,117.1 548.5,117.5 550.2,117.9 551.9,118.2 553.6,118.6 555.3,118.9 557.0,119.3 558.7,119.6 560.4,119.8 562.1,120.1 563.8,120.3 565.5,120.5 567.3,120.6 569.1,120.7 571.0,120.7 572.7,120.7 574.4,120.7 576.1,120.6 577.8,120.4 579.4,120.2 581.1,120.0 582.7,119.8 584.4,119.5 586.0,119.2 587.7,118.9 589.4,118.6 591.1,118.2 592.8,117.9 594.5,117.5 596.3,117.1 597.8,116.8 599.3,116.4 600.9,116.1 602.5,115.7 604.1,115.3 605.7,114.9 607.3,114.5 609.0,114.0 610.6,113.6 612.3,113.2 613.9,112.7 615.6,112.2 617.2,111.8 618.9,111.3 620.5,110.8 622.1,110.4 623.7,109.9 625.3,109.4 626.8,109.0 628.5,108.5 630.2,108.0 631.8,107.4 633.5,106.9 635.1,106.4 636.7,105.9 638.3,105.3 639.9,104.8 641.5,104.3 643.1,103.7 644.7,103.2 646.3,102.7 647.8,102.1 649.4,101.6 651.0,101.0 652.5,100.4 654.1,99.9 655.7,99.3 657.4,98.7 659.2,98.0 661.0,97.3 662.7,96.7 664.5,96.0 666.3,95.3 668.1,94.6 669.8,93.9 671.5,93.3 673.1,92.6 674.6,92.1 676.0,91.5 677.3,91.0 678.4,90.5 679.4,90.2 680.3,89.8 675.7,78.2 674.9,78.5 673.9,78.9 672.7,79.4 671.4,79.9 670.0,80.4 668.5,81.0 666.9,81.6 665.3,82.3 663.6,83.0 661.8,83.6 660.1,84.3 658.3,85.0 656.5,85.7 654.8,86.3 653.1,86.9 651.5,87.6 649.9,88.1 648.3,88.7 646.8,89.2 645.3,89.8 643.7,90.3 642.2,90.8 640.6,91.4 639.1,91.9 637.5,92.4 636.0,93.0 634.4,93.5 632.9,94.0 631.3,94.5 629.7,95.0 628.1,95.5 626.5,96.0 624.9,96.5 623.2,97.0 621.7,97.5 620.2,97.9 618.6,98.4 617.0,98.8 615.4,99.3 613.8,99.7 612.2,100.2 610.6,100.6 609.0,101.1 607.4,101.5 605.8,102.0 604.2,102.4 602.6,102.8 601.0,103.2 599.5,103.6 598.0,103.9 596.5,104.3 595.1,104.6 593.7,104.9 591.9,105.3 590.2,105.6 588.5,106.0 586.9,106.3 585.3,106.6 583.8,106.9 582.3,107.2 580.8,107.4 579.4,107.6 578.0,107.8 576.6,108.0 575.2,108.1 573.8,108.2 572.4,108.2 571.0,108.3 569.5,108.2 568.1,108.2 566.7,108.1 565.2,107.9 563.8,107.7 562.3,107.5 560.8,107.3 559.3,107.0 557.8,106.7 556.2,106.3 554.5,106.0 552.8,105.6 551.1,105.3 549.3,104.9 547.9,104.6 546.5,104.3 545.0,104.0 543.6,103.6 542.1,103.3 540.6,102.9 539.1,102.6 537.5,102.2 536.0,101.8 534.4,101.4 532.8,101.0 531.3,100.6 529.7,100.1 528.1,99.7 526.5,99.3 524.9,98.9 523.3,98.4 521.7,98.0 520.2,97.6 518.6,97.1 517.1,96.7 515.5,96.2 513.9,95.8 512.3,95.3 510.7,94.8 509.1,94.3 507.5,93.8 505.9,93.3 504.3,92.8 502.7,92.4 501.1,91.9 499.5,91.4 497.9,90.9 496.4,90.4 494.8,89.9 493.3,89.5 491.8,89.0 490.1,88.5 488.4,88.0 486.7,87.4 484.9,86.9 483.1,86.4 481.3,85.8 479.6,85.3 477.8,84.7 476.1,84.2 474.5,83.7 472.9,83.2 471.5,82.8 470.1,82.3 468.8,81.9 467.7,81.6 466.7,81.3 465.8,81.0" fill="#e32b28" stroke="#860a0c" stroke-width="1.1" stroke-linejoin="round"/>
<polyline points="465.8,87.6 467.0,87.9 468.2,88.3 469.6,88.7 471.1,89.2 472.7,89.7 474.3,90.2 476.0,90.7 477.7,91.2 479.5,91.8 481.3,92.3 483.1,92.9 484.8,93.4 486.6,94.0 488.3,94.5 490.0,95.0 491.5,95.5 493.0,95.9 494.5,96.4 496.1,96.9 497.7,97.3 499.2,97.8 500.8,98.3 502.5,98.8 504.1,99.3 505.7,99.8 507.3,100.3 508.9,100.8 510.5,101.3 512.1,101.7 513.7,102.2 515.3,102.7 516.9,103.1 518.5,103.6 520.0,104.0 521.6,104.4 523.2,104.9 524.8,105.3 526.5,105.8 528.1,106.2 529.7,106.6 531.3,107.0 532.9,107.4 534.4,107.8 536.0,108.2 537.6,108.6 539.1,109.0 540.6,109.4 542.2,109.7 543.6,110.1 545.1,110.4 546.6,110.7 548.0,111.0 549.8,111.4 551.5,111.7 553.2,112.1 554.9,112.5 556.5,112.8 558.2,113.1 559.8,113.4 561.3,113.7 562.9,113.9 564.5,114.1 566.1,114.3 567.7,114.4 569.3,114.5 571.0,114.5 572.6,114.5 574.1,114.4 575.6,114.3 577.2,114.2 578.7,114.0 580.2,113.8 581.8,113.6 583.3,113.3 584.9,113.1 586.5,112.8 588.1,112.4 589.8,112.1 591.5,111.7 593.2,111.4 595.0,111.0 596.4,110.7 597.9,110.4 599.4,110.0 601.0,109.6 602.5,109.2 604.1,108.8 605.7,108.4 607.4,108.0 609.0,107.6 610.6,107.1 612.3,106.7 613.9,106.2 615.5,105.8 617.2,105.3 618.8,104.8 620.4,104.4 621.9,103.9 623.5,103.5 625.0,103.0 626.7,102.5 628.3,102.0 630.0,101.5 631.6,101.0 633.2,100.5 634.8,99.9 636.4,99.4 638.0,98.9 639.5,98.4 641.1,97.8 642.7,97.3 644.2,96.8 645.8,96.2 647.3,95.7 648.9,95.1 650.4,94.6 652.0,94.0 653.6,93.4 655.3,92.8 657.0,92.2 658.7,91.5 660.5,90.8 662.3,90.1 664.1,89.5 665.8,88.8 667.5,88.1 669.2,87.5 670.8,86.8 672.3,86.2 673.7,85.7 675.0,85.2 676.1,84.7" fill="none" stroke="#f34038" stroke-width="6.2" stroke-linecap="round" opacity="0.5"/>
<polyline points="466.1,83.3 467.1,83.6 468.2,84.0 469.5,84.4 470.8,84.8 472.3,85.3 473.9,85.7 475.5,86.2 477.2,86.8 478.9,87.3 480.7,87.8 482.5,88.4 484.3,88.9 486.0,89.5 487.8,90.0 489.5,90.5 491.2,91.1 492.7,91.5 494.2,92.0 495.7,92.4 497.3,92.9 498.9,93.4 500.5,93.9 502.1,94.4 503.7,94.9 505.3,95.4 506.9,95.9 508.5,96.4 510.1,96.8 511.7,97.3 513.3,97.8 514.9,98.3 516.5,98.7 518.0,99.2 519.6,99.6 521.1,100.0 522.7,100.5 524.3,100.9 525.9,101.3 527.5,101.8 529.1,102.2 530.7,102.6 532.3,103.0 533.9,103.4 535.5,103.8 537.0,104.2 538.5,104.6 540.1,105.0 541.6,105.4 543.1,105.7 544.6,106.0 546.0,106.4 547.4,106.7 548.8,107.0 550.6,107.3 552.4,107.7 554.1,108.1 555.7,108.4 557.4,108.8 558.9,109.1 560.5,109.3 562.0,109.6 563.5,109.8 565.0,110.0 566.5,110.2 568.0,110.3 569.5,110.4 571.0,110.4 572.5,110.4 573.9,110.3 575.3,110.2 576.8,110.1 578.2,109.9 579.7,109.7 581.2,109.5 582.7,109.3 584.2,109.0 585.7,108.7 587.3,108.4 589.0,108.1 590.6,107.7 592.4,107.3 594.1,107.0 595.5,106.7 597.0,106.3 598.5,106.0 600.0,105.6 601.5,105.2 603.1,104.8 604.7,104.4 606.3,104.0 607.9,103.6 609.5,103.1 611.2,102.7 612.8,102.2 614.4,101.8 616.0,101.3 617.6,100.9 619.2,100.4 620.8,99.9 622.3,99.5 623.8,99.0 625.5,98.6 627.1,98.1 628.7,97.5 630.3,97.0 631.9,96.5 633.5,96.0 635.1,95.5 636.7,95.0 638.2,94.5 639.8,93.9 641.3,93.4 642.9,92.9 644.4,92.3 646.0,91.8 647.5,91.2 649.1,90.7 650.6,90.1 652.2,89.5 653.8,88.9 655.5,88.3 657.3,87.6 659.0,87.0 660.8,86.3 662.6,85.6 664.3,84.9 666.0,84.3 667.7,83.6 669.3,83.0 670.8,82.4 672.2,81.8 673.5,81.3 674.6,80.9 675.7,80.5" fill="none" stroke="#860a0c" stroke-width="4.2" opacity="0.35"/>
<path d="M466.4 94.3L470.1 82.3M470.8 95.6L474.5 83.7M477.6 97.8L481.3 85.8M483.0 99.4L486.7 87.4M488.2 101.0L491.8 89.0M492.7 102.4L496.4 90.4M499.0 104.3L502.7 92.4M503.9 105.8L507.5 93.8M508.8 107.3L512.3 95.3M515.2 109.1L518.6 97.1M520.0 110.5L523.3 98.4M524.8 111.8L528.1 99.7M531.3 113.5L534.4 101.4M536.1 114.7L539.1 102.6M542.3 116.2L545.0 104.0M546.7 117.1L549.3 104.9M553.6 118.6L556.2 106.3M558.7 119.6L560.8 107.3M563.8 120.3L565.2 107.9M571.0 120.7L571.0 108.3M577.8 120.4L576.6 108.0M582.7 119.8L580.8 107.4M589.4 118.6L586.9 106.3M594.5 117.5L591.9 105.3M599.3 116.4L596.5 104.3M605.7 114.9L602.6 102.8M610.6 113.6L607.4 101.5M617.2 111.8L613.8 99.7M622.1 110.4L618.6 98.4M626.8 109.0L623.2 97.0M633.5 106.9L629.7 95.0M638.3 105.3L634.4 93.5M643.1 103.7L639.1 91.9M649.4 101.6L645.3 89.8M654.1 99.9L649.9 88.1M659.2 98.0L654.8 86.3M664.5 96.0L660.1 84.3M669.8 93.9L665.3 82.3M674.6 92.1L670.0 80.4M464.0 87.0L465.8 87.6L468.2 88.3L471.1 89.2L474.3 90.2L477.7 91.2L481.3 92.3L484.8 93.4L488.3 94.5L491.5 95.5L494.5 96.4L497.7 97.3L500.8 98.3L504.1 99.3L507.3 100.3L510.5 101.3L513.7 102.2L516.9 103.1L520.0 104.0L523.2 104.9L526.5 105.8L529.7 106.6L532.9 107.4L536.0 108.2L539.1 109.0L542.2 109.7L545.1 110.4L548.0 111.0L551.5 111.7L554.9 112.5L558.2 113.1L561.3 113.7L564.5 114.1L567.7 114.4L571.0 114.5L574.1 114.4L577.2 114.2L580.2 113.8L583.3 113.3L586.5 112.8L589.8 112.1L593.2 111.4L596.4 110.7L599.4 110.0L602.5 109.2L605.7 108.4L609.0 107.6L612.3 106.7L615.5 105.8L618.8 104.8L621.9 103.9L625.0 103.0L628.3 102.0L631.6 101.0L634.8 99.9L638.0 98.9L641.1 97.8L644.2 96.8L647.3 95.7L650.4 94.6L653.6 93.4L657.0 92.2L660.5 90.8L664.1 89.5L667.5 88.1L670.8 86.8L673.7 85.7L676.1 84.7L678.0 84.0L678.0 84.0" fill="none" stroke="#6a080a" stroke-width="1.1" opacity="0.72"/>
<polygon points="474.9,93.5 476.0,94.0 477.6,94.6 479.3,95.4 480.9,96.0 482.6,96.7 484.3,97.4 485.9,98.1 486.9,98.5 489.1,93.5 488.0,93.0 486.4,92.4 484.7,91.6 483.1,91.0 481.4,90.3 479.7,89.6 478.1,88.9 477.1,88.5" fill="#f47a6c"/>
<path d="M479.3 95.4L481.4 90.3M484.3 97.4L486.4 92.4" fill="none" stroke="#6a080a" stroke-width="0.9" opacity="0.5"/>
<polygon points="477.0,108.6 478.8,109.2 481.0,110.1 483.3,110.9 485.0,111.6 487.0,106.4 485.2,105.8 483.0,104.9 480.7,104.1 479.0,103.4" fill="#f47a6c"/>
<path d="M481.0 110.1L483.0 104.9" fill="none" stroke="#6a080a" stroke-width="0.9" opacity="0.5"/>
<polygon points="511.0,106.6 512.3,107.1 514.1,107.8 516.0,108.6 517.8,109.3 519.7,110.0 521.0,110.6 523.0,105.4 521.7,104.9 519.9,104.2 518.0,103.4 516.2,102.7 514.3,102.0 513.0,101.4" fill="#f47a6c"/>
<path d="M514.1 107.8L516.2 102.7M519.7 110.0L521.7 104.9" fill="none" stroke="#6a080a" stroke-width="0.9" opacity="0.5"/>
<polygon points="490.9,124.5 492.0,125.0 493.6,125.6 495.3,126.4 496.9,127.0 498.6,127.7 500.3,128.4 501.9,129.1 502.9,129.5 505.1,124.5 504.0,124.0 502.4,123.4 500.7,122.6 499.1,122.0 497.4,121.3 495.7,120.6 494.1,119.9 493.1,119.5" fill="#f47a6c"/>
<path d="M495.3 126.4L497.4 121.3M500.3 128.4L502.4 123.4" fill="none" stroke="#6a080a" stroke-width="0.9" opacity="0.5"/>
<polygon points="552.4,123.7 553.5,123.9 555.2,124.3 557.1,124.8 558.9,125.2 560.7,125.6 562.5,126.0 564.2,126.4 565.4,126.7 566.6,121.3 565.5,121.1 563.8,120.7 561.9,120.2 560.1,119.8 558.3,119.4 556.5,119.0 554.8,118.6 553.6,118.3" fill="#f47a6c"/>
<path d="M557.1 124.8L558.3 119.4M560.7 125.6L561.9 120.2" fill="none" stroke="#6a080a" stroke-width="0.9" opacity="0.5"/>
<polygon points="555.3,133.7 557.1,134.1 559.3,134.7 561.6,135.2 563.3,135.7 564.7,130.3 562.9,129.9 560.7,129.3 558.4,128.8 556.7,128.3" fill="#f47a6c"/>
<path d="M559.3 134.7L560.7 129.3" fill="none" stroke="#6a080a" stroke-width="0.9" opacity="0.5"/>
<polygon points="559.7,150.7 561.0,150.9 562.9,151.1 564.7,151.2 566.6,151.4 568.4,151.6 569.7,151.7 570.3,146.3 569.0,146.1 567.1,145.9 565.3,145.8 563.4,145.6 561.6,145.4 560.3,145.3" fill="#f47a6c"/>
<path d="M564.7 151.2L565.3 145.8" fill="none" stroke="#6a080a" stroke-width="0.9" opacity="0.5"/>
<polygon points="562.8,176.2 564.3,177.0 566.3,178.2 568.2,179.3 569.8,180.2 572.2,175.8 570.7,175.0 568.7,173.8 566.8,172.7 565.2,171.8" fill="#f47a6c"/>
<path d="M566.3 178.2L568.7 173.8" fill="none" stroke="#6a080a" stroke-width="0.9" opacity="0.5"/>
<path d="M500 148 Q520 153 545 158" fill="none" stroke="#7a0808" stroke-width="4" stroke-linecap="round" opacity="0.4"/>
<path d="M640 112 Q656 108 670 102" fill="none" stroke="#7a0808" stroke-width="4" stroke-linecap="round" opacity="0.55"/>
<path d="M598 146 Q620 142 640 134" fill="none" stroke="#7a0808" stroke-width="4" stroke-linecap="round" opacity="0.5"/>
<path d="M480 112 Q492 117 505 121" fill="none" stroke="#7a0808" stroke-width="3.5" stroke-linecap="round" opacity="0.5"/>
<path d="M600 160 Q630 152 660 140" fill="none" stroke="#7a0808" stroke-width="3" stroke-linecap="round" opacity="0.35"/>
</g>
<path d="M466.7 82.0 L472.6 63.2 L484.3 44.5 L492.5 25.8 L498.0 17.0 L506.5 11.7 L525.3 9.4 L550.0 10.5 L569.8 11.7 L595.5 9.8 L607.0 9.8 L628.0 10.5 L642.0 18.7 L656.0 39.8 L665.5 53.9 L675.0 75.0 L675.6 95.7 L671.0 111.0 L675.0 120.8 L674.0 133.0 L666.0 142.7 L665.5 171.0 L619.0 191.4 L572.0 209.3 L525.3 193.0 L477.2 172.0 L474.9 145.0 L467.9 131.0 L470.0 110.0 L465.5 95.0Z" fill="none" stroke="#8a1010" stroke-width="0.9" opacity="0.9" filter="url(#soft)"/>
<g id="frames" filter="url(#softc)">
<rect x="2" y="0.95" width="684" height="2.05" fill="#808080"/>
<rect x="2.1" y="1.1" width="1.9" height="213.2" fill="#7e7e7e"/>
<rect x="2" y="212.9" width="342" height="1.5" fill="#7a7a7a"/>
<rect x="344" y="213.1" width="339" height="1.1" fill="#d2d2d2"/>
<rect x="682.2" y="3" width="3" height="209.5" fill="#98d8d4"/><rect x="684" y="3" width="1" height="209.5" fill="#7fc6c2"/>
<rect x="229.1" y="3" width="1.9" height="208.5" fill="#8fd3cf"/>
<path d="M2.9 214.5V424.3H342.6" fill="none" stroke="#d6d6d6" stroke-width="1.2"/>
<path d="M343.5 214.5V425.9H683.3V214" fill="none" stroke="#cdcdcd" stroke-width="1.4"/>
</g>
<g filter="url(#softc)" style="paint-order:stroke">
<g>
<line x1="71.0" y1="225.8" x2="321.0" y2="225.8" stroke="#d4d4d4" stroke-width="1"/>
<line x1="71.0" y1="262.1" x2="321.0" y2="262.1" stroke="#d4d4d4" stroke-width="1"/>
<line x1="71.0" y1="298.4" x2="321.0" y2="298.4" stroke="#d4d4d4" stroke-width="1"/>
<line x1="71.0" y1="334.7" x2="321.0" y2="334.7" stroke="#d4d4d4" stroke-width="1"/>
<line x1="71.0" y1="371.0" x2="321.0" y2="371.0" stroke="#bdbdbd" stroke-width="1.2"/>
<line x1="71.0" y1="225.8" x2="71.0" y2="371.0" stroke="#bdbdbd" stroke-width="1.2"/>
<line x1="66.5" y1="225.8" x2="71.0" y2="225.8" stroke="#bdbdbd" stroke-width="1.1"/>
<text x="59.5" y="230.2" font-size="13.3" text-anchor="end" fill="#262626" stroke="#262626" stroke-width="0.3">4000</text>
<line x1="66.5" y1="262.1" x2="71.0" y2="262.1" stroke="#bdbdbd" stroke-width="1.1"/>
<text x="59.5" y="266.5" font-size="13.3" text-anchor="end" fill="#262626" stroke="#262626" stroke-width="0.3">3000</text>
<line x1="66.5" y1="298.4" x2="71.0" y2="298.4" stroke="#bdbdbd" stroke-width="1.1"/>
<text x="59.5" y="302.8" font-size="13.3" text-anchor="end" fill="#262626" stroke="#262626" stroke-width="0.3">2000</text>
<line x1="66.5" y1="334.7" x2="71.0" y2="334.7" stroke="#bdbdbd" stroke-width="1.1"/>
<text x="59.5" y="339.1" font-size="13.3" text-anchor="end" fill="#262626" stroke="#262626" stroke-width="0.3">1000</text>
<line x1="66.5" y1="371.0" x2="71.0" y2="371.0" stroke="#bdbdbd" stroke-width="1.1"/>
<text x="59.5" y="375.4" font-size="13.3" text-anchor="end" fill="#262626" stroke="#262626" stroke-width="0.3">0</text>
<line x1="71.0" y1="371.0" x2="71.0" y2="375.5" stroke="#bdbdbd" stroke-width="1.1"/>
<text x="71.0" y="391" font-size="13.3" text-anchor="middle" fill="#262626" stroke="#262626" stroke-width="0.3">0</text>
<line x1="121.0" y1="371.0" x2="121.0" y2="375.5" stroke="#bdbdbd" stroke-width="1.1"/>
<text x="121.0" y="391" font-size="13.3" text-anchor="middle" fill="#262626" stroke="#262626" stroke-width="0.3">20</text>
<line x1="171.0" y1="371.0" x2="171.0" y2="375.5" stroke="#bdbdbd" stroke-width="1.1"/>
<text x="171.0" y="391" font-size="13.3" text-anchor="middle" fill="#262626" stroke="#262626" stroke-width="0.3">40</text>
<line x1="221.0" y1="371.0" x2="221.0" y2="375.5" stroke="#bdbdbd" stroke-width="1.1"/>
<text x="221.0" y="391" font-size="13.3" text-anchor="middle" fill="#262626" stroke="#262626" stroke-width="0.3">60</text>
<line x1="271.0" y1="371.0" x2="271.0" y2="375.5" stroke="#bdbdbd" stroke-width="1.1"/>
<text x="271.0" y="391" font-size="13.3" text-anchor="middle" fill="#262626" stroke="#262626" stroke-width="0.3">80</text>
<line x1="321.0" y1="371.0" x2="321.0" y2="375.5" stroke="#bdbdbd" stroke-width="1.1"/>
<text x="321.0" y="391" font-size="13.3" text-anchor="middle" fill="#262626" stroke="#262626" stroke-width="0.3">100</text>
<text x="143" y="409.4" font-size="13.3" word-spacing="1.2" fill="#262626" stroke="#262626" stroke-width="0.3" xml:space="preserve">Displacement (mm)</text>
<text transform="translate(27.2,298) rotate(-90)" font-size="13.3" text-anchor="middle" word-spacing="1.6" fill="#262626" stroke="#262626" stroke-width="0.3" xml:space="preserve">EA (J)</text>
</g>
<path d="M71.0 371.0 C71.5 371.0 72.9 371.6 74.0 371.1 C75.1 370.6 75.8 369.5 77.6 367.8 C79.4 366.1 82.3 362.7 84.6 361.1 C86.9 359.5 89.2 359.4 91.6 358.4 C93.9 357.4 96.3 356.1 98.7 354.9 C101.1 353.7 103.4 352.2 105.7 351.0 C108.0 349.8 110.1 348.7 112.7 347.5 C115.3 346.3 118.6 345.5 121.5 344.0 C124.4 342.5 127.4 340.4 130.3 338.7 C133.2 336.9 136.2 335.1 139.1 333.5 C142.0 331.9 145.0 330.5 147.9 329.1 C150.8 327.7 153.2 326.7 156.7 325.0 C160.2 323.3 164.7 321.5 169.0 318.9 C173.3 316.3 178.1 312.1 182.4 309.3 C186.7 306.5 190.7 304.2 194.8 301.9 C198.9 299.6 203.1 297.6 207.2 295.7 C211.3 293.8 215.5 292.4 219.6 290.3 C223.7 288.2 227.9 285.8 232.0 283.3 C236.1 280.8 240.3 277.9 244.4 275.3 C248.5 272.7 252.7 270.2 256.8 267.9 C260.9 265.6 265.2 263.5 269.3 261.5 C273.4 259.5 277.6 257.8 281.7 256.0 C285.8 254.2 289.6 252.7 294.1 251.0 C298.7 249.3 306.5 246.8 309.0 246.0" fill="none" stroke="#9b9b9b" stroke-width="1.5" stroke-linejoin="round"/>
<path d="M71.0 371.0 C71.5 370.8 72.9 370.6 74.0 369.8 C75.1 369.1 75.8 368.2 77.6 366.5 C79.4 364.8 82.3 361.4 84.6 359.8 C86.9 358.2 89.2 358.1 91.6 357.1 C93.9 356.1 96.3 354.8 98.7 353.6 C101.1 352.4 103.4 350.9 105.7 349.7 C108.0 348.5 110.1 347.4 112.7 346.2 C115.3 345.0 118.6 344.2 121.5 342.7 C124.4 341.2 127.4 339.1 130.3 337.4 C133.2 335.6 136.2 333.8 139.1 332.2 C142.0 330.6 145.0 329.2 147.9 327.8 C150.8 326.4 153.2 325.4 156.7 323.7 C160.2 322.0 164.7 320.2 169.0 317.6 C173.3 315.0 178.1 310.8 182.4 308.0 C186.7 305.2 190.7 302.9 194.8 300.6 C198.9 298.3 203.1 296.3 207.2 294.4 C211.3 292.5 215.5 291.1 219.6 289.0 C223.7 286.9 227.9 284.5 232.0 282.0 C236.1 279.5 240.3 276.6 244.4 274.0 C248.5 271.4 252.7 268.9 256.8 266.6 C260.9 264.3 265.2 262.2 269.3 260.2 C273.4 258.2 277.6 256.4 281.7 254.7 C285.8 252.9 289.6 251.6 294.1 249.7 C298.7 247.8 306.5 244.5 309.0 243.5" fill="none" stroke="#ee7b30" stroke-width="1.6" stroke-linejoin="round"/>
<path d="M71.0 371.0 C71.5 370.8 72.9 370.4 74.0 369.5 C75.1 368.6 76.3 367.3 77.6 365.9 C78.9 364.5 80.5 362.5 82.0 361.0 C83.5 359.5 84.8 358.3 86.4 357.1 C88.0 355.9 89.5 354.6 91.6 353.6 C93.6 352.6 96.3 352.1 98.7 351.0 C101.1 349.9 103.4 348.6 105.7 347.1 C108.0 345.6 110.1 343.6 112.7 341.8 C115.3 340.0 118.6 338.1 121.5 336.4 C124.4 334.7 127.4 333.6 130.3 331.6 C133.2 329.6 136.2 326.7 139.1 324.6 C142.0 322.5 145.0 320.7 147.9 319.0 C150.8 317.3 153.2 315.9 156.7 314.4 C160.2 312.9 164.7 312.3 169.0 310.0 C173.3 307.7 178.1 303.6 182.4 300.6 C186.7 297.6 190.7 294.9 194.8 291.9 C198.9 288.9 203.1 285.3 207.2 282.7 C211.3 280.1 215.5 278.3 219.6 276.5 C223.7 274.7 228.3 273.6 232.0 272.1 C235.7 270.6 238.3 269.8 242.0 267.6 C245.7 265.4 250.3 262.1 254.4 258.9 C258.5 255.7 262.7 251.6 266.8 248.5 C270.9 245.4 274.6 242.8 279.2 240.3 C283.8 237.8 289.4 235.8 294.1 233.6 C298.9 231.4 305.4 228.0 307.7 226.9" fill="none" stroke="#2a6dbd" stroke-width="1.6" stroke-linejoin="round"/>
<line x1="280.5" y1="298.6" x2="300.3" y2="298.6" stroke="#2a6dbd" stroke-width="1.6"/>
<text x="302" y="302.9" font-size="13.3" fill="#262626" stroke="#262626" stroke-width="0.3">T1.8</text>
<line x1="280.5" y1="319.1" x2="300.3" y2="319.1" stroke="#ee7b30" stroke-width="1.6"/>
<text x="302" y="323.4" font-size="13.3" fill="#262626" stroke="#262626" stroke-width="0.3">S1.45</text>
<line x1="280.5" y1="339.8" x2="300.3" y2="339.8" stroke="#9b9b9b" stroke-width="1.6"/>
<text x="302" y="344.1" font-size="13.3" fill="#262626" stroke="#262626" stroke-width="0.3">P1.31</text>
<g>
<line x1="398.7" y1="225.8" x2="663.2" y2="225.8" stroke="#d4d4d4" stroke-width="1"/>
<line x1="398.7" y1="262.5" x2="663.2" y2="262.5" stroke="#d4d4d4" stroke-width="1"/>
<line x1="398.7" y1="299.2" x2="663.2" y2="299.2" stroke="#d4d4d4" stroke-width="1"/>
<line x1="398.7" y1="336.0" x2="663.2" y2="336.0" stroke="#d4d4d4" stroke-width="1"/>
<line x1="398.7" y1="372.7" x2="663.2" y2="372.7" stroke="#bdbdbd" stroke-width="1.2"/>
<line x1="398.7" y1="225.8" x2="398.7" y2="372.7" stroke="#bdbdbd" stroke-width="1.2"/>
<line x1="394.2" y1="225.8" x2="398.7" y2="225.8" stroke="#bdbdbd" stroke-width="1.1"/>
<text x="387.3" y="230.2" font-size="13.3" text-anchor="end" fill="#262626" stroke="#262626" stroke-width="0.3">80</text>
<line x1="394.2" y1="262.5" x2="398.7" y2="262.5" stroke="#bdbdbd" stroke-width="1.1"/>
<text x="387.3" y="266.9" font-size="13.3" text-anchor="end" fill="#262626" stroke="#262626" stroke-width="0.3">60</text>
<line x1="394.2" y1="299.2" x2="398.7" y2="299.2" stroke="#bdbdbd" stroke-width="1.1"/>
<text x="387.3" y="303.6" font-size="13.3" text-anchor="end" fill="#262626" stroke="#262626" stroke-width="0.3">40</text>
<line x1="394.2" y1="336.0" x2="398.7" y2="336.0" stroke="#bdbdbd" stroke-width="1.1"/>
<text x="387.3" y="340.4" font-size="13.3" text-anchor="end" fill="#262626" stroke="#262626" stroke-width="0.3">20</text>
<line x1="394.2" y1="372.7" x2="398.7" y2="372.7" stroke="#bdbdbd" stroke-width="1.1"/>
<text x="387.3" y="377.1" font-size="13.3" text-anchor="end" fill="#262626" stroke="#262626" stroke-width="0.3">0</text>
<line x1="398.7" y1="372.7" x2="398.7" y2="377.2" stroke="#bdbdbd" stroke-width="1.1"/>
<text x="398.7" y="392.8" font-size="13.3" text-anchor="middle" fill="#262626" stroke="#262626" stroke-width="0.3">0</text>
<line x1="451.6" y1="372.7" x2="451.6" y2="377.2" stroke="#bdbdbd" stroke-width="1.1"/>
<text x="451.6" y="392.8" font-size="13.3" text-anchor="middle" fill="#262626" stroke="#262626" stroke-width="0.3">20</text>
<line x1="504.5" y1="372.7" x2="504.5" y2="377.2" stroke="#bdbdbd" stroke-width="1.1"/>
<text x="504.5" y="392.8" font-size="13.3" text-anchor="middle" fill="#262626" stroke="#262626" stroke-width="0.3">40</text>
<line x1="557.4" y1="372.7" x2="557.4" y2="377.2" stroke="#bdbdbd" stroke-width="1.1"/>
<text x="557.4" y="392.8" font-size="13.3" text-anchor="middle" fill="#262626" stroke="#262626" stroke-width="0.3">60</text>
<line x1="610.3" y1="372.7" x2="610.3" y2="377.2" stroke="#bdbdbd" stroke-width="1.1"/>
<text x="610.3" y="392.8" font-size="13.3" text-anchor="middle" fill="#262626" stroke="#262626" stroke-width="0.3">80</text>
<line x1="663.2" y1="372.7" x2="663.2" y2="377.2" stroke="#bdbdbd" stroke-width="1.1"/>
<text x="663.2" y="392.8" font-size="13.3" text-anchor="middle" fill="#262626" stroke="#262626" stroke-width="0.3">100</text>
<text x="477.3" y="411.6" font-size="13.3" word-spacing="1.2" fill="#262626" stroke="#262626" stroke-width="0.3" xml:space="preserve">Displacement (mm)</text>
<text transform="translate(367.6,299.2) rotate(-90)" font-size="13.3" text-anchor="middle" word-spacing="1.6" fill="#262626" stroke="#262626" stroke-width="0.3" xml:space="preserve">Force (kN)</text>
</g>
<polyline points="399.2,290.0 400.5,283.0 401.8,276.0 404.0,262.0 407.0,247.0 409.0,242.0 411.0,240.5 412.8,242.0 414.3,246.0 415.4,254.0 416.3,263.0 417.2,275.0 418.3,286.0 420.2,297.0 422.9,310.2 425.0,318.0 426.5,321.4 427.6,314.0 428.8,306.3 430.5,298.0 432.0,293.5 433.2,297.0 434.2,288.0 435.3,278.0 436.0,270.0 437.3,272.5 438.3,276.0 439.9,280.0 441.5,286.0 443.9,291.8 447.5,296.5 451.8,301.5 453.5,298.0 455.7,295.8 457.5,296.5 459.6,295.1 461.5,291.0 463.6,286.6 465.2,279.0 466.9,271.0 468.6,272.5 470.5,276.5 473.0,284.0 476.6,293.5 480.0,300.0 483.1,305.4 488.0,312.0 492.3,317.2 496.5,320.0 500.2,318.0 501.8,311.0 502.9,305.4 503.9,299.0 504.8,294.9 507.5,290.3 510.7,288.9 514.7,291.6 516.8,291.0 518.6,293.5 520.0,290.5 521.2,287.0 522.5,281.0 523.9,278.4 525.0,279.0 526.0,274.0 527.2,271.9 528.4,272.5 529.8,271.2 531.0,269.0 532.4,267.3 534.0,271.0 535.7,275.1 541.0,288.3 546.2,300.1 551.5,310.6 556.7,316.5 562.0,320.0 566.0,318.5 569.7,316.5 572.0,315.5 574.3,313.9 575.6,307.0 576.9,300.1 578.3,288.3 580.2,281.7 582.0,283.5 583.5,283.7 585.0,286.0 586.1,287.6 587.8,283.0 589.4,280.4 590.8,276.5 592.0,275.1 593.3,276.5 594.3,273.5 595.3,273.2 596.5,274.5 598.0,269.9 599.0,271.0 600.0,272.5 601.3,270.0 602.6,268.6 603.8,272.0 605.2,276.5 607.0,279.0 609.1,284.3 613.1,292.9 618.3,302.1 624.9,312.5 629.8,319.5 632.9,321.7 636.0,318.3 639.7,317.4 641.6,313.0 642.8,308.7 643.8,309.5 644.7,311.2 645.9,303.1 646.9,296.9 648.1,295.9" fill="none" stroke="#2a6dbd" stroke-width="1.7" stroke-linejoin="round"/>
<polyline points="399.3,268.0 400.0,280.0 401.0,285.0 402.5,280.0 404.5,268.0 406.5,255.0 408.0,249.0 409.3,247.0 410.5,250.0 411.8,262.0 413.0,282.6 415.0,299.7 418.3,319.4 419.8,326.0 420.9,328.6 422.3,322.0 424.2,311.5 426.0,303.0 427.5,299.7 428.5,301.0 429.4,303.0 430.8,298.0 432.7,289.9 434.0,294.0 435.3,299.7 438.0,310.2 441.2,315.5 443.5,312.5 445.8,312.2 448.0,314.5 450.4,313.5 452.5,311.0 454.4,308.9 455.8,306.0 457.0,299.7 458.6,294.0 460.3,289.2 462.0,290.0 463.6,291.8 466.0,297.0 468.8,302.3 472.0,307.5 475.4,311.5 477.5,310.0 479.4,310.8 483.1,314.6 486.5,314.0 489.7,315.9 491.5,311.0 493.0,304.0 494.6,306.0 496.3,307.3 498.5,311.0 500.9,315.9 502.5,312.0 504.2,310.6 506.5,308.0 508.8,307.3 509.8,302.0 510.7,296.2 511.4,288.0 512.0,282.4 513.3,287.0 514.7,285.0 515.6,290.0 516.6,288.9 517.6,287.0 518.6,288.3 520.5,291.5 522.6,294.9 524.5,297.0 526.5,298.8 527.8,297.5 529.1,299.5 531.0,302.0 533.0,305.4 537.0,310.6 541.6,316.5 545.0,315.0 548.8,314.6 552.0,313.0 555.4,312.6 557.9,311.9 559.5,308.0 561.2,302.7 562.8,306.5 564.5,308.0 566.0,304.0 567.7,302.7 569.0,299.0 569.7,297.5 570.4,290.0 571.0,284.3 572.3,289.0 573.7,292.2 574.7,290.0 575.6,290.9 576.3,283.0 576.9,277.8 577.6,284.0 578.3,287.6 580.0,287.5 582.2,288.9 583.8,291.5 585.5,292.9 587.5,295.0 589.4,296.2 592.0,295.0 595.3,294.9 597.0,298.0 598.6,300.8 600.5,303.0 602.6,305.4 605.2,308.0 607.2,305.4 608.5,309.3 611.1,306.7 614.4,311.3 618.3,312.6 621.6,315.9 624.8,316.7 627.3,319.2 629.8,316.7 633.5,317.4 635.4,308.7 637.2,308.1 639.1,300.6 640.3,295.6 641.3,300.0 642.2,304.3 644.0,304.3 645.9,311.8 648.4,313.0 650.2,315.5" fill="none" stroke="#ee7b30" stroke-width="1.6" stroke-linejoin="round"/>
<polyline points="399.6,284.0 400.2,286.8 401.2,284.0 402.5,277.0 404.0,267.0 406.0,257.0 408.3,251.7 409.6,256.0 410.8,270.0 412.3,298.4 414.0,312.0 415.6,323.4 418.0,330.0 420.0,332.8 421.5,326.0 422.9,315.5 424.2,309.0 425.5,303.7 427.5,304.5 429.4,303.0 430.8,300.0 432.0,298.4 433.0,302.0 434.0,306.3 435.6,312.0 437.3,317.5 439.5,313.0 441.9,310.9 443.8,315.0 445.8,318.1 447.5,314.0 449.1,310.9 450.5,307.0 451.8,303.7 453.8,303.5 455.7,301.7 457.6,299.0 459.6,296.4 461.6,298.5 463.6,301.0 465.5,304.5 467.5,307.6 469.5,306.0 471.5,305.6 473.5,307.0 475.3,307.3 478.0,310.0 480.5,312.0 482.5,311.5 484.5,313.2 486.0,311.0 487.7,309.3 490.0,310.5 492.3,311.3 494.0,313.5 495.6,313.2 496.6,310.0 497.6,308.6 499.3,312.0 500.9,315.2 502.3,308.0 503.5,301.4 504.2,294.0 504.8,289.6 506.5,292.0 508.1,293.5 510.8,297.0 513.4,301.4 514.7,298.5 516.0,297.5 518.6,300.0 521.2,301.4 523.5,305.0 525.8,308.6 527.8,305.0 529.8,301.4 531.5,303.5 533.0,304.7 535.6,307.5 538.3,310.0 541.6,309.0 544.9,308.6 546.2,303.0 547.5,296.2 548.8,300.5 550.2,302.7 552.0,305.4 553.6,302.5 555.3,300.1 556.3,304.0 557.2,306.7 558.2,301.0 559.2,296.8 560.2,302.0 561.2,305.4 562.2,290.0 563.1,277.1 564.1,286.0 565.1,293.5 566.1,290.0 567.1,287.6 568.4,292.0 569.7,294.9 571.3,297.0 573.0,298.1 574.6,296.5 576.3,296.2 578.0,299.0 579.6,300.8 582.0,300.5 584.2,301.4 585.5,298.1 586.5,302.0 587.5,305.4 588.5,298.0 589.4,292.9 590.7,296.0 592.0,298.1 594.0,301.5 596.0,304.0 598.0,305.5 600.0,306.7 602.6,310.6 604.5,311.0 606.5,312.0 608.2,315.0 609.9,318.0 611.3,314.0 612.4,308.0 613.4,294.4 614.3,287.6 615.2,293.0 616.1,298.1 617.3,293.0 618.4,288.8 619.5,294.0 620.5,298.1 621.5,294.0 622.6,290.7 623.7,295.5 624.8,299.4 626.7,300.6 628.0,304.5 629.2,308.1 631.0,309.9 633.5,315.5 637.2,322.9 642.2,329.8 647.1,334.7 650.0,337.0" fill="none" stroke="#9b9b9b" stroke-width="1.5" stroke-linejoin="round"/>
<polyline points="399.0,372.7 399.0,286.0" fill="none" stroke="#6f8cc0" stroke-width="1.4" opacity="0.9"/>
<line x1="628.3" y1="225.9" x2="647.8" y2="225.9" stroke="#2a6dbd" stroke-width="1.6"/>
<text x="649.6" y="230.3" font-size="13.3" fill="#262626" stroke="#262626" stroke-width="0.3">T1.8</text>
<line x1="628.3" y1="246.3" x2="647.8" y2="246.3" stroke="#ee7b30" stroke-width="1.6"/>
<text x="649.6" y="250.7" font-size="13.3" fill="#262626" stroke="#262626" stroke-width="0.3">S1.45</text>
<line x1="628.3" y1="266.6" x2="647.8" y2="266.6" stroke="#9b9b9b" stroke-width="1.6"/>
<text x="649.6" y="271.0" font-size="13.3" fill="#262626" stroke="#262626" stroke-width="0.3">P1.31</text>
</g>
</svg>
</body></html>
